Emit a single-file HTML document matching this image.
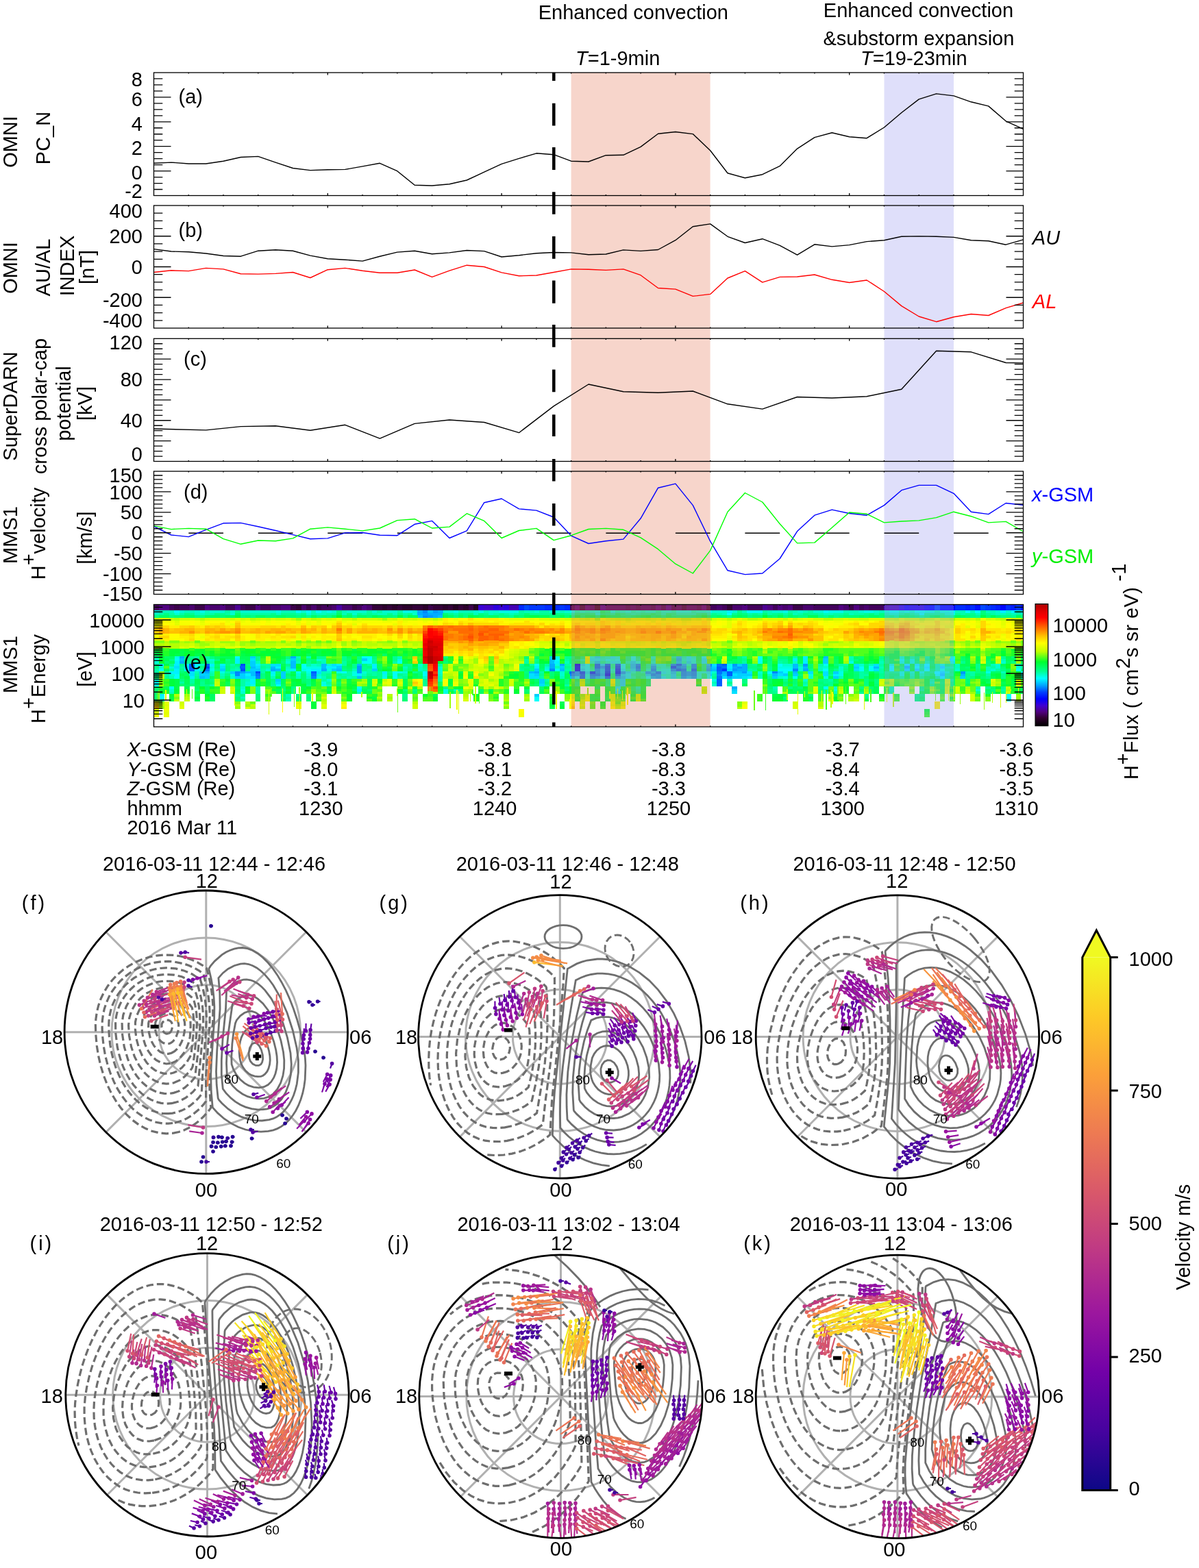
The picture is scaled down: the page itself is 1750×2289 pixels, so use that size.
<!DOCTYPE html><html><head><meta charset="utf-8"><style>html,body{margin:0;padding:0;background:#fff}svg{display:block}text{font-family:"Liberation Sans",Arial,sans-serif}</style></head><body>
<svg width="1750" height="2289" viewBox="0 0 1750 2289" font-family="Liberation Sans, Arial, sans-serif">
<rect width="1750" height="2289" fill="#fff"/>
<rect x="833.6" y="106.0" width="203.0" height="955.0" fill="#f7d5cb"/>
<rect x="1290.5" y="106.0" width="101.5" height="955.0" fill="#dfdffa"/>
<g shape-rendering="crispEdges">
<path stroke="#42005c" stroke-width="8.8" d="M224.5 886.8h7.8M246.7 886.8h7.8M261.5 886.8h15.2M328.1 886.8h15.2M350.3 886.8h7.8M379.9 886.8h15.2M468.7 886.8h15.2M520.5 886.8h7.8M831.3 886.8h2.7M1036.6 886.8h9.7M1053.3 886.8h7.8M1090.3 886.8h22.6M1127.3 886.8h7.8M1186.5 886.8h37.4M1253.1 886.8h7.8M1267.9 886.8h22.6"/>
<path stroke="#500080" stroke-width="8.8" d="M231.9 886.8h15.2M298.5 886.8h7.8M320.7 886.8h7.8M372.5 886.8h7.8M409.5 886.8h15.2M527.9 886.8h7.8M1082.9 886.8h7.8M1119.9 886.8h7.8M1134.7 886.8h7.8M1149.5 886.8h7.8M1223.5 886.8h7.8M1245.7 886.8h7.8"/>
<path stroke="#3b004b" stroke-width="8.8" d="M254.1 886.8h7.8M283.7 886.8h15.2M357.7 886.8h15.2M424.3 886.8h7.8M446.5 886.8h7.8M461.3 886.8h7.8M513.1 886.8h7.8M624.1 886.8h7.8M683.3 886.8h7.8M1156.9 886.8h15.2M1238.3 886.8h7.8"/>
<path stroke="#49006e" stroke-width="8.8" d="M276.3 886.8h7.8M305.9 886.8h15.2M394.7 886.8h15.2M439.1 886.8h7.8M453.9 886.8h7.8M483.5 886.8h7.8M498.3 886.8h15.2M535.3 886.8h7.8M1045.9 886.8h7.8M1068.1 886.8h15.2M1142.1 886.8h7.8M1171.7 886.8h15.2M1230.9 886.8h7.8M1260.5 886.8h7.8"/>
<path stroke="#4c0092" stroke-width="8.8" d="M342.9 886.8h7.8M1112.5 886.8h7.8"/>
<path stroke="#340039" stroke-width="8.8" d="M431.7 886.8h7.8M542.7 886.8h15.2M564.9 886.8h7.8M579.7 886.8h7.8M601.9 886.8h15.2M631.5 886.8h15.2M653.7 886.8h7.8M668.5 886.8h7.8M1060.7 886.8h7.8"/>
<path stroke="#4900a4" stroke-width="8.8" d="M490.9 886.8h7.8"/>
<path stroke="#2c002c" stroke-width="8.8" d="M557.5 886.8h7.8M572.3 886.8h7.8M587.1 886.8h15.2M616.7 886.8h7.8M646.3 886.8h7.8M675.9 886.8h7.8"/>
<path stroke="#250025" stroke-width="8.8" d="M661.1 886.8h7.8M690.7 886.8h7.8"/>
<path stroke="#3a00d5" stroke-width="8.8" d="M698.1 886.8h7.8M727.7 886.8h7.8"/>
<path stroke="#4200c7" stroke-width="8.8" d="M705.5 886.8h15.2"/>
<path stroke="#2d00de" stroke-width="8.8" d="M720.3 886.8h7.8M735.1 886.8h7.8"/>
<path stroke="#4500b5" stroke-width="8.8" d="M742.5 886.8h15.2M1290.1 886.8h.8"/>
<path stroke="#002dff" stroke-width="8.8" d="M757.3 886.8h7.8M794.3 886.8h22.6M823.9 886.8h7.8M1393.7 886.8h15.2M1415.9 886.8h7.8M1445.5 886.8h7.8M1467.7 886.8h7.8"/>
<path stroke="#004aff" stroke-width="8.8" d="M764.7 886.8h7.8M1430.7 886.8h7.8"/>
<path stroke="#004aff" stroke-width="4" d="M350.3 970.5h7.8M350.3 978h7.8M372.5 981.6h7.8"/>
<path stroke="#003aff" stroke-width="8.8" d="M772.1 886.8h22.6M816.5 886.8h7.8M1438.1 886.8h7.8M1482.5 886.8h7.8"/>
<path stroke="#003aff" stroke-width="4" d="M298.5 974.2h7.8M1053.3 978h7.8"/>
<path stroke="#712258" stroke-width="8.8" d="M833.6 886.8h5.5M912.7 886.8h7.8M927.5 886.8h7.8M949.7 886.8h7.8M964.5 886.8h7.8M979.3 886.8h7.8M1016.3 886.8h7.8"/>
<path stroke="#7b2272" stroke-width="8.8" d="M838.7 886.8h7.8M853.5 886.8h7.8M957.1 886.8h7.8M1023.7 886.8h7.8"/>
<path stroke="#6c224c" stroke-width="8.8" d="M846.1 886.8h7.8M994.1 886.8h7.8M1031.1 886.8h5.9"/>
<path stroke="#762265" stroke-width="8.8" d="M860.9 886.8h7.8M883.1 886.8h30M920.1 886.8h7.8M934.9 886.8h15.2M986.7 886.8h7.8M1001.5 886.8h15.2"/>
<path stroke="#682240" stroke-width="8.8" d="M868.3 886.8h7.8"/>
<path stroke="#78227e" stroke-width="8.8" d="M875.7 886.8h7.8M971.9 886.8h7.8"/>
<path stroke="#602eba" stroke-width="8.8" d="M1290.5 886.8h7.4"/>
<path stroke="#5d2ec6" stroke-width="8.8" d="M1297.5 886.8h15.2"/>
<path stroke="#4c2ee3" stroke-width="8.8" d="M1312.3 886.8h7.8M1341.9 886.8h7.8"/>
<path stroke="#3a2ef0" stroke-width="8.8" d="M1319.7 886.8h7.8M1349.3 886.8h7.8"/>
<path stroke="#432ee9" stroke-width="8.8" d="M1327.1 886.8h15.2"/>
<path stroke="#2c32fa" stroke-width="8.8" d="M1356.7 886.8h7.8M1371.5 886.8h15.2"/>
<path stroke="#2c56fa" stroke-width="8.8" d="M1364.1 886.8h7.8"/>
<path stroke="#312ef6" stroke-width="8.8" d="M1386.3 886.8h6.1"/>
<path stroke="#0600fa" stroke-width="8.8" d="M1392 886.8h2.1"/>
<path stroke="#0020ff" stroke-width="8.8" d="M1408.5 886.8h7.8M1452.9 886.8h7.8M1475.1 886.8h7.8"/>
<path stroke="#0013ff" stroke-width="8.8" d="M1423.3 886.8h7.8M1489.9 886.8h4"/>
<path stroke="#0006ff" stroke-width="8.8" d="M1460.3 886.8h7.8"/>
<path stroke="#00ffe5" stroke-width="4" d="M224.5 892.9h7.8M291.1 892.9h7.8M402.1 892.9h7.8M476.1 892.9h7.8M587.1 892.9h15.2M661.1 892.9h7.8M698.1 892.9h7.8M727.7 892.9h30M831.3 892.9h2.7M1036.6 892.9h2.3M1142.1 892.9h7.8M1208.7 892.9h22.6M1260.5 892.9h15.2M1290.1 892.9h.8M1489.9 892.9h4M1392 896.5h2.1M254.1 959.5h7.8M809.1 959.5h7.8M579.7 963.1h7.8M1392 963.1h2.1M1238.3 966.9h7.8M809.1 970.5h7.8M446.5 974.2h22.6M1134.7 974.2h22.6M305.9 978h7.8M439.1 978h7.8M476.1 978h7.8M794.3 978h7.8M320.7 981.6h7.8M446.5 981.6h7.8M490.9 981.6h7.8M513.1 981.6h7.8M579.7 981.6h7.8M1223.5 981.6h7.8M1438.1 981.6h7.8M335.5 985.4h7.8M394.7 985.4h7.8M513.1 985.4h7.8M557.5 985.4h7.8M1179.1 985.4h7.8M1223.5 985.4h7.8M1489.9 985.4h4M461.3 989h7.8M557.5 989h7.8M1142.1 989h7.8M1201.3 989h7.8M224.5 992.8h7.8M1038.5 992.8h7.8M468.7 996.5h7.8M224.5 1000.1h7.8M365.1 1000.1h7.8M468.7 1000.1h7.8M350.3 1007.5h7.8M646.3 1007.5h7.8M1216.1 1007.5h7.8M646.3 1011.2h7.8"/>
<path stroke="#00ffba" stroke-width="4" d="M231.9 892.9h22.6M268.9 892.9h15.2M298.5 892.9h7.8M409.5 892.9h22.6M453.9 892.9h7.8M498.3 892.9h7.8M668.5 892.9h22.6M705.5 892.9h7.8M764.7 892.9h15.2M816.5 892.9h7.8M1082.9 892.9h7.8M1119.9 892.9h7.8M1156.9 892.9h7.8M1171.7 892.9h7.8M1230.9 892.9h22.6M1282.7 892.9h7.8M1393.7 892.9h15.2M1415.9 892.9h7.8M1438.1 892.9h15.2M1482.5 892.9h7.8M224.5 896.5h7.8M283.7 896.5h15.2M402.1 896.5h7.8M461.3 896.5h15.2M498.3 896.5h7.8M550.1 896.5h15.2M572.3 896.5h7.8M690.7 896.5h7.8M712.9 896.5h7.8M742.5 896.5h7.8M1053.3 896.5h7.8M1156.9 896.5h7.8M1201.3 896.5h15.2M1238.3 896.5h7.8M1423.3 896.5h7.8M1452.9 896.5h15.2M1475.1 896.5h7.8M1489.9 896.5h4M431.7 959.5h7.8M446.5 959.5h7.8M579.7 959.5h7.8M1238.3 959.5h7.8M298.5 963.1h7.8M416.9 963.1h7.8M468.7 963.1h7.8M1238.3 963.1h7.8M1460.3 963.1h7.8M283.7 966.9h7.8M305.9 966.9h7.8M372.5 966.9h7.8M431.7 966.9h7.8M468.7 966.9h7.8M823.9 966.9h7.8M1282.7 966.9h7.8M291.1 970.5h7.8M461.3 970.5h7.8M831.3 970.5h2.7M1267.9 970.5h7.8M1393.7 970.5h7.8M1445.5 970.5h7.8M416.9 974.2h7.8M587.1 974.2h7.8M609.3 974.2h7.8M809.1 974.2h7.8M1193.9 974.2h7.8M1282.7 974.2h7.8M1393.7 974.2h7.8M1438.1 974.2h7.8M342.9 978h7.8M513.1 978h7.8M609.3 978h7.8M831.3 978h2.7M1193.9 978h7.8M1438.1 978h7.8M283.7 981.6h7.8M305.9 981.6h7.8M468.7 981.6h15.2M1460.3 981.6h7.8M320.7 985.4h7.8M527.9 985.4h7.8M638.9 985.4h7.8M1105.1 985.4h7.8M1119.9 985.4h7.8M246.7 989h7.8M394.7 989h7.8M431.7 989h7.8M446.5 989h7.8M468.7 989h7.8M505.7 989h7.8M816.5 989h7.8M1105.1 989h7.8M1223.5 989h7.8M357.7 992.8h7.8M1038.5 996.5h7.8M476.1 1000.1h7.8M1060.7 1000.1h7.8M1171.7 1000.1h7.8M1127.3 1003.9h7.8M661.1 1007.5h7.8M246.7 1011.2h7.8M520.5 1011.2h7.8M1201.3 1011.2h7.8M1216.1 1011.2h7.8M416.9 1015h7.8M350.3 1018.6h7.8M416.9 1022.4h7.8"/>
<path stroke="#00fffa" stroke-width="4" d="M254.1 892.9h7.8M431.7 892.9h7.8M446.5 892.9h7.8M461.3 892.9h7.8M1090.3 892.9h22.6M1201.3 892.9h7.8M1408.5 892.9h7.8M1423.3 892.9h7.8M1475.1 892.9h7.8M1060.7 896.5h7.8M342.9 959.5h7.8M527.9 959.5h15.2M1105.1 959.5h7.8M1392 959.5h2.1M254.1 963.1h7.8M535.3 963.1h7.8M809.1 963.1h7.8M1105.1 963.1h7.8M527.9 966.9h15.2M579.7 966.9h7.8M1105.1 966.9h7.8M283.7 970.5h7.8M439.1 970.5h7.8M779.5 970.5h7.8M1134.7 970.5h7.8M1201.3 970.5h7.8M283.7 974.2h7.8M439.1 974.2h7.8M1253.1 974.2h7.8M1267.9 974.2h7.8M231.9 978h7.8M446.5 978h7.8M809.1 978h7.8M1134.7 978h22.6M1201.3 978h7.8M1253.1 978h7.8M1267.9 978h7.8M1482.5 978h7.8M431.7 981.6h7.8M498.3 981.6h7.8M572.3 981.6h7.8M616.7 981.6h7.8M1119.9 981.6h7.8M1142.1 981.6h7.8M1489.9 981.6h4M254.1 985.4h7.8M572.3 985.4h7.8M616.7 985.4h7.8M254.1 989h7.8M572.3 989h7.8M1036.6 989h2.3M1156.9 989h7.8M224.5 996.5h7.8M402.1 1000.1h7.8M246.7 1003.9h7.8M520.5 1003.9h7.8M1201.3 1003.9h7.8M1467.7 1015h7.8M231.9 1018.6h7.8M779.5 1018.6h7.8M1467.7 1018.6h7.8M779.5 1022.4h7.8M1467.7 1022.4h7.8"/>
<path stroke="#00ffcf" stroke-width="4" d="M261.5 892.9h7.8M283.7 892.9h7.8M305.9 892.9h22.6M335.5 892.9h7.8M350.3 892.9h52.2M439.1 892.9h7.8M468.7 892.9h7.8M483.5 892.9h7.8M505.7 892.9h30M542.7 892.9h7.8M557.5 892.9h22.6M601.9 892.9h7.8M646.3 892.9h15.2M690.7 892.9h7.8M712.9 892.9h15.2M779.5 892.9h7.8M801.7 892.9h15.2M823.9 892.9h7.8M1038.5 892.9h22.6M1068.1 892.9h7.8M1127.3 892.9h15.2M1164.3 892.9h7.8M1186.5 892.9h15.2M1253.1 892.9h7.8M1275.3 892.9h7.8M1452.9 892.9h7.8M1467.7 892.9h7.8M254.1 896.5h7.8M335.5 896.5h7.8M446.5 896.5h7.8M513.1 896.5h7.8M601.9 896.5h7.8M224.5 963.1h7.8M305.9 963.1h7.8M461.3 963.1h7.8M224.5 966.9h7.8M416.9 966.9h7.8M1156.9 966.9h7.8M1460.3 966.9h7.8M453.9 970.5h7.8M476.1 970.5h7.8M609.3 970.5h7.8M1142.1 970.5h15.2M1253.1 970.5h7.8M1452.9 970.5h7.8M1482.5 970.5h7.8M231.9 974.2h7.8M246.7 974.2h7.8M305.9 974.2h7.8M638.9 974.2h7.8M794.3 974.2h7.8M1164.3 974.2h7.8M1201.3 974.2h7.8M1223.5 974.2h7.8M1452.9 974.2h7.8M1482.5 974.2h7.8M387.3 978h7.8M416.9 978h7.8M638.9 978h7.8M1164.3 978h7.8M1223.5 978h7.8M1393.7 978h7.8M1445.5 978h7.8M527.9 981.6h7.8M587.1 981.6h7.8M638.9 981.6h7.8M816.5 981.6h7.8M1038.5 981.6h7.8M1105.1 981.6h7.8M246.7 985.4h7.8M431.7 985.4h7.8M446.5 985.4h7.8M461.3 985.4h7.8M816.5 985.4h7.8M335.5 989h7.8M616.7 989h7.8M1134.7 989h7.8M1179.1 989h7.8M476.1 992.8h7.8M1060.7 992.8h7.8M1171.7 992.8h7.8M357.7 996.5h7.8M357.7 1000.1h7.8M1038.5 1000.1h7.8M350.3 1003.9h7.8M1216.1 1003.9h7.8M246.7 1007.5h7.8M1423.3 1007.5h7.8M350.3 1011.2h7.8M231.9 1022.4h7.8"/>
<path stroke="#00ffa5" stroke-width="4" d="M328.1 892.9h7.8M535.3 892.9h7.8M550.1 892.9h7.8M579.7 892.9h7.8M757.3 892.9h7.8M786.9 892.9h15.2M1112.5 892.9h7.8M1149.5 892.9h7.8M1179.1 892.9h7.8M231.9 896.5h7.8M246.7 896.5h7.8M261.5 896.5h7.8M298.5 896.5h15.2M328.1 896.5h7.8M350.3 896.5h44.8M431.7 896.5h7.8M453.9 896.5h7.8M476.1 896.5h15.2M527.9 896.5h7.8M542.7 896.5h7.8M587.1 896.5h7.8M661.1 896.5h7.8M720.3 896.5h7.8M735.1 896.5h7.8M749.9 896.5h7.8M831.3 896.5h2.7M1036.6 896.5h2.3M1045.9 896.5h7.8M1090.3 896.5h7.8M1105.1 896.5h7.8M1119.9 896.5h7.8M1142.1 896.5h7.8M1164.3 896.5h7.8M1193.9 896.5h7.8M1216.1 896.5h15.2M1245.7 896.5h15.2M1275.3 896.5h7.8M1290.1 896.5h.8M1401.1 896.5h7.8M1445.5 896.5h7.8M1467.7 896.5h7.8M1482.5 896.5h7.8M224.5 959.5h7.8M283.7 959.5h7.8M298.5 959.5h7.8M1082.9 959.5h7.8M1156.9 959.5h7.8M431.7 963.1h7.8M764.7 963.1h7.8M823.9 963.1h7.8M1282.7 963.1h7.8M276.3 966.9h7.8M498.3 966.9h7.8M572.3 966.9h7.8M764.7 966.9h7.8M1082.9 966.9h7.8M1134.7 966.9h7.8M224.5 970.5h7.8M335.5 970.5h7.8M379.9 970.5h15.2M446.5 970.5h7.8M498.3 970.5h7.8M535.3 970.5h7.8M638.9 970.5h7.8M772.1 970.5h7.8M794.3 970.5h7.8M823.9 970.5h7.8M1164.3 970.5h7.8M1193.9 970.5h7.8M1223.5 970.5h15.2M1282.7 970.5h7.8M261.5 974.2h7.8M342.9 974.2h7.8M387.3 974.2h7.8M831.3 974.2h2.7M1445.5 974.2h7.8M1489.9 974.2h4M224.5 978h7.8M246.7 978h7.8M291.1 978h7.8M335.5 978h7.8M379.9 978h7.8M535.3 978h7.8M587.1 978h7.8M616.7 978h7.8M823.9 978h7.8M1090.3 978h7.8M1282.7 978h7.8M1452.9 978h7.8M224.5 981.6h7.8M239.3 981.6h7.8M328.1 981.6h7.8M379.9 981.6h7.8M416.9 981.6h7.8M505.7 981.6h7.8M535.3 981.6h15.2M786.9 981.6h7.8M1253.1 981.6h7.8M1282.7 981.6h7.8M1408.5 981.6h15.2M224.5 985.4h7.8M239.3 985.4h7.8M283.7 985.4h7.8M305.9 985.4h7.8M468.7 985.4h7.8M498.3 985.4h15.2M542.7 985.4h7.8M587.1 985.4h7.8M1038.5 985.4h7.8M1253.1 985.4h15.2M1415.9 985.4h7.8M1438.1 985.4h7.8M320.7 989h7.8M490.9 989h7.8M513.1 989h7.8M579.7 989h7.8M638.9 989h7.8M786.9 989h7.8M1253.1 989h7.8M1489.9 989h4M276.3 992.8h7.8M350.3 992.8h7.8M468.7 992.8h7.8M638.9 992.8h7.8M794.3 992.8h7.8M1208.7 992.8h7.8M261.5 996.5h7.8M276.3 996.5h7.8M350.3 996.5h7.8M476.1 996.5h7.8M1171.7 996.5h7.8M305.9 1000.1h7.8M350.3 1000.1h7.8M794.3 1000.1h7.8M823.9 1000.1h7.8M372.5 1003.9h7.8M1423.3 1003.9h7.8M372.5 1007.5h7.8M1127.3 1007.5h7.8M1201.3 1007.5h7.8M1460.3 1007.5h7.8M372.5 1011.2h7.8M416.9 1018.6h7.8"/>
<path stroke="#00ff90" stroke-width="4" d="M342.9 892.9h7.8M1075.5 892.9h7.8M276.3 896.5h7.8M320.7 896.5h7.8M394.7 896.5h7.8M409.5 896.5h22.6M439.1 896.5h7.8M520.5 896.5h7.8M535.3 896.5h7.8M564.9 896.5h7.8M594.5 896.5h7.8M653.7 896.5h7.8M675.9 896.5h7.8M705.5 896.5h7.8M727.7 896.5h7.8M757.3 896.5h7.8M772.1 896.5h37.4M823.9 896.5h7.8M1038.5 896.5h7.8M1068.1 896.5h7.8M1097.7 896.5h7.8M1127.3 896.5h7.8M1179.1 896.5h15.2M1230.9 896.5h7.8M1260.5 896.5h7.8M1393.7 896.5h7.8M1408.5 896.5h15.2M1438.1 896.5h7.8M446.5 900.2h7.8M513.1 900.2h7.8M742.5 900.2h7.8M1060.7 900.2h7.8M1201.3 900.2h7.8M1216.1 900.2h7.8M1423.3 900.2h7.8M1475.1 900.2h7.8M276.3 959.5h7.8M372.5 959.5h7.8M461.3 959.5h15.2M498.3 959.5h7.8M572.3 959.5h7.8M823.9 959.5h10.1M1282.7 959.5h7.8M1460.3 959.5h7.8M283.7 963.1h7.8M372.5 963.1h7.8M498.3 963.1h7.8M520.5 963.1h7.8M542.7 963.1h7.8M572.3 963.1h7.8M779.5 963.1h7.8M1082.9 963.1h7.8M1134.7 963.1h15.2M268.9 966.9h7.8M298.5 966.9h7.8M446.5 966.9h7.8M461.3 966.9h7.8M542.7 966.9h7.8M1142.1 966.9h7.8M1401.1 966.9h7.8M246.7 970.5h7.8M261.5 970.5h7.8M416.9 970.5h7.8M513.1 970.5h7.8M587.1 970.5h15.2M757.3 970.5h7.8M1097.7 970.5h7.8M1423.3 970.5h7.8M335.5 974.2h7.8M379.9 974.2h7.8M513.1 974.2h7.8M527.9 974.2h7.8M616.7 974.2h7.8M823.9 974.2h7.8M1119.9 974.2h7.8M1230.9 974.2h7.8M1392 974.2h2.1M1423.3 974.2h7.8M261.5 978h7.8M527.9 978h7.8M757.3 978h7.8M772.1 978h7.8M1097.7 978h7.8M1119.9 978h7.8M1179.1 978h7.8M1216.1 978h7.8M1392 978h2.1M439.1 981.6h7.8M550.1 981.6h7.8M601.9 981.6h7.8M1260.5 981.6h7.8M476.1 985.4h7.8M490.9 985.4h7.8M535.3 985.4h7.8M550.1 985.4h7.8M579.7 985.4h7.8M786.9 985.4h7.8M1208.7 985.4h7.8M1282.7 985.4h7.8M1408.5 985.4h7.8M1460.3 985.4h7.8M239.3 989h7.8M283.7 989h7.8M498.3 989h7.8M527.9 989h7.8M550.1 989h7.8M587.1 989h7.8M1038.5 989h7.8M1119.9 989h7.8M1282.7 989h7.8M1408.5 989h7.8M1438.1 989h7.8M1460.3 989h7.8M616.7 992.8h7.8M1142.1 992.8h7.8M1201.3 992.8h7.8M291.1 996.5h7.8M394.7 996.5h7.8M616.7 996.5h7.8M1060.7 996.5h7.8M1201.3 996.5h15.2M291.1 1000.1h7.8M394.7 1000.1h7.8M446.5 1000.1h7.8M616.7 1000.1h7.8M1208.7 1000.1h7.8M1438.1 1003.9h7.8M1460.3 1003.9h7.8M1127.3 1011.2h7.8M1253.1 1011.2h7.8M1423.3 1011.2h7.8M1460.3 1011.2h7.8M342.9 1015h7.8M587.1 1015h7.8M1260.5 1015h7.8M350.3 1022.4h7.8"/>
<path stroke="#00ff82" stroke-width="4" d="M490.9 892.9h7.8M1430.7 892.9h7.8M239.3 896.5h7.8M268.9 896.5h7.8M313.3 896.5h7.8M505.7 896.5h7.8M579.7 896.5h7.8M668.5 896.5h7.8M683.3 896.5h7.8M698.1 896.5h7.8M809.1 896.5h15.2M1082.9 896.5h7.8M1134.7 896.5h7.8M1149.5 896.5h7.8M1171.7 896.5h7.8M1267.9 896.5h7.8M1282.7 896.5h7.8M224.5 900.2h7.8M246.7 900.2h7.8M283.7 900.2h15.2M350.3 900.2h7.8M365.1 900.2h7.8M431.7 900.2h7.8M461.3 900.2h7.8M476.1 900.2h7.8M572.3 900.2h7.8M587.1 900.2h7.8M661.1 900.2h7.8M675.9 900.2h7.8M727.7 900.2h15.2M1090.3 900.2h7.8M1142.1 900.2h7.8M1164.3 900.2h15.2M1193.9 900.2h7.8M1223.5 900.2h7.8M1392 900.2h2.1M1415.9 900.2h7.8M1460.3 900.2h15.2M1489.9 900.2h4M268.9 959.5h7.8M305.9 959.5h7.8M416.9 959.5h7.8M520.5 959.5h7.8M542.7 959.5h7.8M646.3 959.5h7.8M246.7 963.1h7.8M268.9 963.1h15.2M313.3 963.1h7.8M328.1 963.1h7.8M446.5 963.1h7.8M831.3 963.1h2.7M1245.7 963.1h7.8M520.5 966.9h7.8M779.5 966.9h7.8M831.3 966.9h2.7M1119.9 966.9h7.8M1475.1 966.9h7.8M328.1 970.5h7.8M342.9 970.5h7.8M357.7 970.5h7.8M527.9 970.5h7.8M616.7 970.5h7.8M1090.3 970.5h7.8M1119.9 970.5h7.8M1216.1 970.5h7.8M1260.5 970.5h7.8M1392 970.5h2.1M1489.9 970.5h4M224.5 974.2h7.8M291.1 974.2h7.8M535.3 974.2h7.8M594.5 974.2h7.8M757.3 974.2h22.6M1090.3 974.2h15.2M313.3 978h7.8M357.7 978h7.8M498.3 978h7.8M1230.9 978h7.8M1260.5 978h7.8M1423.3 978h7.8M1460.3 978h7.8M564.9 981.6h7.8M609.3 981.6h7.8M764.7 981.6h7.8M801.7 981.6h7.8M1245.7 981.6h7.8M1275.3 981.6h7.8M1423.3 981.6h7.8M328.1 985.4h7.8M379.9 985.4h7.8M1164.3 985.4h7.8M1290.1 985.4h.8M224.5 989h7.8M379.9 989h7.8M416.9 989h7.8M476.1 989h7.8M1415.9 989h7.8M261.5 992.8h7.8M291.1 992.8h7.8M305.9 992.8h7.8M394.7 992.8h7.8M446.5 992.8h7.8M823.9 992.8h7.8M1082.9 992.8h7.8M1193.9 992.8h7.8M1260.5 992.8h7.8M1275.3 992.8h7.8M446.5 996.5h7.8M794.3 996.5h7.8M823.9 996.5h7.8M1082.9 996.5h7.8M1260.5 996.5h7.8M1275.3 996.5h7.8M276.3 1000.1h7.8M298.5 1000.1h7.8M1142.1 1000.1h7.8M1156.9 1000.1h7.8M1193.9 1000.1h7.8M1260.5 1000.1h7.8M424.3 1003.9h7.8M646.3 1003.9h7.8M1149.5 1003.9h7.8M1253.1 1003.9h7.8M409.5 1007.5h7.8M424.3 1007.5h7.8M587.1 1007.5h7.8M601.9 1007.5h7.8M1119.9 1007.5h7.8M1445.5 1007.5h7.8M424.3 1011.2h7.8M661.1 1011.2h7.8M1119.9 1011.2h7.8M1267.9 1011.2h7.8M350.3 1015h7.8M431.7 1015h7.8M446.5 1015h7.8M409.5 1018.6h7.8M587.1 1018.6h7.8M1142.1 1018.6h7.8M1260.5 1018.6h7.8M224.5 1022.4h7.8"/>
<path stroke="#00adff" stroke-width="4" d="M609.3 892.9h7.8M638.9 892.9h7.8M609.3 896.5h7.8M624.1 896.5h22.6M631.5 900.2h7.8M261.5 959.5h7.8M424.3 959.5h7.8M261.5 966.9h7.8M801.7 970.5h7.8M816.5 970.5h7.8M1082.9 970.5h7.8M801.7 974.2h7.8M1036.6 974.2h2.3M1068.1 974.2h7.8M1082.9 974.2h7.8M394.7 978h7.8M468.7 978h7.8M1036.6 978h2.3M1075.5 978h15.2M1171.7 978h7.8M298.5 981.6h7.8M779.5 981.6h7.8M1053.3 981.6h7.8M1060.7 989h7.8M1068.1 1003.9h7.8"/>
<path stroke="#0087ff" stroke-width="4" d="M616.7 892.9h7.8M616.7 900.2h7.8M1036.6 970.5h2.3M801.7 978h7.8M1156.9 978h7.8M342.9 981.6h7.8M1127.3 981.6h7.8M342.9 985.4h7.8M831.3 985.4h2.7M1045.9 985.4h7.8M372.5 989h7.8M453.9 989h7.8"/>
<path stroke="#00beff" stroke-width="4" d="M624.1 892.9h7.8M609.3 900.2h7.8M638.9 900.2h7.8M1201.3 959.5h7.8M261.5 963.1h7.8M801.7 963.1h7.8M424.3 966.9h7.8M801.7 966.9h7.8M424.3 970.5h7.8M468.7 970.5h7.8M520.5 970.5h7.8M1156.9 970.5h7.8M365.1 974.2h7.8M394.7 974.2h7.8M424.3 974.2h7.8M468.7 974.2h7.8M1156.9 974.2h7.8M1171.7 974.2h7.8M1275.3 974.2h7.8M402.1 978h7.8M490.9 978h7.8M816.5 978h7.8M1038.5 978h7.8M291.1 981.6h7.8M357.7 981.6h15.2M772.1 981.6h7.8M1068.1 981.6h15.2M1156.9 981.6h7.8M365.1 985.4h7.8M1053.3 985.4h7.8M1127.3 985.4h7.8M1401.1 985.4h7.8M291.1 989h7.8M520.5 989h7.8M831.3 989h2.7"/>
<path stroke="#009bff" stroke-width="4" d="M631.5 892.9h7.8M616.7 896.5h7.8M624.1 900.2h7.8M1068.1 970.5h7.8M1171.7 970.5h7.8M520.5 974.2h7.8M1075.5 974.2h7.8M520.5 978h7.8M1068.1 978h7.8M350.3 981.6h7.8M520.5 981.6h7.8M1082.9 981.6h7.8M1401.1 981.6h7.8"/>
<path stroke="#43d4c7" stroke-width="4" d="M833.6 892.9h5.5M920.1 959.5h7.8M1023.7 959.5h7.8M883.1 963.1h7.8M897.9 963.1h7.8M920.1 963.1h7.8M853.5 970.5h7.8M905.3 970.5h7.8M853.5 974.2h7.8M905.3 974.2h7.8M853.5 978h7.8M1031.1 985.4h5.9M942.3 989h7.8M1031.1 989h5.9"/>
<path stroke="#43d49a" stroke-width="4" d="M838.7 892.9h7.8M853.5 892.9h7.8M897.9 892.9h7.8M920.1 892.9h7.8M934.9 892.9h7.8M979.3 892.9h7.8M1008.9 892.9h7.8M833.6 896.5h5.5M920.1 896.5h7.8M964.5 896.5h7.8M986.7 896.5h30M1031.1 896.5h5.9M875.7 959.5h7.8M994.1 959.5h7.8M846.1 963.1h7.8M949.7 963.1h7.8M912.7 966.9h7.8M994.1 966.9h7.8M957.1 974.2h7.8M971.9 974.2h7.8M1001.5 978h7.8M890.5 981.6h7.8M934.9 981.6h7.8M920.1 989h7.8M986.7 989h7.8M927.5 1003.9h7.8"/>
<path stroke="#43d4a9" stroke-width="4" d="M846.1 892.9h7.8M860.9 892.9h7.8M905.3 892.9h7.8M927.5 892.9h7.8M942.3 892.9h15.2M964.5 892.9h15.2M1016.3 892.9h15.2M883.1 959.5h7.8M949.7 959.5h7.8M1008.9 959.5h7.8M875.7 963.1h7.8M994.1 963.1h7.8M860.9 966.9h7.8M883.1 966.9h7.8M949.7 966.9h7.8M957.1 970.5h15.2M1001.5 970.5h7.8M964.5 974.2h7.8M890.5 978h7.8M942.3 978h7.8M957.1 978h7.8M920.1 981.6h7.8M964.5 985.4h15.2M971.9 989h7.8"/>
<path stroke="#43d4b8" stroke-width="4" d="M868.3 892.9h7.8M890.5 892.9h7.8M912.7 892.9h7.8M986.7 892.9h22.6M1031.1 892.9h5.9M868.3 896.5h7.8M860.9 959.5h7.8M897.9 959.5h7.8M890.5 963.1h7.8M1008.9 963.1h7.8M927.5 966.9h7.8M1008.9 966.9h7.8M964.5 978h15.2M971.9 981.6h7.8M1016.3 981.6h15.2M853.5 985.4h7.8M1016.3 985.4h7.8M853.5 989h7.8M1016.3 989h7.8M897.9 1007.5h7.8"/>
<path stroke="#43d469" stroke-width="4" d="M875.7 892.9h7.8M897.9 896.5h7.8M949.7 896.5h7.8M846.1 900.2h7.8M905.3 900.2h7.8M920.1 900.2h7.8M949.7 900.2h7.8M979.3 900.2h7.8M1008.9 900.2h7.8M1031.1 900.2h5.9M833.6 963.1h5.5M1016.3 966.9h7.8M934.9 978h7.8M942.3 992.8h7.8M942.3 1000.1h7.8M920.1 1003.9h7.8M920.1 1007.5h7.8"/>
<path stroke="#43d47d" stroke-width="4" d="M883.1 892.9h7.8M860.9 896.5h7.8M883.1 896.5h7.8M905.3 896.5h7.8M934.9 896.5h15.2M957.1 896.5h7.8M979.3 896.5h7.8M1016.3 896.5h7.8M833.6 900.2h5.5M912.7 959.5h7.8M927.5 959.5h7.8M912.7 963.1h7.8M846.1 966.9h7.8M912.7 970.5h7.8M971.9 970.5h7.8M1023.7 970.5h7.8M860.9 974.2h7.8M1023.7 974.2h7.8M927.5 981.6h7.8M927.5 985.4h15.2M986.7 985.4h7.8M1023.7 985.4h7.8M1023.7 989h7.8M883.1 1000.1h7.8M927.5 1011.2h7.8"/>
<path stroke="#43d48c" stroke-width="4" d="M957.1 892.9h7.8M890.5 896.5h7.8M912.7 896.5h7.8M927.5 896.5h7.8M979.3 959.5h7.8M927.5 963.1h7.8M875.7 966.9h7.8M890.5 970.5h7.8M942.3 970.5h7.8M833.6 974.2h5.5M890.5 974.2h7.8M942.3 974.2h7.8M1001.5 974.2h7.8M833.6 978h5.5M860.9 978h7.8M912.7 978h7.8M986.7 981.6h7.8M920.1 985.4h7.8M934.9 989h7.8M897.9 992.8h7.8M897.9 996.5h7.8M897.9 1000.1h7.8M927.5 1007.5h7.8"/>
<path stroke="#00f2ff" stroke-width="4" d="M1060.7 892.9h7.8M1392 892.9h2.1M1460.3 892.9h7.8M1171.7 959.5h7.8M342.9 963.1h7.8M1156.9 963.1h7.8M1171.7 963.1h7.8M254.1 966.9h7.8M342.9 966.9h7.8M809.1 966.9h7.8M1171.7 966.9h7.8M231.9 970.5h7.8M254.1 970.5h7.8M268.9 970.5h7.8M305.9 970.5h7.8M320.7 970.5h7.8M372.5 970.5h7.8M490.9 970.5h7.8M542.7 970.5h7.8M1060.7 970.5h7.8M402.1 974.2h7.8M476.1 974.2h15.2M542.7 974.2h7.8M779.5 974.2h7.8M1060.7 974.2h7.8M254.1 978h7.8M268.9 978h7.8M283.7 978h7.8M424.3 978h7.8M453.9 978h15.2M246.7 981.6h15.2M394.7 981.6h7.8M557.5 981.6h7.8M357.7 985.4h7.8M520.5 985.4h7.8M1216.1 985.4h7.8M276.3 989h7.8M1090.3 989h7.8M365.1 992.8h7.8M365.1 996.5h7.8M520.5 1007.5h7.8M231.9 1015h7.8"/>
<path stroke="#2ce0d8" stroke-width="4" d="M1290.5 892.9h7.4M1319.7 892.9h7.8M1349.3 892.9h15.2M1371.5 892.9h15.2M1386.3 896.5h6.1M1386.3 959.5h6.1M1327.1 963.1h7.8M1312.3 966.9h7.8M1327.1 966.9h7.8M1386.3 966.9h6.1M1297.5 970.5h7.8M1371.5 970.5h7.8M1312.3 981.6h7.8M1341.9 981.6h7.8M1312.3 985.4h7.8"/>
<path stroke="#2ce0e8" stroke-width="4" d="M1297.5 892.9h15.2M1334.5 892.9h15.2M1386.3 892.9h6.1M1341.9 896.5h7.8M1312.3 963.1h7.8M1371.5 978h7.8M1364.1 985.4h7.8"/>
<path stroke="#2ce0ca" stroke-width="4" d="M1312.3 892.9h7.8M1327.1 892.9h7.8M1297.5 896.5h15.2M1378.9 896.5h7.8M1312.3 959.5h7.8M1327.1 981.6h7.8M1378.9 981.6h7.8"/>
<path stroke="#2ce0bb" stroke-width="4" d="M1364.1 892.9h7.8M1290.5 896.5h7.4M1334.5 896.5h7.8M1349.3 966.9h7.8M1364.1 970.5h7.8M1364.1 974.2h7.8M1378.9 974.2h13.5M1364.1 978h7.8M1327.1 985.4h7.8M1341.9 985.4h7.8M1356.7 996.5h7.8M1297.5 1003.9h7.8M1297.5 1007.5h7.8"/>
<path stroke="#00ff65" stroke-width="4" d="M342.9 896.5h7.8M490.9 896.5h7.8M231.9 900.2h15.2M268.9 900.2h15.2M298.5 900.2h22.6M328.1 900.2h15.2M372.5 900.2h15.2M402.1 900.2h15.2M453.9 900.2h7.8M483.5 900.2h7.8M505.7 900.2h7.8M520.5 900.2h15.2M550.1 900.2h7.8M601.9 900.2h7.8M653.7 900.2h7.8M668.5 900.2h7.8M698.1 900.2h7.8M712.9 900.2h15.2M749.9 900.2h7.8M809.1 900.2h7.8M1045.9 900.2h7.8M1068.1 900.2h7.8M1082.9 900.2h7.8M1119.9 900.2h7.8M1149.5 900.2h7.8M1253.1 900.2h7.8M1267.9 900.2h15.2M1401.1 900.2h7.8M557.5 955.8h7.8M239.3 959.5h15.2M313.3 959.5h7.8M505.7 959.5h7.8M779.5 959.5h7.8M1245.7 959.5h7.8M1401.1 959.5h7.8M335.5 963.1h7.8M350.3 963.1h7.8M409.5 963.1h7.8M646.3 963.1h7.8M1068.1 963.1h7.8M1216.1 963.1h7.8M1253.1 963.1h7.8M1438.1 963.1h7.8M246.7 966.9h7.8M335.5 966.9h7.8M350.3 966.9h15.2M453.9 966.9h7.8M505.7 966.9h7.8M1068.1 966.9h7.8M1149.5 966.9h7.8M1216.1 966.9h7.8M1245.7 966.9h15.2M1290.1 966.9h.8M1467.7 966.9h7.8M550.1 970.5h7.8M764.7 970.5h7.8M786.9 970.5h7.8M313.3 974.2h7.8M505.7 974.2h7.8M550.1 974.2h7.8M786.9 974.2h7.8M1216.1 974.2h7.8M1401.1 974.2h7.8M1208.7 978h7.8M1401.1 978h15.2M1467.7 978h7.8M268.9 981.6h7.8M1149.5 981.6h7.8M1164.3 981.6h7.8M1230.9 981.6h7.8M1392 981.6h2.1M1445.5 981.6h15.2M268.9 985.4h7.8M402.1 985.4h7.8M1423.3 985.4h15.2M261.5 989h7.8M305.9 989h7.8M328.1 989h7.8M424.3 989h7.8M609.3 989h7.8M801.7 989h7.8M1149.5 989h7.8M1164.3 989h7.8M1290.1 989h.8M1392 989h2.1M298.5 992.8h7.8M1119.9 992.8h7.8M298.5 996.5h7.8M439.1 996.5h7.8M638.9 996.5h7.8M779.5 996.5h7.8M1119.9 996.5h7.8M1216.1 996.5h7.8M1438.1 996.5h7.8M268.9 1000.1h7.8M283.7 1000.1h7.8M409.5 1000.1h7.8M490.9 1000.1h7.8M638.9 1000.1h7.8M772.1 1000.1h7.8M283.7 1003.9h7.8M298.5 1003.9h7.8M342.9 1003.9h7.8M527.9 1003.9h7.8M823.9 1003.9h7.8M1156.9 1003.9h7.8M1445.5 1003.9h7.8M1489.9 1003.9h4M224.5 1007.5h7.8M298.5 1007.5h7.8M513.1 1007.5h7.8M653.7 1007.5h7.8M698.1 1007.5h7.8M786.9 1007.5h7.8M1156.9 1007.5h7.8M1193.9 1007.5h7.8M1253.1 1007.5h7.8M1267.9 1007.5h7.8M1438.1 1007.5h7.8M1489.9 1007.5h4M342.9 1011.2h7.8M409.5 1011.2h7.8M587.1 1011.2h7.8M698.1 1011.2h7.8M764.7 1011.2h7.8M1193.9 1011.2h7.8M1489.9 1011.2h4M305.9 1015h7.8M1216.1 1015h7.8M305.9 1018.6h7.8M431.7 1018.6h7.8M305.9 1022.4h7.8M372.5 1022.4h7.8M409.5 1022.4h7.8M431.7 1022.4h7.8M1142.1 1022.4h7.8"/>
<path stroke="#00ff74" stroke-width="4" d="M646.3 896.5h7.8M764.7 896.5h7.8M1075.5 896.5h7.8M1112.5 896.5h7.8M1430.7 896.5h7.8M254.1 900.2h15.2M320.7 900.2h7.8M357.7 900.2h7.8M387.3 900.2h15.2M416.9 900.2h15.2M439.1 900.2h7.8M468.7 900.2h7.8M498.3 900.2h7.8M535.3 900.2h7.8M557.5 900.2h15.2M705.5 900.2h7.8M757.3 900.2h7.8M801.7 900.2h7.8M823.9 900.2h7.8M1036.6 900.2h9.7M1053.3 900.2h7.8M1097.7 900.2h15.2M1127.3 900.2h7.8M1156.9 900.2h7.8M1208.7 900.2h7.8M1230.9 900.2h22.6M1260.5 900.2h7.8M1282.7 900.2h8.2M1408.5 900.2h7.8M1438.1 900.2h7.8M1452.9 900.2h7.8M764.7 959.5h7.8M1075.5 959.5h7.8M1119.9 959.5h7.8M1134.7 959.5h15.2M1253.1 959.5h7.8M1475.1 959.5h7.8M453.9 963.1h7.8M505.7 963.1h7.8M1075.5 963.1h7.8M1119.9 963.1h7.8M1401.1 963.1h7.8M239.3 966.9h7.8M328.1 966.9h7.8M409.5 966.9h7.8M646.3 966.9h7.8M1060.7 966.9h7.8M1075.5 966.9h7.8M1438.1 966.9h7.8M313.3 970.5h7.8M1179.1 970.5h7.8M1438.1 970.5h7.8M328.1 974.2h7.8M357.7 974.2h7.8M498.3 974.2h7.8M1105.1 974.2h7.8M1179.1 974.2h7.8M1260.5 974.2h7.8M1408.5 974.2h7.8M1460.3 974.2h7.8M328.1 978h7.8M505.7 978h7.8M594.5 978h7.8M764.7 978h7.8M786.9 978h7.8M1489.9 978h4M261.5 981.6h7.8M402.1 981.6h7.8M823.9 981.6h7.8M1208.7 981.6h7.8M1290.1 981.6h.8M1430.7 981.6h7.8M416.9 985.4h7.8M439.1 985.4h7.8M564.9 985.4h7.8M609.3 985.4h7.8M764.7 985.4h7.8M801.7 985.4h7.8M1245.7 985.4h7.8M439.1 989h7.8M535.3 989h15.2M764.7 989h7.8M1245.7 989h7.8M1260.5 989h7.8M1430.7 989h7.8M439.1 992.8h7.8M779.5 992.8h7.8M1156.9 992.8h7.8M1392 992.8h2.1M1408.5 992.8h7.8M305.9 996.5h7.8M490.9 996.5h7.8M1142.1 996.5h7.8M1156.9 996.5h7.8M1193.9 996.5h7.8M1392 996.5h2.1M1408.5 996.5h7.8M261.5 1000.1h7.8M779.5 1000.1h7.8M1201.3 1000.1h7.8M1275.3 1000.1h7.8M1392 1000.1h2.1M224.5 1003.9h7.8M409.5 1003.9h7.8M786.9 1003.9h7.8M1119.9 1003.9h7.8M1164.3 1003.9h7.8M1193.9 1003.9h7.8M1267.9 1003.9h7.8M283.7 1007.5h7.8M535.3 1007.5h7.8M668.5 1007.5h7.8M764.7 1007.5h7.8M823.9 1007.5h7.8M224.5 1011.2h7.8M601.9 1011.2h7.8M668.5 1011.2h7.8M1438.1 1011.2h15.2M224.5 1015h7.8M372.5 1015h7.8M409.5 1015h7.8M1179.1 1015h7.8M224.5 1018.6h7.8M342.9 1018.6h7.8M372.5 1018.6h7.8M446.5 1018.6h7.8M342.9 1022.4h7.8M446.5 1022.4h7.8M587.1 1022.4h7.8"/>
<path stroke="#43d473" stroke-width="4" d="M838.7 896.5h22.6M875.7 896.5h7.8M971.9 896.5h7.8M1023.7 896.5h7.8M868.3 900.2h7.8M912.7 900.2h7.8M964.5 900.2h7.8M986.7 900.2h22.6M833.6 959.5h5.5M846.1 959.5h7.8M838.7 963.1h7.8M979.3 963.1h7.8M833.6 966.9h5.5M979.3 966.9h7.8M833.6 970.5h5.5M912.7 974.2h7.8M1023.7 978h7.8M890.5 985.4h7.8M890.5 989h7.8M927.5 989h7.8M853.5 992.8h7.8M883.1 992.8h7.8M838.7 996.5h7.8M853.5 996.5h7.8M883.1 996.5h7.8M942.3 996.5h7.8M838.7 1000.1h7.8"/>
<path stroke="#2ce0ac" stroke-width="4" d="M1312.3 896.5h7.8M1327.1 896.5h7.8M1349.3 896.5h30M1304.9 900.2h7.8M1341.9 900.2h7.8M1386.3 900.2h6.1M1327.1 959.5h7.8M1349.3 959.5h7.8M1341.9 974.2h7.8M1378.9 978h7.8M1378.9 985.4h7.8M1312.3 989h7.8M1327.1 989h7.8M1364.1 989h7.8M1356.7 992.8h7.8M1386.3 992.8h6.1M1297.5 1011.2h7.8"/>
<path stroke="#2ce099" stroke-width="4" d="M1319.7 896.5h7.8M1297.5 900.2h7.8M1334.5 900.2h7.8M1349.3 900.2h7.8M1371.5 900.2h7.8M1378.9 970.5h7.8M1312.3 974.2h7.8M1349.3 981.6h15.2M1386.3 981.6h6.1M1290.5 985.4h7.4M1349.3 985.4h7.8M1290.5 989h7.4M1304.9 989h7.8M1386.3 996.5h6.1M1386.3 1000.1h6.1M1341.9 1003.9h7.8M1341.9 1015h7.8M1334.5 1018.6h7.8M1334.5 1022.4h7.8"/>
<path stroke="#00ff49" stroke-width="4" d="M342.9 900.2h7.8M579.7 900.2h7.8M683.3 900.2h7.8M772.1 900.2h15.2M1430.7 900.2h7.8M431.7 948.4h7.8M461.3 948.4h7.8M513.1 948.4h7.8M224.5 952h7.8M261.5 952h7.8M431.7 952h7.8M461.3 952h7.8M1036.6 952h2.3M254.1 955.8h15.2M283.7 955.8h15.2M350.3 955.8h7.8M365.1 955.8h7.8M461.3 955.8h7.8M542.7 955.8h7.8M587.1 955.8h7.8M409.5 959.5h7.8M1149.5 959.5h7.8M1164.3 959.5h7.8M1408.5 959.5h7.8M1423.3 959.5h7.8M1467.7 959.5h7.8M587.1 963.1h7.8M1060.7 963.1h7.8M1290.1 963.1h.8M1423.3 963.1h7.8M291.1 966.9h7.8M313.3 966.9h15.2M402.1 966.9h7.8M587.1 966.9h7.8M653.7 966.9h7.8M1112.5 966.9h7.8M1445.5 966.9h7.8M239.3 970.5h7.8M1238.3 970.5h7.8M409.5 974.2h7.8M1127.3 974.2h7.8M1238.3 974.2h7.8M1290.1 974.2h.8M409.5 978h7.8M431.7 978h7.8M1127.3 978h7.8M1238.3 978h7.8M1290.1 978h.8M387.3 981.6h7.8M668.5 981.6h7.8M749.9 981.6h7.8M424.3 985.4h7.8M809.1 985.4h7.8M1230.9 985.4h7.8M1445.5 985.4h7.8M268.9 989h7.8M402.1 989h7.8M564.9 989h7.8M1230.9 989h7.8M1423.3 989h7.8M254.1 992.8h7.8M505.7 992.8h7.8M816.5 992.8h7.8M1230.9 992.8h7.8M1245.7 992.8h7.8M1430.7 992.8h7.8M1475.1 992.8h7.8M254.1 996.5h7.8M342.9 996.5h7.8M372.5 996.5h7.8M387.3 996.5h7.8M424.3 996.5h7.8M453.9 996.5h7.8M505.7 996.5h7.8M772.1 996.5h7.8M816.5 996.5h7.8M1149.5 996.5h7.8M1475.1 996.5h7.8M254.1 1000.1h7.8M342.9 1000.1h7.8M387.3 1000.1h7.8M424.3 1000.1h7.8M453.9 1000.1h7.8M653.7 1000.1h7.8M1430.7 1000.1h7.8M1460.3 1000.1h7.8M1475.1 1000.1h7.8M254.1 1003.9h7.8M268.9 1003.9h7.8M439.1 1003.9h7.8M476.1 1003.9h7.8M513.1 1003.9h7.8M394.7 1007.5h7.8M416.9 1007.5h7.8M712.9 1007.5h7.8M1149.5 1007.5h7.8M1171.7 1007.5h7.8M283.7 1011.2h7.8M402.1 1011.2h7.8M527.9 1011.2h7.8M653.7 1011.2h7.8M823.9 1011.2h7.8M1275.3 1011.2h7.8M1127.3 1015h7.8M246.7 1018.6h7.8M542.7 1018.6h7.8M1179.1 1018.6h7.8M246.7 1022.4h7.8M1260.5 1022.4h7.8M816.5 1029.8h7.8M801.7 1033.4h7.8"/>
<path stroke="#06ff2e" stroke-width="4" d="M490.9 900.2h7.8M268.9 948.4h7.8M291.1 948.4h7.8M328.1 948.4h15.2M357.7 948.4h7.8M387.3 948.4h7.8M402.1 948.4h7.8M453.9 948.4h7.8M476.1 948.4h7.8M535.3 948.4h15.2M557.5 948.4h15.2M601.9 948.4h7.8M794.3 948.4h7.8M823.9 948.4h10.1M1060.7 948.4h7.8M1392 948.4h2.1M1475.1 948.4h7.8M276.3 952h7.8M305.9 952h7.8M328.1 952h7.8M357.7 952h15.2M387.3 952h22.6M424.3 952h7.8M439.1 952h7.8M468.7 952h7.8M483.5 952h7.8M498.3 952h15.2M520.5 952h7.8M535.3 952h15.2M587.1 952h7.8M601.9 952h7.8M801.7 952h22.6M831.3 952h2.7M231.9 955.8h7.8M268.9 955.8h15.2M320.7 955.8h22.6M379.9 955.8h7.8M394.7 955.8h7.8M439.1 955.8h7.8M483.5 955.8h7.8M505.7 955.8h7.8M535.3 955.8h7.8M564.9 955.8h7.8M609.3 955.8h7.8M823.9 955.8h7.8M1036.6 955.8h2.3M1060.7 955.8h7.8M1408.5 955.8h7.8M1445.5 955.8h7.8M1460.3 955.8h7.8M394.7 959.5h15.2M453.9 959.5h7.8M1179.1 959.5h7.8M1193.9 959.5h7.8M1223.5 959.5h7.8M1445.5 959.5h7.8M231.9 963.1h7.8M439.1 963.1h7.8M513.1 963.1h7.8M594.5 963.1h7.8M786.9 963.1h7.8M816.5 963.1h7.8M1090.3 963.1h7.8M1223.5 963.1h7.8M1275.3 963.1h7.8M231.9 966.9h7.8M394.7 966.9h7.8M439.1 966.9h7.8M564.9 966.9h7.8M638.9 966.9h7.8M1090.3 966.9h7.8M1193.9 966.9h7.8M1223.5 966.9h7.8M1467.7 970.5h7.8M431.7 974.2h7.8M1415.9 974.2h7.8M1467.7 974.2h7.8M557.5 978h7.8M579.7 978h7.8M594.5 981.6h7.8M794.3 981.6h7.8M1482.5 981.6h7.8M668.5 985.4h7.8M742.5 985.4h15.2M1112.5 985.4h7.8M1467.7 985.4h7.8M594.5 989h7.8M742.5 989h7.8M809.1 989h7.8M1112.5 989h7.8M1475.1 989h7.8M431.7 992.8h7.8M550.1 992.8h7.8M809.1 992.8h7.8M550.1 996.5h7.8M1134.7 996.5h7.8M1230.9 996.5h7.8M1245.7 996.5h7.8M513.1 1000.1h7.8M690.7 1000.1h7.8M809.1 1000.1h7.8M1127.3 1000.1h15.2M1216.1 1000.1h7.8M1438.1 1000.1h7.8M1467.7 1000.1h7.8M291.1 1003.9h7.8M305.9 1003.9h7.8M357.7 1003.9h7.8M416.9 1003.9h7.8M446.5 1003.9h7.8M490.9 1003.9h7.8M505.7 1003.9h7.8M587.1 1003.9h7.8M638.9 1003.9h7.8M668.5 1003.9h7.8M794.3 1003.9h7.8M831.3 1003.9h2.7M1230.9 1003.9h7.8M1452.9 1003.9h7.8M268.9 1007.5h7.8M579.7 1007.5h7.8M638.9 1007.5h7.8M749.9 1007.5h7.8M1230.9 1007.5h7.8M1392 1007.5h2.1M1475.1 1007.5h7.8M357.7 1011.2h7.8M416.9 1011.2h7.8M439.1 1011.2h7.8M831.3 1011.2h2.7M1392 1011.2h2.1M1452.9 1011.2h7.8M1482.5 1011.2h7.8M298.5 1015h7.8M505.7 1015h7.8M616.7 1015h7.8M1282.7 1015h7.8M535.3 1018.6h7.8M801.7 1018.6h7.8M505.7 1022.4h7.8M542.7 1022.4h7.8M631.5 1022.4h7.8M1127.3 1022.4h15.2M1216.1 1022.4h7.8M801.7 1026.1h7.8"/>
<path stroke="#00ff57" stroke-width="4" d="M542.7 900.2h7.8M594.5 900.2h7.8M646.3 900.2h7.8M690.7 900.2h7.8M764.7 900.2h7.8M786.9 900.2h15.2M816.5 900.2h7.8M831.3 900.2h2.7M1075.5 900.2h7.8M1134.7 900.2h7.8M1179.1 900.2h15.2M1393.7 900.2h7.8M1445.5 900.2h7.8M1482.5 900.2h7.8M224.5 955.8h7.8M446.5 955.8h7.8M513.1 955.8h7.8M320.7 959.5h22.6M350.3 959.5h15.2M1060.7 959.5h7.8M1216.1 959.5h7.8M1438.1 959.5h7.8M1489.9 959.5h4M239.3 963.1h7.8M357.7 963.1h7.8M1112.5 963.1h7.8M1149.5 963.1h7.8M1164.3 963.1h7.8M1408.5 963.1h7.8M1467.7 963.1h15.2M1489.9 963.1h4M1164.3 966.9h7.8M1267.9 966.9h7.8M1408.5 966.9h7.8M1423.3 966.9h7.8M1489.9 966.9h4M409.5 970.5h7.8M505.7 970.5h7.8M1105.1 970.5h7.8M1401.1 970.5h15.2M1460.3 970.5h7.8M564.9 974.2h7.8M601.9 974.2h7.8M1208.7 974.2h7.8M239.3 978h7.8M550.1 978h7.8M1105.1 978h7.8M424.3 981.6h7.8M809.1 981.6h7.8M1112.5 981.6h7.8M1238.3 981.6h7.8M1267.9 981.6h7.8M261.5 985.4h7.8M387.3 985.4h7.8M601.9 985.4h7.8M823.9 985.4h7.8M1149.5 985.4h7.8M1238.3 985.4h7.8M1275.3 985.4h7.8M1392 985.4h2.1M387.3 989h7.8M601.9 989h7.8M823.9 989h7.8M1208.7 989h7.8M1238.3 989h7.8M1275.3 989h7.8M1445.5 989h7.8M268.9 992.8h7.8M283.7 992.8h7.8M387.3 992.8h7.8M409.5 992.8h7.8M490.9 992.8h7.8M535.3 992.8h7.8M587.1 992.8h7.8M772.1 992.8h7.8M1216.1 992.8h7.8M1267.9 992.8h7.8M1438.1 992.8h7.8M268.9 996.5h7.8M283.7 996.5h7.8M328.1 996.5h7.8M409.5 996.5h7.8M535.3 996.5h7.8M587.1 996.5h7.8M1460.3 996.5h7.8M328.1 1000.1h7.8M535.3 1000.1h7.8M587.1 1000.1h7.8M1082.9 1000.1h7.8M1119.9 1000.1h7.8M1408.5 1000.1h7.8M239.3 1003.9h7.8M535.3 1003.9h7.8M1275.3 1003.9h7.8M342.9 1007.5h7.8M402.1 1007.5h7.8M476.1 1007.5h7.8M527.9 1007.5h7.8M1164.3 1007.5h7.8M1275.3 1007.5h7.8M298.5 1011.2h7.8M535.3 1011.2h7.8M786.9 1011.2h7.8M1149.5 1011.2h30M283.7 1015h7.8M631.5 1015h7.8M1142.1 1015h7.8M283.7 1022.4h7.8M1179.1 1022.4h7.8M816.5 1026.1h7.8"/>
<path stroke="#43d44b" stroke-width="4" d="M838.7 900.2h7.8M942.3 900.2h7.8M1023.7 900.2h7.8M994.1 952h7.8M868.3 955.8h7.8M920.1 955.8h7.8M994.1 955.8h7.8M838.7 959.5h7.8M905.3 963.1h7.8M905.3 966.9h7.8M934.9 966.9h7.8M920.1 992.8h7.8M875.7 996.5h7.8M920.1 996.5h7.8M868.3 1000.1h7.8M1016.3 1000.1h7.8M883.1 1003.9h7.8M905.3 1003.9h7.8M934.9 1003.9h7.8M934.9 1007.5h7.8M883.1 1011.2h7.8M860.9 1015h7.8M883.1 1015h7.8M860.9 1018.6h15.2M860.9 1022.4h7.8M883.1 1022.4h7.8"/>
<path stroke="#43d455" stroke-width="4" d="M853.5 900.2h15.2M883.1 900.2h7.8M934.9 900.2h7.8M838.7 966.9h7.8M934.9 970.5h7.8M853.5 1000.1h7.8M868.3 1003.9h7.8M920.1 1011.2h7.8M883.1 1018.6h7.8"/>
<path stroke="#43d441" stroke-width="4" d="M875.7 900.2h7.8M868.3 948.4h7.8M964.5 948.4h7.8M994.1 948.4h15.2M1031.1 948.4h5.9M949.7 952h7.8M833.6 955.8h5.5M912.7 955.8h7.8M949.7 955.8h7.8M964.5 955.8h7.8M979.3 955.8h7.8M1001.5 955.8h7.8M1016.3 955.8h7.8M1016.3 974.2h7.8M1016.3 978h7.8M860.9 992.8h7.8M860.9 996.5h7.8M920.1 1000.1h7.8M934.9 1000.1h7.8M833.6 1003.9h5.5M883.1 1007.5h7.8M905.3 1007.5h7.8M905.3 1011.2h7.8M934.9 1011.2h7.8M838.7 1015h7.8M920.1 1015h7.8M934.9 1018.6h7.8M920.1 1022.4h7.8"/>
<path stroke="#43d45f" stroke-width="4" d="M890.5 900.2h15.2M927.5 900.2h7.8M957.1 900.2h7.8M971.9 900.2h7.8M1016.3 900.2h7.8M1016.3 959.5h7.8M1016.3 963.1h7.8M860.9 970.5h7.8M934.9 974.2h7.8M838.7 992.8h7.8"/>
<path stroke="#00ff3b" stroke-width="4" d="M1112.5 900.2h7.8M224.5 948.4h7.8M246.7 948.4h22.6M283.7 948.4h7.8M365.1 948.4h7.8M446.5 948.4h7.8M468.7 948.4h7.8M1036.6 948.4h2.3M246.7 952h15.2M268.9 952h7.8M283.7 952h15.2M350.3 952h7.8M379.9 952h7.8M446.5 952h7.8M476.1 952h7.8M513.1 952h7.8M550.1 952h15.2M572.3 952h7.8M823.9 952h7.8M1460.3 952h7.8M246.7 955.8h7.8M305.9 955.8h7.8M357.7 955.8h7.8M372.5 955.8h7.8M387.3 955.8h7.8M402.1 955.8h7.8M424.3 955.8h15.2M453.9 955.8h7.8M468.7 955.8h15.2M498.3 955.8h7.8M520.5 955.8h15.2M572.3 955.8h7.8M601.9 955.8h7.8M786.9 955.8h7.8M801.7 955.8h7.8M831.3 955.8h2.7M1489.9 955.8h4M231.9 959.5h7.8M564.9 959.5h7.8M1068.1 959.5h7.8M1112.5 959.5h7.8M1267.9 959.5h7.8M1290.1 959.5h.8M320.7 963.1h7.8M402.1 963.1h7.8M564.9 963.1h7.8M1045.9 963.1h7.8M1267.9 963.1h7.8M513.1 966.9h7.8M609.3 966.9h7.8M786.9 966.9h15.2M1045.9 966.9h7.8M1260.5 966.9h7.8M1275.3 966.9h7.8M431.7 970.5h7.8M601.9 970.5h7.8M1127.3 970.5h7.8M1208.7 970.5h7.8M1290.1 970.5h.8M579.7 974.2h7.8M564.9 978h7.8M1193.9 981.6h7.8M1393.7 981.6h7.8M1467.7 981.6h7.8M1267.9 985.4h7.8M1452.9 985.4h7.8M668.5 989h7.8M749.9 989h7.8M1267.9 989h7.8M1452.9 989h7.8M246.7 992.8h7.8M328.1 992.8h7.8M342.9 992.8h7.8M372.5 992.8h7.8M424.3 992.8h7.8M453.9 992.8h7.8M653.7 992.8h7.8M1127.3 992.8h15.2M1460.3 992.8h7.8M246.7 996.5h7.8M431.7 996.5h7.8M653.7 996.5h7.8M1127.3 996.5h7.8M1267.9 996.5h7.8M1430.7 996.5h7.8M246.7 1000.1h7.8M372.5 1000.1h7.8M431.7 1000.1h15.2M505.7 1000.1h7.8M816.5 1000.1h7.8M1267.9 1000.1h7.8M402.1 1003.9h7.8M601.9 1003.9h7.8M661.1 1003.9h7.8M764.7 1003.9h7.8M816.5 1003.9h7.8M1171.7 1003.9h7.8M1290.1 1003.9h.8M1392 1003.9h2.1M231.9 1007.5h15.2M254.1 1007.5h7.8M357.7 1007.5h7.8M439.1 1007.5h7.8M831.3 1007.5h2.7M1482.5 1007.5h7.8M231.9 1011.2h7.8M254.1 1011.2h7.8M476.1 1011.2h7.8M513.1 1011.2h7.8M579.7 1011.2h7.8M712.9 1011.2h7.8M749.9 1011.2h7.8M246.7 1015h7.8M690.7 1015h7.8M1134.7 1015h7.8M283.7 1018.6h7.8M505.7 1018.6h7.8M631.5 1018.6h7.8M1127.3 1018.6h15.2M1216.1 1018.6h7.8M298.5 1022.4h7.8M453.9 1026.1h7.8M453.9 1029.8h7.8M801.7 1029.8h7.8M453.9 1033.4h7.8M816.5 1033.4h7.8"/>
<path stroke="#2ce0a2" stroke-width="4" d="M1290.5 900.2h7.4M1378.9 900.2h7.8M1349.3 963.1h7.8M1341.9 970.5h7.8M1386.3 970.5h6.1M1341.9 978h7.8M1386.3 978h6.1M1290.5 981.6h22.2M1386.3 985.4h6.1M1341.9 989h7.8M1378.9 989h7.8M1356.7 1000.1h7.8M1341.9 1007.5h7.8M1334.5 1015h7.8"/>
<path stroke="#2ce084" stroke-width="4" d="M1312.3 900.2h15.2M1356.7 900.2h7.8M1290.5 959.5h7.4M1334.5 963.1h7.8M1319.7 966.9h7.8M1356.7 966.9h7.8M1312.3 970.5h7.8M1356.7 970.5h7.8M1319.7 981.6h7.8M1356.7 985.4h7.8M1297.5 989h7.8M1386.3 989h6.1M1371.5 992.8h7.8M1371.5 1000.1h7.8M1371.5 1003.9h7.8M1341.9 1018.6h7.8M1341.9 1022.4h7.8"/>
<path stroke="#2ce08e" stroke-width="4" d="M1327.1 900.2h7.8M1334.5 959.5h7.8M1290.5 963.1h7.4M1319.7 963.1h7.8M1290.5 966.9h7.4M1334.5 966.9h7.8M1312.3 978h7.8M1356.7 978h7.8M1297.5 985.4h15.2M1371.5 996.5h7.8"/>
<path stroke="#2ce07a" stroke-width="4" d="M1364.1 900.2h7.8M1319.7 959.5h7.8M1297.5 963.1h7.8M1356.7 963.1h7.8M1297.5 966.9h7.8M1327.1 974.2h7.8M1356.7 974.2h7.8M1290.5 978h7.4M1349.3 989h7.8M1371.5 1007.5h7.8M1341.9 1011.2h7.8M1371.5 1011.2h7.8"/>
<path stroke="#c5ff00" stroke-width="4" d="M224.5 904h7.8M246.7 904h7.8M372.5 904h7.8M387.3 904h7.8M424.3 904h7.8M461.3 904h7.8M550.1 904h7.8M572.3 904h7.8M601.9 904h7.8M1105.1 904h7.8M1142.1 904h7.8M1156.9 904h7.8M1253.1 904h15.2M1408.5 904h7.8M1452.9 904h7.8M1475.1 904h7.8M416.9 937.2h7.8M505.7 937.2h7.8M527.9 937.2h7.8M542.7 937.2h7.8M823.9 937.2h7.8M1075.5 937.2h15.2M1097.7 937.2h15.2M1438.1 937.2h7.8M239.3 941h7.8M261.5 941h15.2M305.9 941h7.8M328.1 941h7.8M402.1 941h15.2M424.3 941h7.8M468.7 941h7.8M483.5 941h7.8M527.9 941h7.8M550.1 941h7.8M609.3 941h7.8M1038.5 941h15.2M1068.1 941h7.8M1097.7 941h7.8M1193.9 941h7.8M1208.7 941h7.8M1223.5 941h22.6M1445.5 941h7.8M1460.3 941h7.8M1482.5 941h7.8M283.7 944.6h7.8M320.7 944.6h7.8M357.7 944.6h15.2M379.9 944.6h22.6M431.7 944.6h7.8M461.3 944.6h7.8M476.1 944.6h7.8M513.1 944.6h7.8M535.3 944.6h7.8M587.1 944.6h7.8M1423.3 944.6h7.8M1452.9 944.6h15.2M1475.1 944.6h7.8M1489.9 944.6h4M757.3 948.4h15.2M1430.7 948.4h7.8M749.9 955.8h7.8M387.3 959.5h7.8M772.1 959.5h7.8M1482.5 959.5h7.8M683.3 963.1h7.8M749.9 963.1h7.8M1430.7 963.1h7.8M1452.9 963.1h7.8M735.1 966.9h15.2M757.3 966.9h7.8M1053.3 966.9h7.8M1452.9 966.9h7.8M727.7 970.5h7.8M653.7 974.2h7.8M727.7 974.2h7.8M742.5 978h7.8M653.7 981.6h15.2M698.1 981.6h7.8M231.9 985.4h7.8M231.9 989h7.8M661.1 989h7.8M727.7 989h7.8M557.5 992.8h7.8M579.7 992.8h7.8M720.3 992.8h7.8M313.3 996.5h7.8M698.1 996.5h7.8M313.3 1000.1h7.8M557.5 1000.1h7.8M579.7 1000.1h7.8M720.3 1000.1h7.8M1282.7 1000.1h7.8M320.7 1003.9h7.8M483.5 1003.9h7.8M594.5 1003.9h7.8M727.7 1003.9h7.8M1467.7 1003.9h7.8M1223.5 1007.5h7.8M1408.5 1007.5h7.8M335.5 1011.2h7.8M809.1 1011.2h7.8M1393.7 1011.2h7.8M1408.5 1011.2h7.8M675.9 1018.6h7.8M254.1 1022.4h7.8M268.9 1022.4h7.8M1482.5 1022.4h7.8M468.7 1026.1h7.8M365.1 1029.8h7.8"/>
<path stroke="#d9ff00" stroke-width="4" d="M231.9 904h15.2M276.3 904h7.8M305.9 904h30M357.7 904h7.8M394.7 904h7.8M416.9 904h7.8M439.1 904h7.8M468.7 904h7.8M483.5 904h7.8M520.5 904h7.8M609.3 904h7.8M786.9 904h15.2M816.5 904h7.8M1045.9 904h7.8M1119.9 904h22.6M1164.3 904h7.8M1230.9 904h7.8M1267.9 904h22.6M1445.5 904h7.8M254.1 907.6h7.8M1392 907.6h2.1M1392 911.4h2.1M1119.9 937.2h7.8M1179.1 937.2h15.2M1245.7 937.2h22.6M579.7 941h7.8M786.9 941h15.2M1036.6 941h2.3M1105.1 941h7.8M1119.9 941h7.8M1164.3 941h7.8M1186.5 941h7.8M1253.1 941h7.8M1267.9 941h7.8M231.9 944.6h7.8M261.5 944.6h7.8M298.5 944.6h7.8M328.1 944.6h15.2M402.1 944.6h15.2M424.3 944.6h7.8M468.7 944.6h7.8M505.7 944.6h7.8M527.9 944.6h7.8M786.9 944.6h7.8M801.7 944.6h7.8M823.9 944.6h7.8M1045.9 944.6h7.8M1105.1 944.6h7.8M1193.9 944.6h7.8M1216.1 944.6h15.2M1238.3 944.6h7.8M1401.1 944.6h7.8M749.9 948.4h7.8M742.5 952h7.8M742.5 959.5h7.8M1430.7 959.5h7.8M1053.3 963.1h7.8M675.9 966.9h7.8M1430.7 966.9h7.8M690.7 970.5h7.8M653.7 978h7.8M690.7 978h7.8M727.7 978h7.8M646.3 981.6h7.8M720.3 989h7.8M661.1 992.8h7.8M742.5 992.8h7.8M542.7 996.5h7.8M579.7 996.5h7.8M742.5 996.5h7.8M1282.7 996.5h7.8M564.9 1000.1h7.8M698.1 1000.1h15.2M683.3 1003.9h7.8M705.5 1003.9h7.8M1393.7 1003.9h7.8M335.5 1007.5h7.8M1393.7 1007.5h7.8M483.5 1011.2h7.8M1415.9 1015h7.8M468.7 1018.6h7.8M1415.9 1018.6h7.8M675.9 1022.4h7.8M431.7 1026.1h7.8M239.3 1029.8h7.8M261.5 1029.8h7.8M1156.9 1029.8h7.8M357.7 1033.4h7.8M468.7 1033.4h7.8M1156.9 1033.4h7.8M1193.9 1033.4h7.8"/>
<path stroke="#b4ff03" stroke-width="4" d="M254.1 904h7.8M291.1 904h7.8M365.1 904h7.8M453.9 904h7.8M513.1 904h7.8M631.5 904h7.8M1060.7 904h7.8M1090.3 904h15.2M1201.3 904h15.2M1423.3 904h7.8M1460.3 904h7.8M239.3 937.2h7.8M261.5 937.2h7.8M276.3 937.2h7.8M298.5 937.2h15.2M379.9 937.2h7.8M402.1 937.2h7.8M424.3 937.2h7.8M483.5 937.2h7.8M535.3 937.2h7.8M594.5 937.2h22.6M801.7 937.2h15.2M1036.6 937.2h2.3M1045.9 937.2h7.8M1068.1 937.2h7.8M1090.3 937.2h7.8M1201.3 937.2h7.8M1223.5 937.2h7.8M1238.3 937.2h7.8M1393.7 937.2h7.8M1445.5 937.2h7.8M224.5 941h15.2M246.7 941h15.2M283.7 941h7.8M335.5 941h7.8M357.7 941h7.8M372.5 941h30M416.9 941h7.8M446.5 941h15.2M476.1 941h7.8M520.5 941h7.8M535.3 941h15.2M557.5 941h22.6M587.1 941h7.8M601.9 941h7.8M823.9 941h7.8M1090.3 941h7.8M1401.1 941h7.8M1415.9 941h7.8M1452.9 941h7.8M1467.7 941h7.8M224.5 944.6h7.8M246.7 944.6h15.2M291.1 944.6h7.8M572.3 944.6h7.8M1392 944.6h2.1M1408.5 944.6h7.8M757.3 952h15.2M1112.5 952h7.8M757.3 955.8h15.2M749.9 959.5h7.8M1097.7 959.5h7.8M1230.9 959.5h7.8M1415.9 959.5h7.8M727.7 963.1h7.8M742.5 963.1h7.8M1186.5 963.1h7.8M1230.9 963.1h7.8M387.3 966.9h7.8M727.7 966.9h7.8M683.3 970.5h7.8M705.5 970.5h7.8M683.3 974.2h7.8M742.5 974.2h7.8M727.7 981.6h7.8M646.3 985.4h15.2M646.3 989h7.8M698.1 989h7.8M313.3 992.8h7.8M520.5 996.5h15.2M764.7 996.5h7.8M1290.1 996.5h.8M1452.9 996.5h7.8M1290.1 1000.1h.8M609.3 1003.9h7.8M1223.5 1003.9h7.8M1408.5 1003.9h7.8M675.9 1007.5h7.8M1467.7 1007.5h7.8M631.5 1011.2h7.8M720.3 1011.2h7.8M1142.1 1011.2h7.8M1260.5 1011.2h7.8M254.1 1015h7.8M468.7 1015h7.8M564.9 1015h7.8M675.9 1015h7.8M1245.7 1015h7.8M268.9 1018.6h7.8M550.1 1018.6h7.8M764.7 1018.6h7.8M1238.3 1018.6h15.2M468.7 1022.4h7.8M564.9 1022.4h7.8M735.1 1022.4h7.8M1238.3 1022.4h7.8M357.7 1026.1h7.8M601.9 1026.1h7.8M1193.9 1026.1h7.8M231.9 1029.8h7.8M342.9 1029.8h7.8M735.1 1029.8h7.8M1193.9 1029.8h7.8M365.1 1033.4h7.8M1075.5 1033.4h7.8"/>
<path stroke="#cfff00" stroke-width="4" d="M261.5 904h15.2M283.7 904h7.8M298.5 904h7.8M335.5 904h7.8M350.3 904h7.8M379.9 904h7.8M402.1 904h15.2M446.5 904h7.8M476.1 904h7.8M498.3 904h15.2M527.9 904h22.6M564.9 904h7.8M587.1 904h15.2M616.7 904h15.2M638.9 904h7.8M801.7 904h15.2M823.9 904h10.1M1038.5 904h7.8M1053.3 904h7.8M1068.1 904h7.8M1082.9 904h7.8M1186.5 904h15.2M1216.1 904h15.2M1238.3 904h15.2M1290.1 904h.8M1393.7 904h15.2M1415.9 904h7.8M1438.1 904h7.8M1482.5 904h7.8M313.3 937.2h7.8M342.9 937.2h7.8M490.9 937.2h7.8M579.7 937.2h7.8M786.9 937.2h15.2M816.5 937.2h7.8M831.3 937.2h2.7M1164.3 937.2h7.8M1193.9 937.2h7.8M1230.9 937.2h7.8M1430.7 937.2h7.8M276.3 941h7.8M313.3 941h15.2M342.9 941h7.8M439.1 941h7.8M505.7 941h7.8M594.5 941h7.8M801.7 941h15.2M1082.9 941h7.8M1216.1 941h7.8M1260.5 941h7.8M1393.7 941h7.8M1438.1 941h7.8M268.9 944.6h7.8M305.9 944.6h7.8M350.3 944.6h7.8M372.5 944.6h7.8M439.1 944.6h7.8M453.9 944.6h7.8M483.5 944.6h7.8M498.3 944.6h7.8M520.5 944.6h7.8M542.7 944.6h30M594.5 944.6h22.6M1038.5 944.6h7.8M1053.3 944.6h7.8M1090.3 944.6h15.2M1201.3 944.6h15.2M1415.9 944.6h7.8M1445.5 944.6h7.8M1467.7 944.6h7.8M1482.5 944.6h7.8M749.9 952h7.8M742.5 955.8h7.8M690.7 959.5h7.8M387.3 963.1h7.8M735.1 963.1h7.8M683.3 966.9h7.8M749.9 966.9h7.8M653.7 970.5h7.8M690.7 974.2h15.2M720.3 974.2h7.8M683.3 978h7.8M698.1 978h15.2M720.3 978h7.8M720.3 981.6h7.8M661.1 985.4h7.8M720.3 985.4h7.8M712.9 989h7.8M542.7 992.8h7.8M698.1 992.8h7.8M1282.7 992.8h8.2M712.9 996.5h15.2M1445.5 996.5h7.8M542.7 1000.1h7.8M742.5 1000.1h7.8M1445.5 1000.1h7.8M335.5 1003.9h7.8M320.7 1007.5h7.8M483.5 1007.5h7.8M320.7 1011.2h7.8M1186.5 1011.2h7.8M1223.5 1011.2h7.8M1467.7 1011.2h7.8M1208.7 1015h7.8M1245.7 1022.4h7.8M1415.9 1022.4h7.8M261.5 1026.1h7.8M1156.9 1026.1h7.8M601.9 1029.8h7.8M601.9 1033.4h7.8M224.5 1037.2h7.8M224.5 1040.8h7.8"/>
<path stroke="#e3ff00" stroke-width="4" d="M342.9 904h7.8M579.7 904h7.8M742.5 904h22.6M772.1 904h7.8M1075.5 904h7.8M1112.5 904h7.8M1149.5 904h7.8M1171.7 904h15.2M1467.7 904h7.8M291.1 907.6h7.8M365.1 907.6h7.8M431.7 907.6h7.8M461.3 907.6h7.8M1060.7 907.6h7.8M1423.3 907.6h7.8M1460.3 907.6h7.8M1475.1 907.6h7.8M1489.9 907.6h4M254.1 911.4h7.8M513.1 911.4h7.8M1060.7 911.4h7.8M1460.3 911.4h7.8M1489.9 911.4h4M1060.7 915h7.8M1408.5 915h7.8M1423.3 915h7.8M446.5 933.5h7.8M1060.7 933.5h7.8M779.5 937.2h7.8M1112.5 937.2h7.8M1127.3 937.2h7.8M1142.1 937.2h7.8M1267.9 937.2h7.8M1290.1 937.2h.8M490.9 941h7.8M816.5 941h7.8M831.3 941h2.7M1075.5 941h7.8M1127.3 941h7.8M1290.1 941h.8M1430.7 941h7.8M239.3 944.6h7.8M276.3 944.6h7.8M313.3 944.6h7.8M416.9 944.6h7.8M794.3 944.6h7.8M809.1 944.6h7.8M1068.1 944.6h22.6M1164.3 944.6h7.8M1260.5 944.6h7.8M1290.1 944.6h.8M742.5 948.4h7.8M683.3 959.5h7.8M727.7 959.5h7.8M1053.3 959.5h7.8M1452.9 959.5h7.8M661.1 963.1h7.8M675.9 963.1h7.8M698.1 970.5h7.8M720.3 970.5h7.8M749.9 978h7.8M675.9 981.6h7.8M712.9 981.6h7.8M705.5 992.8h7.8M1445.5 992.8h7.8M557.5 996.5h7.8M705.5 996.5h7.8M712.9 1000.1h7.8M720.3 1003.9h7.8M1186.5 1003.9h7.8M1186.5 1007.5h7.8M1208.7 1022.4h7.8M239.3 1026.1h7.8M498.3 1026.1h7.8M1082.9 1026.1h7.8M468.7 1029.8h7.8M239.3 1033.4h7.8M261.5 1033.4h7.8M239.3 1040.8h7.8"/>
<path stroke="#9bff09" stroke-width="4" d="M431.7 904h7.8M557.5 904h7.8M1036.6 904h2.3M1392 904h2.1M268.9 937.2h7.8M291.1 937.2h7.8M320.7 937.2h22.6M350.3 937.2h15.2M372.5 937.2h7.8M387.3 937.2h15.2M439.1 937.2h7.8M453.9 937.2h7.8M468.7 937.2h7.8M498.3 937.2h7.8M520.5 937.2h7.8M550.1 937.2h15.2M572.3 937.2h7.8M1038.5 937.2h7.8M1053.3 937.2h7.8M1208.7 937.2h15.2M1401.1 937.2h7.8M1415.9 937.2h7.8M1460.3 937.2h15.2M1482.5 937.2h7.8M291.1 941h15.2M350.3 941h7.8M365.1 941h7.8M431.7 941h7.8M461.3 941h7.8M498.3 941h7.8M513.1 941h7.8M1053.3 941h15.2M1201.3 941h7.8M1423.3 941h7.8M1475.1 941h7.8M446.5 944.6h7.8M1060.7 944.6h7.8M1075.5 948.4h7.8M1112.5 948.4h7.8M1149.5 948.4h7.8M1393.7 952h7.8M1430.7 955.8h7.8M557.5 959.5h7.8M1186.5 959.5h7.8M557.5 963.1h7.8M690.7 963.1h7.8M757.3 963.1h7.8M772.1 963.1h7.8M1097.7 963.1h7.8M1415.9 963.1h7.8M690.7 966.9h7.8M1230.9 966.9h7.8M1482.5 966.9h7.8M572.3 970.5h7.8M742.5 970.5h7.8M668.5 974.2h7.8M705.5 974.2h7.8M1112.5 974.2h7.8M675.9 978h7.8M735.1 978h7.8M705.5 981.6h7.8M705.5 985.4h7.8M727.7 985.4h7.8M1171.7 985.4h7.8M653.7 989h7.8M705.5 989h7.8M1171.7 989h7.8M483.5 992.8h7.8M527.9 992.8h7.8M675.9 992.8h7.8M712.9 992.8h7.8M1452.9 992.8h7.8M675.9 996.5h7.8M1423.3 996.5h7.8M231.9 1000.1h7.8M520.5 1000.1h7.8M1452.9 1000.1h7.8M550.1 1003.9h7.8M712.9 1003.9h7.8M809.1 1003.9h7.8M387.3 1007.5h7.8M453.9 1007.5h7.8M683.3 1007.5h7.8M809.1 1007.5h7.8M1260.5 1007.5h7.8M453.9 1011.2h7.8M550.1 1011.2h7.8M675.9 1011.2h7.8M705.5 1011.2h7.8M1415.9 1011.2h7.8M268.9 1015h7.8M735.1 1015h7.8M764.7 1015h7.8M1482.5 1015h7.8M564.9 1018.6h7.8M735.1 1018.6h7.8M1208.7 1018.6h7.8M1482.5 1018.6h7.8M764.7 1022.4h7.8M823.9 1022.4h7.8M231.9 1026.1h7.8M357.7 1029.8h7.8M231.9 1033.4h7.8M342.9 1033.4h7.8"/>
<path stroke="#edff00" stroke-width="4" d="M490.9 904h7.8M661.1 904h7.8M735.1 904h7.8M764.7 904h7.8M779.5 904h7.8M1430.7 904h7.8M224.5 907.6h7.8M246.7 907.6h7.8M328.1 907.6h7.8M350.3 907.6h7.8M372.5 907.6h7.8M387.3 907.6h7.8M446.5 907.6h7.8M498.3 907.6h7.8M513.1 907.6h15.2M557.5 907.6h15.2M587.1 907.6h7.8M616.7 907.6h7.8M631.5 907.6h7.8M831.3 907.6h2.7M1036.6 907.6h9.7M1201.3 907.6h7.8M1216.1 907.6h15.2M1408.5 907.6h7.8M1467.7 907.6h7.8M224.5 911.4h7.8M291.1 911.4h7.8M335.5 911.4h7.8M431.7 911.4h7.8M446.5 911.4h7.8M461.3 911.4h7.8M572.3 911.4h7.8M631.5 911.4h7.8M1423.3 911.4h7.8M1475.1 911.4h7.8M1053.3 915h7.8M1392 915h2.1M1460.3 915h7.8M431.7 926.1h7.8M1460.3 926.1h7.8M291.1 929.9h7.8M431.7 929.9h7.8M1060.7 929.9h7.8M1392 933.5h2.1M1423.3 933.5h7.8M1460.3 933.5h7.8M1134.7 937.2h7.8M1171.7 937.2h7.8M1275.3 937.2h7.8M779.5 941h7.8M1112.5 941h7.8M1134.7 941h15.2M1156.9 941h7.8M1245.7 941h7.8M1275.3 941h7.8M342.9 944.6h7.8M579.7 944.6h7.8M772.1 944.6h7.8M816.5 944.6h7.8M831.3 944.6h2.7M1036.6 944.6h2.3M1127.3 944.6h7.8M1171.7 944.6h7.8M1186.5 944.6h7.8M1230.9 944.6h7.8M1245.7 944.6h15.2M1267.9 944.6h22.6M1393.7 944.6h7.8M1430.7 944.6h15.2M735.1 952h7.8M661.1 955.8h7.8M735.1 955.8h7.8M735.1 959.5h7.8M749.9 970.5h7.8M749.9 974.2h7.8M675.9 985.4h7.8M564.9 992.8h7.8M683.3 992.8h7.8M1482.5 992.8h7.8M564.9 996.5h7.8M609.3 996.5h7.8M661.1 996.5h7.8M683.3 996.5h7.8M661.1 1000.1h7.8M683.3 1000.1h7.8M1482.5 1000.1h7.8M831.3 1015h2.7M431.7 1029.8h7.8M831.3 1029.8h2.7M431.7 1033.4h7.8M239.3 1037.2h7.8M224.5 1044.6h7.8M239.3 1044.6h7.8"/>
<path stroke="#fff000" stroke-width="4" d="M646.3 904h7.8M705.5 904h22.6M579.7 907.6h7.8M646.3 907.6h7.8M675.9 907.6h37.4M720.3 907.6h15.2M816.5 907.6h7.8M1082.9 907.6h7.8M1119.9 907.6h15.2M1186.5 907.6h7.8M1245.7 907.6h7.8M1260.5 907.6h7.8M1275.3 907.6h7.8M305.9 911.4h15.2M416.9 911.4h7.8M439.1 911.4h7.8M483.5 911.4h7.8M505.7 911.4h7.8M579.7 911.4h7.8M624.1 911.4h7.8M661.1 911.4h7.8M727.7 911.4h15.2M779.5 911.4h7.8M809.1 911.4h7.8M1068.1 911.4h7.8M1082.9 911.4h7.8M1105.1 911.4h7.8M1230.9 911.4h7.8M1401.1 911.4h7.8M1438.1 911.4h7.8M224.5 915h7.8M246.7 915h15.2M291.1 915h7.8M335.5 915h7.8M431.7 915h7.8M446.5 915h7.8M513.1 915h7.8M823.9 915h10.1M1068.1 915h7.8M1082.9 915h7.8M1097.7 915h7.8M1223.5 915h22.6M1401.1 915h7.8M1060.7 918.8h7.8M1201.3 918.8h7.8M1423.3 918.8h7.8M1460.3 918.8h7.8M1475.1 918.8h7.8M1423.3 922.5h7.8M231.9 926.1h15.2M305.9 926.1h7.8M320.7 926.1h15.2M379.9 926.1h15.2M416.9 926.1h15.2M439.1 926.1h7.8M468.7 926.1h7.8M498.3 926.1h15.2M520.5 926.1h30M557.5 926.1h7.8M794.3 926.1h7.8M1053.3 926.1h7.8M1216.1 926.1h7.8M1401.1 926.1h7.8M1415.9 926.1h7.8M1438.1 926.1h22.6M1467.7 926.1h7.8M1482.5 926.1h7.8M261.5 929.9h15.2M298.5 929.9h7.8M320.7 929.9h7.8M350.3 929.9h7.8M379.9 929.9h15.2M402.1 929.9h7.8M453.9 929.9h7.8M468.7 929.9h22.6M505.7 929.9h7.8M542.7 929.9h7.8M564.9 929.9h7.8M601.9 929.9h7.8M1038.5 929.9h22.6M1201.3 929.9h7.8M1445.5 929.9h7.8M1467.7 929.9h7.8M1482.5 929.9h7.8M224.5 933.5h22.6M268.9 933.5h7.8M305.9 933.5h7.8M350.3 933.5h7.8M372.5 933.5h15.2M394.7 933.5h15.2M416.9 933.5h7.8M439.1 933.5h7.8M468.7 933.5h7.8M483.5 933.5h7.8M498.3 933.5h22.6M527.9 933.5h15.2M550.1 933.5h7.8M564.9 933.5h7.8M579.7 933.5h7.8M601.9 933.5h7.8M1068.1 933.5h7.8M1201.3 933.5h7.8M1415.9 933.5h7.8M1445.5 933.5h7.8M742.5 937.2h22.6M742.5 941h7.8M757.3 941h7.8M742.5 944.6h7.8M764.7 944.6h7.8M1134.7 944.6h7.8M1149.5 944.6h7.8M661.1 952h7.8M720.3 952h7.8M646.3 955.8h15.2M675.9 955.8h7.8M705.5 955.8h7.8M690.7 981.6h7.8M601.9 992.8h7.8M609.3 1000.1h7.8M224.5 1026.1h7.8M831.3 1026.1h2.7M498.3 1033.4h7.8M831.3 1033.4h2.7"/>
<path stroke="#fffc00" stroke-width="4" d="M653.7 904h7.8M668.5 904h15.2M698.1 904h7.8M231.9 907.6h7.8M276.3 907.6h7.8M298.5 907.6h30M335.5 907.6h7.8M379.9 907.6h7.8M394.7 907.6h7.8M409.5 907.6h22.6M439.1 907.6h7.8M468.7 907.6h7.8M609.3 907.6h7.8M624.1 907.6h7.8M638.9 907.6h7.8M653.7 907.6h15.2M712.9 907.6h7.8M735.1 907.6h7.8M749.9 907.6h15.2M772.1 907.6h22.6M1045.9 907.6h7.8M1105.1 907.6h7.8M1142.1 907.6h7.8M1156.9 907.6h22.6M1193.9 907.6h7.8M1230.9 907.6h15.2M1253.1 907.6h7.8M1267.9 907.6h7.8M1290.1 907.6h.8M1393.7 907.6h7.8M1415.9 907.6h7.8M1438.1 907.6h7.8M1482.5 907.6h7.8M231.9 911.4h15.2M276.3 911.4h7.8M379.9 911.4h7.8M394.7 911.4h15.2M424.3 911.4h7.8M468.7 911.4h15.2M498.3 911.4h7.8M520.5 911.4h7.8M535.3 911.4h37.4M594.5 911.4h7.8M609.3 911.4h15.2M638.9 911.4h7.8M794.3 911.4h7.8M823.9 911.4h7.8M1045.9 911.4h7.8M1090.3 911.4h15.2M1142.1 911.4h7.8M1193.9 911.4h7.8M1208.7 911.4h7.8M1253.1 911.4h15.2M1393.7 911.4h7.8M1445.5 911.4h7.8M1467.7 911.4h7.8M1482.5 911.4h7.8M476.1 915h7.8M1038.5 915h7.8M1090.3 915h7.8M1201.3 915h7.8M1216.1 915h7.8M1415.9 915h7.8M1445.5 915h7.8M1467.7 915h7.8M1482.5 915h7.8M1392 918.8h2.1M1489.9 918.8h4M1392 922.5h2.1M1408.5 922.5h7.8M224.5 926.1h7.8M246.7 926.1h15.2M335.5 926.1h7.8M350.3 926.1h15.2M394.7 926.1h7.8M409.5 926.1h7.8M453.9 926.1h7.8M476.1 926.1h15.2M550.1 926.1h7.8M587.1 926.1h7.8M1068.1 926.1h7.8M1423.3 926.1h7.8M246.7 929.9h15.2M283.7 929.9h7.8M357.7 929.9h7.8M461.3 929.9h7.8M498.3 929.9h7.8M513.1 929.9h15.2M550.1 929.9h15.2M572.3 929.9h7.8M587.1 929.9h7.8M1208.7 929.9h7.8M1392 929.9h2.1M1401.1 929.9h7.8M1423.3 929.9h7.8M1475.1 929.9h7.8M246.7 933.5h7.8M261.5 933.5h7.8M291.1 933.5h7.8M335.5 933.5h7.8M357.7 933.5h15.2M409.5 933.5h7.8M453.9 933.5h7.8M476.1 933.5h7.8M520.5 933.5h7.8M542.7 933.5h7.8M572.3 933.5h7.8M587.1 933.5h7.8M1038.5 933.5h22.6M1097.7 933.5h7.8M1223.5 933.5h7.8M1467.7 933.5h15.2M764.7 937.2h7.8M1149.5 937.2h7.8M749.9 941h7.8M772.1 941h7.8M1149.5 941h7.8M757.3 944.6h7.8M1119.9 944.6h7.8M1142.1 944.6h7.8M1179.1 944.6h7.8M735.1 948.4h7.8M727.7 955.8h7.8M661.1 959.5h7.8M698.1 963.1h7.8M698.1 966.9h7.8M690.7 985.4h7.8M609.3 992.8h7.8M646.3 992.8h7.8M646.3 1000.1h7.8M831.3 1018.6h2.7M831.3 1022.4h2.7M498.3 1029.8h7.8M1082.9 1033.4h7.8M757.3 1037.2h7.8"/>
<path stroke="#ffe400" stroke-width="4" d="M683.3 904h7.8M342.9 907.6h7.8M490.9 907.6h7.8M668.5 907.6h7.8M764.7 907.6h7.8M1075.5 907.6h7.8M1112.5 907.6h7.8M1149.5 907.6h7.8M1179.1 907.6h7.8M320.7 911.4h7.8M527.9 911.4h7.8M653.7 911.4h7.8M675.9 911.4h7.8M742.5 911.4h37.4M801.7 911.4h7.8M816.5 911.4h7.8M1119.9 911.4h7.8M1156.9 911.4h7.8M1171.7 911.4h7.8M1186.5 911.4h7.8M1238.3 911.4h7.8M1290.1 911.4h.8M283.7 915h7.8M328.1 915h7.8M350.3 915h30M402.1 915h7.8M416.9 915h15.2M520.5 915h7.8M557.5 915h7.8M572.3 915h7.8M587.1 915h7.8M601.9 915h15.2M786.9 915h7.8M1075.5 915h7.8M1105.1 915h7.8M1119.9 915h7.8M1156.9 915h15.2M1186.5 915h15.2M1245.7 915h7.8M1260.5 915h7.8M1393.7 915h7.8M1038.5 918.8h7.8M1208.7 918.8h7.8M1401.1 918.8h15.2M1438.1 918.8h22.6M1467.7 918.8h7.8M1482.5 918.8h7.8M1053.3 922.5h15.2M1401.1 922.5h7.8M1415.9 922.5h7.8M1452.9 922.5h15.2M1475.1 922.5h7.8M1489.9 922.5h4M261.5 926.1h15.2M298.5 926.1h7.8M313.3 926.1h7.8M372.5 926.1h7.8M402.1 926.1h7.8M809.1 926.1h7.8M823.9 926.1h7.8M1036.6 926.1h17.1M1082.9 926.1h15.2M1201.3 926.1h15.2M1223.5 926.1h7.8M1393.7 926.1h7.8M276.3 929.9h7.8M305.9 929.9h7.8M328.1 929.9h15.2M372.5 929.9h7.8M394.7 929.9h7.8M409.5 929.9h15.2M439.1 929.9h7.8M527.9 929.9h15.2M609.3 929.9h7.8M823.9 929.9h7.8M1036.6 929.9h2.3M1068.1 929.9h7.8M1090.3 929.9h15.2M1216.1 929.9h15.2M1393.7 929.9h7.8M1452.9 929.9h7.8M298.5 933.5h7.8M313.3 933.5h22.6M594.5 933.5h7.8M609.3 933.5h7.8M786.9 933.5h7.8M801.7 933.5h7.8M823.9 933.5h7.8M1036.6 933.5h2.3M1090.3 933.5h7.8M1208.7 933.5h15.2M1393.7 933.5h15.2M1482.5 933.5h7.8M749.9 944.6h7.8M690.7 948.4h7.8M712.9 948.4h7.8M675.9 952h7.8M690.7 952h7.8M705.5 952h7.8M668.5 955.8h7.8M698.1 955.8h7.8M720.3 955.8h7.8M698.1 959.5h7.8M601.9 963.1h7.8M705.5 966.9h7.8M690.7 989h7.8M601.9 1000.1h7.8"/>
<path stroke="#f7ff00" stroke-width="4" d="M690.7 904h7.8M727.7 904h7.8M239.3 907.6h7.8M261.5 907.6h15.2M283.7 907.6h7.8M357.7 907.6h7.8M402.1 907.6h7.8M453.9 907.6h7.8M476.1 907.6h15.2M505.7 907.6h7.8M527.9 907.6h30M572.3 907.6h7.8M594.5 907.6h15.2M742.5 907.6h7.8M794.3 907.6h22.6M823.9 907.6h7.8M1053.3 907.6h7.8M1068.1 907.6h7.8M1090.3 907.6h15.2M1208.7 907.6h7.8M1401.1 907.6h7.8M1445.5 907.6h15.2M246.7 911.4h7.8M261.5 911.4h15.2M283.7 911.4h7.8M298.5 911.4h7.8M328.1 911.4h7.8M350.3 911.4h30M387.3 911.4h7.8M409.5 911.4h7.8M453.9 911.4h7.8M587.1 911.4h7.8M601.9 911.4h7.8M831.3 911.4h2.7M1036.6 911.4h9.7M1053.3 911.4h7.8M1201.3 911.4h7.8M1216.1 911.4h15.2M1408.5 911.4h15.2M1452.9 911.4h7.8M1045.9 915h7.8M1208.7 915h7.8M1438.1 915h7.8M1452.9 915h7.8M1475.1 915h7.8M1489.9 915h4M283.7 926.1h15.2M365.1 926.1h7.8M446.5 926.1h7.8M461.3 926.1h7.8M513.1 926.1h7.8M572.3 926.1h7.8M601.9 926.1h7.8M1060.7 926.1h7.8M1392 926.1h2.1M1408.5 926.1h7.8M1475.1 926.1h7.8M1489.9 926.1h4M224.5 929.9h7.8M365.1 929.9h7.8M446.5 929.9h7.8M1408.5 929.9h7.8M1460.3 929.9h7.8M1489.9 929.9h4M254.1 933.5h7.8M283.7 933.5h7.8M387.3 933.5h7.8M424.3 933.5h15.2M461.3 933.5h7.8M557.5 933.5h7.8M1408.5 933.5h7.8M1438.1 933.5h7.8M1452.9 933.5h7.8M1489.9 933.5h4M772.1 937.2h7.8M1156.9 937.2h7.8M1282.7 937.2h7.8M764.7 941h7.8M1171.7 941h15.2M1282.7 941h7.8M490.9 944.6h7.8M779.5 944.6h7.8M1112.5 944.6h7.8M1156.9 944.6h7.8M690.7 955.8h7.8M712.9 955.8h7.8M675.9 959.5h7.8M661.1 966.9h7.8M712.9 985.4h7.8M675.9 989h7.8M646.3 996.5h7.8M1482.5 996.5h7.8M675.9 1003.9h7.8M1082.9 1029.8h7.8M757.3 1040.8h7.8M757.3 1044.6h7.8"/>
<path stroke="#dbd418" stroke-width="4" d="M833.6 904h5.5M860.9 904h7.8M883.1 904h7.8M957.1 904h7.8M971.9 904h15.2M833.6 937.2h5.5M890.5 937.2h22.6M934.9 937.2h7.8M957.1 937.2h7.8M971.9 937.2h7.8M846.1 941h7.8M868.3 941h7.8M912.7 941h7.8M927.5 941h7.8M964.5 941h7.8M986.7 941h7.8M1001.5 941h7.8M868.3 944.6h7.8M833.6 1015h5.5M905.3 1026.1h7.8M846.1 1029.8h7.8"/>
<path stroke="#e2d418" stroke-width="4" d="M838.7 904h7.8M1023.7 904h7.8M912.7 907.6h7.8M949.7 907.6h7.8M994.1 907.6h7.8M838.7 937.2h30M883.1 937.2h7.8M942.3 937.2h7.8M1023.7 937.2h7.8M833.6 941h5.5M890.5 941h7.8M920.1 941h7.8M934.9 941h7.8M949.7 941h15.2M971.9 941h7.8M1008.9 941h7.8M1023.7 941h7.8M912.7 944.6h7.8M964.5 944.6h7.8M994.1 944.6h15.2M853.5 1015h7.8M853.5 1018.6h7.8M890.5 1029.8h7.8"/>
<path stroke="#d4d418" stroke-width="4" d="M846.1 904h7.8M890.5 904h7.8M920.1 904h22.6M949.7 904h7.8M986.7 904h7.8M1008.9 904h7.8M912.7 937.2h7.8M927.5 937.2h7.8M979.3 937.2h7.8M1008.9 937.2h15.2M1031.1 937.2h5.9M1031.1 941h5.9M853.5 959.5h7.8M890.5 992.8h7.8M890.5 996.5h7.8M890.5 1015h7.8M833.6 1018.6h5.5M890.5 1018.6h7.8M890.5 1022.4h7.8M927.5 1022.4h7.8M905.3 1029.8h7.8"/>
<path stroke="#cdd418" stroke-width="4" d="M853.5 904h7.8M897.9 904h15.2M942.3 904h7.8M1016.3 904h7.8M1031.1 904h5.9M868.3 937.2h7.8M920.1 937.2h7.8M949.7 937.2h7.8M964.5 937.2h7.8M986.7 937.2h15.2M994.1 941h7.8M853.5 963.1h7.8M853.5 966.9h7.8M1023.7 1003.9h7.8M1023.7 1011.2h7.8M927.5 1015h7.8M927.5 1018.6h7.8M846.1 1022.4h7.8M846.1 1026.1h7.8M846.1 1033.4h7.8"/>
<path stroke="#b0d41e" stroke-width="4" d="M868.3 904h7.8M846.1 992.8h7.8M846.1 1018.6h7.8M897.9 1029.8h7.8"/>
<path stroke="#e9d418" stroke-width="4" d="M875.7 904h7.8M868.3 907.6h7.8M920.1 907.6h7.8M979.3 907.6h7.8M1001.5 907.6h7.8M868.3 911.4h7.8M905.3 911.4h7.8M964.5 911.4h7.8M994.1 911.4h7.8M875.7 937.2h7.8M853.5 941h15.2M897.9 941h15.2M942.3 941h7.8M979.3 941h7.8M1016.3 941h7.8M833.6 944.6h5.5M846.1 944.6h7.8M897.9 944.6h7.8M920.1 944.6h7.8M986.7 944.6h7.8M1008.9 944.6h7.8M1031.1 944.6h5.9M833.6 1022.4h5.5M853.5 1022.4h7.8M890.5 1026.1h7.8M905.3 1033.4h7.8"/>
<path stroke="#c1d41a" stroke-width="4" d="M912.7 904h7.8M964.5 904h7.8M994.1 904h15.2M1001.5 937.2h7.8M846.1 996.5h7.8M846.1 1000.1h7.8M890.5 1000.1h7.8M1023.7 1007.5h7.8M897.9 1033.4h7.8"/>
<path stroke="#bde047" stroke-width="4" d="M1290.5 904h14.8M1319.7 904h22.6M1349.3 904h15.2M1304.9 937.2h7.8M1304.9 941h7.8M1327.1 941h7.8M1349.3 941h7.8M1304.9 944.6h7.8M1341.9 944.6h22.6M1371.5 944.6h15.2M1378.9 996.5h7.8M1378.9 1003.9h7.8M1378.9 1007.5h7.8"/>
<path stroke="#b6e047" stroke-width="4" d="M1304.9 904h7.8M1371.5 904h15.2M1327.1 937.2h7.8M1349.3 937.2h22.6M1341.9 941h7.8M1364.1 941h22.6M1386.3 944.6h6.1M1297.5 992.8h7.8M1378.9 992.8h7.8"/>
<path stroke="#cbe047" stroke-width="4" d="M1312.3 904h7.8M1364.1 904h7.8M1341.9 907.6h7.8M1386.3 907.6h6.1M1386.3 915h6.1M1290.5 937.2h7.4M1312.3 937.2h7.8M1290.5 941h14.8M1319.7 941h7.8M1297.5 944.6h7.8M1327.1 944.6h7.8M1364.1 944.6h7.8"/>
<path stroke="#aae049" stroke-width="4" d="M1341.9 904h7.8M1386.3 904h6.1M1334.5 937.2h15.2M1371.5 937.2h7.8M1378.9 959.5h7.8M1297.5 996.5h7.8M1290.5 1000.1h14.8M1378.9 1000.1h7.8M1356.7 1007.5h7.8"/>
<path stroke="#82ff0f" stroke-width="4" d="M1489.9 904h4M224.5 937.2h15.2M246.7 937.2h15.2M409.5 937.2h7.8M446.5 937.2h7.8M513.1 937.2h7.8M564.9 937.2h7.8M587.1 937.2h7.8M1408.5 937.2h7.8M1452.9 937.2h7.8M1392 941h2.1M1408.5 941h7.8M1489.9 941h4M772.1 948.4h7.8M1038.5 948.4h7.8M1068.1 948.4h7.8M1134.7 948.4h7.8M1179.1 948.4h7.8M1393.7 948.4h7.8M1075.5 952h7.8M1149.5 952h7.8M1430.7 952h7.8M772.1 955.8h7.8M1075.5 955.8h7.8M476.1 959.5h7.8M757.3 959.5h7.8M1482.5 963.1h7.8M557.5 966.9h7.8M772.1 966.9h7.8M1097.7 966.9h7.8M1186.5 966.9h7.8M1415.9 966.9h7.8M661.1 970.5h7.8M1112.5 970.5h7.8M1475.1 970.5h7.8M572.3 974.2h7.8M675.9 974.2h7.8M735.1 974.2h7.8M1475.1 974.2h7.8M1112.5 978h7.8M231.9 981.6h7.8M698.1 985.4h7.8M335.5 992.8h7.8M668.5 992.8h7.8M764.7 992.8h7.8M801.7 992.8h7.8M1238.3 992.8h7.8M1401.1 992.8h7.8M1423.3 992.8h7.8M231.9 996.5h7.8M335.5 996.5h7.8M416.9 996.5h7.8M483.5 996.5h7.8M498.3 996.5h7.8M668.5 996.5h7.8M801.7 996.5h7.8M1415.9 996.5h7.8M527.9 1000.1h7.8M675.9 1000.1h7.8M764.7 1000.1h7.8M1112.5 1000.1h7.8M1401.1 1000.1h7.8M1423.3 1000.1h7.8M365.1 1003.9h7.8M735.1 1003.9h7.8M1260.5 1003.9h7.8M365.1 1007.5h7.8M365.1 1011.2h7.8M387.3 1011.2h7.8M683.3 1011.2h7.8M1179.1 1011.2h7.8M550.1 1015h7.8M823.9 1015h7.8M1238.3 1015h7.8M254.1 1018.6h7.8M498.3 1018.6h7.8M823.9 1018.6h7.8M1223.5 1018.6h7.8M1423.3 1018.6h7.8M1438.1 1018.6h7.8M550.1 1022.4h7.8M712.9 1022.4h7.8M1438.1 1022.4h7.8M342.9 1026.1h7.8M1075.5 1026.1h7.8M1075.5 1029.8h7.8M735.1 1033.4h7.8"/>
<path stroke="#f6d218" stroke-width="4" d="M833.6 907.6h27.7M927.5 907.6h15.2M957.1 907.6h7.8M846.1 911.4h7.8M890.5 911.4h7.8M920.1 911.4h7.8M934.9 911.4h7.8M949.7 911.4h7.8M979.3 911.4h7.8M1008.9 911.4h15.2M838.7 941h7.8M875.7 941h7.8M838.7 944.6h7.8M853.5 944.6h15.2M875.7 944.6h15.2M905.3 944.6h7.8M971.9 944.6h15.2M1023.7 944.6h7.8M890.5 1033.4h7.8"/>
<path stroke="#f0d418" stroke-width="4" d="M860.9 907.6h7.8M890.5 907.6h7.8M905.3 907.6h7.8M942.3 907.6h7.8M964.5 907.6h15.2M986.7 907.6h7.8M1008.9 907.6h15.2M1031.1 907.6h5.9M912.7 911.4h7.8M927.5 911.4h7.8M986.7 911.4h7.8M1001.5 911.4h7.8M1031.1 911.4h5.9M883.1 941h7.8M890.5 944.6h7.8M927.5 944.6h30M1016.3 944.6h7.8"/>
<path stroke="#f6c118" stroke-width="4" d="M875.7 907.6h7.8M838.7 911.4h7.8M875.7 911.4h7.8M868.3 915h7.8M890.5 915h7.8M905.3 915h22.6M964.5 915h7.8M986.7 915h22.6M1031.1 915h5.9M994.1 926.1h7.8M912.7 933.5h7.8M986.7 933.5h7.8M833.6 1029.8h5.5"/>
<path stroke="#f6ca18" stroke-width="4" d="M883.1 907.6h7.8M897.9 907.6h7.8M1023.7 907.6h7.8M833.6 911.4h5.5M853.5 911.4h15.2M883.1 911.4h7.8M897.9 911.4h7.8M942.3 911.4h7.8M957.1 911.4h7.8M971.9 911.4h7.8M1023.7 911.4h7.8M912.7 929.9h7.8M994.1 929.9h7.8M957.1 944.6h7.8M833.6 1026.1h5.5"/>
<path stroke="#ffd800" stroke-width="4" d="M1134.7 907.6h7.8M1282.7 907.6h7.8M1430.7 907.6h7.8M646.3 911.4h7.8M690.7 911.4h37.4M786.9 911.4h7.8M1075.5 911.4h7.8M1127.3 911.4h7.8M1164.3 911.4h7.8M1179.1 911.4h7.8M1245.7 911.4h7.8M1267.9 911.4h22.6M1430.7 911.4h7.8M231.9 915h15.2M261.5 915h15.2M305.9 915h7.8M320.7 915h7.8M379.9 915h22.6M461.3 915h7.8M498.3 915h15.2M535.3 915h22.6M594.5 915h7.8M1036.6 915h2.3M1142.1 915h7.8M1253.1 915h7.8M1267.9 915h15.2M1290.1 915h.8M1430.7 915h7.8M461.3 918.8h7.8M1036.6 918.8h2.3M1045.9 918.8h15.2M1068.1 918.8h7.8M1090.3 918.8h7.8M1223.5 918.8h15.2M1415.9 918.8h7.8M1038.5 922.5h15.2M1090.3 922.5h7.8M1208.7 922.5h22.6M1467.7 922.5h7.8M1482.5 922.5h7.8M276.3 926.1h7.8M342.9 926.1h7.8M564.9 926.1h7.8M594.5 926.1h7.8M609.3 926.1h7.8M801.7 926.1h7.8M1105.1 926.1h7.8M1186.5 926.1h7.8M1238.3 926.1h7.8M231.9 929.9h15.2M313.3 929.9h7.8M424.3 929.9h7.8M579.7 929.9h7.8M594.5 929.9h7.8M786.9 929.9h15.2M816.5 929.9h7.8M1238.3 929.9h7.8M1415.9 929.9h7.8M1438.1 929.9h7.8M276.3 933.5h7.8M342.9 933.5h7.8M794.3 933.5h7.8M1082.9 933.5h7.8M1105.1 933.5h7.8M1230.9 933.5h7.8M735.1 944.6h7.8M653.7 948.4h15.2M705.5 948.4h7.8M727.7 948.4h7.8M646.3 952h15.2M668.5 952h7.8M683.3 952h7.8M698.1 952h7.8M712.9 952h7.8M727.7 952h7.8M683.3 955.8h7.8M705.5 963.1h7.8M720.3 963.1h7.8M720.3 966.9h7.8M224.5 1029.8h7.8"/>
<path stroke="#dfd647" stroke-width="4" d="M1290.5 907.6h7.4M1312.3 907.6h7.8M1327.1 907.6h7.8M1304.9 911.4h7.8M1327.1 911.4h15.2M1304.9 915h7.8M1349.3 915h15.2M1378.9 922.5h7.8M1371.5 926.1h7.8M1341.9 929.9h7.8M1371.5 929.9h15.2M1334.5 933.5h15.2M1356.7 933.5h7.8M1378.9 933.5h7.8M1364.1 1026.1h7.8M1364.1 1029.8h7.8M1364.1 1033.4h7.8"/>
<path stroke="#d9e047" stroke-width="4" d="M1297.5 907.6h7.8M1334.5 907.6h7.8M1349.3 907.6h15.2M1371.5 907.6h7.8M1371.5 911.4h15.2M1341.9 915h7.8M1386.3 926.1h6.1M1386.3 929.9h6.1M1386.3 933.5h6.1M1312.3 944.6h15.2"/>
<path stroke="#d2e047" stroke-width="4" d="M1304.9 907.6h7.8M1386.3 911.4h6.1M1378.9 915h7.8M1319.7 937.2h7.8M1312.3 941h7.8M1290.5 944.6h7.4"/>
<path stroke="#dfcd47" stroke-width="4" d="M1319.7 907.6h7.8M1364.1 907.6h7.8M1290.5 911.4h14.8M1364.1 911.4h7.8M1327.1 915h7.8M1364.1 915h7.8M1341.9 918.8h7.8M1378.9 918.8h7.8M1334.5 926.1h30M1378.9 926.1h7.8M1349.3 929.9h15.2M1371.5 933.5h7.8"/>
<path stroke="#dfde47" stroke-width="4" d="M1378.9 907.6h7.8M1341.9 911.4h22.6M1334.5 915h7.8M1371.5 915h7.8M1386.3 918.8h6.1M1386.3 922.5h6.1"/>
<path stroke="#ffcc00" stroke-width="4" d="M342.9 911.4h7.8M490.9 911.4h7.8M668.5 911.4h7.8M1112.5 911.4h7.8M1134.7 911.4h7.8M276.3 915h7.8M298.5 915h7.8M313.3 915h7.8M409.5 915h7.8M453.9 915h7.8M468.7 915h7.8M483.5 915h7.8M527.9 915h7.8M564.9 915h7.8M579.7 915h7.8M801.7 915h15.2M1127.3 915h7.8M1179.1 915h7.8M1282.7 915h7.8M224.5 918.8h7.8M246.7 918.8h7.8M283.7 918.8h15.2M357.7 918.8h7.8M476.1 918.8h7.8M498.3 918.8h7.8M513.1 918.8h7.8M557.5 918.8h7.8M572.3 918.8h7.8M1075.5 918.8h7.8M1097.7 918.8h7.8M1216.1 918.8h7.8M1238.3 918.8h7.8M1393.7 918.8h7.8M224.5 922.5h7.8M291.1 922.5h7.8M431.7 922.5h7.8M461.3 922.5h7.8M498.3 922.5h7.8M513.1 922.5h7.8M1082.9 922.5h7.8M1097.7 922.5h7.8M1201.3 922.5h7.8M1393.7 922.5h7.8M1445.5 922.5h7.8M490.9 926.1h7.8M579.7 926.1h7.8M786.9 926.1h7.8M816.5 926.1h7.8M1097.7 926.1h7.8M1193.9 926.1h7.8M1230.9 926.1h7.8M342.9 929.9h7.8M490.9 929.9h7.8M801.7 929.9h15.2M1082.9 929.9h7.8M1230.9 929.9h7.8M1430.7 929.9h7.8M779.5 933.5h7.8M816.5 933.5h7.8M831.3 933.5h2.7M1075.5 933.5h7.8M1238.3 933.5h7.8M1253.1 933.5h7.8M1430.7 933.5h7.8M653.7 941h15.2M727.7 941h15.2M646.3 944.6h7.8M661.1 944.6h7.8M690.7 944.6h7.8M712.9 944.6h15.2M646.3 948.4h7.8M675.9 948.4h7.8M698.1 948.4h7.8M720.3 948.4h7.8M601.9 959.5h7.8M705.5 959.5h7.8M601.9 966.9h7.8M601.9 996.5h7.8"/>
<path stroke="#ffc000" stroke-width="4" d="M683.3 911.4h7.8M1149.5 911.4h7.8M342.9 915h7.8M439.1 915h7.8M779.5 915h7.8M794.3 915h7.8M816.5 915h7.8M1112.5 915h7.8M1171.7 915h7.8M254.1 918.8h15.2M313.3 918.8h7.8M328.1 918.8h7.8M350.3 918.8h7.8M365.1 918.8h7.8M379.9 918.8h15.2M409.5 918.8h7.8M424.3 918.8h15.2M446.5 918.8h7.8M483.5 918.8h7.8M520.5 918.8h7.8M535.3 918.8h7.8M550.1 918.8h7.8M587.1 918.8h7.8M601.9 918.8h7.8M831.3 918.8h2.7M1082.9 918.8h7.8M1105.1 918.8h7.8M1186.5 918.8h7.8M246.7 922.5h15.2M283.7 922.5h7.8M350.3 922.5h15.2M379.9 922.5h7.8M416.9 922.5h7.8M453.9 922.5h7.8M476.1 922.5h15.2M550.1 922.5h15.2M587.1 922.5h7.8M1036.6 922.5h2.3M1068.1 922.5h7.8M1193.9 922.5h7.8M1238.3 922.5h7.8M779.5 926.1h7.8M831.3 926.1h2.7M1075.5 926.1h7.8M1430.7 926.1h7.8M831.3 929.9h2.7M1075.5 929.9h7.8M1105.1 929.9h7.8M1186.5 929.9h15.2M1253.1 929.9h7.8M490.9 933.5h7.8M809.1 933.5h7.8M1171.7 933.5h7.8M1186.5 933.5h15.2M1245.7 933.5h7.8M1260.5 933.5h7.8M668.5 941h15.2M653.7 944.6h7.8M668.5 944.6h7.8M683.3 944.6h7.8M698.1 944.6h15.2M668.5 948.4h7.8M720.3 959.5h7.8M224.5 1033.4h7.8"/>
<path stroke="#dfc547" stroke-width="4" d="M1312.3 911.4h7.8M1297.5 915h7.8M1371.5 918.8h7.8M1341.9 922.5h7.8M1334.5 929.9h7.8M1364.1 929.9h7.8M1349.3 933.5h7.8M1364.1 933.5h7.8"/>
<path stroke="#dfbc47" stroke-width="4" d="M1319.7 911.4h7.8M1290.5 915h7.4M1319.7 915h7.8M1349.3 918.8h15.2M1356.7 922.5h7.8M1371.5 922.5h7.8M1364.1 926.1h7.8M1327.1 933.5h7.8"/>
<path stroke="#ffb200" stroke-width="4" d="M490.9 915h7.8M1134.7 915h7.8M239.3 918.8h7.8M268.9 918.8h15.2M298.5 918.8h15.2M335.5 918.8h7.8M372.5 918.8h7.8M394.7 918.8h15.2M416.9 918.8h7.8M453.9 918.8h7.8M468.7 918.8h7.8M527.9 918.8h7.8M542.7 918.8h7.8M609.3 918.8h7.8M823.9 918.8h7.8M1193.9 918.8h7.8M1245.7 918.8h7.8M1260.5 918.8h7.8M1430.7 918.8h7.8M239.3 922.5h7.8M261.5 922.5h15.2M305.9 922.5h7.8M365.1 922.5h15.2M394.7 922.5h7.8M424.3 922.5h7.8M446.5 922.5h7.8M468.7 922.5h7.8M520.5 922.5h30M572.3 922.5h7.8M1075.5 922.5h7.8M1105.1 922.5h7.8M1430.7 922.5h15.2M764.7 926.1h15.2M1171.7 926.1h15.2M1245.7 926.1h7.8M772.1 929.9h15.2M1112.5 929.9h15.2M1179.1 929.9h7.8M1245.7 929.9h7.8M1267.9 929.9h7.8M1112.5 933.5h7.8M1156.9 933.5h15.2M1267.9 933.5h7.8M1290.1 933.5h.8M653.7 937.2h15.2M690.7 937.2h15.2M727.7 937.2h15.2M646.3 941h7.8M690.7 941h7.8M712.9 941h15.2M675.9 944.6h7.8M727.7 944.6h7.8M683.3 948.4h7.8"/>
<path stroke="#ff8700" stroke-width="4" d="M616.7 915h7.8M690.7 915h7.8M735.1 915h7.8M735.1 918.8h15.2M764.7 918.8h7.8M779.5 918.8h15.2M801.7 918.8h7.8M816.5 918.8h7.8M1119.9 918.8h7.8M1134.7 918.8h15.2M1171.7 918.8h7.8M342.9 922.5h7.8M742.5 922.5h7.8M757.3 922.5h7.8M772.1 922.5h7.8M794.3 922.5h7.8M809.1 922.5h15.2M1127.3 922.5h7.8M1156.9 922.5h15.2M1253.1 922.5h7.8M1290.1 922.5h.8M661.1 926.1h15.2M735.1 926.1h7.8M661.1 929.9h7.8M757.3 929.9h7.8M1127.3 929.9h15.2M1156.9 929.9h7.8M653.7 933.5h15.2M690.7 933.5h7.8M742.5 933.5h7.8M1134.7 933.5h7.8M1149.5 933.5h7.8M1282.7 933.5h7.8M683.3 937.2h7.8"/>
<path stroke="#ff5e00" stroke-width="4" d="M624.1 915h7.8M683.3 918.8h7.8M712.9 918.8h15.2M646.3 922.5h7.8M698.1 922.5h15.2M683.3 926.1h7.8M712.9 926.1h22.6M1149.5 926.1h7.8M698.1 929.9h15.2M720.3 929.9h7.8M683.3 933.5h7.8M698.1 933.5h15.2M720.3 933.5h7.8M624.1 978h7.8"/>
<path stroke="#ff7900" stroke-width="4" d="M631.5 915h7.8M646.3 915h7.8M661.1 915h22.6M698.1 915h7.8M712.9 915h22.6M490.9 918.8h7.8M653.7 918.8h7.8M690.7 918.8h7.8M727.7 918.8h7.8M757.3 918.8h7.8M772.1 918.8h7.8M1282.7 918.8h7.8M690.7 922.5h7.8M779.5 922.5h15.2M1112.5 922.5h7.8M1142.1 922.5h7.8M1275.3 922.5h7.8M646.3 926.1h15.2M675.9 926.1h7.8M690.7 926.1h7.8M705.5 926.1h7.8M1282.7 926.1h7.8M653.7 929.9h7.8M668.5 929.9h7.8M690.7 929.9h7.8M727.7 929.9h15.2M1142.1 929.9h7.8M668.5 933.5h7.8M735.1 933.5h7.8M631.5 996.5h7.8M624.1 1003.9h7.8M624.1 1007.5h7.8"/>
<path stroke="#ff6b00" stroke-width="4" d="M638.9 915h7.8M653.7 915h7.8M683.3 915h7.8M705.5 915h7.8M616.7 918.8h7.8M646.3 918.8h7.8M661.1 918.8h22.6M698.1 918.8h15.2M749.9 918.8h7.8M1149.5 918.8h7.8M668.5 922.5h22.6M712.9 922.5h30M764.7 922.5h7.8M1134.7 922.5h7.8M1149.5 922.5h7.8M1282.7 922.5h7.8M646.3 929.9h7.8M675.9 929.9h7.8M712.9 929.9h7.8M1149.5 929.9h7.8M646.3 933.5h7.8M675.9 933.5h7.8M712.9 933.5h7.8M727.7 933.5h7.8M631.5 992.8h7.8M631.5 1007.5h7.8"/>
<path stroke="#ffa400" stroke-width="4" d="M742.5 915h37.4M1149.5 915h7.8M231.9 918.8h7.8M320.7 918.8h7.8M439.1 918.8h7.8M505.7 918.8h7.8M594.5 918.8h7.8M809.1 918.8h7.8M1127.3 918.8h7.8M1164.3 918.8h7.8M1253.1 918.8h7.8M1267.9 918.8h7.8M1290.1 918.8h.8M231.9 922.5h7.8M298.5 922.5h7.8M313.3 922.5h7.8M335.5 922.5h7.8M387.3 922.5h7.8M402.1 922.5h15.2M439.1 922.5h7.8M505.7 922.5h7.8M564.9 922.5h7.8M601.9 922.5h15.2M823.9 922.5h10.1M1186.5 922.5h7.8M1230.9 922.5h7.8M1245.7 922.5h7.8M742.5 926.1h7.8M1112.5 926.1h15.2M1156.9 926.1h15.2M1253.1 926.1h7.8M1267.9 926.1h15.2M1260.5 929.9h7.8M1275.3 929.9h7.8M1290.1 929.9h.8M757.3 933.5h7.8M772.1 933.5h7.8M1119.9 933.5h15.2M1275.3 933.5h7.8M646.3 937.2h7.8M675.9 937.2h7.8M705.5 937.2h22.6M683.3 941h7.8M698.1 941h15.2"/>
<path stroke="#f6b918" stroke-width="4" d="M833.6 915h5.5M853.5 915h7.8M934.9 915h15.2M957.1 915h7.8M979.3 915h7.8M1008.9 915h22.6M994.1 918.8h7.8M1001.5 922.5h7.8M868.3 926.1h7.8M912.7 926.1h7.8M1001.5 926.1h7.8M1031.1 926.1h5.9M920.1 929.9h7.8M964.5 929.9h7.8M1031.1 929.9h5.9M868.3 933.5h7.8M890.5 933.5h7.8M964.5 933.5h7.8M994.1 933.5h7.8M1016.3 933.5h7.8M1031.1 933.5h5.9"/>
<path stroke="#f69418" stroke-width="4" d="M838.7 915h7.8M846.1 918.8h15.2M934.9 918.8h7.8M971.9 918.8h7.8M833.6 922.5h5.5M853.5 922.5h7.8M883.1 922.5h7.8M897.9 922.5h7.8M1016.3 922.5h15.2M838.7 929.9h7.8"/>
<path stroke="#f6a818" stroke-width="4" d="M846.1 915h7.8M868.3 918.8h7.8M912.7 918.8h15.2M964.5 918.8h7.8M1016.3 918.8h7.8M912.7 922.5h15.2M986.7 922.5h15.2M1008.9 922.5h7.8M853.5 926.1h15.2M897.9 926.1h7.8M949.7 926.1h15.2M1008.9 926.1h7.8M846.1 929.9h7.8M860.9 929.9h7.8M934.9 929.9h7.8M949.7 929.9h15.2M971.9 929.9h7.8M1001.5 929.9h7.8M833.6 933.5h5.5M846.1 933.5h7.8M883.1 933.5h7.8M949.7 933.5h7.8M971.9 933.5h7.8"/>
<path stroke="#f6b018" stroke-width="4" d="M860.9 915h7.8M875.7 915h7.8M897.9 915h7.8M927.5 915h7.8M949.7 915h7.8M971.9 915h7.8M1031.1 922.5h5.9M833.6 926.1h5.5M905.3 926.1h7.8M920.1 926.1h30M964.5 926.1h15.2M986.7 926.1h7.8M1016.3 926.1h15.2M833.6 929.9h5.5M868.3 929.9h7.8M897.9 929.9h15.2M927.5 929.9h7.8M942.3 929.9h7.8M986.7 929.9h7.8M1008.9 929.9h22.6M853.5 933.5h7.8M897.9 933.5h15.2M920.1 933.5h30M957.1 933.5h7.8M979.3 933.5h7.8M1001.5 933.5h15.2M833.6 1033.4h5.5"/>
<path stroke="#f69e18" stroke-width="4" d="M883.1 915h7.8M833.6 918.8h5.5M890.5 918.8h22.6M927.5 918.8h7.8M942.3 918.8h22.6M979.3 918.8h15.2M1001.5 918.8h15.2M1031.1 918.8h5.9M846.1 922.5h7.8M868.3 922.5h7.8M890.5 922.5h7.8M905.3 922.5h7.8M927.5 922.5h7.8M942.3 922.5h15.2M964.5 922.5h15.2M838.7 926.1h15.2M875.7 926.1h22.6M979.3 926.1h7.8M853.5 929.9h7.8M875.7 929.9h22.6M979.3 929.9h7.8M838.7 933.5h7.8M860.9 933.5h7.8M1023.7 933.5h7.8"/>
<path stroke="#dfb447" stroke-width="4" d="M1312.3 915h7.8M1334.5 918.8h7.8M1349.3 922.5h7.8M1364.1 922.5h7.8M1327.1 926.1h7.8M1327.1 929.9h7.8M1304.9 933.5h7.8"/>
<path stroke="#ff9500" stroke-width="4" d="M342.9 918.8h7.8M564.9 918.8h7.8M579.7 918.8h7.8M794.3 918.8h7.8M1112.5 918.8h7.8M1156.9 918.8h7.8M1179.1 918.8h7.8M1275.3 918.8h7.8M276.3 922.5h7.8M320.7 922.5h15.2M490.9 922.5h7.8M579.7 922.5h7.8M594.5 922.5h7.8M653.7 922.5h15.2M749.9 922.5h7.8M801.7 922.5h7.8M1119.9 922.5h7.8M1171.7 922.5h15.2M1260.5 922.5h15.2M749.9 926.1h15.2M1127.3 926.1h22.6M1260.5 926.1h7.8M1290.1 926.1h.8M742.5 929.9h15.2M764.7 929.9h7.8M1164.3 929.9h15.2M1282.7 929.9h7.8M749.9 933.5h7.8M764.7 933.5h7.8M1142.1 933.5h7.8M1179.1 933.5h7.8M668.5 937.2h7.8M631.5 1000.1h7.8"/>
<path stroke="#ff0700" stroke-width="4" d="M624.1 918.8h7.8M631.5 922.5h7.8M631.5 926.1h7.8M631.5 978h7.8M631.5 985.4h7.8"/>
<path stroke="#ff2400" stroke-width="4" d="M631.5 918.8h7.8M638.9 922.5h7.8M616.7 926.1h7.8"/>
<path stroke="#ff4100" stroke-width="4" d="M638.9 918.8h7.8M616.7 922.5h7.8M624.1 970.5h7.8M631.5 989h7.8M624.1 1000.1h7.8M631.5 1003.9h7.8"/>
<path stroke="#f68018" stroke-width="4" d="M838.7 918.8h7.8M875.7 918.8h7.8M957.1 922.5h7.8"/>
<path stroke="#f68a18" stroke-width="4" d="M860.9 918.8h7.8M883.1 918.8h7.8M1023.7 918.8h7.8M838.7 922.5h7.8M860.9 922.5h7.8M875.7 922.5h7.8M934.9 922.5h7.8M979.3 922.5h7.8M875.7 933.5h7.8"/>
<path stroke="#df9647" stroke-width="4" d="M1290.5 918.8h7.4M1319.7 918.8h7.8M1304.9 922.5h7.8M1290.5 926.1h14.8M1319.7 926.1h7.8"/>
<path stroke="#dfa047" stroke-width="4" d="M1297.5 918.8h7.8M1290.5 929.9h22.2M1319.7 929.9h7.8M1290.5 933.5h14.8M1312.3 933.5h7.8"/>
<path stroke="#dfaa47" stroke-width="4" d="M1304.9 918.8h7.8M1327.1 918.8h7.8M1364.1 918.8h7.8M1327.1 922.5h15.2M1304.9 926.1h7.8M1319.7 933.5h7.8"/>
<path stroke="#df8247" stroke-width="4" d="M1312.3 918.8h7.8M1312.3 922.5h7.8"/>
<path stroke="#fc0000" stroke-width="4" d="M624.1 922.5h7.8M624.1 926.1h7.8M624.1 929.9h7.8M638.9 929.9h7.8M616.7 933.5h7.8M616.7 937.2h7.8M631.5 974.2h7.8"/>
<path stroke="#df8c47" stroke-width="4" d="M1290.5 922.5h14.8M1319.7 922.5h7.8M1312.3 926.1h7.8M1312.3 929.9h7.8"/>
<path stroke="#ff1600" stroke-width="4" d="M638.9 926.1h7.8M616.7 929.9h7.8M624.1 992.8h7.8"/>
<path stroke="#ff5000" stroke-width="4" d="M698.1 926.1h7.8M683.3 929.9h7.8M624.1 974.2h7.8"/>
<path stroke="#f50000" stroke-width="4" d="M631.5 929.9h7.8M616.7 944.6h7.8M631.5 970.5h7.8"/>
<path stroke="#e70000" stroke-width="4" d="M624.1 933.5h7.8M631.5 937.2h15.2M616.7 941h7.8M638.9 944.6h7.8M616.7 948.4h7.8M638.9 952h7.8M616.7 966.9h7.8"/>
<path stroke="#ee0000" stroke-width="4" d="M631.5 933.5h15.2M616.7 952h7.8M616.7 955.8h7.8"/>
<path stroke="#69ff16" stroke-width="4" d="M283.7 937.2h7.8M365.1 937.2h7.8M431.7 937.2h7.8M461.3 937.2h7.8M476.1 937.2h7.8M1060.7 937.2h7.8M1392 937.2h2.1M1423.3 937.2h7.8M1475.1 937.2h7.8M1489.9 937.2h4M342.9 948.4h7.8M490.9 948.4h7.8M1045.9 948.4h7.8M1082.9 948.4h7.8M1171.7 948.4h7.8M1186.5 948.4h15.2M1282.7 948.4h7.8M1401.1 948.4h7.8M1438.1 948.4h7.8M1045.9 952h7.8M1068.1 952h7.8M1127.3 952h7.8M1179.1 952h15.2M1282.7 952h8.2M1482.5 952h7.8M1068.1 955.8h7.8M1112.5 955.8h22.6M1171.7 955.8h15.2M1230.9 955.8h7.8M1245.7 955.8h7.8M490.9 959.5h7.8M712.9 959.5h7.8M1036.6 959.5h2.3M1208.7 959.5h7.8M712.9 963.1h7.8M1038.5 963.1h7.8M1036.6 966.9h2.3M646.3 970.5h7.8M668.5 970.5h15.2M712.9 970.5h7.8M735.1 970.5h7.8M1186.5 970.5h7.8M646.3 974.2h7.8M1186.5 974.2h7.8M572.3 978h7.8M668.5 978h7.8M1475.1 978h7.8M483.5 985.4h7.8M735.1 985.4h7.8M483.5 989h7.8M231.9 992.8h7.8M498.3 992.8h7.8M594.5 992.8h7.8M749.9 992.8h7.8M1393.7 992.8h7.8M1393.7 996.5h15.2M335.5 1000.1h7.8M483.5 1000.1h7.8M668.5 1000.1h7.8M831.3 1000.1h2.7M1238.3 1000.1h7.8M1393.7 1000.1h7.8M1489.9 1000.1h4M468.7 1003.9h7.8M579.7 1003.9h7.8M1208.7 1003.9h7.8M1415.9 1003.9h7.8M542.7 1007.5h7.8M594.5 1007.5h7.8M705.5 1007.5h7.8M720.3 1007.5h7.8M1112.5 1007.5h7.8M1245.7 1007.5h7.8M1415.9 1007.5h7.8M461.3 1011.2h15.2M542.7 1011.2h7.8M624.1 1011.2h7.8M727.7 1011.2h7.8M1112.5 1011.2h7.8M601.9 1015h7.8M712.9 1015h7.8M387.3 1018.6h7.8M712.9 1018.6h7.8M387.3 1022.4h7.8M601.9 1022.4h7.8M1223.5 1022.4h7.8M1423.3 1022.4h7.8M365.1 1026.1h7.8M735.1 1026.1h7.8"/>
<path stroke="#cd0000" stroke-width="4" d="M624.1 937.2h7.8M624.1 944.6h15.2M616.7 959.5h7.8M631.5 959.5h7.8M631.5 963.1h15.2M624.1 989h7.8"/>
<path stroke="#c4e047" stroke-width="4" d="M1297.5 937.2h7.8M1334.5 941h7.8M1356.7 941h7.8M1334.5 944.6h7.8M1378.9 1011.2h7.8"/>
<path stroke="#99e04e" stroke-width="4" d="M1378.9 937.2h7.8M1364.1 948.4h7.8M1364.1 952h7.8M1364.1 959.5h7.8M1378.9 963.1h7.8M1290.5 992.8h7.4M1334.5 996.5h7.8M1334.5 1000.1h7.8M1327.1 1003.9h7.8M1356.7 1003.9h7.8M1327.1 1011.2h7.8"/>
<path stroke="#65e05b" stroke-width="4" d="M1386.3 937.2h6.1M1290.5 948.4h14.8M1349.3 948.4h15.2M1378.9 948.4h7.8M1319.7 952h7.8M1349.3 952h7.8M1378.9 952h7.8M1312.3 955.8h15.2M1349.3 955.8h7.8M1341.9 959.5h7.8M1371.5 959.5h7.8M1304.9 963.1h7.8M1304.9 970.5h7.8M1312.3 992.8h7.8M1312.3 996.5h15.2M1341.9 996.5h7.8M1327.1 1000.1h7.8M1364.1 1007.5h7.8M1371.5 1015h7.8M1386.3 1022.4h6.1"/>
<path stroke="#d60000" stroke-width="4" d="M624.1 941h7.8M631.5 948.4h7.8M638.9 959.5h7.8M631.5 966.9h7.8"/>
<path stroke="#e00000" stroke-width="4" d="M631.5 941h15.2M638.9 948.4h7.8M631.5 952h7.8M631.5 955.8h15.2M616.7 963.1h7.8"/>
<path stroke="#87e052" stroke-width="4" d="M1386.3 941h6.1M1312.3 948.4h15.2M1341.9 963.1h7.8M1364.1 963.1h15.2M1371.5 966.9h7.8M1334.5 992.8h7.8M1356.7 1011.2h7.8M1386.3 1015h6.1"/>
<path stroke="#1fff28" stroke-width="4" d="M231.9 948.4h7.8M320.7 948.4h7.8M350.3 948.4h7.8M372.5 948.4h7.8M424.3 948.4h7.8M439.1 948.4h7.8M483.5 948.4h7.8M498.3 948.4h7.8M520.5 948.4h15.2M550.1 948.4h7.8M572.3 948.4h22.6M801.7 948.4h7.8M1201.3 948.4h15.2M1460.3 948.4h7.8M231.9 952h15.2M298.5 952h7.8M320.7 952h7.8M335.5 952h7.8M372.5 952h7.8M409.5 952h7.8M453.9 952h7.8M527.9 952h7.8M564.9 952h7.8M594.5 952h7.8M609.3 952h7.8M786.9 952h15.2M1060.7 952h7.8M1097.7 952h7.8M1156.9 952h7.8M1201.3 952h7.8M1267.9 952h7.8M1392 952h2.1M1475.1 952h7.8M1489.9 952h4M239.3 955.8h7.8M298.5 955.8h7.8M313.3 955.8h7.8M409.5 955.8h7.8M550.1 955.8h7.8M579.7 955.8h7.8M594.5 955.8h7.8M794.3 955.8h7.8M1038.5 955.8h7.8M1097.7 955.8h7.8M1156.9 955.8h7.8M1201.3 955.8h30M1267.9 955.8h7.8M1290.1 955.8h.8M1392 955.8h2.1M1475.1 955.8h7.8M291.1 959.5h7.8M379.9 959.5h7.8M439.1 959.5h7.8M513.1 959.5h7.8M587.1 959.5h7.8M653.7 959.5h7.8M1045.9 959.5h7.8M1260.5 959.5h7.8M1275.3 959.5h7.8M291.1 963.1h7.8M394.7 963.1h7.8M483.5 963.1h7.8M609.3 963.1h7.8M653.7 963.1h7.8M668.5 963.1h7.8M794.3 963.1h7.8M1193.9 963.1h7.8M1260.5 963.1h7.8M550.1 966.9h7.8M594.5 966.9h7.8M816.5 966.9h7.8M1127.3 966.9h7.8M1179.1 966.9h7.8M564.9 970.5h7.8M1415.9 970.5h7.8M1430.7 970.5h7.8M557.5 974.2h7.8M601.9 978h7.8M1415.9 978h7.8M1430.7 978h7.8M742.5 981.6h7.8M757.3 981.6h7.8M1097.7 981.6h7.8M594.5 985.4h7.8M683.3 985.4h7.8M757.3 985.4h7.8M1097.7 985.4h7.8M1393.7 985.4h7.8M1475.1 985.4h15.2M683.3 989h7.8M735.1 989h7.8M757.3 989h7.8M1193.9 989h7.8M1467.7 989h7.8M1482.5 989h7.8M727.7 992.8h7.8M757.3 992.8h7.8M831.3 992.8h2.7M1149.5 992.8h7.8M1253.1 992.8h7.8M1467.7 992.8h7.8M239.3 996.5h7.8M320.7 996.5h7.8M379.9 996.5h7.8M513.1 996.5h7.8M727.7 996.5h7.8M1164.3 996.5h7.8M1186.5 996.5h7.8M1223.5 996.5h7.8M1467.7 996.5h7.8M320.7 1000.1h7.8M379.9 1000.1h7.8M572.3 1000.1h7.8M727.7 1000.1h7.8M757.3 1000.1h7.8M1149.5 1000.1h7.8M1164.3 1000.1h7.8M1230.9 1000.1h7.8M231.9 1003.9h7.8M313.3 1003.9h7.8M394.7 1003.9h7.8M542.7 1003.9h7.8M1475.1 1003.9h15.2M291.1 1007.5h7.8M446.5 1007.5h7.8M490.9 1007.5h7.8M505.7 1007.5h7.8M735.1 1007.5h7.8M1290.1 1007.5h.8M239.3 1011.2h7.8M268.9 1011.2h7.8M291.1 1011.2h7.8M305.9 1011.2h7.8M498.3 1011.2h15.2M638.9 1011.2h7.8M735.1 1011.2h7.8M1230.9 1011.2h7.8M1475.1 1011.2h7.8M542.7 1015h7.8M1171.7 1015h7.8M1438.1 1015h7.8M298.5 1018.6h7.8M690.7 1018.6h7.8M720.3 1018.6h7.8M1171.7 1018.6h7.8M1282.7 1018.6h7.8M1392 1018.6h2.1M690.7 1022.4h7.8M801.7 1022.4h7.8M1171.7 1022.4h7.8"/>
<path stroke="#38ff22" stroke-width="4" d="M239.3 948.4h7.8M276.3 948.4h7.8M298.5 948.4h15.2M379.9 948.4h7.8M394.7 948.4h7.8M409.5 948.4h15.2M505.7 948.4h7.8M594.5 948.4h7.8M609.3 948.4h7.8M786.9 948.4h7.8M809.1 948.4h7.8M1090.3 948.4h7.8M1105.1 948.4h7.8M1164.3 948.4h7.8M1216.1 948.4h7.8M1267.9 948.4h7.8M1423.3 948.4h7.8M1489.9 948.4h4M313.3 952h7.8M416.9 952h7.8M579.7 952h7.8M1053.3 952h7.8M1090.3 952h7.8M1119.9 952h7.8M1164.3 952h7.8M1208.7 952h15.2M1238.3 952h7.8M1401.1 952h30M1452.9 952h7.8M342.9 955.8h7.8M416.9 955.8h7.8M809.1 955.8h15.2M1090.3 955.8h7.8M1134.7 955.8h7.8M1193.9 955.8h7.8M1238.3 955.8h7.8M1260.5 955.8h7.8M1275.3 955.8h7.8M1423.3 955.8h7.8M1452.9 955.8h7.8M1467.7 955.8h7.8M1482.5 955.8h7.8M550.1 959.5h7.8M594.5 959.5h7.8M609.3 959.5h7.8M786.9 959.5h15.2M1090.3 959.5h7.8M379.9 963.1h7.8M476.1 963.1h7.8M1127.3 963.1h7.8M1179.1 963.1h7.8M1393.7 963.1h7.8M1445.5 963.1h7.8M379.9 966.9h7.8M476.1 966.9h15.2M668.5 966.9h7.8M579.7 970.5h7.8M712.9 974.2h7.8M1430.7 974.2h7.8M1186.5 978h7.8M313.3 981.6h7.8M483.5 981.6h7.8M683.3 981.6h7.8M1475.1 981.6h7.8M313.3 985.4h7.8M794.3 985.4h7.8M1186.5 985.4h15.2M313.3 989h7.8M239.3 992.8h7.8M320.7 992.8h7.8M513.1 992.8h7.8M572.3 992.8h7.8M690.7 992.8h7.8M1112.5 992.8h7.8M1164.3 992.8h7.8M1223.5 992.8h7.8M461.3 996.5h7.8M572.3 996.5h7.8M690.7 996.5h7.8M749.9 996.5h15.2M809.1 996.5h7.8M831.3 996.5h2.7M1112.5 996.5h7.8M239.3 1000.1h7.8M461.3 1000.1h7.8M550.1 1000.1h7.8M749.9 1000.1h7.8M1186.5 1000.1h7.8M1223.5 1000.1h7.8M1253.1 1000.1h7.8M461.3 1003.9h7.8M498.3 1003.9h7.8M749.9 1003.9h7.8M1401.1 1003.9h7.8M305.9 1007.5h15.2M468.7 1007.5h7.8M609.3 1007.5h7.8M816.5 1007.5h7.8M1401.1 1007.5h7.8M313.3 1011.2h7.8M446.5 1011.2h7.8M794.3 1011.2h7.8M816.5 1011.2h7.8M1208.7 1011.2h7.8M1290.1 1011.2h.8M387.3 1015h7.8M461.3 1015h7.8M535.3 1015h7.8M624.1 1015h7.8M720.3 1015h7.8M801.7 1015h7.8M1105.1 1015h7.8M1392 1015h2.1M1423.3 1015h7.8M616.7 1018.6h7.8M1105.1 1018.6h7.8M461.3 1022.4h7.8M1105.1 1022.4h7.8M1282.7 1022.4h7.8"/>
<path stroke="#51ff1c" stroke-width="4" d="M313.3 948.4h7.8M779.5 948.4h7.8M816.5 948.4h7.8M1053.3 948.4h7.8M1097.7 948.4h7.8M1119.9 948.4h15.2M1142.1 948.4h7.8M1156.9 948.4h7.8M1223.5 948.4h44.8M1275.3 948.4h7.8M1290.1 948.4h.8M1408.5 948.4h15.2M1445.5 948.4h15.2M1467.7 948.4h7.8M1482.5 948.4h7.8M342.9 952h7.8M490.9 952h7.8M772.1 952h15.2M1038.5 952h7.8M1082.9 952h7.8M1105.1 952h7.8M1134.7 952h15.2M1171.7 952h7.8M1193.9 952h7.8M1223.5 952h15.2M1245.7 952h22.6M1275.3 952h7.8M1438.1 952h15.2M1467.7 952h7.8M490.9 955.8h7.8M779.5 955.8h7.8M1045.9 955.8h15.2M1082.9 955.8h7.8M1105.1 955.8h7.8M1142.1 955.8h15.2M1164.3 955.8h7.8M1186.5 955.8h7.8M1253.1 955.8h7.8M1282.7 955.8h7.8M1393.7 955.8h15.2M1415.9 955.8h7.8M1438.1 955.8h7.8M483.5 959.5h7.8M668.5 959.5h7.8M816.5 959.5h7.8M1038.5 959.5h7.8M1127.3 959.5h7.8M1393.7 959.5h7.8M490.9 963.1h7.8M550.1 963.1h7.8M1036.6 963.1h2.3M1208.7 963.1h7.8M490.9 966.9h7.8M712.9 966.9h7.8M1038.5 966.9h7.8M1208.7 966.9h7.8M1393.7 966.9h7.8M557.5 970.5h7.8M239.3 974.2h7.8M661.1 974.2h7.8M646.3 978h7.8M661.1 978h7.8M712.9 978h7.8M735.1 981.6h7.8M1171.7 981.6h7.8M1186.5 981.6h7.8M794.3 989h7.8M1097.7 989h7.8M1186.5 989h7.8M1393.7 989h7.8M379.9 992.8h7.8M416.9 992.8h7.8M461.3 992.8h7.8M520.5 992.8h7.8M735.1 992.8h7.8M1179.1 992.8h15.2M1415.9 992.8h7.8M1489.9 992.8h4M594.5 996.5h7.8M735.1 996.5h7.8M1179.1 996.5h7.8M1238.3 996.5h7.8M1253.1 996.5h7.8M1489.9 996.5h4M416.9 1000.1h7.8M498.3 1000.1h7.8M594.5 1000.1h7.8M735.1 1000.1h7.8M801.7 1000.1h7.8M1179.1 1000.1h7.8M1245.7 1000.1h7.8M1415.9 1000.1h7.8M387.3 1003.9h7.8M453.9 1003.9h7.8M653.7 1003.9h7.8M698.1 1003.9h7.8M1112.5 1003.9h7.8M1142.1 1003.9h7.8M1179.1 1003.9h7.8M1245.7 1003.9h7.8M461.3 1007.5h7.8M498.3 1007.5h7.8M550.1 1007.5h7.8M727.7 1007.5h7.8M794.3 1007.5h7.8M1142.1 1007.5h7.8M1179.1 1007.5h7.8M1208.7 1007.5h7.8M1452.9 1007.5h7.8M394.7 1011.2h7.8M490.9 1011.2h7.8M594.5 1011.2h7.8M609.3 1011.2h7.8M1245.7 1011.2h7.8M1401.1 1011.2h7.8M498.3 1015h7.8M1193.9 1015h7.8M1223.5 1015h7.8M461.3 1018.6h7.8M601.9 1018.6h7.8M624.1 1018.6h7.8M1193.9 1018.6h7.8M498.3 1022.4h7.8M535.3 1022.4h7.8M616.7 1022.4h15.2M720.3 1022.4h7.8M1193.9 1022.4h7.8M1392 1022.4h2.1"/>
<path stroke="#c30000" stroke-width="4" d="M624.1 948.4h7.8M624.1 952h7.8M624.1 955.8h7.8M624.1 985.4h7.8"/>
<path stroke="#47d438" stroke-width="4" d="M833.6 948.4h5.5M890.5 948.4h7.8M949.7 948.4h7.8M986.7 948.4h7.8M1008.9 948.4h7.8M833.6 952h5.5M868.3 952h7.8M890.5 952h15.2M912.7 952h30M964.5 952h7.8M1001.5 952h22.6M1031.1 952h5.9M853.5 955.8h7.8M890.5 955.8h22.6M927.5 955.8h15.2M971.9 955.8h7.8M1023.7 955.8h13.3M934.9 992.8h7.8M934.9 996.5h7.8M860.9 1000.1h7.8M875.7 1000.1h7.8M912.7 1000.1h7.8M838.7 1003.9h7.8M833.6 1007.5h5.5M833.6 1011.2h5.5M868.3 1015h7.8M934.9 1015h7.8M838.7 1022.4h7.8M868.3 1022.4h7.8M875.7 1026.1h7.8M875.7 1029.8h7.8"/>
<path stroke="#6ad430" stroke-width="4" d="M838.7 948.4h7.8M875.7 948.4h7.8M897.9 948.4h7.8M934.9 948.4h7.8M979.3 948.4h7.8M1023.7 948.4h7.8M846.1 952h7.8M860.9 952h7.8M905.3 952h7.8M957.1 952h7.8M1023.7 952h7.8M875.7 955.8h7.8M934.9 959.5h7.8M964.5 966.9h7.8M833.6 996.5h5.5M912.7 996.5h7.8M1016.3 996.5h7.8M920.1 1018.6h7.8M934.9 1022.4h7.8"/>
<path stroke="#59d434" stroke-width="4" d="M846.1 948.4h22.6M905.3 948.4h30M942.3 948.4h7.8M957.1 948.4h7.8M971.9 948.4h7.8M1016.3 948.4h7.8M838.7 952h7.8M853.5 952h7.8M883.1 952h7.8M942.3 952h7.8M971.9 952h22.6M838.7 955.8h15.2M860.9 955.8h7.8M883.1 955.8h7.8M942.3 955.8h7.8M957.1 955.8h7.8M986.7 955.8h7.8M1008.9 955.8h7.8M905.3 959.5h7.8M942.3 959.5h7.8M934.9 963.1h7.8M942.3 966.9h7.8M971.9 966.9h7.8M1016.3 970.5h7.8M868.3 992.8h15.2M912.7 992.8h7.8M927.5 992.8h7.8M1016.3 992.8h7.8M868.3 996.5h7.8M927.5 996.5h7.8M833.6 1000.1h5.5M927.5 1000.1h7.8M890.5 1003.9h7.8M838.7 1007.5h7.8M868.3 1007.5h7.8M890.5 1007.5h7.8M838.7 1011.2h7.8M868.3 1011.2h7.8M890.5 1011.2h7.8M897.9 1015h15.2M838.7 1018.6h7.8M905.3 1018.6h7.8M875.7 1033.4h7.8"/>
<path stroke="#7cd42c" stroke-width="4" d="M883.1 948.4h7.8M875.7 952h7.8M957.1 959.5h15.2M942.3 963.1h7.8M964.5 963.1h7.8M1031.1 963.1h5.9M957.1 966.9h7.8M1031.1 966.9h5.9M833.6 992.8h5.5M912.7 1003.9h7.8M897.9 1018.6h7.8M905.3 1022.4h7.8M897.9 1026.1h7.8M860.9 1029.8h7.8M860.9 1033.4h7.8"/>
<path stroke="#54e05f" stroke-width="4" d="M1304.9 948.4h7.8M1334.5 948.4h15.2M1290.5 952h14.8M1327.1 952h15.2M1356.7 952h7.8M1327.1 955.8h7.8M1356.7 955.8h7.8M1371.5 955.8h7.8M1341.9 966.9h7.8M1304.9 978h7.8M1304.9 992.8h7.8M1319.7 992.8h7.8M1312.3 1000.1h7.8M1290.5 1003.9h7.4M1386.3 1003.9h6.1M1290.5 1011.2h7.4M1386.3 1011.2h6.1M1304.9 1018.6h7.8M1304.9 1022.4h7.8M1371.5 1022.4h7.8M1349.3 1044.6h7.8"/>
<path stroke="#76e057" stroke-width="4" d="M1327.1 948.4h7.8M1371.5 948.4h7.8M1312.3 952h7.8M1371.5 952h7.8M1364.1 955.8h7.8M1364.1 966.9h7.8M1378.9 966.9h7.8M1327.1 992.8h7.8M1341.9 992.8h7.8M1290.5 996.5h7.4M1327.1 996.5h7.8M1364.1 996.5h7.8M1319.7 1000.1h7.8M1341.9 1000.1h7.8M1327.1 1007.5h7.8M1371.5 1018.6h7.8"/>
<path stroke="#42e063" stroke-width="4" d="M1386.3 948.4h6.1M1290.5 955.8h7.4M1378.9 955.8h7.8M1304.9 974.2h7.8M1304.9 996.5h7.8M1364.1 1000.1h7.8M1349.3 1003.9h7.8M1364.1 1003.9h7.8M1290.5 1007.5h7.4M1364.1 1011.2h7.8M1304.9 1015h7.8M1386.3 1018.6h6.1M1349.3 1040.8h7.8"/>
<path stroke="#31e068" stroke-width="4" d="M1304.9 952h7.8M1341.9 952h7.8M1386.3 952h6.1M1297.5 955.8h15.2M1334.5 955.8h15.2M1297.5 959.5h15.2M1356.7 959.5h7.8M1304.9 966.9h7.8M1319.7 985.4h7.8M1319.7 989h7.8M1334.5 989h7.8M1349.3 992.8h7.8M1364.1 992.8h7.8M1349.3 996.5h7.8M1304.9 1000.1h7.8M1349.3 1000.1h7.8M1349.3 1007.5h7.8M1386.3 1007.5h6.1M1349.3 1011.2h7.8M1349.3 1037.2h7.8"/>
<path stroke="#2ce071" stroke-width="4" d="M1386.3 955.8h6.1M1290.5 970.5h7.4M1327.1 970.5h7.8M1290.5 974.2h7.4M1327.1 978h7.8M1334.5 981.6h7.8M1334.5 985.4h7.8M1356.7 989h7.8"/>
<path stroke="#00cfff" stroke-width="4" d="M365.1 959.5h7.8M801.7 959.5h7.8M424.3 963.1h7.8M527.9 963.1h7.8M1201.3 963.1h7.8M365.1 966.9h7.8M1201.3 966.9h7.8M365.1 970.5h7.8M1075.5 970.5h7.8M490.9 974.2h7.8M816.5 974.2h7.8M1038.5 974.2h7.8M1245.7 974.2h7.8M320.7 978h7.8M365.1 978h15.2M483.5 978h7.8M542.7 978h7.8M779.5 978h7.8M335.5 981.6h7.8M409.5 981.6h7.8M1134.7 981.6h7.8M1216.1 981.6h7.8M291.1 985.4h15.2M350.3 985.4h7.8M409.5 985.4h7.8M779.5 985.4h7.8M1036.6 985.4h2.3M1075.5 985.4h22.6M1142.1 985.4h7.8M1156.9 985.4h7.8M298.5 989h7.8M342.9 989h15.2M409.5 989h7.8M1068.1 989h15.2M1127.3 989h7.8M1216.1 989h7.8M1401.1 989h7.8M402.1 992.8h7.8M786.9 992.8h7.8M786.9 996.5h7.8M1068.1 1007.5h7.8M779.5 1015h7.8"/>
<path stroke="#b00000" stroke-width="4" d="M624.1 959.5h7.8M624.1 963.1h7.8M624.1 966.9h7.8"/>
<path stroke="#43bfca" stroke-width="4" d="M868.3 959.5h7.8M920.1 966.9h7.8M1001.5 966.9h7.8M846.1 970.5h7.8M875.7 970.5h7.8M846.1 978h7.8M920.1 978h7.8M853.5 981.6h7.8M912.7 981.6h7.8M905.3 985.4h7.8M942.3 985.4h7.8M979.3 985.4h7.8M875.7 989h7.8M979.3 989h7.8M905.3 992.8h7.8M905.3 996.5h7.8M905.3 1000.1h7.8M897.9 1011.2h7.8"/>
<path stroke="#43cbca" stroke-width="4" d="M890.5 959.5h7.8M1001.5 959.5h7.8M860.9 963.1h15.2M1001.5 963.1h7.8M1023.7 963.1h7.8M890.5 966.9h15.2M1023.7 966.9h7.8M846.1 974.2h7.8M905.3 978h7.8M964.5 981.6h7.8M1031.1 981.6h5.9M912.7 985.4h7.8M838.7 989h7.8M912.7 989h7.8M964.5 989h7.8M897.9 1003.9h7.8"/>
<path stroke="#8dd427" stroke-width="4" d="M971.9 959.5h7.8M957.1 963.1h7.8M971.9 963.1h7.8M912.7 1007.5h7.8M897.9 1022.4h7.8M860.9 1026.1h7.8"/>
<path stroke="#43b2ca" stroke-width="4" d="M986.7 959.5h7.8M868.3 966.9h7.8M986.7 966.9h7.8M920.1 970.5h7.8M949.7 970.5h7.8M1031.1 970.5h5.9M920.1 974.2h7.8M875.7 978h7.8M875.7 981.6h7.8M979.3 981.6h7.8M905.3 989h7.8M1001.5 989h7.8"/>
<path stroke="#9ed422" stroke-width="4" d="M1031.1 959.5h5.9M912.7 1011.2h7.8M846.1 1015h7.8"/>
<path stroke="#00e1ff" stroke-width="4" d="M365.1 963.1h7.8M1392 966.9h2.1M394.7 970.5h15.2M483.5 970.5h7.8M1038.5 970.5h7.8M1245.7 970.5h7.8M1275.3 970.5h7.8M254.1 974.2h7.8M268.9 974.2h7.8M320.7 974.2h7.8M372.5 974.2h7.8M1060.7 978h7.8M1245.7 978h7.8M1275.3 978h7.8M276.3 981.6h7.8M461.3 981.6h7.8M1036.6 981.6h2.3M1090.3 981.6h7.8M1179.1 981.6h7.8M1201.3 981.6h7.8M276.3 985.4h7.8M772.1 985.4h7.8M1068.1 985.4h7.8M1134.7 985.4h7.8M1201.3 985.4h7.8M357.7 989h15.2M772.1 989h15.2M1053.3 989h7.8M1082.9 989h7.8M402.1 996.5h7.8M786.9 1000.1h7.8M1068.1 1011.2h7.8"/>
<path stroke="#43a7ca" stroke-width="4" d="M986.7 963.1h7.8M994.1 970.5h7.8M1031.1 974.2h5.9M949.7 981.6h7.8M875.7 985.4h7.8M833.6 989h5.5M868.3 989h7.8M949.7 989h7.8"/>
<path stroke="#2cd7fa" stroke-width="4" d="M1386.3 963.1h6.1M1319.7 970.5h7.8M1334.5 970.5h7.8M1349.3 974.2h7.8M1371.5 989h7.8"/>
<path stroke="#005eff" stroke-width="4" d="M276.3 970.5h7.8M298.5 970.5h7.8M1053.3 970.5h7.8M276.3 974.2h7.8M350.3 974.2h7.8M1045.9 974.2h7.8M276.3 978h7.8M1045.9 978h7.8M453.9 981.6h7.8M1060.7 981.6h7.8M1060.7 985.4h7.8M1045.9 992.8h7.8M1045.9 996.5h7.8M1045.9 1000.1h7.8"/>
<path stroke="#432fca" stroke-width="4" d="M838.7 970.5h7.8"/>
<path stroke="#4372ca" stroke-width="4" d="M868.3 970.5h7.8M883.1 970.5h7.8M897.9 970.5h7.8M986.7 970.5h7.8M868.3 974.2h7.8M986.7 978h7.8M1008.9 978h7.8M833.6 981.6h5.5M846.1 985.4h7.8M897.9 985.4h7.8M846.1 989h7.8M883.1 989h7.8"/>
<path stroke="#438eca" stroke-width="4" d="M927.5 970.5h7.8M979.3 970.5h7.8M1008.9 970.5h7.8M986.7 974.2h7.8M1008.9 974.2h7.8M868.3 978h7.8M927.5 978h7.8M949.7 978h7.8M979.3 978h7.8M868.3 981.6h7.8M994.1 981.6h7.8M1008.9 981.6h7.8M833.6 985.4h5.5M949.7 985.4h7.8M994.1 985.4h7.8M1008.9 985.4h7.8M860.9 989h7.8"/>
<path stroke="#0073ff" stroke-width="4" d="M1045.9 970.5h7.8M1053.3 974.2h7.8M298.5 978h7.8M831.3 981.6h2.7M1045.9 981.6h7.8M372.5 985.4h7.8M453.9 985.4h7.8M1045.9 989h7.8"/>
<path stroke="#2ce0f6" stroke-width="4" d="M1349.3 970.5h7.8M1297.5 974.2h7.8M1334.5 974.2h7.8M1297.5 978h7.8M1349.3 978h7.8M1364.1 981.6h7.8"/>
<path stroke="#4338ca" stroke-width="4" d="M838.7 974.2h7.8M838.7 978h7.8"/>
<path stroke="#439bca" stroke-width="4" d="M875.7 974.2h7.8M949.7 974.2h7.8M994.1 974.2h7.8M1031.1 978h5.9M838.7 981.6h7.8M905.3 981.6h7.8M942.3 981.6h7.8M1001.5 981.6h7.8M838.7 985.4h7.8M957.1 985.4h7.8M1001.5 985.4h7.8M897.9 989h7.8M957.1 989h7.8M994.1 989h7.8M1008.9 989h7.8"/>
<path stroke="#4363ca" stroke-width="4" d="M883.1 974.2h7.8M897.9 974.2h7.8M979.3 974.2h7.8M883.1 978h7.8M846.1 981.6h7.8"/>
<path stroke="#4380ca" stroke-width="4" d="M927.5 974.2h7.8M994.1 978h7.8M957.1 981.6h7.8M860.9 985.4h15.2"/>
<path stroke="#2cb3fa" stroke-width="4" d="M1319.7 974.2h7.8"/>
<path stroke="#2ccbfa" stroke-width="4" d="M1371.5 974.2h7.8M1319.7 978h7.8M1334.5 978h7.8M1371.5 981.6h7.8"/>
<path stroke="#4355ca" stroke-width="4" d="M897.9 978h7.8M860.9 981.6h7.8M883.1 981.6h7.8"/>
<path stroke="#ba0000" stroke-width="4" d="M624.1 981.6h7.8"/>
<path stroke="#ff3300" stroke-width="4" d="M631.5 981.6h7.8M624.1 996.5h7.8"/>
<path stroke="#434aca" stroke-width="4" d="M897.9 981.6h7.8"/>
<path stroke="#4341ca" stroke-width="4" d="M883.1 985.4h7.8"/>
<path stroke="#2cbefa" stroke-width="4" d="M1371.5 985.4h7.8"/>
<path stroke="#e3ff00" stroke-width="1.5" d="M1164.4 1009V1043.3M456 1010.6V1024.1M1206.2 1007.9V1034.5M669.6 1009.4V1041.8"/>
<path stroke="#fffc00" stroke-width="1.5" d="M1392.4 1001.3V1022.3M1468.3 1009.7V1025.8M1234.4 1009.6V1018.6M1486.4 1002.6V1012M412.5 1004.8V1040.4M1199.7 1007.9V1024.1"/>
<path stroke="#87e052" stroke-width="1.5" d="M1365.3 1002.1V1023.3"/>
<path stroke="#9ed422" stroke-width="1.5" d="M914.3 1006.7V1015.1M858.1 1004.4V1014.9"/>
<path stroke="#69ff16" stroke-width="1.5" d="M580.5 1010.2V1039.6M1234.3 1002.4V1027.7M627.6 1002.8V1013M1222.8 1002.1V1022.2M1100.8 1008.2V1036.6M396.1 1004.2V1017.3"/>
<path stroke="#82ff0f" stroke-width="1.5" d="M229.7 1009.7V1023.6M429.6 1005.4V1031.6"/>
<path stroke="#f6d218" stroke-width="1.5" d="M908.5 1007.8V1021.5M916.1 1004.4V1028.7"/>
<path stroke="#b4ff03" stroke-width="1.5" d="M1448.3 1009.9V1026.3M1148.9 1005.8V1021.9M1213.1 1006.8V1033.4M527.9 1010V1018.1"/>
<path stroke="#9bff09" stroke-width="1.5" d="M437.1 1002.5V1012.3M231.8 1007.8V1025.2M1401.7 1010.4V1028.1M656.9 1010.2V1033.5M1436.5 1010.7V1035.7"/>
<path stroke="#c5ff00" stroke-width="1.5" d="M1261.3 1005.8V1022.6M686.5 1008V1023.9M437.4 1009.4V1043.6"/>
<path stroke="#38ff22" stroke-width="1.5" d="M1117.5 1001.6V1036.9M1206 1007.4V1035.5"/>
<path stroke="#edff00" stroke-width="1.5" d="M1174.5 1009.4V1018M1215.2 1009.7V1027.8M812.2 1009.2V1035.3M666.9 1007.4V1036.1M579.3 1005.1V1016.3"/>
<path stroke="#51ff1c" stroke-width="1.5" d="M690 1006.8V1015M1271.1 1005.6V1025.4M280.4 1005.7V1020.1M699.7 1001.4V1026.5"/>
<path stroke="#e2d418" stroke-width="1.5" d="M890.2 1008.8V1019.8"/>
<path stroke="#f7ff00" stroke-width="1.5" d="M342.7 1004.4V1029.5"/>
<path stroke="#d4d418" stroke-width="1.5" d="M901.3 1005.1V1019.7"/>
<path stroke="#d2e047" stroke-width="1.5" d="M1384.5 1001.3V1023.1"/>
<path stroke="#d9ff00" stroke-width="1.5" d="M392.4 1008.3V1042.9M242.1 1006.5V1021.5M272.5 1005.7V1024.3M1261.3 1005.2V1036"/>
<path stroke="#dfde47" stroke-width="1.5" d="M1294.4 1003.9V1024.6"/>
<path stroke="#b6e047" stroke-width="1.5" d="M1303.9 1010.8V1031.5"/>
<path stroke="#cfff00" stroke-width="1.5" d="M1460.3 1010.6V1033.1M694.1 1002.4V1027.1"/>
</g>
<polyline points="224.5,238.3 249.9,237.1 275.3,239.0 300.6,239.0 326.0,235.2 351.4,229.5 376.8,228.4 402.2,237.1 427.5,245.5 452.9,248.6 478.3,247.8 503.7,247.4 529.1,242.9 554.4,238.3 579.8,249.7 605.2,270.3 630.6,271.0 656.0,268.8 681.3,263.0 706.7,251.2 732.1,239.4 757.5,231.4 782.9,223.8 808.2,225.7 833.6,235.2 859.0,236.0 884.4,226.7 909.8,226.3 935.1,214.4 960.5,195.2 985.9,192.5 1011.3,195.6 1036.7,219.8 1062.0,252.8 1087.4,259.7 1112.8,254.7 1138.2,242.4 1163.6,217.1 1188.9,200.6 1214.3,193.7 1239.7,199.8 1265.1,201.7 1290.5,186.0 1315.8,164.5 1341.2,144.9 1366.6,136.9 1392.0,139.9 1417.4,148.8 1442.7,154.9 1468.1,176.8 1493.5,188.3" fill="none" stroke="#000" stroke-width="1.4" stroke-linejoin="round"/>
<polyline points="224.5,363.6 249.9,367.0 275.3,367.8 300.6,370.0 326.0,373.5 351.4,374.2 376.8,366.2 402.2,364.7 427.5,366.2 452.9,373.1 478.3,377.7 503.7,379.2 529.1,381.1 554.4,374.2 579.8,368.1 605.2,366.2 630.6,370.8 656.0,368.9 681.3,365.5 706.7,366.6 732.1,375.0 757.5,372.7 782.9,369.7 808.2,368.5 833.6,368.9 859.0,371.8 884.4,371.0 909.8,364.9 935.1,366.4 960.5,364.5 985.9,350.7 1011.3,330.7 1036.7,326.9 1062.0,345.3 1087.4,354.5 1112.8,348.7 1138.2,358.3 1163.6,372.2 1188.9,356.8 1214.3,359.9 1239.7,357.6 1265.1,352.6 1290.5,350.7 1315.8,345.3 1341.2,344.9 1366.6,345.3 1392.0,346.4 1417.4,350.7 1442.7,351.8 1468.1,357.2 1493.5,349.9" fill="none" stroke="#000" stroke-width="1.4" stroke-linejoin="round"/>
<polyline points="224.5,397.5 249.9,394.8 275.3,395.6 300.6,391.4 326.0,392.9 351.4,399.8 376.8,400.1 402.2,399.4 427.5,397.5 452.9,405.5 478.3,393.7 503.7,391.4 529.1,395.2 554.4,398.2 579.8,398.2 605.2,394.0 630.6,404.3 656.0,395.2 681.3,387.2 706.7,389.5 732.1,397.9 757.5,402.8 782.9,402.0 808.2,397.5 833.6,392.9 859.0,393.3 884.4,394.4 909.8,392.9 935.1,401.7 960.5,420.5 985.9,422.1 1011.3,432.4 1036.7,429.4 1062.0,406.0 1087.4,395.6 1112.8,412.1 1138.2,404.4 1163.6,404.0 1188.9,401.0 1214.3,408.3 1239.7,412.5 1265.1,409.0 1290.5,425.5 1315.8,446.6 1341.2,462.0 1366.6,469.7 1392.0,462.8 1417.4,458.5 1442.7,460.5 1468.1,449.7 1493.5,442.0" fill="none" stroke="#f00" stroke-width="1.4" stroke-linejoin="round"/>
<polyline points="224.5,626.0 300.6,627.9 351.4,622.6 402.2,621.8 452.9,628.3 503.7,620.3 554.4,640.1 605.2,618.4 656.0,613.0 706.7,616.5 757.5,631.7 808.2,592.9 859.0,561.0 909.8,571.8 960.5,573.3 1011.3,571.0 1062.0,589.8 1112.8,597.1 1163.6,579.5 1214.3,581.0 1265.1,578.7 1315.8,568.3 1366.6,512.3 1417.4,513.8 1468.1,529.5 1493.5,529.9" fill="none" stroke="#000" stroke-width="1.4" stroke-linejoin="round"/>
<path d="M275.3 778.3H326.0M376.8 778.3H427.5M478.3 778.3H529.1M579.8 778.3H630.6M681.3 778.3H732.1M782.9 778.3H833.6M884.4 778.3H935.1M985.9 778.3H1036.7M1087.4 778.3H1138.2M1188.9 778.3H1239.7M1290.5 778.3H1341.2M1392.0 778.3H1442.7" stroke="#000" stroke-width="1.4"/>
<polyline points="224.5,768.4 249.9,781.0 275.3,783.6 300.6,773.3 326.0,763.8 351.4,763.4 376.8,768.8 402.2,774.5 427.5,780.6 452.9,786.7 478.3,785.9 503.7,777.9 529.1,777.5 554.4,781.3 579.8,781.7 605.2,765.3 630.6,760.4 656.0,785.5 681.3,774.9 706.7,733.7 732.1,728.0 757.5,742.9 782.9,745.1 808.2,755.0 833.6,782.1 859.0,793.5 884.4,789.8 909.8,787.1 935.1,756.8 960.5,712.2 985.9,706.1 1011.3,737.6 1036.7,790.2 1062.0,832.8 1087.4,838.6 1112.8,837.0 1138.2,815.5 1163.6,775.6 1188.9,752.2 1214.3,744.1 1239.7,749.5 1265.1,752.2 1290.5,737.6 1315.8,715.7 1341.2,708.4 1366.6,708.4 1392.0,720.3 1417.4,747.2 1442.7,750.6 1468.1,734.5 1493.5,737.2" fill="none" stroke="#0000ff" stroke-width="1.4" stroke-linejoin="round"/>
<polyline points="224.5,767.6 249.9,772.6 275.3,771.4 300.6,772.2 326.0,786.7 351.4,794.3 376.8,789.0 402.2,789.7 427.5,785.9 452.9,772.2 478.3,769.9 503.7,772.2 529.1,774.9 554.4,771.0 579.8,759.6 605.2,757.7 630.6,771.0 656.0,769.1 681.3,749.7 706.7,760.4 732.1,785.5 757.5,774.5 782.9,771.4 808.2,788.6 833.6,781.7 859.0,772.5 884.4,771.4 909.8,773.3 935.1,784.8 960.5,801.7 985.9,823.2 1011.3,837.0 1036.7,803.6 1062.0,747.2 1087.4,719.5 1112.8,733.0 1138.2,764.8 1163.6,792.9 1188.9,792.1 1214.3,770.2 1239.7,748.0 1265.1,750.3 1290.5,762.9 1315.8,761.0 1341.2,759.9 1366.6,755.6 1392.0,747.2 1417.4,753.7 1442.7,762.9 1468.1,761.4 1493.5,776.0" fill="none" stroke="#00ff00" stroke-width="1.4" stroke-linejoin="round"/>
<rect x="224.5" y="106.0" width="1269.0" height="179.5" fill="none" stroke="#000" stroke-width="1.3"/>
<rect x="224.5" y="300.0" width="1269.0" height="179.0" fill="none" stroke="#000" stroke-width="1.3"/>
<rect x="224.5" y="494.3" width="1269.0" height="179.2" fill="none" stroke="#000" stroke-width="1.3"/>
<rect x="224.5" y="688.0" width="1269.0" height="179.5" fill="none" stroke="#000" stroke-width="1.3"/>
<rect x="224.5" y="882.5" width="1269.0" height="178.5" fill="none" stroke="#000" stroke-width="1.3"/>
<path d="M275.26 106.0v1.6M275.26 285.5v-1.6M326.02 106.0v1.6M326.02 285.5v-1.6M376.78 106.0v1.6M376.78 285.5v-1.6M427.54 106.0v1.6M427.54 285.5v-1.6M478.30 106.0v3.4M478.30 285.5v-3.4M529.06 106.0v1.6M529.06 285.5v-1.6M579.82 106.0v1.6M579.82 285.5v-1.6M630.58 106.0v1.6M630.58 285.5v-1.6M681.34 106.0v1.6M681.34 285.5v-1.6M732.10 106.0v3.4M732.10 285.5v-3.4M782.86 106.0v1.6M782.86 285.5v-1.6M833.62 106.0v1.6M833.62 285.5v-1.6M884.38 106.0v1.6M884.38 285.5v-1.6M935.14 106.0v1.6M935.14 285.5v-1.6M985.90 106.0v3.4M985.90 285.5v-3.4M1036.66 106.0v1.6M1036.66 285.5v-1.6M1087.42 106.0v1.6M1087.42 285.5v-1.6M1138.18 106.0v1.6M1138.18 285.5v-1.6M1188.94 106.0v1.6M1188.94 285.5v-1.6M1239.70 106.0v3.4M1239.70 285.5v-3.4M1290.46 106.0v1.6M1290.46 285.5v-1.6M1341.22 106.0v1.6M1341.22 285.5v-1.6M1391.98 106.0v1.6M1391.98 285.5v-1.6M1442.74 106.0v1.6M1442.74 285.5v-1.6M275.26 300.0v1.6M275.26 479.0v-1.6M326.02 300.0v1.6M326.02 479.0v-1.6M376.78 300.0v1.6M376.78 479.0v-1.6M427.54 300.0v1.6M427.54 479.0v-1.6M478.30 300.0v3.4M478.30 479.0v-3.4M529.06 300.0v1.6M529.06 479.0v-1.6M579.82 300.0v1.6M579.82 479.0v-1.6M630.58 300.0v1.6M630.58 479.0v-1.6M681.34 300.0v1.6M681.34 479.0v-1.6M732.10 300.0v3.4M732.10 479.0v-3.4M782.86 300.0v1.6M782.86 479.0v-1.6M833.62 300.0v1.6M833.62 479.0v-1.6M884.38 300.0v1.6M884.38 479.0v-1.6M935.14 300.0v1.6M935.14 479.0v-1.6M985.90 300.0v3.4M985.90 479.0v-3.4M1036.66 300.0v1.6M1036.66 479.0v-1.6M1087.42 300.0v1.6M1087.42 479.0v-1.6M1138.18 300.0v1.6M1138.18 479.0v-1.6M1188.94 300.0v1.6M1188.94 479.0v-1.6M1239.70 300.0v3.4M1239.70 479.0v-3.4M1290.46 300.0v1.6M1290.46 479.0v-1.6M1341.22 300.0v1.6M1341.22 479.0v-1.6M1391.98 300.0v1.6M1391.98 479.0v-1.6M1442.74 300.0v1.6M1442.74 479.0v-1.6M275.26 494.3v1.6M275.26 673.5v-1.6M326.02 494.3v1.6M326.02 673.5v-1.6M376.78 494.3v1.6M376.78 673.5v-1.6M427.54 494.3v1.6M427.54 673.5v-1.6M478.30 494.3v3.4M478.30 673.5v-3.4M529.06 494.3v1.6M529.06 673.5v-1.6M579.82 494.3v1.6M579.82 673.5v-1.6M630.58 494.3v1.6M630.58 673.5v-1.6M681.34 494.3v1.6M681.34 673.5v-1.6M732.10 494.3v3.4M732.10 673.5v-3.4M782.86 494.3v1.6M782.86 673.5v-1.6M833.62 494.3v1.6M833.62 673.5v-1.6M884.38 494.3v1.6M884.38 673.5v-1.6M935.14 494.3v1.6M935.14 673.5v-1.6M985.90 494.3v3.4M985.90 673.5v-3.4M1036.66 494.3v1.6M1036.66 673.5v-1.6M1087.42 494.3v1.6M1087.42 673.5v-1.6M1138.18 494.3v1.6M1138.18 673.5v-1.6M1188.94 494.3v1.6M1188.94 673.5v-1.6M1239.70 494.3v3.4M1239.70 673.5v-3.4M1290.46 494.3v1.6M1290.46 673.5v-1.6M1341.22 494.3v1.6M1341.22 673.5v-1.6M1391.98 494.3v1.6M1391.98 673.5v-1.6M1442.74 494.3v1.6M1442.74 673.5v-1.6M275.26 688.0v1.6M275.26 867.5v-1.6M326.02 688.0v1.6M326.02 867.5v-1.6M376.78 688.0v1.6M376.78 867.5v-1.6M427.54 688.0v1.6M427.54 867.5v-1.6M478.30 688.0v3.4M478.30 867.5v-3.4M529.06 688.0v1.6M529.06 867.5v-1.6M579.82 688.0v1.6M579.82 867.5v-1.6M630.58 688.0v1.6M630.58 867.5v-1.6M681.34 688.0v1.6M681.34 867.5v-1.6M732.10 688.0v3.4M732.10 867.5v-3.4M782.86 688.0v1.6M782.86 867.5v-1.6M833.62 688.0v1.6M833.62 867.5v-1.6M884.38 688.0v1.6M884.38 867.5v-1.6M935.14 688.0v1.6M935.14 867.5v-1.6M985.90 688.0v3.4M985.90 867.5v-3.4M1036.66 688.0v1.6M1036.66 867.5v-1.6M1087.42 688.0v1.6M1087.42 867.5v-1.6M1138.18 688.0v1.6M1138.18 867.5v-1.6M1188.94 688.0v1.6M1188.94 867.5v-1.6M1239.70 688.0v3.4M1239.70 867.5v-3.4M1290.46 688.0v1.6M1290.46 867.5v-1.6M1341.22 688.0v1.6M1341.22 867.5v-1.6M1391.98 688.0v1.6M1391.98 867.5v-1.6M1442.74 688.0v1.6M1442.74 867.5v-1.6M275.26 882.5v1.6M275.26 1061.0v-1.6M326.02 882.5v1.6M326.02 1061.0v-1.6M376.78 882.5v1.6M376.78 1061.0v-1.6M427.54 882.5v1.6M427.54 1061.0v-1.6M478.30 882.5v3.4M478.30 1061.0v-3.4M529.06 882.5v1.6M529.06 1061.0v-1.6M579.82 882.5v1.6M579.82 1061.0v-1.6M630.58 882.5v1.6M630.58 1061.0v-1.6M681.34 882.5v1.6M681.34 1061.0v-1.6M732.10 882.5v3.4M732.10 1061.0v-3.4M782.86 882.5v1.6M782.86 1061.0v-1.6M833.62 882.5v1.6M833.62 1061.0v-1.6M884.38 882.5v1.6M884.38 1061.0v-1.6M935.14 882.5v1.6M935.14 1061.0v-1.6M985.90 882.5v3.4M985.90 1061.0v-3.4M1036.66 882.5v1.6M1036.66 1061.0v-1.6M1087.42 882.5v1.6M1087.42 1061.0v-1.6M1138.18 882.5v1.6M1138.18 1061.0v-1.6M1188.94 882.5v1.6M1188.94 1061.0v-1.6M1239.70 882.5v3.4M1239.70 1061.0v-3.4M1290.46 882.5v1.6M1290.46 1061.0v-1.6M1341.22 882.5v1.6M1341.22 1061.0v-1.6M1391.98 882.5v1.6M1391.98 1061.0v-1.6M1442.74 882.5v1.6M1442.74 1061.0v-1.6M224.5 276.52h12.8M1493.5 276.52h-12.8M224.5 267.55h12.8M1493.5 267.55h-12.8M224.5 258.57h12.8M1493.5 258.57h-12.8M224.5 249.60h25.0M1493.5 249.60h-25.0M224.5 240.62h12.8M1493.5 240.62h-12.8M224.5 231.65h12.8M1493.5 231.65h-12.8M224.5 222.68h12.8M1493.5 222.68h-12.8M224.5 213.70h25.0M1493.5 213.70h-25.0M224.5 204.72h12.8M1493.5 204.72h-12.8M224.5 195.75h12.8M1493.5 195.75h-12.8M224.5 186.77h12.8M1493.5 186.77h-12.8M224.5 177.80h25.0M1493.5 177.80h-25.0M224.5 168.82h12.8M1493.5 168.82h-12.8M224.5 159.85h12.8M1493.5 159.85h-12.8M224.5 150.88h12.8M1493.5 150.88h-12.8M224.5 141.90h25.0M1493.5 141.90h-25.0M224.5 132.93h12.8M1493.5 132.93h-12.8M224.5 123.95h12.8M1493.5 123.95h-12.8M224.5 114.97h12.8M1493.5 114.97h-12.8M224.5 467.81h12.8M1493.5 467.81h-12.8M224.5 456.62h12.8M1493.5 456.62h-12.8M224.5 445.44h12.8M1493.5 445.44h-12.8M224.5 434.25h25.0M1493.5 434.25h-25.0M224.5 423.06h12.8M1493.5 423.06h-12.8M224.5 411.88h12.8M1493.5 411.88h-12.8M224.5 400.69h12.8M1493.5 400.69h-12.8M224.5 389.50h25.0M1493.5 389.50h-25.0M224.5 378.31h12.8M1493.5 378.31h-12.8M224.5 367.12h12.8M1493.5 367.12h-12.8M224.5 355.94h12.8M1493.5 355.94h-12.8M224.5 344.75h25.0M1493.5 344.75h-25.0M224.5 333.56h12.8M1493.5 333.56h-12.8M224.5 322.38h12.8M1493.5 322.38h-12.8M224.5 311.19h12.8M1493.5 311.19h-12.8M224.5 666.03h12.8M1493.5 666.03h-12.8M224.5 658.57h12.8M1493.5 658.57h-12.8M224.5 651.10h12.8M1493.5 651.10h-12.8M224.5 643.63h25.0M1493.5 643.63h-25.0M224.5 636.17h12.8M1493.5 636.17h-12.8M224.5 628.70h12.8M1493.5 628.70h-12.8M224.5 621.23h12.8M1493.5 621.23h-12.8M224.5 613.77h25.0M1493.5 613.77h-25.0M224.5 606.30h12.8M1493.5 606.30h-12.8M224.5 598.83h12.8M1493.5 598.83h-12.8M224.5 591.37h12.8M1493.5 591.37h-12.8M224.5 583.90h25.0M1493.5 583.90h-25.0M224.5 576.43h12.8M1493.5 576.43h-12.8M224.5 568.97h12.8M1493.5 568.97h-12.8M224.5 561.50h12.8M1493.5 561.50h-12.8M224.5 554.03h25.0M1493.5 554.03h-25.0M224.5 546.57h12.8M1493.5 546.57h-12.8M224.5 539.10h12.8M1493.5 539.10h-12.8M224.5 531.63h12.8M1493.5 531.63h-12.8M224.5 524.17h25.0M1493.5 524.17h-25.0M224.5 516.70h12.8M1493.5 516.70h-12.8M224.5 509.23h12.8M1493.5 509.23h-12.8M224.5 501.77h12.8M1493.5 501.77h-12.8M224.5 861.52h12.8M1493.5 861.52h-12.8M224.5 855.53h12.8M1493.5 855.53h-12.8M224.5 849.55h12.8M1493.5 849.55h-12.8M224.5 843.57h12.8M1493.5 843.57h-12.8M224.5 837.58h25.0M1493.5 837.58h-25.0M224.5 831.60h12.8M1493.5 831.60h-12.8M224.5 825.62h12.8M1493.5 825.62h-12.8M224.5 819.63h12.8M1493.5 819.63h-12.8M224.5 813.65h12.8M1493.5 813.65h-12.8M224.5 807.67h25.0M1493.5 807.67h-25.0M224.5 801.68h12.8M1493.5 801.68h-12.8M224.5 795.70h12.8M1493.5 795.70h-12.8M224.5 789.72h12.8M1493.5 789.72h-12.8M224.5 783.73h12.8M1493.5 783.73h-12.8M224.5 777.75h25.0M1493.5 777.75h-25.0M224.5 771.77h12.8M1493.5 771.77h-12.8M224.5 765.78h12.8M1493.5 765.78h-12.8M224.5 759.80h12.8M1493.5 759.80h-12.8M224.5 753.82h12.8M1493.5 753.82h-12.8M224.5 747.83h25.0M1493.5 747.83h-25.0M224.5 741.85h12.8M1493.5 741.85h-12.8M224.5 735.87h12.8M1493.5 735.87h-12.8M224.5 729.88h12.8M1493.5 729.88h-12.8M224.5 723.90h12.8M1493.5 723.90h-12.8M224.5 717.92h25.0M1493.5 717.92h-25.0M224.5 711.93h12.8M1493.5 711.93h-12.8M224.5 705.95h12.8M1493.5 705.95h-12.8M224.5 699.97h12.8M1493.5 699.97h-12.8M224.5 693.98h12.8M1493.5 693.98h-12.8M224.5 1049.26h12.8M1493.5 1049.26h-12.8M224.5 1042.39h12.8M1493.5 1042.39h-12.8M224.5 1037.52h12.8M1493.5 1037.52h-12.8M224.5 1033.74h12.8M1493.5 1033.74h-12.8M224.5 1030.65h12.8M1493.5 1030.65h-12.8M224.5 1028.04h12.8M1493.5 1028.04h-12.8M224.5 1025.78h12.8M1493.5 1025.78h-12.8M224.5 1023.78h12.8M1493.5 1023.78h-12.8M224.5 1022.00h25.0M1493.5 1022.00h-25.0M224.5 1010.26h12.8M1493.5 1010.26h-12.8M224.5 1003.39h12.8M1493.5 1003.39h-12.8M224.5 998.52h12.8M1493.5 998.52h-12.8M224.5 994.74h12.8M1493.5 994.74h-12.8M224.5 991.65h12.8M1493.5 991.65h-12.8M224.5 989.04h12.8M1493.5 989.04h-12.8M224.5 986.78h12.8M1493.5 986.78h-12.8M224.5 984.78h12.8M1493.5 984.78h-12.8M224.5 983.00h25.0M1493.5 983.00h-25.0M224.5 971.26h12.8M1493.5 971.26h-12.8M224.5 964.39h12.8M1493.5 964.39h-12.8M224.5 959.52h12.8M1493.5 959.52h-12.8M224.5 955.74h12.8M1493.5 955.74h-12.8M224.5 952.65h12.8M1493.5 952.65h-12.8M224.5 950.04h12.8M1493.5 950.04h-12.8M224.5 947.78h12.8M1493.5 947.78h-12.8M224.5 945.78h12.8M1493.5 945.78h-12.8M224.5 944.00h25.0M1493.5 944.00h-25.0M224.5 932.26h12.8M1493.5 932.26h-12.8M224.5 925.39h12.8M1493.5 925.39h-12.8M224.5 920.52h12.8M1493.5 920.52h-12.8M224.5 916.74h12.8M1493.5 916.74h-12.8M224.5 913.65h12.8M1493.5 913.65h-12.8M224.5 911.04h12.8M1493.5 911.04h-12.8M224.5 908.78h12.8M1493.5 908.78h-12.8M224.5 906.78h12.8M1493.5 906.78h-12.8M224.5 905.00h25.0M1493.5 905.00h-25.0M224.5 893.26h12.8M1493.5 893.26h-12.8M224.5 886.39h12.8M1493.5 886.39h-12.8" stroke="#000" stroke-width="1.3" fill="none"/>
<path d="M808.3 106.0V117.9M808.3 150.7V183.4M808.3 215.1V247.9M808.3 280.2V312.7M808.3 345.0V377.8M808.3 409.5V442.7M808.3 473.9V506.7M808.3 539.4V572.2M808.3 605.3V637.1M808.3 670.1V702.4M808.3 734.9V767.5M808.3 800.2V832.7M808.3 865.3V897.6M808.3 930.6V962.9M808.3 995.4V1028.4M808.3 1054.5V1061.0" stroke="#000" stroke-width="4.5"/>
<text x="785.7" y="27.7" font-size="29">Enhanced convection</text>
<text x="1201.8" y="24.5" font-size="29">Enhanced convection</text>
<text x="1201.5" y="65.6" font-size="29">&amp;substorm expansion</text>
<text x="840.0" y="95.0" font-size="29"><tspan font-style="italic">T</tspan>=1-9min</text>
<text x="1256.0" y="95.0" font-size="29"><tspan font-style="italic">T</tspan>=19-23min</text>
<text x="260.5" y="151.0" font-size="29">(a)</text>
<text x="260.5" y="345.5" font-size="29">(b)</text>
<text x="268.0" y="534.0" font-size="29">(c)</text>
<text x="268.0" y="728.0" font-size="29">(d)</text>
<text x="268.0" y="977.0" font-size="29">(e)</text>
<text x="208.0" y="126.0" text-anchor="end" font-size="29">8</text>
<text x="208.0" y="155.0" text-anchor="end" font-size="29">6</text>
<text x="208.0" y="190.5" text-anchor="end" font-size="29">4</text>
<text x="208.0" y="226.0" text-anchor="end" font-size="29">2</text>
<text x="208.0" y="261.5" text-anchor="end" font-size="29">0</text>
<text x="208.0" y="288.5" text-anchor="end" font-size="29">-2</text>
<text x="208.0" y="317.5" text-anchor="end" font-size="29">400</text>
<text x="208.0" y="355.0" text-anchor="end" font-size="29">200</text>
<text x="208.0" y="400.0" text-anchor="end" font-size="29">0</text>
<text x="208.0" y="447.5" text-anchor="end" font-size="29">-200</text>
<text x="208.0" y="477.5" text-anchor="end" font-size="29">-400</text>
<text x="208.0" y="510.0" text-anchor="end" font-size="29">120</text>
<text x="208.0" y="564.0" text-anchor="end" font-size="29">80</text>
<text x="208.0" y="624.0" text-anchor="end" font-size="29">40</text>
<text x="208.0" y="672.5" text-anchor="end" font-size="29">0</text>
<text x="208.0" y="704.0" text-anchor="end" font-size="29">150</text>
<text x="208.0" y="728.5" text-anchor="end" font-size="29">100</text>
<text x="208.0" y="758.0" text-anchor="end" font-size="29">50</text>
<text x="208.0" y="788.0" text-anchor="end" font-size="29">0</text>
<text x="208.0" y="818.0" text-anchor="end" font-size="29">-50</text>
<text x="208.0" y="848.0" text-anchor="end" font-size="29">-100</text>
<text x="208.0" y="877.0" text-anchor="end" font-size="29">-150</text>
<text x="211.0" y="916.0" text-anchor="end" font-size="29">10000</text>
<text x="211.0" y="955.0" text-anchor="end" font-size="29">1000</text>
<text x="211.0" y="994.0" text-anchor="end" font-size="29">100</text>
<text x="211.0" y="1033.0" text-anchor="end" font-size="29">10</text>
<text x="1506.8" y="357.0" font-size="29"><tspan font-style="italic">AU</tspan></text>
<text x="1506.8" y="450.0" font-size="29" fill="#f00"><tspan font-style="italic">AL</tspan></text>
<text x="1506.0" y="732.3" font-size="29" fill="#00f"><tspan font-style="italic">x</tspan>-GSM</text>
<text x="1506.0" y="822.0" font-size="29" fill="#00ee00"><tspan font-style="italic">y</tspan>-GSM</text>
<text transform="translate(25.0 207.0) rotate(-90)" text-anchor="middle" font-size="29">OMNI</text>
<text transform="translate(72.5 201.5) rotate(-90)" text-anchor="middle" font-size="29">PC_N</text>
<text transform="translate(25.0 391.0) rotate(-90)" text-anchor="middle" font-size="29">OMNI</text>
<text transform="translate(72.5 390.5) rotate(-90)" text-anchor="middle" font-size="29">AU/AL</text>
<text transform="translate(107.5 388.0) rotate(-90)" text-anchor="middle" font-size="29">INDEX</text>
<text transform="translate(137.0 390.0) rotate(-90)" text-anchor="middle" font-size="29">[nT]</text>
<text transform="translate(25.0 593.0) rotate(-90)" text-anchor="middle" font-size="29">SuperDARN</text>
<text transform="translate(68.0 593.0) rotate(-90)" text-anchor="middle" font-size="29">cross polar-cap</text>
<text transform="translate(103.0 589.0) rotate(-90)" text-anchor="middle" font-size="29">potential</text>
<text transform="translate(134.0 589.0) rotate(-90)" text-anchor="middle" font-size="29">[kV]</text>
<text transform="translate(25.0 781.0) rotate(-90)" text-anchor="middle" font-size="29">MMS1</text>
<text transform="translate(134.0 785.0) rotate(-90)" text-anchor="middle" font-size="29">[km/s]</text>
<text transform="translate(25.0 970.0) rotate(-90)" text-anchor="middle" font-size="29">MMS1</text>
<text transform="translate(134.0 977.0) rotate(-90)" text-anchor="middle" font-size="29">[eV]</text>
<text transform="translate(66 779) rotate(-90)" text-anchor="middle" font-size="29">H<tspan dy="-14" font-size="29">+</tspan><tspan dy="14">velocity</tspan></text>
<text transform="translate(66 991) rotate(-90)" text-anchor="middle" font-size="29">H<tspan dy="-14" font-size="29">+</tspan><tspan dy="14">Energy</tspan></text>
<text transform="translate(1661 980) rotate(-90)" text-anchor="middle" font-size="29" letter-spacing="0.4">H<tspan dy="-12">+</tspan><tspan dy="12">Flux ( cm</tspan><tspan dy="-12">2</tspan><tspan dy="12">s sr eV)</tspan><tspan dy="-18" dx="8">-1</tspan></text>
<text x="185.4" y="1104.0" font-size="29"><tspan font-style="italic">X</tspan>-GSM (Re)</text>
<text x="468.3" y="1104.0" text-anchor="middle" font-size="29">-3.9</text>
<text x="722.1" y="1104.0" text-anchor="middle" font-size="29">-3.8</text>
<text x="975.9" y="1104.0" text-anchor="middle" font-size="29">-3.8</text>
<text x="1229.7" y="1104.0" text-anchor="middle" font-size="29">-3.7</text>
<text x="1483.5" y="1104.0" text-anchor="middle" font-size="29">-3.6</text>
<text x="185.4" y="1132.6" font-size="29"><tspan font-style="italic">Y</tspan>-GSM (Re)</text>
<text x="468.3" y="1132.6" text-anchor="middle" font-size="29">-8.0</text>
<text x="722.1" y="1132.6" text-anchor="middle" font-size="29">-8.1</text>
<text x="975.9" y="1132.6" text-anchor="middle" font-size="29">-8.3</text>
<text x="1229.7" y="1132.6" text-anchor="middle" font-size="29">-8.4</text>
<text x="1483.5" y="1132.6" text-anchor="middle" font-size="29">-8.5</text>
<text x="185.4" y="1161.2" font-size="29"><tspan font-style="italic">Z</tspan>-GSM (Re)</text>
<text x="468.3" y="1161.2" text-anchor="middle" font-size="29">-3.1</text>
<text x="722.1" y="1161.2" text-anchor="middle" font-size="29">-3.2</text>
<text x="975.9" y="1161.2" text-anchor="middle" font-size="29">-3.3</text>
<text x="1229.7" y="1161.2" text-anchor="middle" font-size="29">-3.4</text>
<text x="1483.5" y="1161.2" text-anchor="middle" font-size="29">-3.5</text>
<text x="185.4" y="1189.8" font-size="29">hhmm</text>
<text x="468.3" y="1189.8" text-anchor="middle" font-size="29">1230</text>
<text x="722.1" y="1189.8" text-anchor="middle" font-size="29">1240</text>
<text x="975.9" y="1189.8" text-anchor="middle" font-size="29">1250</text>
<text x="1229.7" y="1189.8" text-anchor="middle" font-size="29">1300</text>
<text x="1483.5" y="1189.8" text-anchor="middle" font-size="29">1310</text>
<text x="185.4" y="1218.4" font-size="29">2016 Mar 11</text>
<defs><linearGradient id="rainbow" x1="0" y1="0" x2="0" y2="1"><stop offset="0.006" stop-color="#b00000"/><stop offset="0.062" stop-color="#e00000"/><stop offset="0.112" stop-color="#ff0000"/><stop offset="0.173" stop-color="#ff5000"/><stop offset="0.212" stop-color="#ff8000"/><stop offset="0.262" stop-color="#ffc000"/><stop offset="0.321" stop-color="#ffff00"/><stop offset="0.390" stop-color="#c0ff00"/><stop offset="0.476" stop-color="#00ff30"/><stop offset="0.552" stop-color="#00ff90"/><stop offset="0.610" stop-color="#00ffff"/><stop offset="0.671" stop-color="#00a0ff"/><stop offset="0.724" stop-color="#0040ff"/><stop offset="0.780" stop-color="#0000ff"/><stop offset="0.835" stop-color="#4000d0"/><stop offset="0.885" stop-color="#500080"/><stop offset="0.936" stop-color="#300030"/><stop offset="1.000" stop-color="#000000"/></linearGradient></defs>
<rect x="1511.1" y="881.7" width="18.6" height="177.9" fill="url(#rainbow)" stroke="#000" stroke-width="1.3"/>
<text x="1536.6" y="922.5" font-size="29">10000</text>
<text x="1536.6" y="972.5" font-size="29">1000</text>
<text x="1536.6" y="1021.5" font-size="29">100</text>
<text x="1536.6" y="1061.0" font-size="29">10</text>
<circle cx="300.8" cy="1506.7" r="68.9" fill="none" stroke="#b0b0b0" stroke-width="3"/>
<circle cx="300.8" cy="1506.7" r="137.8" fill="none" stroke="#b0b0b0" stroke-width="3"/>
<path d="M94.1 1506.7L507.5 1506.7M154.6 1360.5L447.0 1652.9M300.8 1300.0L300.8 1713.4M447.0 1360.5L154.6 1652.9" stroke="#b0b0b0" stroke-width="3"/>
<clipPath id="cpf"><circle cx="300.8" cy="1506.7" r="205.7"/></clipPath><g clip-path="url(#cpf)">
<path d="M246.4 1508.7 248.8 1506.7 250.3 1504.2 251.5 1499.7 251.5 1495.2 250.3 1492.3 248.8 1490.7 245.8 1489.1 242.8 1489.0 239.8 1490.1 237.4 1492.2 236.0 1495.2 236.0 1499.7 237.4 1504.2 239.8 1507.6 242.8 1509.2 246.4 1508.7ZM246.0 1523.7 248.8 1522.8 251.8 1520.8 254.7 1517.7 256.7 1514.7 259.9 1505.7 260.7 1499.7 260.7 1495.2 259.1 1489.2 257.3 1486.2 254.8 1483.5 251.8 1481.4 248.8 1480.2 242.8 1479.5 238.3 1480.3 235.3 1481.7 229.9 1486.2 226.9 1492.2 226.3 1499.7 227.1 1505.7 228.5 1510.2 232.6 1517.7 235.3 1520.5 238.3 1522.5 242.8 1523.8 246.0 1523.7ZM250.3 1537.2 254.8 1534.7 258.6 1531.2 262.3 1526.3 265.3 1520.6 267.4 1514.7 269.1 1507.2 269.9 1498.2 269.5 1492.2 268.3 1487.7 266.3 1483.2 263.1 1478.7 259.3 1475.2 254.8 1472.4 250.3 1470.7 245.8 1470.0 239.8 1470.2 233.8 1471.9 229.2 1474.2 223.8 1478.7 220.4 1483.2 218.2 1487.7 216.7 1493.7 216.6 1499.7 217.4 1507.2 219.2 1514.7 221.8 1521.4 224.8 1526.7 229.3 1532.0 233.8 1535.5 239.8 1538.0 245.8 1538.4 250.3 1537.2ZM249.9 1552.2 256.3 1549.4 262.3 1544.7 268.3 1537.3 272.4 1529.7 275.3 1522.2 277.3 1513.8 278.2 1498.2 277.9 1489.2 276.4 1483.2 273.4 1477.2 268.8 1471.2 263.8 1466.8 257.8 1463.4 251.8 1461.3 245.8 1460.5 239.8 1460.7 232.3 1462.3 224.8 1465.7 218.8 1470.2 213.8 1475.7 210.3 1481.7 207.8 1489.2 206.9 1496.7 207.4 1505.7 209.1 1516.2 211.9 1525.2 216.3 1534.2 221.8 1541.9 227.8 1547.4 235.3 1551.4 242.8 1553.0 249.9 1552.2ZM248.3 1567.2 253.3 1566.0 257.4 1564.2 265.3 1558.8 272.8 1550.4 278.8 1540.3 282.0 1511.7 282.8 1496.7 282.7 1487.7 281.8 1478.7 280.3 1470.9 277.2 1466.7 272.8 1462.1 265.3 1456.7 257.8 1453.2 250.3 1451.4 241.3 1451.0 232.3 1452.4 223.3 1455.7 215.2 1460.7 208.3 1467.3 203.4 1474.2 199.4 1483.2 197.5 1492.2 197.4 1502.7 199.0 1516.2 202.6 1529.7 207.8 1541.7 214.3 1551.5 221.8 1559.1 226.3 1562.3 230.8 1564.7 239.8 1567.3 248.3 1567.2ZM253.6 1580.7 262.3 1576.9 269.8 1571.4 277.3 1563.3 280.3 1559.2 281.3 1556.7 284.3 1535.7 286.6 1511.7 287.5 1492.2 286.7 1478.7 284.8 1467.1 282.7 1459.2 280.1 1456.2 274.3 1451.3 265.3 1446.1 256.3 1442.9 247.3 1441.5 236.8 1441.9 224.8 1444.7 214.3 1449.8 205.3 1456.6 197.8 1465.2 191.9 1475.7 188.7 1486.2 187.6 1496.7 188.5 1511.7 191.6 1528.2 196.3 1542.3 202.9 1555.2 211.3 1566.3 215.8 1570.7 221.8 1575.2 226.3 1577.8 232.3 1580.2 236.8 1581.4 242.8 1582.1 248.8 1581.7 253.6 1580.7ZM252.5 1595.7 260.8 1592.9 269.8 1587.7 278.8 1579.6 284.1 1573.2 284.7 1571.7 288.7 1538.7 290.9 1514.7 292.1 1493.7 291.5 1478.7 290.2 1468.2 288.1 1457.7 286.1 1450.2 284.1 1447.2 274.3 1440.1 268.3 1437.1 262.3 1434.8 250.3 1432.3 238.3 1432.2 230.8 1433.2 224.8 1434.7 212.7 1439.7 206.8 1443.2 200.8 1447.8 196.3 1452.0 191.4 1457.7 187.3 1463.7 184.3 1469.2 179.8 1481.7 178.1 1493.7 178.6 1510.2 181.3 1528.2 186.6 1546.2 190.3 1554.9 194.4 1562.7 199.2 1570.2 203.8 1576.0 208.3 1580.8 214.3 1586.0 220.3 1590.0 226.3 1593.0 232.3 1595.1 239.8 1596.4 245.8 1596.6 252.5 1595.7ZM250.5 1610.7 260.8 1608.0 271.3 1602.5 281.4 1594.2 289.0 1585.2 295.5 1514.7 296.7 1493.7 296.5 1480.2 295.4 1468.2 293.3 1456.2 289.3 1440.4 287.9 1438.2 277.3 1431.0 265.3 1425.8 253.3 1423.1 239.8 1422.5 232.3 1423.3 224.8 1424.9 217.3 1427.2 209.8 1430.5 202.3 1434.8 196.3 1439.1 190.6 1444.2 185.8 1449.4 181.3 1455.3 177.1 1462.2 174.2 1468.2 171.5 1475.7 169.7 1483.2 168.6 1490.7 168.7 1507.2 171.2 1528.2 173.6 1538.7 176.7 1549.2 180.1 1558.2 184.3 1567.2 189.5 1576.2 194.8 1583.7 200.8 1590.7 206.8 1596.4 212.8 1601.0 220.3 1605.4 227.8 1608.5 235.3 1610.4 242.8 1611.2 250.5 1610.7ZM245.6 1625.7 251.8 1625.1 259.3 1623.4 265.3 1621.1 271.3 1618.1 277.3 1614.2 283.4 1609.2 289.5 1603.2 294.2 1597.2 295.7 1567.2 300.5 1507.2 301.4 1484.7 300.6 1469.7 298.9 1456.2 295.7 1441.2 292.3 1429.8 280.3 1422.0 268.3 1416.9 256.3 1413.9 242.8 1412.9 233.8 1413.5 226.3 1414.8 217.3 1417.2 209.8 1420.0 202.3 1423.7 195.7 1427.7 188.8 1432.9 182.8 1438.4 176.8 1445.2 172.2 1451.7 167.8 1459.2 164.4 1466.7 161.9 1474.2 159.9 1483.2 159.0 1490.7 158.7 1499.7 159.4 1513.2 160.8 1525.2 163.0 1537.2 166.0 1549.2 169.5 1559.7 173.8 1570.2 179.2 1580.7 184.8 1589.7 190.5 1597.2 197.8 1605.2 205.3 1611.7 212.8 1616.8 220.3 1620.7 229.3 1623.8 236.8 1625.3 245.6 1625.7ZM254.9 1639.2 266.8 1635.6 272.8 1632.7 279.3 1628.7 290.8 1619.1 296.8 1612.7 300.6 1607.7 300.6 1571.7 306.0 1493.7 306.2 1480.2 305.6 1468.2 304.4 1456.2 302.5 1444.2 296.8 1421.6 290.8 1417.2 283.3 1412.9 275.8 1409.5 268.3 1406.9 253.3 1403.9 245.8 1403.4 236.8 1403.7 226.3 1405.1 217.3 1407.2 208.3 1410.3 199.3 1414.5 190.3 1419.8 182.8 1425.5 175.5 1432.2 169.3 1439.3 163.6 1447.2 159.3 1454.7 155.3 1463.7 152.3 1472.7 150.4 1481.7 149.3 1490.7 149.1 1501.2 149.7 1513.2 151.4 1528.2 153.8 1541.7 157.3 1555.2 161.3 1567.2 166.3 1579.2 171.6 1589.7 178.2 1600.2 185.0 1609.2 193.3 1618.1 200.8 1624.6 209.0 1630.2 217.8 1634.7 227.8 1638.2 236.8 1639.9 245.8 1640.2 254.9 1639.2ZM252.7 1654.2 260.8 1652.5 268.3 1650.0 275.8 1646.4 282.6 1642.2 289.3 1637.2 296.8 1630.3 304.3 1621.9 307.3 1618.0 307.8 1616.7 306.0 1592.7 305.7 1570.2 310.8 1490.7 310.8 1466.7 309.5 1451.7 307.5 1438.2 304.3 1423.3 301.3 1413.2 295.3 1409.0 287.8 1404.6 280.3 1401.2 271.3 1398.0 263.8 1396.0 254.8 1394.5 238.3 1394.1 227.8 1395.2 217.3 1397.3 206.8 1400.7 197.8 1404.5 188.8 1409.5 179.7 1415.7 171.0 1423.2 163.9 1430.7 157.1 1439.7 151.6 1448.7 147.3 1457.7 143.8 1467.6 141.4 1477.2 139.9 1487.7 139.4 1496.7 139.8 1510.2 141.3 1526.7 143.7 1541.7 147.2 1556.7 151.3 1570.0 156.6 1583.7 162.4 1595.7 169.3 1607.4 176.8 1617.9 184.9 1627.2 193.3 1635.0 202.3 1641.7 212.8 1647.6 221.8 1651.2 232.3 1653.8 242.8 1654.8 252.7 1654.2Z" fill="none" stroke="#6e6e6e" stroke-width="3.2" stroke-dasharray="10.5 5"/>
<path d="M377.8 1555.4 373.3 1555.4 368.8 1553.1 365.5 1549.2 363.8 1544.7 363.1 1537.2 364.5 1529.7 367.3 1524.8 368.8 1523.5 371.8 1522.4 374.8 1523.1 378.3 1526.7 381.4 1532.7 383.4 1540.2 383.7 1546.2 382.6 1550.7 380.8 1553.6 377.8 1555.4ZM376.3 1571.7 371.8 1571.2 367.3 1569.7 362.8 1567.1 358.3 1563.1 354.7 1558.2 352.4 1553.7 350.9 1549.2 349.8 1543.2 349.2 1535.7 349.4 1528.2 350.5 1520.7 352.3 1514.6 355.1 1508.7 358.3 1504.5 362.8 1501.0 367.3 1499.3 371.8 1499.7 376.3 1502.2 380.8 1506.8 383.8 1511.2 387.2 1517.7 390.1 1525.2 392.6 1534.2 393.9 1541.7 394.2 1547.7 393.6 1553.7 392.0 1559.7 389.9 1564.2 386.8 1568.0 383.8 1570.2 380.8 1571.3 376.3 1571.7ZM385.3 1586.7 377.8 1587.8 370.3 1587.1 362.8 1584.6 356.8 1581.1 350.8 1576.1 344.8 1568.7 340.7 1561.2 338.1 1553.7 337.8 1543.2 338.9 1523.7 340.7 1508.7 343.5 1493.7 345.4 1489.2 350.8 1482.8 356.8 1478.5 362.8 1476.4 367.3 1476.2 373.3 1478.2 379.3 1482.6 385.3 1489.6 390.6 1498.2 395.5 1508.7 399.7 1520.7 402.7 1532.7 404.1 1541.7 404.6 1550.7 403.8 1559.7 402.0 1567.2 399.6 1573.2 395.8 1579.2 391.3 1583.6 385.3 1586.7ZM385.3 1603.3 377.8 1603.9 368.8 1602.9 361.3 1600.7 353.8 1597.0 346.3 1591.7 339.6 1585.2 332.8 1575.9 331.4 1571.7 330.5 1552.2 331.6 1525.2 333.6 1505.7 339.1 1466.7 340.3 1464.0 347.8 1457.7 353.8 1454.7 359.8 1453.1 362.8 1452.9 367.3 1453.6 371.8 1455.3 376.3 1458.1 383.8 1464.9 391.3 1474.7 398.6 1487.7 404.8 1502.5 410.0 1519.2 413.5 1535.7 414.8 1547.7 414.6 1559.7 413.0 1570.2 409.7 1580.7 404.8 1589.9 398.8 1596.8 392.8 1600.9 385.3 1603.3ZM383.8 1619.7 376.3 1619.9 367.3 1618.7 358.3 1616.1 350.8 1612.7 343.3 1608.1 337.2 1603.2 329.8 1595.7 325.3 1589.6 323.3 1568.7 323.3 1547.7 325.0 1517.7 329.5 1472.7 330.6 1445.7 331.3 1443.7 332.8 1442.2 340.3 1436.1 347.8 1432.2 355.3 1430.1 359.8 1429.8 365.8 1430.8 370.3 1432.5 376.3 1436.0 382.3 1441.0 386.8 1445.6 395.8 1457.6 405.0 1474.2 413.1 1493.7 419.4 1514.7 424.0 1537.2 425.3 1553.7 424.4 1568.7 421.7 1582.2 416.8 1595.1 410.8 1604.8 403.3 1612.4 398.8 1615.4 394.3 1617.5 389.8 1618.9 383.8 1619.7ZM392.8 1634.7 382.3 1636.0 371.8 1635.6 361.3 1633.5 352.3 1630.4 341.8 1625.0 332.8 1618.7 323.8 1610.5 319.3 1605.4 318.2 1603.2 316.2 1583.7 315.5 1564.2 316.8 1532.7 321.1 1472.7 320.8 1450.2 318.9 1427.7 325.3 1420.4 332.8 1414.5 341.8 1409.7 350.8 1407.1 356.8 1406.7 362.8 1407.5 368.8 1409.7 374.8 1413.0 380.8 1417.5 386.8 1423.1 392.8 1430.0 398.8 1438.2 409.3 1456.3 419.1 1478.7 427.3 1504.2 433.1 1529.7 435.4 1547.7 435.4 1565.7 433.3 1582.3 431.1 1591.2 428.6 1598.7 425.8 1605.2 422.0 1612.2 418.3 1617.5 413.8 1622.7 408.7 1627.2 403.3 1630.8 398.8 1632.9 392.8 1634.7ZM391.3 1651.4 380.8 1652.1 368.8 1651.2 358.3 1649.0 347.8 1645.2 337.3 1639.9 327.3 1633.2 317.8 1624.9 310.3 1616.7 308.2 1592.7 307.7 1568.7 308.5 1550.7 312.6 1490.7 312.9 1469.7 312.1 1456.2 310.6 1442.7 308.3 1429.2 304.8 1414.2 307.3 1410.2 313.3 1403.1 323.8 1393.9 329.8 1390.1 335.8 1387.3 341.8 1385.2 347.8 1383.8 353.8 1383.5 361.3 1384.7 368.8 1387.5 376.3 1392.0 383.8 1397.9 391.3 1405.5 398.4 1414.2 404.8 1423.4 410.9 1433.7 417.2 1445.7 422.8 1458.3 428.4 1472.7 433.4 1487.7 437.6 1502.7 443.9 1532.7 445.4 1544.7 446.0 1555.2 445.2 1576.2 443.7 1586.7 441.8 1595.7 439.1 1604.7 435.6 1613.7 431.8 1621.2 427.3 1628.3 422.1 1634.7 416.8 1639.9 410.8 1644.4 404.8 1647.6 398.8 1649.8 391.3 1651.4Z" fill="none" stroke="#6e6e6e" stroke-width="2.8"/>
<path d="M307.9 1351.7l3 0M460 1535l3 0M472 1544l3 0M412 1628l3 0M418 1633l3 0M416 1640l3 0M367.5 1662l3 0M318.9 1659.6l3 .2M323.9 1660.2l2.8 -.2M339.5 1659.6l3 .3M311 1667.5l2.9 .2M317.7 1668l3 .3M324.6 1667l2.8 -.3M330 1666.3l3 -.3M338.5 1667.1l3.1 -.1M308.5 1673.4l2.9 .2M315.2 1674.5l2.9 .2M322.7 1673.6l2.9 .1M328.8 1672.8l2.8 .2M336.9 1672.8l2.8 -.2M311 1681l2.5 0M296.5 1689l2.5 0M294 1696l3 0" stroke="#270692" stroke-width="2.2" fill="none"/>
<path d="M264 1391l7.5 0M231.5 1456l7.2 -1.9M368.6 1515.2l6.9 -.6M375.1 1513l7 -.8M382.1 1512l7 -2.1M388.7 1509.8l6.9 -1.7M394.9 1507.3l7.3 -.8M402.2 1504.8l7.2 -1.6M484.6 1552.6l-2.6 7M370 1597.5l7.2 -1.9M369 1653l7.4 -1.3" stroke="#5602a2" stroke-width="2.2" fill="none"/>
<path d="M270.2 1390l5.9 1M275 1431l5.2 3M275 1439l5.6 2.1" stroke="#4b03a0" stroke-width="2.2" fill="none"/>
<path d="M270.2 1397.3l23.8 3.3M220.5 1463.4l22.3 -6.6M225.7 1458.2l21.7 -8.3M224.2 1469l23 -7.1M216.5 1482.8l22.8 -6M245 1468.7l22.5 -8.5M335.1 1432.8l-19.4 13.6M349.8 1433.6l-20.1 13.5M370.6 1453.8l-22.9 -7.3M355.2 1468.5l-23 -7.3M363.8 1472.1l-22.4 -6.8M404.1 1504.4l-1.7 -24.1M411 1505.5l-3.5 -23.5" stroke="#c5407e" stroke-width="2.2" fill="none"/>
<path d="M203.4 1467.1l19.8 -8M215.4 1456.4l20.4 -4.4M228.3 1447.9l20.5 -7.3M213.5 1466.4l21 -5.3M232.9 1451.5l18.7 -9M213.1 1477.8l20.7 -6.7M230.9 1464.2l20.3 -6.3M233.5 1469.1l20.9 -5.2M347.7 1427.1l-15.1 15.6M344.8 1435.3l-17.8 11.7M394.8 1601.3l16.4 -13.5M324 1513l-19 8.9" stroke="#b8318a" stroke-width="2.2" fill="none"/>
<path d="M210.3 1461l19.6 -10.3M208.4 1471.5l21.2 -6M218 1472.7l21.1 -8.7M236.9 1459.1l22.1 -5.3M227 1474.2l20.4 -8M240.3 1462.4l21.7 -6.4M225.5 1483l21.1 -7M231.3 1478.8l21.5 -7.1M269 1434l-2 22.4M340.2 1430l-18.8 13.2M339.7 1438l-16.4 15M361.8 1452.1l-21.3 -8.5M359.5 1456.6l-22 -4.1M368.2 1458.5l-20.9 -7.6M296.5 1646l-22.2 -3.9M332.5 1508.5l-19.5 11.2" stroke="#be3884" stroke-width="2.2" fill="none"/>
<path d="M222.8 1451.9l18.9 -6.1M388.8 1607.6l15.5 -12.3M401.3 1596.4l15.8 -11.3" stroke="#b12a90" stroke-width="2.2" fill="none"/>
<path d="M221.5 1477.5l24.3 -6.2M269 1441l-2.2 24.9M359 1463.5l-23.7 -9.5M367 1465.2l-24.7 -3.1M410.7 1496.4l-5.2 -24.8" stroke="#cc4778" stroke-width="2.2" fill="none"/>
<path d="M220.9 1490.2l24.4 -8.8M236.9 1474.9l23.7 -10.1M405.5 1497l-3.6 -25.6M375.2 1521.4l-21.8 -15.5" stroke="#d14e72" stroke-width="2.2" fill="none"/>
<path d="M206.5 1472.5l16.3 -28.1M248.8 1437.2l8 32.1M257.9 1434.5l4.2 32.3M263.6 1432.8l9.3 31.6" stroke="#ea7456" stroke-width="2.2" fill="none"/>
<path d="M210 1478l27.2 -12.7M403.5 1481l.3 -29.6M378 1517.2l-23.6 -19.4M385.8 1519.1l-23.1 -19.2M380.9 1511.4l-24.4 -17.5M394.3 1515.4l-24.5 -17.2" stroke="#e16462" stroke-width="2.2" fill="none"/>
<path d="M211.5 1484.5l29.1 -10.6M412.1 1480.2l-2.1 -31.2M388.6 1526.7l-25.8 -17.6M392.9 1520.8l-22.5 -21.5" stroke="#e56c5c" stroke-width="2.2" fill="none"/>
<path d="M236.5 1459l4.9 -.9M366 1649l5 0M301 1696l5 0" stroke="#41049d" stroke-width="2.2" fill="none"/>
<path d="M254.6 1436l9.3 32.3M247.3 1442.3l7.4 32.5M259 1440.6l12.8 30.7" stroke="#ee7c51" stroke-width="2.2" fill="none"/>
<path d="M253.8 1440.9l7.4 34.2M263.9 1440.1l11.6 33.6M306 1544l-3.1 34.9M306 1551l-3.1 34.9M344 1515.5l10.8 33.3" stroke="#f2844b" stroke-width="2.2" fill="none"/>
<path d="M248.7 1446.6l11.2 36.3M263 1443.3l6.6 36.9M345.5 1509.5l9.7 36.2" stroke="#f79540" stroke-width="2.2" fill="none"/>
<path d="M253.2 1446.2l12 36.5" stroke="#fa9e3b" stroke-width="2.2" fill="none"/>
<path d="M259.2 1443.9l9.8 39.5" stroke="#fcb032" stroke-width="2.2" fill="none"/>
<path d="M247.7 1451.8l8.2 38.9M264.4 1448.9l13.3 37.7" stroke="#fca636" stroke-width="2.2" fill="none"/>
<path d="M253.1 1450.6l7.1 41.5" stroke="#fcba2e" stroke-width="2.2" fill="none"/>
<path d="M259.4 1449.2l13.2 41.5" stroke="#fcc429" stroke-width="2.2" fill="none"/>
<path d="M281.5 1430l12.3 -2.2M362.9 1487.9l12.9 -2.4M376.7 1483.7l13.1 -.7M390.4 1478.5l12.2 -3M477.7 1568.2l-5.9 11.3M477 1575.1l-4.9 12M482.2 1576.1l-5.7 11M474 1582.2l-4 12.3M481.1 1583.1l-5.9 10.7M375 1602l11.7 -4.3M324 1531l10.8 -6.2" stroke="#7c06a6" stroke-width="2.2" fill="none"/>
<path d="M288 1428l14.5 -3.9M455 1625.9l-10.2 10.5M452.6 1634.3l-8 12M444 1636.6l-10.9 11.1M450.2 1639.8l-9.7 12.2M405.4 1618l11.5 -9.5M411.3 1613.1l10.2 -11" stroke="#8f0da4" stroke-width="2.2" fill="none"/>
<path d="M370.1 1484.3l13 -2.2M385.3 1479.8l13.1 -1.8M448.4 1623.2l-10 9.7" stroke="#860aa5" stroke-width="2.2" fill="none"/>
<path d="M398.3 1476.9l11.4 -1.1M372.6 1492.9l10.8 -3.2M378.1 1489.6l11.2 -2.5M385.7 1487.7l10.6 -2.8M391.6 1486.1l11 -1.3M398.5 1483.2l11.2 -2.4M482.7 1569.9l-5.4 10.4" stroke="#7303a7" stroke-width="2.2" fill="none"/>
<path d="M363.4 1493.1l10.1 -2.9M366.2 1500.7l10.2 -.9M372.3 1498.7l10.2 -1.8M379.3 1497.5l9.4 -1.8M386.6 1495.5l9.5 -2.9M393.3 1493.9l9.8 -.5M401.5 1491.7l9.7 -2.4M446.4 1504.7l.2 -10.6M443.5 1511.1l.3 -9.8M452.7 1510.7l-.5 -9.7M443.3 1516.7l.1 -10.1M452.6 1516.5l.9 -9.3M442 1523.6l-.2 -10.6M451.5 1522.3l2 -9.6M442.2 1530.4l.3 -10.3M449.9 1530.5l.2 -10.4M441.6 1536.7l.9 -9.3M448.5 1535.9l1.5 -10.2M331 1537l9.4 -3.4" stroke="#6a00a8" stroke-width="2.2" fill="none"/>
<path d="M365.6 1508.8l9.2 -1.2M374.2 1506.4l8.8 -1M379.5 1504.2l7.9 -2.5M388.2 1500.9l7.9 -2.3M395.4 1499.2l8.8 -2.8M400.6 1498.8l9.1 -1.2M453.1 1503.6l1.4 -9.2" stroke="#6001a5" stroke-width="2.2" fill="none"/>
<path d="M404.9 1489l-3.6 -27.9M412.5 1488.2l-6.7 -27.8M382 1523.7l-23.3 -16.2" stroke="#dc5d68" stroke-width="2.2" fill="none"/>
<path d="M388.4 1515.1l-19.4 -19.9" stroke="#d6566d" stroke-width="2.2" fill="none"/>
<path d="M451 1462.6l4 0M456 1467l4 0M463.6 1462l4 0M311.4 1660.4l3.2 .1M332.1 1661.5l3.2 -.2" stroke="#340598" stroke-width="2.2" fill="none"/>
<path d="M446.6 1630.3l-10.2 11.9M398.2 1623.5l10.5 -11.6" stroke="#98149f" stroke-width="2.2" fill="none"/>
<path d="M393.7 1615.9l14.8 -9.6M407.4 1604.5l14.8 -10.1" stroke="#a01b9a" stroke-width="2.2" fill="none"/>
<path d="M400.1 1610.2l15.3 -11.9M295 1654l-18.8 -2.6" stroke="#a82395" stroke-width="2.2" fill="none"/>
<path d="M307.9 1351.7h0M460 1535h0M472 1544h0M412 1628h0M418 1633h0M416 1640h0M367.5 1662h0M318.9 1659.6h0M323.9 1660.2h0M339.5 1659.6h0M311 1667.5h0M317.7 1668h0M324.6 1667h0M330 1666.3h0M338.5 1667.1h0M308.5 1673.4h0M315.2 1674.5h0M322.7 1673.6h0M328.8 1672.8h0M336.9 1672.8h0M311 1681h0M296.5 1689h0M294 1696h0" stroke="#270692" stroke-width="5.6" stroke-linecap="round" fill="none"/>
<path d="M264 1391h0M231.5 1456h0M368.6 1515.2h0M375.1 1513h0M382.1 1512h0M388.7 1509.8h0M394.9 1507.3h0M402.2 1504.8h0M484.6 1552.6h0M370 1597.5h0M369 1653h0" stroke="#5602a2" stroke-width="5.6" stroke-linecap="round" fill="none"/>
<path d="M270.2 1390h0M275 1431h0M275 1439h0" stroke="#4b03a0" stroke-width="5.6" stroke-linecap="round" fill="none"/>
<path d="M270.2 1397.3h0M220.5 1463.4h0M225.7 1458.2h0M224.2 1469h0M216.5 1482.8h0M245 1468.7h0M335.1 1432.8h0M349.8 1433.6h0M370.6 1453.8h0M355.2 1468.5h0M363.8 1472.1h0M404.1 1504.4h0M411 1505.5h0" stroke="#c5407e" stroke-width="5.6" stroke-linecap="round" fill="none"/>
<path d="M203.4 1467.1h0M215.4 1456.4h0M228.3 1447.9h0M213.5 1466.4h0M232.9 1451.5h0M213.1 1477.8h0M230.9 1464.2h0M233.5 1469.1h0M347.7 1427.1h0M344.8 1435.3h0M394.8 1601.3h0M324 1513h0" stroke="#b8318a" stroke-width="5.6" stroke-linecap="round" fill="none"/>
<path d="M210.3 1461h0M208.4 1471.5h0M218 1472.7h0M236.9 1459.1h0M227 1474.2h0M240.3 1462.4h0M225.5 1483h0M231.3 1478.8h0M269 1434h0M340.2 1430h0M339.7 1438h0M361.8 1452.1h0M359.5 1456.6h0M368.2 1458.5h0M296.5 1646h0M332.5 1508.5h0" stroke="#be3884" stroke-width="5.6" stroke-linecap="round" fill="none"/>
<path d="M222.8 1451.9h0M388.8 1607.6h0M401.3 1596.4h0" stroke="#b12a90" stroke-width="5.6" stroke-linecap="round" fill="none"/>
<path d="M221.5 1477.5h0M269 1441h0M359 1463.5h0M367 1465.2h0M410.7 1496.4h0" stroke="#cc4778" stroke-width="5.6" stroke-linecap="round" fill="none"/>
<path d="M220.9 1490.2h0M236.9 1474.9h0M405.5 1497h0M375.2 1521.4h0" stroke="#d14e72" stroke-width="5.6" stroke-linecap="round" fill="none"/>
<path d="M206.5 1472.5h0M248.8 1437.2h0M257.9 1434.5h0M263.6 1432.8h0" stroke="#ea7456" stroke-width="5.6" stroke-linecap="round" fill="none"/>
<path d="M210 1478h0M403.5 1481h0M378 1517.2h0M385.8 1519.1h0M380.9 1511.4h0M394.3 1515.4h0" stroke="#e16462" stroke-width="5.6" stroke-linecap="round" fill="none"/>
<path d="M211.5 1484.5h0M412.1 1480.2h0M388.6 1526.7h0M392.9 1520.8h0" stroke="#e56c5c" stroke-width="5.6" stroke-linecap="round" fill="none"/>
<path d="M236.5 1459h0M366 1649h0M301 1696h0" stroke="#41049d" stroke-width="5.6" stroke-linecap="round" fill="none"/>
<path d="M254.6 1436h0M247.3 1442.3h0M259 1440.6h0" stroke="#ee7c51" stroke-width="5.6" stroke-linecap="round" fill="none"/>
<path d="M253.8 1440.9h0M263.9 1440.1h0M306 1544h0M306 1551h0M344 1515.5h0" stroke="#f2844b" stroke-width="5.6" stroke-linecap="round" fill="none"/>
<path d="M248.7 1446.6h0M263 1443.3h0M345.5 1509.5h0" stroke="#f79540" stroke-width="5.6" stroke-linecap="round" fill="none"/>
<path d="M253.2 1446.2h0" stroke="#fa9e3b" stroke-width="5.6" stroke-linecap="round" fill="none"/>
<path d="M259.2 1443.9h0" stroke="#fcb032" stroke-width="5.6" stroke-linecap="round" fill="none"/>
<path d="M247.7 1451.8h0M264.4 1448.9h0" stroke="#fca636" stroke-width="5.6" stroke-linecap="round" fill="none"/>
<path d="M253.1 1450.6h0" stroke="#fcba2e" stroke-width="5.6" stroke-linecap="round" fill="none"/>
<path d="M259.4 1449.2h0" stroke="#fcc429" stroke-width="5.6" stroke-linecap="round" fill="none"/>
<path d="M281.5 1430h0M362.9 1487.9h0M376.7 1483.7h0M390.4 1478.5h0M477.7 1568.2h0M477 1575.1h0M482.2 1576.1h0M474 1582.2h0M481.1 1583.1h0M375 1602h0M324 1531h0" stroke="#7c06a6" stroke-width="5.6" stroke-linecap="round" fill="none"/>
<path d="M288 1428h0M455 1625.9h0M452.6 1634.3h0M444 1636.6h0M450.2 1639.8h0M405.4 1618h0M411.3 1613.1h0" stroke="#8f0da4" stroke-width="5.6" stroke-linecap="round" fill="none"/>
<path d="M370.1 1484.3h0M385.3 1479.8h0M448.4 1623.2h0" stroke="#860aa5" stroke-width="5.6" stroke-linecap="round" fill="none"/>
<path d="M398.3 1476.9h0M372.6 1492.9h0M378.1 1489.6h0M385.7 1487.7h0M391.6 1486.1h0M398.5 1483.2h0M482.7 1569.9h0" stroke="#7303a7" stroke-width="5.6" stroke-linecap="round" fill="none"/>
<path d="M363.4 1493.1h0M366.2 1500.7h0M372.3 1498.7h0M379.3 1497.5h0M386.6 1495.5h0M393.3 1493.9h0M401.5 1491.7h0M446.4 1504.7h0M443.5 1511.1h0M452.7 1510.7h0M443.3 1516.7h0M452.6 1516.5h0M442 1523.6h0M451.5 1522.3h0M442.2 1530.4h0M449.9 1530.5h0M441.6 1536.7h0M448.5 1535.9h0M331 1537h0" stroke="#6a00a8" stroke-width="5.6" stroke-linecap="round" fill="none"/>
<path d="M365.6 1508.8h0M374.2 1506.4h0M379.5 1504.2h0M388.2 1500.9h0M395.4 1499.2h0M400.6 1498.8h0M453.1 1503.6h0" stroke="#6001a5" stroke-width="5.6" stroke-linecap="round" fill="none"/>
<path d="M404.9 1489h0M412.5 1488.2h0M382 1523.7h0" stroke="#dc5d68" stroke-width="5.6" stroke-linecap="round" fill="none"/>
<path d="M388.4 1515.1h0" stroke="#d6566d" stroke-width="5.6" stroke-linecap="round" fill="none"/>
<path d="M451 1462.6h0M456 1467h0M463.6 1462h0M311.4 1660.4h0M332.1 1661.5h0" stroke="#340598" stroke-width="5.6" stroke-linecap="round" fill="none"/>
<path d="M446.6 1630.3h0M398.2 1623.5h0" stroke="#98149f" stroke-width="5.6" stroke-linecap="round" fill="none"/>
<path d="M393.7 1615.9h0M407.4 1604.5h0" stroke="#a01b9a" stroke-width="5.6" stroke-linecap="round" fill="none"/>
<path d="M400.1 1610.2h0M295 1654h0" stroke="#a82395" stroke-width="5.6" stroke-linecap="round" fill="none"/>
</g>
<circle cx="300.8" cy="1506.7" r="206.7" fill="none" stroke="#000" stroke-width="2.8"/>
<text x="312.5" y="1271.3" text-anchor="middle" font-size="29">2016-03-11 12:44 - 12:46</text>
<text x="301.8" y="1296.3" text-anchor="middle" font-size="29">12</text>
<text x="300.9" y="1746.5" text-anchor="middle" font-size="29">00</text>
<text x="92.2" y="1523.6" text-anchor="end" font-size="29">18</text>
<text x="510.0" y="1523.6" font-size="29">06</text>
<text x="31.8" y="1328.0" font-size="29" letter-spacing="3">(f)</text>
<text x="326.9" y="1582.1" font-size="19">80</text>
<text x="356.7" y="1640.3" font-size="19">70</text>
<text x="403.3" y="1705.3" font-size="19">60</text>
<rect x="219.7" y="1495.9" width="12" height="5.6" fill="#000"/>
<path d="M369.3 1542.1h12M375.3 1536.1v12" stroke="#000" stroke-width="5"/>
<circle cx="817.3" cy="1513.4" r="68.9" fill="none" stroke="#b0b0b0" stroke-width="3"/>
<circle cx="817.3" cy="1513.4" r="137.8" fill="none" stroke="#b0b0b0" stroke-width="3"/>
<path d="M610.6 1513.4L1024.0 1513.4M671.1 1367.2L963.5 1659.6M817.3 1306.7L817.3 1720.1M963.5 1367.2L671.1 1659.6" stroke="#b0b0b0" stroke-width="3"/>
<clipPath id="cpg"><circle cx="817.3" cy="1513.4" r="205.7"/></clipPath><g clip-path="url(#cpg)">
<path d="M730.2 1546.9 735.3 1545.5 739.8 1541.9 743.1 1536.4 744.4 1530.4 743.8 1524.4 741.3 1518.9 736.8 1514.7 732.3 1513.2 727.8 1513.9 723.3 1517.7 720.3 1523.1 718.8 1530.4 719.5 1537.9 721.8 1543.0 724.8 1545.8 727.8 1546.9 730.2 1546.9ZM733.6 1566.4 739.8 1564.5 744.3 1562.0 748.8 1558.4 753.6 1552.9 757.2 1546.9 759.5 1540.9 760.8 1534.9 761.3 1527.4 760.5 1519.9 758.8 1513.9 756.3 1508.5 752.8 1503.4 748.1 1498.9 742.8 1495.7 736.8 1493.6 732.3 1493.2 726.3 1494.5 721.8 1497.0 717.3 1501.0 713.1 1506.4 709.8 1512.8 707.3 1519.9 705.9 1527.4 705.4 1534.9 706.0 1542.4 707.9 1549.9 710.6 1555.9 713.8 1560.4 717.3 1563.5 721.8 1565.9 727.8 1566.9 733.6 1566.4ZM736.5 1585.9 745.8 1582.8 754.8 1577.3 762.3 1570.4 768.3 1562.4 770.6 1551.4 772.3 1539.4 773.2 1527.4 773.3 1515.4 772.7 1503.4 771.6 1498.9 768.0 1492.9 763.2 1486.9 756.3 1480.9 748.8 1476.7 741.3 1474.2 733.8 1473.3 729.3 1473.9 724.8 1475.2 717.3 1479.2 709.8 1486.0 703.8 1494.0 698.9 1503.4 694.8 1515.4 692.6 1527.4 692.2 1539.4 693.2 1549.9 695.8 1560.4 699.8 1569.4 705.3 1577.1 711.3 1582.3 718.8 1585.8 727.8 1586.8 736.5 1585.9ZM739.3 1605.4 747.3 1603.0 756.3 1598.7 763.8 1593.7 771.3 1587.1 776.0 1567.9 779.5 1546.9 781.3 1527.4 781.6 1507.9 780.8 1492.9 779.3 1477.9 778.8 1476.4 777.3 1474.6 768.3 1465.8 757.8 1459.1 751.8 1456.5 745.8 1454.7 735.3 1453.4 730.8 1453.8 724.8 1455.3 718.8 1457.8 714.3 1460.4 709.0 1464.4 703.8 1469.3 694.9 1480.9 687.8 1494.4 682.7 1509.4 679.6 1525.9 678.9 1542.4 680.4 1557.4 684.3 1572.4 690.3 1585.0 697.8 1594.8 702.3 1598.9 706.8 1601.9 715.8 1605.6 721.8 1606.5 727.8 1606.8 739.3 1605.4ZM732.9 1626.4 744.3 1624.4 756.3 1620.1 766.8 1614.4 773.1 1609.9 776.3 1606.9 782.0 1581.4 786.3 1557.4 788.8 1536.4 790.0 1515.4 790.1 1498.9 789.5 1482.4 787.6 1459.9 786.6 1456.9 775.8 1447.2 763.8 1440.1 757.4 1437.4 750.3 1435.3 738.3 1433.5 732.3 1433.9 724.8 1435.5 717.3 1438.4 711.3 1441.7 705.3 1445.9 699.3 1451.2 693.3 1457.8 688.3 1464.4 683.5 1471.9 678.8 1480.9 671.9 1498.9 667.4 1518.4 665.6 1537.9 666.5 1557.4 669.9 1575.4 672.8 1584.4 676.0 1591.9 679.8 1599.0 684.3 1605.7 688.8 1611.0 694.1 1615.9 699.3 1619.7 705.3 1622.9 711.3 1625.0 717.3 1626.2 724.8 1626.7 732.9 1626.4ZM736.7 1645.9 748.8 1643.4 760.8 1639.1 772.8 1632.7 783.5 1624.9 792.1 1573.9 795.3 1551.2 798.0 1522.9 799.0 1495.9 798.6 1462.9 797.5 1441.9 796.8 1440.2 790.6 1434.4 783.3 1428.8 769.8 1421.1 762.3 1418.0 754.8 1415.8 745.8 1414.1 739.8 1413.7 732.3 1414.1 723.3 1416.1 715.8 1418.9 708.3 1422.9 700.8 1428.1 693.3 1434.7 685.8 1442.8 679.7 1450.9 673.8 1460.1 668.4 1470.4 663.9 1480.9 659.8 1492.9 656.6 1504.9 654.3 1516.9 652.9 1528.9 652.3 1540.9 652.5 1552.9 653.6 1564.9 655.6 1576.9 658.3 1587.4 661.8 1597.6 666.0 1606.9 670.8 1615.4 676.5 1623.4 682.8 1630.2 688.8 1635.3 694.8 1639.3 702.4 1642.9 709.8 1645.2 718.8 1646.4 727.8 1646.6 736.7 1645.9ZM740.0 1665.4 754.8 1661.9 768.3 1656.7 781.8 1649.2 792.3 1641.4 795.9 1608.4 803.1 1554.4 806.0 1525.9 808.5 1485.4 809.5 1443.4 809.4 1426.9 808.8 1425.5 801.3 1418.4 793.8 1412.5 781.8 1405.0 768.3 1399.1 754.8 1395.3 741.3 1393.8 732.3 1394.4 721.8 1396.7 712.8 1400.2 703.8 1405.1 694.8 1411.5 685.8 1419.6 677.8 1428.4 670.0 1438.9 663.3 1449.8 657.3 1461.5 651.7 1474.9 647.2 1488.4 643.8 1501.9 641.1 1516.9 639.5 1531.9 639.0 1545.4 639.4 1558.9 640.7 1572.4 643.1 1585.9 646.2 1597.9 650.4 1609.9 655.2 1620.4 661.2 1630.9 667.8 1639.9 675.3 1647.9 682.8 1654.1 690.3 1658.8 699.3 1662.8 708.3 1665.2 718.8 1666.4 729.3 1666.5 740.0 1665.4ZM711.3 1685.9 723.3 1686.6 735.3 1686.0 747.3 1684.1 759.3 1680.9 771.3 1676.4 783.3 1670.3 795.3 1662.6 802.8 1656.5 805.5 1606.9 817.3 1494.4 821.8 1440.4 823.3 1413.4 815.9 1405.9 807.3 1398.5 798.3 1392.0 789.3 1386.7 780.3 1382.4 769.8 1378.6 760.8 1376.2 750.3 1374.3 742.8 1373.9 733.8 1374.4 724.8 1376.1 717.3 1378.4 708.3 1382.2 700.8 1386.4 693.3 1391.4 685.8 1397.4 678.3 1404.5 670.4 1413.4 663.3 1422.6 656.6 1432.9 650.7 1443.4 644.9 1455.4 640.1 1467.4 636.0 1479.4 632.7 1491.4 629.7 1504.9 627.6 1518.4 626.3 1531.9 625.7 1545.4 625.9 1558.9 626.9 1572.4 628.6 1584.4" fill="none" stroke="#6e6e6e" stroke-width="3.2" stroke-dasharray="10.5 5"/>
<path d="M892.8 1580.0 889.8 1580.3 886.8 1579.7 882.3 1577.1 879.3 1573.5 877.2 1567.9 876.9 1560.4 878.7 1554.4 882.3 1549.7 886.8 1547.7 891.3 1548.1 896.4 1551.4 900.3 1557.1 902.3 1563.4 902.2 1569.4 900.6 1573.9 897.3 1577.9 892.8 1580.0ZM898.8 1596.5 894.3 1597.5 888.3 1597.6 882.3 1596.1 877.8 1593.9 873.1 1590.4 868.8 1585.5 865.4 1579.9 863.2 1573.9 862.0 1567.9 861.6 1561.9 862.4 1554.4 864.3 1544.5 867.3 1538.3 871.0 1533.4 876.3 1529.2 880.8 1527.3 885.3 1526.5 891.3 1527.1 897.3 1529.5 901.8 1532.6 906.3 1537.0 910.2 1542.4 913.3 1548.4 916.0 1555.9 917.4 1563.4 917.5 1569.4 916.7 1575.4 914.7 1581.4 912.2 1585.9 907.8 1591.1 903.3 1594.4 898.8 1596.5ZM898.8 1614.5 892.8 1615.2 885.3 1614.6 879.3 1613.0 872.5 1609.9 866.0 1605.4 861.2 1600.9 856.4 1594.9 853.3 1588.9 852.7 1573.9 853.8 1557.4 856.4 1540.9 860.3 1525.9 864.3 1514.5 865.8 1511.7 871.8 1508.2 879.3 1505.8 886.8 1505.5 895.8 1507.4 904.8 1512.1 912.3 1518.3 918.7 1525.9 924.3 1535.3 928.5 1545.4 931.7 1557.4 932.7 1567.9 932.0 1576.9 929.8 1585.9 925.8 1594.6 920.1 1602.4 913.8 1608.0 906.3 1612.3 898.8 1614.5ZM895.8 1632.5 888.3 1632.4 880.8 1631.2 873.3 1628.8 867.3 1626.0 859.8 1621.1 853.8 1616.0 847.1 1608.4 845.6 1605.4 844.3 1584.4 845.2 1563.4 848.0 1540.9 852.5 1519.9 857.5 1503.4 862.8 1489.4 870.3 1486.2 877.8 1484.6 888.3 1484.7 894.3 1485.9 900.3 1488.0 906.3 1491.0 911.6 1494.4 921.8 1503.4 931.1 1515.4 938.5 1528.9 943.9 1543.9 947.1 1558.9 947.7 1572.4 945.9 1585.9 942.0 1597.9 939.0 1603.9 935.2 1609.9 927.3 1618.9 918.3 1625.6 907.8 1630.3 901.8 1631.8 895.8 1632.5ZM904.8 1649.0 895.8 1650.0 885.3 1649.5 876.3 1647.7 867.3 1644.5 858.3 1639.8 849.9 1633.9 841.8 1626.4 837.9 1621.9 837.3 1620.4 835.8 1594.9 836.4 1572.4 839.2 1543.9 844.3 1515.4 849.9 1492.9 856.9 1470.4 858.3 1468.4 859.8 1467.7 865.8 1465.4 871.8 1464.0 877.8 1463.3 885.3 1463.4 892.8 1464.6 900.3 1466.8 907.8 1470.1 913.8 1473.6 921.3 1479.0 927.3 1484.4 933.3 1490.8 939.3 1498.6 944.4 1506.4 949.2 1515.4 956.5 1533.4 961.4 1552.9 962.8 1569.4 962.5 1578.4 961.5 1585.9 959.9 1593.4 957.3 1601.9 954.3 1609.0 950.6 1615.9 946.7 1621.9 941.8 1627.9 936.3 1633.4 930.3 1638.2 924.3 1642.0 918.3 1644.9 912.3 1647.2 904.8 1649.0ZM903.3 1666.9 892.8 1667.4 882.3 1666.5 871.8 1664.1 862.8 1660.8 852.3 1655.4 843.3 1649.3 834.3 1641.4 828.8 1635.4 828.0 1633.9 827.1 1615.9 826.9 1597.9 828.8 1564.9 833.8 1524.4 841.5 1483.9 847.8 1457.6 850.3 1449.4 853.8 1447.4 859.8 1445.1 870.3 1442.7 877.8 1442.1 886.8 1442.6 895.8 1444.3 904.8 1447.3 913.8 1451.6 921.3 1456.3 929.9 1462.9 937.7 1470.4 945.3 1479.1 951.3 1487.3 957.5 1497.4 962.9 1507.9 967.3 1518.4 971.4 1530.4 974.2 1540.9 976.6 1552.9 977.7 1563.4 977.9 1573.9 977.1 1584.4 975.7 1593.4 973.1 1603.9 969.9 1612.9 965.7 1621.9 961.3 1629.4 955.9 1636.9 949.8 1643.7 943.8 1649.2 936.2 1654.9 928.3 1659.4 919.8 1663.1 912.3 1665.3 903.3 1666.9ZM943.8 1670.4 936.3 1674.8 928.8 1678.2 921.3 1680.9 912.3 1683.2 904.8 1684.4 895.8 1684.9 886.8 1684.5 877.8 1683.2 868.8 1681.0 861.3 1678.4 852.4 1674.4 844.8 1670.1 837.3 1665.1 829.8 1659.0 822.3 1651.7 817.8 1646.3 817.4 1624.9 817.8 1602.4 819.0 1582.9 821.4 1557.4 829.0 1497.4 840.3 1431.0 847.8 1427.2 855.3 1424.4 862.8 1422.5 871.8 1421.2 879.3 1421.1 888.3 1421.9 897.3 1423.7 906.3 1426.7 915.3 1430.8 922.8 1435.0 930.3 1440.2 937.8 1446.3 945.3 1453.5 952.4 1461.4 958.8 1469.6 964.8 1478.5 975.3 1497.9 979.8 1508.3 984.0 1519.9 987.5 1531.9 990.2 1543.9 991.9 1554.4 992.8 1564.9 993.0 1575.4 992.3 1585.9 990.8 1596.4 988.8 1605.4 985.5 1615.9 981.9 1624.9 977.4 1633.9 972.8 1641.4M889.8 1702.1 877.8 1700.7 865.8 1697.9 853.8 1693.5 843.3 1688.4 832.8 1681.8 822.3 1673.7 810.7 1662.4 806.7 1657.9 806.4 1656.4 807.3 1624.9 809.5 1593.4 828.3 1414.3 841.8 1406.9 849.3 1404.1 856.8 1402.0 871.8 1400.0 879.3 1400.0 888.3 1400.9 903.3 1404.5 918.3 1410.7 933.3 1419.8 947.6 1431.4 960.5 1444.9 972.9 1461.4 983.5 1479.4 992.5 1498.9 999.8 1519.9 1005.2 1542.4 1007.7 1561.9 1007.9 1581.4" fill="none" stroke="#6e6e6e" stroke-width="2.8"/>
<ellipse cx="904.0" cy="1388.0" rx="20.0" ry="24.0" transform="rotate(-30.0 904.0 1388.0)" fill="none" stroke="#6e6e6e" stroke-width="2.9" stroke-dasharray="10.5 5"/>
<ellipse cx="822.0" cy="1367.6" rx="27.0" ry="17.0" transform="rotate(0.0 822.0 1367.6)" fill="none" stroke="#6e6e6e" stroke-width="2.9"/>
<path d="M777.8 1398.2l36.3 4.7M783.2 1397l35.7 5M789.9 1394.8l34.4 11.3M792.3 1400.6l35.8 5.7" stroke="#f48c46" stroke-width="2.2" fill="none"/>
<path d="M779.8 1404.8l41.6 5.4" stroke="#fcba2e" stroke-width="2.2" fill="none"/>
<path d="M785.3 1402l35.7 9.3" stroke="#f79540" stroke-width="2.2" fill="none"/>
<path d="M743 1435.4l22.5 -15.8M796.5 1454l-9.8 25.5M774.8 1473.5l-7.3 26.1M783.6 1469.5l-10.4 25.4M896.7 1599.7l19.2 -19.1M905.7 1594.1l18.7 -20.1M921.6 1586l22.8 -15.5M878.6 1582l19.4 19.4" stroke="#d6566d" stroke-width="2.2" fill="none"/>
<path d="M749.2 1440.3l18.1 -8.5M764.7 1450.5l-6.8 18.5M879.6 1460.1l-19.2 -6.6" stroke="#b12a90" stroke-width="2.2" fill="none"/>
<path d="M722.5 1471.5l-.1 -9.9M730 1465.5l-1.5 -9.5M864.7 1479.3l-9.9 -1.6M872.1 1479.7l-9.4 -1.3M880.6 1480.4l-9.6 -4M910.7 1507.9l-3.9 -9.4M926.8 1505l-4.7 -8.8M893.2 1519.1l-4.8 -8.2M901.5 1518l-6 -8.2M908.7 1515l-4.3 -9.7M924.7 1511.8l-5.2 -8M899.5 1523.1l-5.4 -8M924.8 1516.8l-5.3 -8.1M955.4 1477.7l-10 -3.6M961 1473.3l-9.2 -4.3M976.3 1465.2l-9.4 -2.8M975.6 1636.2l4 -8.6M980.5 1626.6l4.9 -8.9M983.1 1619.1l5.1 -8.6M988.1 1611.9l4.1 -9.1M1000.9 1587.1l5.7 -8.9M1004.6 1578.5l3 -9.8M1008.6 1570.6l4.2 -9.2M1011.4 1563.5l4.3 -8.8M884.6 1654l9.4 .6M886.1 1660.4l9.5 .3M887.1 1666.3l9.4 1M888.8 1671l9.8 .8" stroke="#6a00a8" stroke-width="2.2" fill="none"/>
<path d="M736.8 1460.3l-1.2 -9.3M743.4 1455.1l-.6 -9.2M748.9 1447l-1.7 -9.1M917.3 1512.3l-3.7 -8.6M893.1 1527.1l-4.8 -7.4M907 1521.4l-4.8 -6.9M916.1 1520.6l-3.8 -8.4M967.5 1468.9l-8.8 -2.8M992.2 1603.8l3.2 -8.8" stroke="#6001a5" stroke-width="2.2" fill="none"/>
<path d="M723.9 1480.4l.3 -10.9M740.1 1466.9l-1.7 -11.6M752.1 1455.7l-1.6 -11.7M897.2 1496.9l-6.6 -9.4M903 1503.8l-5.5 -9.8M927.8 1497.2l-6.1 -10M893.2 1511.2l-5.3 -10.3M902.1 1509.8l-5.7 -9M917.6 1506.1l-5.9 -9.7M961.9 1649.6l3.9 -10.5M968.3 1633.8l6 -9.6M974 1624.8l4 -10.7M981.8 1607.9l4.7 -10.8M993.2 1584.4l5.4 -10.1M968 1651.2l3.9 -9.9M972.4 1642.3l5.4 -9.3M996.6 1595.1l4 -9.9" stroke="#7303a7" stroke-width="2.2" fill="none"/>
<path d="M733.1 1473.9l-0 -12.3M747.1 1461l-1.8 -12M735.8 1482.1l.4 -12.7M741.8 1475.4l-.1 -13M756.5 1463.7l-1.1 -12.2M880.9 1474.2l-12.8 -2.7M903.8 1495.6l-7.6 -10M911 1493.5l-7.3 -10.9M919.8 1491.4l-7.5 -9.8M928.3 1490.4l-5.2 -12M894.4 1504.1l-5.3 -10.9M910.2 1499.8l-5.7 -10.9M920 1498.9l-5.7 -11M964.8 1640.5l4.4 -11.9M975.9 1617l5 -11.7M984.2 1600.4l4.5 -11.5M988.6 1592.1l4.2 -11.1M997.4 1577.3l4.2 -11.7M1000.7 1569.1l5.5 -11M1004.9 1559.9l6.3 -11M932.8 1646l10.8 -6.2M938 1641l10.8 -6.2" stroke="#7c06a6" stroke-width="2.2" fill="none"/>
<path d="M729 1487.2l-.3 -13.5M748.4 1469.2l-.3 -13.2M753 1478.6l-1.9 -14.1M758 1471.8l.5 -13.6M863.5 1473.4l-13.3 -3.7M871.7 1474.3l-13.3 -2.7M954 1646.8l6.5 -12.8M965 1621.8l5.8 -12.6M970.9 1615.8l5.2 -12.8M974.2 1607.9l4.8 -12.9M982.1 1591.2l4.2 -12.7M985.9 1583.9l5.8 -12.2M991.2 1575.4l5.7 -12M993.5 1568l4.6 -13.3" stroke="#860aa5" stroke-width="2.2" fill="none"/>
<path d="M731.5 1494.9l-1.5 -15M738.4 1489l-2.4 -15.1M745.3 1484.9l.2 -14.4M762.3 1480.7l-1.2 -15.2M988 1557.6l-.6 -15.5M957.8 1638l7.8 -12.1M961 1630.9l7.3 -13.2M977 1599.3l4.5 -14.3M998.3 1558.7l7.3 -13M893 1574l13 7.5" stroke="#8f0da4" stroke-width="2.2" fill="none"/>
<path d="M734.2 1503.1l-3.3 -16M740.4 1496.9l-3 -16.1M754.3 1486.1l-1.8 -16.6M863 1466l-15.7 -3.8M881.2 1467.4l-16 -3.7M966.5 1498.4l-3 -16.2M976.6 1503.2l-3.4 -16.3M988.1 1506.4l.8 -16.8M986.9 1512.8l.1 -16.5M957.2 1512.3l.2 -16.3M968.1 1515.1l-3 -16.3M966.5 1530.4l-2.4 -15.7M986.5 1536.4l-1.7 -16.8M957.1 1534.6l.8 -16.8M966.9 1537l-3.4 -16.2M986.7 1543.9l-2 -15.9M967.5 1543.9l-2.4 -16.5M987.2 1549.4l-2.7 -16.1M957.3 1547.9l-3.2 -15.7" stroke="#98149f" stroke-width="2.2" fill="none"/>
<path d="M748.2 1490.8l-2.8 -17M866 1443l-16.4 6M956.7 1504.8l-1.6 -17.8M966.6 1505.6l-2.3 -17.9M977.7 1509.9l-1.7 -17.4M976.3 1516.2l.8 -16.9M957.7 1519.9l-.6 -17.1M967.6 1520.8l-1.3 -16.9M976.2 1525l-2.3 -16.9M986.7 1527.3l-2.2 -17.2M958.2 1527.3l.2 -17.8M977 1532.8l-2.3 -17.2M977.8 1540.4l-3.7 -17.3M957.1 1542.2l-1.9 -17.5M976.8 1546.9l-.8 -17.6M966.5 1550.6l-1.3 -17.6M977.1 1555.3l.1 -17.4" stroke="#a01b9a" stroke-width="2.2" fill="none"/>
<path d="M772.4 1448.6l-3.9 22M780.5 1443.4l-4.1 21.7M789.8 1439.8l-7.3 21M777.3 1454.7l-7.6 20.7M859 1440l-19.5 11.2M906 1483.9l-13.3 -18.9M907.4 1491.9l-14.5 -16.9M910.7 1607.4l16.3 -15.6M919.2 1602.9l18.2 -13.3" stroke="#be3884" stroke-width="2.2" fill="none"/>
<path d="M768.1 1458.7l-5.3 21.1M784.6 1450.4l-6.9 20.5M864.5 1459l-20.7 -5.7M870.9 1460.1l-20.4 -4.1M894.5 1617.5l17.4 -12.6M927.9 1596.8l17.7 -12.4M905.7 1618.3l14.8 -14.6M914.5 1614.1l17.1 -11.7M922.2 1606.9l16.1 -13.1M931.5 1602.3l15.1 -15.4" stroke="#b8318a" stroke-width="2.2" fill="none"/>
<path d="M792.1 1446.5l-3.3 23.1M787.3 1456.5l-4.4 23.6M923.9 1490.4l-11.2 -21.4M892.3 1610l17.6 -16.7M908.3 1600.4l20 -12.8M916.7 1596l17 -16.8M903.4 1613.1l17.2 -15.9" stroke="#c5407e" stroke-width="2.2" fill="none"/>
<path d="M772.1 1465.3l-7.7 24.6M798 1461.5l-4.4 25.3M915.1 1483.4l-16.3 -20M922.1 1485.5l-16.7 -19.8M912.8 1590l18.1 -18.3M925.7 1591.7l21.5 -15.7" stroke="#d14e72" stroke-width="2.2" fill="none"/>
<path d="M778.8 1461.1l-9.6 22.7M915.6 1490.7l-16.2 -19.3M901.6 1605.1l20.9 -13.5M886 1577l16.1 19.2" stroke="#cc4778" stroke-width="2.2" fill="none"/>
<path d="M791.2 1464.3l-11.4 27M888.6 1605.1l20.9 -19.4" stroke="#dc5d68" stroke-width="2.2" fill="none"/>
<path d="M846.6 1446.5l-28.1 16.2" stroke="#ea7456" stroke-width="2.2" fill="none"/>
<path d="M852.7 1444l-26 15M838 1452l-26 15" stroke="#e16462" stroke-width="2.2" fill="none"/>
<path d="M871.2 1467.1l-17.7 -5.8M956.7 1495.3l-2.2 -18.7M987.9 1519.3l-4 -17.8M898.6 1623.2l13.8 -12.4M841 1519l-14.6 12.2M861 1510l0 19" stroke="#a82395" stroke-width="2.2" fill="none"/>
<path d="M826.9 1675.2l4.5 -3.6M835.5 1668.8l4.5 -4.3M842.2 1664.9l4.5 -3.7M852.1 1661l4.8 -3.4M859.7 1657.9l4.6 -3.5" stroke="#4b03a0" stroke-width="2.2" fill="none"/>
<path d="M822.3 1681.9l4.4 -3.1M830.4 1677.8l3.7 -3.9M839.2 1674.1l4.2 -3.3M845.9 1668.9l3.9 -3.5M855.2 1665.4l4.5 -3.3M819.4 1690.6l3.8 -3.2M826.5 1685l4.1 -2.9M834 1683l4 -3.2M842.9 1677.1l4 -2.5M850.7 1675.2l3.5 -3.6M815 1697.4l3.7 -2.4M821.8 1693.9l3.1 -3.5M831.9 1691l3.1 -3.4M846.1 1682.3l3.3 -3.5" stroke="#41049d" stroke-width="2.2" fill="none"/>
<path d="M838.5 1685.9l3.2 -3M809.9 1707.1l2.6 -2.6M819.6 1702.1l3.3 -2.3M827.3 1697l3.2 -2.4M836.1 1692.8l2.8 -3M844 1689.8l3.2 -2.4" stroke="#340598" stroke-width="2.2" fill="none"/>
<path d="M841 1543l7.5 0" stroke="#5602a2" stroke-width="2.2" fill="none"/>
<path d="M777.8 1398.2h0M783.2 1397h0M789.9 1394.8h0M792.3 1400.6h0" stroke="#f48c46" stroke-width="5.6" stroke-linecap="round" fill="none"/>
<path d="M779.8 1404.8h0" stroke="#fcba2e" stroke-width="5.6" stroke-linecap="round" fill="none"/>
<path d="M785.3 1402h0" stroke="#f79540" stroke-width="5.6" stroke-linecap="round" fill="none"/>
<path d="M743 1435.4h0M796.5 1454h0M774.8 1473.5h0M783.6 1469.5h0M896.7 1599.7h0M905.7 1594.1h0M921.6 1586h0M878.6 1582h0" stroke="#d6566d" stroke-width="5.6" stroke-linecap="round" fill="none"/>
<path d="M749.2 1440.3h0M764.7 1450.5h0M879.6 1460.1h0" stroke="#b12a90" stroke-width="5.6" stroke-linecap="round" fill="none"/>
<path d="M722.5 1471.5h0M730 1465.5h0M864.7 1479.3h0M872.1 1479.7h0M880.6 1480.4h0M910.7 1507.9h0M926.8 1505h0M893.2 1519.1h0M901.5 1518h0M908.7 1515h0M924.7 1511.8h0M899.5 1523.1h0M924.8 1516.8h0M955.4 1477.7h0M961 1473.3h0M976.3 1465.2h0M975.6 1636.2h0M980.5 1626.6h0M983.1 1619.1h0M988.1 1611.9h0M1000.9 1587.1h0M1004.6 1578.5h0M1008.6 1570.6h0M1011.4 1563.5h0M884.6 1654h0M886.1 1660.4h0M887.1 1666.3h0M888.8 1671h0" stroke="#6a00a8" stroke-width="5.6" stroke-linecap="round" fill="none"/>
<path d="M736.8 1460.3h0M743.4 1455.1h0M748.9 1447h0M917.3 1512.3h0M893.1 1527.1h0M907 1521.4h0M916.1 1520.6h0M967.5 1468.9h0M992.2 1603.8h0" stroke="#6001a5" stroke-width="5.6" stroke-linecap="round" fill="none"/>
<path d="M723.9 1480.4h0M740.1 1466.9h0M752.1 1455.7h0M897.2 1496.9h0M903 1503.8h0M927.8 1497.2h0M893.2 1511.2h0M902.1 1509.8h0M917.6 1506.1h0M961.9 1649.6h0M968.3 1633.8h0M974 1624.8h0M981.8 1607.9h0M993.2 1584.4h0M968 1651.2h0M972.4 1642.3h0M996.6 1595.1h0" stroke="#7303a7" stroke-width="5.6" stroke-linecap="round" fill="none"/>
<path d="M733.1 1473.9h0M747.1 1461h0M735.8 1482.1h0M741.8 1475.4h0M756.5 1463.7h0M880.9 1474.2h0M903.8 1495.6h0M911 1493.5h0M919.8 1491.4h0M928.3 1490.4h0M894.4 1504.1h0M910.2 1499.8h0M920 1498.9h0M964.8 1640.5h0M975.9 1617h0M984.2 1600.4h0M988.6 1592.1h0M997.4 1577.3h0M1000.7 1569.1h0M1004.9 1559.9h0M932.8 1646h0M938 1641h0" stroke="#7c06a6" stroke-width="5.6" stroke-linecap="round" fill="none"/>
<path d="M729 1487.2h0M748.4 1469.2h0M753 1478.6h0M758 1471.8h0M863.5 1473.4h0M871.7 1474.3h0M954 1646.8h0M965 1621.8h0M970.9 1615.8h0M974.2 1607.9h0M982.1 1591.2h0M985.9 1583.9h0M991.2 1575.4h0M993.5 1568h0" stroke="#860aa5" stroke-width="5.6" stroke-linecap="round" fill="none"/>
<path d="M731.5 1494.9h0M738.4 1489h0M745.3 1484.9h0M762.3 1480.7h0M988 1557.6h0M957.8 1638h0M961 1630.9h0M977 1599.3h0M998.3 1558.7h0M893 1574h0" stroke="#8f0da4" stroke-width="5.6" stroke-linecap="round" fill="none"/>
<path d="M734.2 1503.1h0M740.4 1496.9h0M754.3 1486.1h0M863 1466h0M881.2 1467.4h0M966.5 1498.4h0M976.6 1503.2h0M988.1 1506.4h0M986.9 1512.8h0M957.2 1512.3h0M968.1 1515.1h0M966.5 1530.4h0M986.5 1536.4h0M957.1 1534.6h0M966.9 1537h0M986.7 1543.9h0M967.5 1543.9h0M987.2 1549.4h0M957.3 1547.9h0" stroke="#98149f" stroke-width="5.6" stroke-linecap="round" fill="none"/>
<path d="M748.2 1490.8h0M866 1443h0M956.7 1504.8h0M966.6 1505.6h0M977.7 1509.9h0M976.3 1516.2h0M957.7 1519.9h0M967.6 1520.8h0M976.2 1525h0M986.7 1527.3h0M958.2 1527.3h0M977 1532.8h0M977.8 1540.4h0M957.1 1542.2h0M976.8 1546.9h0M966.5 1550.6h0M977.1 1555.3h0" stroke="#a01b9a" stroke-width="5.6" stroke-linecap="round" fill="none"/>
<path d="M772.4 1448.6h0M780.5 1443.4h0M789.8 1439.8h0M777.3 1454.7h0M859 1440h0M906 1483.9h0M907.4 1491.9h0M910.7 1607.4h0M919.2 1602.9h0" stroke="#be3884" stroke-width="5.6" stroke-linecap="round" fill="none"/>
<path d="M768.1 1458.7h0M784.6 1450.4h0M864.5 1459h0M870.9 1460.1h0M894.5 1617.5h0M927.9 1596.8h0M905.7 1618.3h0M914.5 1614.1h0M922.2 1606.9h0M931.5 1602.3h0" stroke="#b8318a" stroke-width="5.6" stroke-linecap="round" fill="none"/>
<path d="M792.1 1446.5h0M787.3 1456.5h0M923.9 1490.4h0M892.3 1610h0M908.3 1600.4h0M916.7 1596h0M903.4 1613.1h0" stroke="#c5407e" stroke-width="5.6" stroke-linecap="round" fill="none"/>
<path d="M772.1 1465.3h0M798 1461.5h0M915.1 1483.4h0M922.1 1485.5h0M912.8 1590h0M925.7 1591.7h0" stroke="#d14e72" stroke-width="5.6" stroke-linecap="round" fill="none"/>
<path d="M778.8 1461.1h0M915.6 1490.7h0M901.6 1605.1h0M886 1577h0" stroke="#cc4778" stroke-width="5.6" stroke-linecap="round" fill="none"/>
<path d="M791.2 1464.3h0M888.6 1605.1h0" stroke="#dc5d68" stroke-width="5.6" stroke-linecap="round" fill="none"/>
<path d="M846.6 1446.5h0" stroke="#ea7456" stroke-width="5.6" stroke-linecap="round" fill="none"/>
<path d="M852.7 1444h0M838 1452h0" stroke="#e16462" stroke-width="5.6" stroke-linecap="round" fill="none"/>
<path d="M871.2 1467.1h0M956.7 1495.3h0M987.9 1519.3h0M898.6 1623.2h0M841 1519h0M861 1510h0" stroke="#a82395" stroke-width="5.6" stroke-linecap="round" fill="none"/>
<path d="M826.9 1675.2h0M835.5 1668.8h0M842.2 1664.9h0M852.1 1661h0M859.7 1657.9h0" stroke="#4b03a0" stroke-width="5.6" stroke-linecap="round" fill="none"/>
<path d="M822.3 1681.9h0M830.4 1677.8h0M839.2 1674.1h0M845.9 1668.9h0M855.2 1665.4h0M819.4 1690.6h0M826.5 1685h0M834 1683h0M842.9 1677.1h0M850.7 1675.2h0M815 1697.4h0M821.8 1693.9h0M831.9 1691h0M846.1 1682.3h0" stroke="#41049d" stroke-width="5.6" stroke-linecap="round" fill="none"/>
<path d="M838.5 1685.9h0M809.9 1707.1h0M819.6 1702.1h0M827.3 1697h0M836.1 1692.8h0M844 1689.8h0" stroke="#340598" stroke-width="5.6" stroke-linecap="round" fill="none"/>
<path d="M841 1543h0" stroke="#5602a2" stroke-width="5.6" stroke-linecap="round" fill="none"/>
</g>
<circle cx="817.3" cy="1513.4" r="206.7" fill="none" stroke="#000" stroke-width="2.8"/>
<text x="828.3" y="1271.3" text-anchor="middle" font-size="29">2016-03-11 12:46 - 12:48</text>
<text x="818.5" y="1296.5" text-anchor="middle" font-size="29">12</text>
<text x="818.5" y="1746.5" text-anchor="middle" font-size="29">00</text>
<text x="609.2" y="1523.6" text-anchor="end" font-size="29">18</text>
<text x="1027.3" y="1523.6" font-size="29">06</text>
<text x="553.5" y="1328.0" font-size="29" letter-spacing="3">(g)</text>
<text x="840.0" y="1583.0" font-size="19">80</text>
<text x="870.0" y="1640.3" font-size="19">70</text>
<text x="916.7" y="1706.0" font-size="19">60</text>
<rect x="736.0" y="1501.0" width="12" height="5.6" fill="#000"/>
<path d="M883.7 1565.5h12M889.7 1559.5v12" stroke="#000" stroke-width="5"/>
<circle cx="1309.9" cy="1513.6" r="68.9" fill="none" stroke="#b0b0b0" stroke-width="3"/>
<circle cx="1309.9" cy="1513.6" r="137.8" fill="none" stroke="#b0b0b0" stroke-width="3"/>
<path d="M1103.2 1513.6L1516.6 1513.6M1163.7 1367.4L1456.1 1659.8M1309.9 1306.9L1309.9 1720.3M1456.1 1367.4L1163.7 1659.8" stroke="#b0b0b0" stroke-width="3"/>
<clipPath id="cph"><circle cx="1309.9" cy="1513.6" r="205.7"/></clipPath><g clip-path="url(#cph)">
<path d="M1223.2 1553.1 1227.9 1550.5 1232.0 1545.6 1234.1 1539.6 1234.5 1533.6 1233.6 1527.6 1230.9 1521.5 1226.4 1517.2 1221.9 1516.0 1218.9 1516.6 1215.9 1518.4 1211.9 1523.1 1208.7 1530.6 1207.8 1535.1 1207.5 1539.6 1208.3 1544.1 1209.5 1547.1 1212.9 1551.5 1217.4 1553.6 1220.4 1553.7 1223.2 1553.1ZM1225.1 1572.6 1230.9 1570.5 1236.9 1566.7 1241.4 1562.4 1245.0 1557.6 1248.1 1551.6 1250.1 1545.6 1251.3 1538.1 1251.5 1530.6 1250.7 1521.6 1248.9 1514.2 1246.5 1508.1 1242.9 1502.1 1238.4 1497.2 1233.9 1494.0 1227.9 1491.7 1223.4 1491.3 1217.4 1492.7 1212.9 1495.2 1206.9 1500.6 1202.4 1506.8 1198.6 1514.1 1195.4 1523.1 1193.3 1533.6 1192.8 1541.1 1193.6 1548.6 1195.8 1556.1 1198.9 1562.1 1202.5 1566.6 1206.9 1570.2 1212.9 1572.7 1218.9 1573.4 1225.1 1572.6ZM1226.7 1592.1 1235.4 1589.3 1244.4 1584.1 1251.9 1577.4 1257.9 1569.7 1260.5 1553.1 1261.2 1536.6 1260.6 1521.6 1259.2 1508.1 1256.8 1494.6 1253.4 1480.8 1247.4 1474.8 1241.4 1470.7 1233.9 1467.7 1226.4 1466.6 1221.9 1467.0 1217.4 1468.2 1212.9 1470.2 1208.4 1473.0 1200.9 1479.8 1193.4 1489.7 1186.9 1502.1 1182.1 1515.6 1179.0 1530.6 1178.1 1542.6 1179.3 1554.6 1182.2 1565.1 1187.4 1575.6 1193.4 1583.0 1200.9 1588.7 1208.4 1591.9 1217.4 1593.0 1226.7 1592.1ZM1228.3 1611.6 1236.9 1609.2 1245.9 1605.1 1254.9 1599.1 1262.4 1592.3 1265.0 1583.1 1268.0 1566.6 1269.5 1553.1 1270.0 1538.1 1269.3 1515.6 1267.0 1494.6 1263.1 1473.6 1257.9 1454.1 1251.9 1449.3 1244.4 1445.3 1236.9 1442.9 1229.4 1441.9 1223.4 1442.3 1217.4 1443.8 1211.4 1446.3 1205.4 1449.8 1199.9 1454.1 1194.9 1459.0 1190.0 1464.6 1184.7 1472.1 1176.5 1487.1 1169.7 1505.1 1165.2 1524.6 1163.9 1533.6 1163.5 1542.6 1163.8 1551.6 1164.7 1559.1 1168.6 1574.1 1171.7 1581.6 1175.0 1587.6 1178.4 1592.7 1182.9 1598.0 1187.9 1602.6 1193.4 1606.4 1197.9 1608.8 1203.9 1611.0 1209.9 1612.2 1215.9 1612.7 1228.3 1611.6ZM1229.8 1631.1 1239.9 1628.4 1250.4 1624.0 1259.4 1618.6 1268.4 1611.5 1269.6 1608.6 1272.5 1595.1 1276.3 1574.1 1278.2 1556.1 1278.8 1536.6 1278.0 1508.1 1275.3 1481.1 1270.7 1454.1 1264.6 1430.1 1263.9 1429.0 1257.9 1425.1 1248.9 1420.7 1239.9 1418.1 1230.9 1417.2 1223.4 1417.9 1215.9 1419.8 1208.4 1423.1 1201.8 1427.1 1194.9 1432.4 1188.0 1439.1 1181.4 1446.9 1175.4 1455.4 1170.0 1464.6 1164.8 1475.1 1160.4 1485.8 1156.4 1497.6 1153.3 1509.6 1150.9 1521.6 1149.3 1533.6 1148.8 1544.1 1149.1 1554.6 1150.2 1563.6 1152.3 1574.1 1155.0 1583.1 1158.6 1592.1 1162.6 1599.6 1167.6 1607.1 1172.4 1612.9 1178.4 1618.7 1184.4 1623.2 1190.4 1626.6 1197.9 1629.7 1205.4 1631.5 1212.9 1632.3 1221.9 1632.2 1229.8 1631.1ZM1231.3 1650.6 1242.9 1647.6 1254.9 1642.8 1266.9 1635.8 1276.6 1628.1 1280.9 1605.6 1285.2 1577.1 1287.0 1557.6 1287.7 1536.6 1287.1 1503.6 1284.7 1470.6 1280.4 1438.5 1274.4 1408.2 1265.4 1401.8 1254.9 1396.8 1244.4 1393.7 1233.9 1392.5 1224.9 1393.2 1215.9 1395.4 1206.9 1399.2 1197.9 1404.5 1188.9 1411.6 1181.4 1418.9 1173.9 1427.7 1166.4 1438.3 1159.7 1449.6 1153.7 1461.6 1148.2 1475.1 1143.6 1488.6 1139.6 1503.6 1136.6 1518.6 1134.8 1532.1 1134.1 1545.6 1134.5 1557.6 1135.8 1569.6 1138.3 1581.6 1141.4 1592.1 1145.4 1602.2 1150.2 1611.6 1155.9 1620.4 1162.1 1628.1 1169.4 1635.2 1176.9 1640.8 1184.4 1645.1 1193.4 1648.8 1202.4 1651.0 1211.4 1651.9 1221.9 1651.8 1231.3 1650.6ZM1169.4 1658.5 1175.4 1662.1 1182.9 1665.7 1196.4 1669.9 1211.4 1671.6 1227.9 1670.9 1244.4 1667.3 1259.4 1661.6 1274.4 1653.1 1286.4 1643.7 1295.1 1571.1 1296.2 1550.1 1296.6 1520.1 1296.0 1482.6 1294.0 1446.6 1290.3 1410.6 1287.3 1389.6 1286.5 1388.1 1278.9 1382.3 1271.4 1377.7 1263.9 1374.0 1256.4 1371.3 1247.4 1369.0 1239.9 1368.0 1232.4 1367.9 1224.9 1368.7 1215.9 1371.0 1208.4 1373.8 1200.9 1377.6 1193.4 1382.4 1185.9 1388.1 1178.4 1395.0 1170.9 1403.1 1164.9 1410.5 1158.4 1419.6 1151.9 1430.1 1146.3 1440.6 1140.7 1452.6 1135.8 1464.6 1131.2 1478.1 1124.3 1505.1 1120.3 1530.6 1119.5 1542.6 1119.5 1553.1 1120.2 1565.1 1121.5 1575.6 1123.9 1587.6 1126.8 1598.1" fill="none" stroke="#6e6e6e" stroke-width="3.2" stroke-dasharray="10.5 5"/>
<path d="M1386.9 1577.2 1383.9 1577.2 1380.9 1576.5 1376.4 1573.7 1373.1 1569.6 1371.1 1563.6 1370.4 1556.1 1371.7 1548.6 1373.1 1545.6 1374.9 1543.2 1376.4 1542.0 1379.4 1540.8 1382.4 1540.8 1385.4 1541.8 1389.9 1545.2 1394.4 1551.6 1397.7 1560.6 1397.6 1566.6 1395.8 1571.1 1393.4 1574.1 1391.4 1575.6 1386.9 1577.2ZM1392.9 1593.8 1386.9 1594.6 1380.9 1594.1 1374.9 1592.2 1370.4 1589.7 1365.9 1586.1 1361.4 1580.6 1358.6 1575.6 1356.5 1569.6 1354.7 1560.6 1353.9 1551.6 1354.3 1542.6 1355.7 1535.1 1358.6 1527.6 1362.6 1521.6 1367.4 1517.5 1371.9 1515.6 1377.9 1515.1 1383.9 1516.4 1389.9 1519.6 1395.9 1524.6 1401.0 1530.6 1405.7 1538.1 1409.4 1545.9 1412.3 1554.6 1413.5 1560.6 1413.6 1566.6 1412.7 1572.6 1410.5 1578.6 1407.9 1583.1 1403.4 1588.1 1398.9 1591.3 1392.9 1593.8ZM1392.9 1611.6 1383.9 1611.9 1374.9 1610.2 1365.9 1606.4 1358.4 1601.1 1351.2 1593.6 1346.4 1586.3 1342.9 1578.6 1340.1 1568.1 1338.2 1557.6 1337.5 1548.6 1338.9 1527.6 1341.1 1517.1 1344.9 1508.0 1350.9 1499.3 1354.2 1496.1 1358.4 1493.1 1365.9 1490.0 1370.4 1489.4 1374.9 1489.5 1383.9 1491.6 1392.9 1496.4 1401.9 1503.9 1410.5 1514.1 1417.9 1526.1 1423.9 1539.6 1428.0 1553.1 1429.4 1563.6 1428.7 1574.1 1426.3 1583.1 1422.0 1592.1 1416.1 1599.6 1409.4 1605.2 1401.9 1609.2 1392.9 1611.6ZM1398.9 1628.3 1388.4 1629.4 1377.9 1628.5 1367.4 1625.5 1357.4 1620.6 1347.9 1613.5 1340.4 1605.6 1334.1 1596.6 1329.2 1586.1 1329.4 1560.6 1330.6 1530.6 1332.7 1506.6 1336.1 1482.6 1337.4 1479.1 1344.9 1471.7 1352.4 1467.1 1359.9 1464.5 1365.9 1463.7 1371.9 1463.9 1377.9 1464.9 1383.9 1466.9 1389.9 1469.6 1395.9 1473.3 1401.9 1477.8 1407.9 1483.3 1418.9 1496.1 1428.9 1512.1 1436.7 1529.1 1443.0 1548.6 1445.0 1562.1 1444.6 1575.6 1441.9 1587.6 1436.8 1599.6 1430.4 1609.1 1421.4 1617.8 1410.9 1624.3 1404.9 1626.7 1398.9 1628.3ZM1397.4 1646.3 1386.9 1646.8 1374.9 1645.4 1364.4 1642.4 1353.9 1637.7 1343.4 1630.9 1334.4 1622.9 1326.1 1613.1 1320.6 1604.1 1320.8 1584.6 1323.2 1520.1 1325.7 1488.6 1329.8 1452.6 1334.4 1448.3 1340.4 1444.2 1346.4 1441.2 1353.9 1439.0 1361.4 1438.0 1368.9 1438.3 1376.4 1439.6 1385.4 1442.7 1392.9 1446.4 1400.4 1451.1 1407.9 1457.0 1415.9 1464.6 1422.9 1472.5 1430.4 1482.5 1436.4 1491.9 1442.1 1502.1 1447.1 1512.6 1451.9 1524.6 1455.9 1536.6 1459.0 1548.6 1460.4 1557.6 1460.9 1566.6 1460.5 1575.6 1459.5 1583.1 1455.5 1598.1 1452.3 1605.6 1448.1 1613.1 1443.9 1619.2 1437.9 1626.0 1431.9 1631.5 1425.9 1635.8 1419.9 1639.3 1412.4 1642.6 1404.9 1644.9 1397.4 1646.3ZM1392.9 1664.1 1380.9 1663.7 1368.9 1661.6 1356.9 1657.6 1346.4 1652.6 1335.9 1645.7 1326.9 1638.2 1317.6 1628.1 1312.0 1620.6 1311.4 1619.1 1315.9 1503.6 1320.4 1428.6 1320.9 1427.4 1324.8 1424.1 1332.9 1418.9 1340.4 1415.5 1349.4 1413.1 1358.4 1412.3 1367.4 1412.9 1376.4 1414.8 1386.9 1418.6 1397.4 1424.1 1406.4 1430.2 1415.4 1437.7 1424.4 1446.6 1433.3 1457.1 1440.9 1467.6 1448.4 1479.6 1455.7 1493.1 1461.9 1506.8 1467.5 1521.6 1472.2 1536.6 1475.0 1548.6 1476.3 1559.1 1476.7 1569.6 1476.0 1580.1 1474.4 1590.6 1471.6 1601.1 1468.3 1610.1 1463.9 1619.1 1458.2 1628.1 1452.2 1635.6 1444.7 1643.1 1437.2 1649.1 1428.9 1654.2 1419.9 1658.4 1410.9 1661.4 1401.9 1663.3 1392.9 1664.1ZM1437.9 1669.1 1428.9 1673.6 1419.9 1677.0 1410.9 1679.4 1401.9 1680.9 1392.9 1681.5 1382.4 1681.2 1373.4 1680.0 1364.4 1678.0 1355.4 1675.1 1346.4 1671.3 1337.4 1666.5 1329.9 1661.6 1322.4 1655.8 1314.9 1649.0 1307.4 1640.9 1301.4 1633.0 1306.4 1551.6 1308.0 1472.1 1308.1 1406.1 1314.9 1400.2 1322.4 1395.3 1329.9 1391.6 1337.4 1389.0 1344.9 1387.4 1353.9 1386.6 1361.4 1386.9 1370.4 1388.3 1379.4 1390.9 1388.4 1394.4 1397.4 1399.1 1404.9 1403.8 1413.9 1410.5 1421.4 1417.0 1430.1 1425.6 1437.9 1434.4 1446.2 1445.1 1454.3 1457.1 1461.5 1469.1 1467.8 1481.1 1474.0 1494.6 1479.4 1508.1 1484.0 1521.6 1488.4 1536.6 1490.3 1545.6 1491.8 1556.1 1492.4 1566.6 1492.2 1577.1 1491.1 1587.6 1489.5 1596.6 1486.7 1607.1 1483.5 1616.1M1389.9 1698.9 1374.9 1697.7 1361.4 1694.9 1347.9 1690.3 1334.4 1683.9 1322.4 1676.4 1310.4 1666.9 1299.9 1656.6 1290.2 1644.6 1297.7 1569.6 1298.7 1551.6 1299.2 1524.6 1299.0 1488.6 1297.9 1455.6 1296.1 1427.1 1292.1 1389.6 1292.4 1387.9 1298.4 1381.9 1305.3 1376.1 1311.9 1371.7 1319.4 1367.7 1326.9 1364.7 1334.4 1362.7 1341.9 1361.4 1349.4 1361.0 1356.9 1361.2 1365.9 1362.4 1373.4 1364.2 1382.4 1367.1 1391.4 1371.0 1398.9 1375.0 1407.9 1380.7 1416.0 1386.6 1431.9 1400.6 1446.9 1417.2 1461.8 1437.6 1474.4 1458.6 1486.1 1482.6 1496.6 1509.6 1504.1 1535.1 1506.2 1545.6 1507.5 1556.1" fill="none" stroke="#6e6e6e" stroke-width="2.8"/>
<ellipse cx="1402.0" cy="1386.0" rx="26.0" ry="58.0" transform="rotate(-40.0 1402.0 1386.0)" fill="none" stroke="#6e6e6e" stroke-width="2.9" stroke-dasharray="10.5 5"/>
<path d="M1266.2 1401.9l20.6 8.2M1266.4 1407.4l20.9 8.2M1281.5 1403.4l20 9.8M1288.1 1401.8l22.3 5M1345.8 1450.2l-19.2 10.7M1355.8 1473.8l-21.5 -8.3M1454.7 1489.4l-6.1 -21.8M1463.3 1490.6l-5.1 -22.2M1464 1498.7l-4.2 -22.4M1445.2 1508.1l-4.7 -22.1M1455.2 1506.8l-4.2 -21.7M1445.9 1514.5l-5.6 -22M1473.6 1515.7l-5.2 -21.9M1481.6 1524.4l-1.1 -22.2M1472.4 1533.7l-6.3 -21.1M1446.8 1540.5l-1.2 -21.9M1375.4 1606l14.9 -16.8M1377.2 1612l14.3 -16.5M1410 1596.1l16.9 -15.7M1417.6 1592l14.9 -16.8M1379.5 1619.4l14 -17M1411.6 1604.4l17 -15M1380.3 1626.8l17.3 -14.2M1397.9 1618.3l17.3 -15M1419.9 1606.1l14.6 -17.2M1424.2 1613.2l17.5 -13.2M1378 1587l20.4 9.5M1421 1560l5.8 -21.7" stroke="#be3884" stroke-width="2.2" fill="none"/>
<path d="M1273 1400.6l23 6.6M1288.6 1395.9l22.6 6.1M1216.8 1466.4l8.9 -21.4M1345 1441.9l-22.8 8.4M1361.9 1437l-20.6 10.7M1446.3 1490.8l-2 -23.2M1482.5 1489.3l-3.1 -24M1445.7 1499.6l-3.4 -23.5M1473.5 1507.3l-2.5 -23.1M1380.6 1595.3l18.1 -15.5M1389.6 1591.6l15.5 -18M1406 1581.9l18.4 -15.7M1413.7 1578.5l16.5 -16.7M1392 1598.1l15 -18.4M1407.5 1590.1l18.8 -14.8M1413.9 1585l14.1 -18.6M1387.2 1615.2l17.3 -16.4M1395.3 1612.2l16 -17.8M1388.6 1621.9l17.5 -15.4" stroke="#c5407e" stroke-width="2.2" fill="none"/>
<path d="M1279.9 1397.7l23.1 9.5M1217.7 1473.6l8.1 -23.4M1337.8 1446.4l-20.8 13.5M1352.5 1440.3l-22.9 10M1356.3 1465.4l-24 -4.8M1374.5 1465l-24.4 -5.5M1347.1 1476.3l-23.8 -5.5M1364.9 1473.5l-24.9 -4.4M1373.4 1473.6l-23.6 -9.1M1372.5 1599.1l17.3 -18.6M1382 1600.9l20.1 -15.2M1400.1 1594.3l20.3 -15.4M1384.7 1608.5l18.2 -17.3M1392 1603.9l15.5 -19.6M1419.1 1598.6l17.7 -16.8M1370 1580l21.7 12.5M1416 1572l6.5 -24.1" stroke="#cc4778" stroke-width="2.2" fill="none"/>
<path d="M1273.9 1405.2l20.3 4.9M1282.8 1410.5l20.3 4.9M1292.8 1446.7l15.1 15.2M1329.1 1455.7l-18.9 8.6M1473.1 1490.3l-5.8 -20.8M1455.1 1499.1l-2.6 -20.9M1474 1499.2l-1.8 -20.8M1465.2 1507.1l-2 -21.1M1481 1508.1l-3 -20.8M1463.7 1515.5l-2.4 -20.7M1445.9 1524l-3 -20.6M1473.5 1523.2l-4.6 -21.4M1446.3 1532.8l-4.8 -20.9M1455.4 1532.7l-3.8 -21.4M1454.1 1540.8l-5.8 -20.7M1463 1540l-6.1 -20.9M1472.4 1540.6l-3.9 -20.4M1446.9 1548.9l-5.6 -20.7M1472.6 1548.7l-5.3 -20.9M1446 1557.8l-5.4 -20.3M1456 1558.2l-5.1 -20.7M1463.3 1557.2l-2.9 -20.9M1481.6 1559.2l-1.9 -20.7M1401.3 1600.9l16.5 -13.8M1404.1 1607.6l12.8 -16.8M1404.7 1615.1l14.2 -15.1M1391.9 1629.3l15.3 -15.2M1398.8 1624.7l17.3 -13.4" stroke="#b8318a" stroke-width="2.2" fill="none"/>
<path d="M1269.1 1413.7l17.7 7.7M1287.1 1442.5l10.8 15.6M1294.7 1440l10.5 15.4M1280 1451.4l11.4 15.3M1336.8 1460.5l-15.8 9.9M1360.2 1451.7l-15.5 9.5M1482.2 1531.5l-2.7 -19.1M1473.2 1557.1l-.8 -18.9" stroke="#a82395" stroke-width="2.2" fill="none"/>
<path d="M1274.8 1411.3l19.6 5.3M1289.4 1407.7l18.6 6.8M1280.4 1444.7l12.3 15.7M1286.4 1448.6l12.7 15.7M1335.8 1451.9l-17.1 10.1M1353.3 1445.9l-19 7.3M1362.2 1443.1l-17.9 9.7M1482.5 1498.8l-1.1 -20.4M1455.5 1516.4l-5.4 -19.5M1481 1515.7l-5.2 -19.3M1456 1524.7l-5.2 -18.9M1465.1 1523.8l-5.7 -19.3M1463.3 1533l-.8 -19.4M1481.8 1542.1l-4.5 -20.1M1454.6 1550.4l-1.7 -19.8M1463.6 1548.5l-1.4 -20.1M1481.1 1549.6l-2.8 -20.2M1411.8 1611l15.3 -13.2M1382.3 1633.7l14.7 -14.3M1407.1 1621.5l14.8 -13.9M1414 1617.6l15.4 -12.3M1385 1595l18.8 6.8" stroke="#b12a90" stroke-width="2.2" fill="none"/>
<path d="M1237.8 1420.7l11.5 10.5M1266 1437.9l10.2 10.8M1272.6 1440.3l10.4 10.5M1235.1 1426.9l10.1 10.8M1241.3 1432.1l12 9.1M1255.9 1438.3l10 10.8M1264.5 1442.6l11.7 8.8M1270.6 1447.1l12.1 9.6M1240.3 1436l12.1 8.8M1253.6 1444.1l11.4 9.2M1236.9 1443.2l12.3 8.9M1257.6 1454.8l12.4 9.5M1240.2 1452.7l12 9.3M1233.5 1497l-4.5 14.9M1242.2 1494.8l-4.4 14.2M1249.3 1491l-2 15.1M1257.7 1490.1l-3.2 14.6M1457.3 1621.9l4.8 -14.3M1461.1 1613.7l7.6 -12.8M1468.4 1597.2l6.1 -13.1M1472.9 1588.9l7.6 -12.5M1484.1 1566.1l5.2 -13.6M1489.4 1550.1l6.7 -13.3M1425 1645l13 -7.5M1432 1640l13 -7.5" stroke="#8f0da4" stroke-width="2.2" fill="none"/>
<path d="M1246.5 1424.3l10.9 11.4M1253 1430.2l13 8.8M1260.5 1432.1l12 10.7M1250.6 1434.5l13.6 9M1232 1433.8l11.2 12M1245.7 1442.1l11.6 12.2M1261.5 1448.4l13.5 10.1M1266.8 1454l12.9 9.7M1228.6 1440l12.3 9.8M1243.7 1445.9l10.9 11.3M1249.7 1450.6l13 8.7M1264.5 1459.7l13.1 10.6M1247.6 1456.9l12.6 10.5M1329.9 1463.8l-15.1 6.6M1354.1 1453.4l-14.5 7.7M1445.5 1652.5l6.4 -14.5M1450.6 1636.3l6.5 -14.5M1480.4 1573.3l6.6 -14.7M1380.5 1651.8l16.1 -1.1M1383.7 1659.7l15.5 -2.5M1385.8 1667.3l15.4 -3.7" stroke="#98149f" stroke-width="2.2" fill="none"/>
<path d="M1226.5 1444.1l14.3 9.9M1233.5 1448.7l13.3 11.3M1254.4 1461.5l14.6 10.2M1260.6 1465.9l14.2 9.9M1345.8 1458l-16.6 6.6" stroke="#a01b9a" stroke-width="2.2" fill="none"/>
<path d="M1213.4 1455.5l7.1 -25.4M1220.6 1484.2l10 -23.7M1328.9 1449.2l-22.6 12.2M1346.3 1468.4l-24.3 -8.4M1364.3 1465.9l-24.2 -9.3M1398 1587.6l16.5 -20.3" stroke="#d14e72" stroke-width="2.2" fill="none"/>
<path d="M1228.9 1471.1l-.5 9.5M1247.1 1473.3l-2 10.1M1373.2 1498.3l-7.4 -6.8M1394.8 1508.9l-7.5 -7.1M1371.6 1504.9l-7.3 -7.5M1379.1 1507.4l-7.4 -7.2M1385.9 1512.7l-6.6 -7.5M1391.1 1515.4l-6.8 -7.7M1398 1521l-7.8 -7.2M1367.4 1510.8l-5.5 -7.9M1374.9 1514.5l-6.5 -6.9M1394.9 1525.5l-5.8 -7.8M1459.6 1657.6l4.6 -8.6M1461.1 1651.4l5.5 -8.9M1465.8 1643.6l4.5 -9.2M1469.4 1635.4l4.9 -8.3M1471.8 1626.6l4.3 -8.7M1476.9 1619.3l4.7 -8.9M1480 1609.8l4.7 -8.2M1484 1602.8l3.5 -8.8M1490.9 1586.3l4.2 -9.5M1493.8 1578.4l3.7 -9.2M1495.9 1569.9l4.7 -8.1M1499.5 1563.3l3.9 -9.3M1504.2 1555l3.9 -9.7M1506.3 1547.3l3.8 -9.5" stroke="#6a00a8" stroke-width="2.2" fill="none"/>
<path d="M1235 1467l-2.3 8.4M1244.4 1463.9l-.9 9.3M1250.9 1462l-2.5 8.2M1381.1 1518.9l-5.2 -6.5M1390.1 1521.6l-6.3 -5.9M1486.7 1594.4l4.4 -8.3" stroke="#6001a5" stroke-width="2.2" fill="none"/>
<path d="M1230.5 1480.6l-2.4 11.2M1238.5 1475.8l-1 11M1254.8 1470.9l-2 11.1M1386.3 1490.7l-8.3 -8.4M1377.1 1491.5l-6.3 -9.1M1405.3 1508.8l-7.3 -8M1381.7 1502.9l-6.4 -9.4M1388.1 1506.9l-6.5 -8.7M1401.9 1513.1l-5.8 -9.2M1450.5 1453.8l-10.9 -3.6M1470.5 1466.4l-11.3 -3.5M1485.4 1576l5 -10.8" stroke="#7303a7" stroke-width="2.2" fill="none"/>
<path d="M1231.1 1489.5l-3.5 13.3M1239.5 1485.4l-1.1 13.8M1247.9 1482.7l-2.4 13.2M1255.6 1479.6l-3.3 13.2M1472.4 1460.2l-11.9 -5.7M1464.5 1463.7l-13.1 -3.2M1447.1 1467.8l-12.8 -3.8M1448.2 1644.9l7.6 -11.8M1454.5 1629l6.9 -12.1M1465 1605.8l6.6 -12.3M1475.3 1580.5l4.7 -13.5M1486.5 1556.9l5.5 -13.2M1493.4 1541.8l6.5 -12.2M1452.3 1655.9l5.1 -12.4M1467.9 1615.8l7 -11.4M1499.5 1544.2l5 -12.5M1388.1 1673.7l13.6 -4.4" stroke="#860aa5" stroke-width="2.2" fill="none"/>
<path d="M1335 1445l-31.7 14.8M1381.3 1451.7l-19.7 -29.4M1394.7 1469.3l-22.5 -26.6M1408.3 1486.8l-21.3 -27.5M1416.7 1496.4l-19.3 -28.8M1387.7 1447.4l-20.3 -28.3M1423.5 1493.2l-21.7 -27.3M1429.2 1501.6l-24.3 -25.7" stroke="#f2844b" stroke-width="2.2" fill="none"/>
<path d="M1330 1452l-29.5 13.7M1379.8 1439l-20 -26M1409.2 1474.8l-19.4 -26.1M1415.8 1482.6l-19.6 -25.5M1388.1 1436.1l-22.9 -23.2M1423.2 1479.6l-19.9 -26.1M1429.7 1489.1l-18.2 -27.1" stroke="#ea7456" stroke-width="2.2" fill="none"/>
<path d="M1374.4 1442.4l-26 -27.5M1386.8 1459.9l-25.4 -27.6M1421.8 1505.1l-20 -31" stroke="#f79540" stroke-width="2.2" fill="none"/>
<path d="M1402.5 1477.9l-23.3 -27.9M1395.7 1455.6l-21.5 -28.7" stroke="#f48c46" stroke-width="2.2" fill="none"/>
<path d="M1401.9 1465.7l-16.6 -26.2" stroke="#e56c5c" stroke-width="2.2" fill="none"/>
<path d="M1393.3 1444.7l-17.8 -22.6" stroke="#dc5d68" stroke-width="2.2" fill="none"/>
<path d="M1401.3 1454.4l-17.7 -24.3M1409.3 1462.2l-16 -26M1414.5 1472.6l-21 -21.1M1436.7 1498.8l-20 -23.1" stroke="#e16462" stroke-width="2.2" fill="none"/>
<path d="M1381.2 1487.1l-8.8 -8M1394.6 1493.2l-6.6 -10.5M1402 1498.8l-9.2 -9.3M1407.8 1501.3l-9.5 -8.8M1383.9 1495l-8.3 -9.1M1391 1499.2l-8.3 -8.5M1397.5 1504.9l-9 -8.4M1459.2 1456l-12.1 -2.7M1466.5 1456.6l-12.5 -3.8M1450 1459.3l-11.7 -4.9M1456.5 1462.2l-11.4 -3.5M1454 1470l-12 -3.2M1460.6 1470.2l-11.5 -4.3M1468.6 1472.3l-11.6 -3.5M1455.6 1647.6l3.7 -11.8M1458.4 1639.7l4 -12M1461.4 1632.6l5.2 -10.9M1466.3 1623.9l3.8 -11.4M1472.9 1607.2l4.2 -11.1M1475.7 1600.3l3.7 -11.9M1479.3 1592.4l6.2 -10.6M1483.2 1583.5l5.2 -11.6M1489.4 1568.8l4.6 -11M1493 1560.1l4.8 -11.2M1496.6 1551.3l5.4 -11.5" stroke="#7c06a6" stroke-width="2.2" fill="none"/>
<path d="M1322.4 1674.8l6.5 -1.5M1330.5 1670.2l6.3 -2.3M1339 1668l5.9 -2.6M1347.1 1662l5.5 -2.8M1354.6 1658.6l6.6 -2M1318.7 1681.9l6.1 -1.9M1326.5 1679.9l6 -1.6M1334.9 1675.1l5.3 -2.6M1343 1670.6l6.1 -2.3M1350.4 1667.7l5.7 -2.1M1313 1690.3l5.2 -2.5M1339.1 1678.7l5.5 -1.4M1345.6 1675.8l5.3 -2.3" stroke="#4b03a0" stroke-width="2.2" fill="none"/>
<path d="M1322.1 1686l5.1 -1.6M1329.7 1681.9l5.1 -1.9M1310.3 1700.2l4.8 -1.4M1317.9 1696.1l5.1 -1.3M1325.1 1690.4l4.9 -1.4M1334.9 1686.4l5.3 -1.6M1341.4 1683l4.9 -1.6M1306.1 1707.3l4.7 -1.1M1313.2 1703l4.7 -1.6M1323 1698.3l4.7 -1.7M1329.3 1694.9l4.6 -1.7M1338.7 1692.2l4.7 -1" stroke="#41049d" stroke-width="2.2" fill="none"/>
<path d="M1266.2 1401.9h0M1266.4 1407.4h0M1281.5 1403.4h0M1288.1 1401.8h0M1345.8 1450.2h0M1355.8 1473.8h0M1454.7 1489.4h0M1463.3 1490.6h0M1464 1498.7h0M1445.2 1508.1h0M1455.2 1506.8h0M1445.9 1514.5h0M1473.6 1515.7h0M1481.6 1524.4h0M1472.4 1533.7h0M1446.8 1540.5h0M1375.4 1606h0M1377.2 1612h0M1410 1596.1h0M1417.6 1592h0M1379.5 1619.4h0M1411.6 1604.4h0M1380.3 1626.8h0M1397.9 1618.3h0M1419.9 1606.1h0M1424.2 1613.2h0M1378 1587h0M1421 1560h0" stroke="#be3884" stroke-width="5.6" stroke-linecap="round" fill="none"/>
<path d="M1273 1400.6h0M1288.6 1395.9h0M1216.8 1466.4h0M1345 1441.9h0M1361.9 1437h0M1446.3 1490.8h0M1482.5 1489.3h0M1445.7 1499.6h0M1473.5 1507.3h0M1380.6 1595.3h0M1389.6 1591.6h0M1406 1581.9h0M1413.7 1578.5h0M1392 1598.1h0M1407.5 1590.1h0M1413.9 1585h0M1387.2 1615.2h0M1395.3 1612.2h0M1388.6 1621.9h0" stroke="#c5407e" stroke-width="5.6" stroke-linecap="round" fill="none"/>
<path d="M1279.9 1397.7h0M1217.7 1473.6h0M1337.8 1446.4h0M1352.5 1440.3h0M1356.3 1465.4h0M1374.5 1465h0M1347.1 1476.3h0M1364.9 1473.5h0M1373.4 1473.6h0M1372.5 1599.1h0M1382 1600.9h0M1400.1 1594.3h0M1384.7 1608.5h0M1392 1603.9h0M1419.1 1598.6h0M1370 1580h0M1416 1572h0" stroke="#cc4778" stroke-width="5.6" stroke-linecap="round" fill="none"/>
<path d="M1273.9 1405.2h0M1282.8 1410.5h0M1292.8 1446.7h0M1329.1 1455.7h0M1473.1 1490.3h0M1455.1 1499.1h0M1474 1499.2h0M1465.2 1507.1h0M1481 1508.1h0M1463.7 1515.5h0M1445.9 1524h0M1473.5 1523.2h0M1446.3 1532.8h0M1455.4 1532.7h0M1454.1 1540.8h0M1463 1540h0M1472.4 1540.6h0M1446.9 1548.9h0M1472.6 1548.7h0M1446 1557.8h0M1456 1558.2h0M1463.3 1557.2h0M1481.6 1559.2h0M1401.3 1600.9h0M1404.1 1607.6h0M1404.7 1615.1h0M1391.9 1629.3h0M1398.8 1624.7h0" stroke="#b8318a" stroke-width="5.6" stroke-linecap="round" fill="none"/>
<path d="M1269.1 1413.7h0M1287.1 1442.5h0M1294.7 1440h0M1280 1451.4h0M1336.8 1460.5h0M1360.2 1451.7h0M1482.2 1531.5h0M1473.2 1557.1h0" stroke="#a82395" stroke-width="5.6" stroke-linecap="round" fill="none"/>
<path d="M1274.8 1411.3h0M1289.4 1407.7h0M1280.4 1444.7h0M1286.4 1448.6h0M1335.8 1451.9h0M1353.3 1445.9h0M1362.2 1443.1h0M1482.5 1498.8h0M1455.5 1516.4h0M1481 1515.7h0M1456 1524.7h0M1465.1 1523.8h0M1463.3 1533h0M1481.8 1542.1h0M1454.6 1550.4h0M1463.6 1548.5h0M1481.1 1549.6h0M1411.8 1611h0M1382.3 1633.7h0M1407.1 1621.5h0M1414 1617.6h0M1385 1595h0" stroke="#b12a90" stroke-width="5.6" stroke-linecap="round" fill="none"/>
<path d="M1237.8 1420.7h0M1266 1437.9h0M1272.6 1440.3h0M1235.1 1426.9h0M1241.3 1432.1h0M1255.9 1438.3h0M1264.5 1442.6h0M1270.6 1447.1h0M1240.3 1436h0M1253.6 1444.1h0M1236.9 1443.2h0M1257.6 1454.8h0M1240.2 1452.7h0M1233.5 1497h0M1242.2 1494.8h0M1249.3 1491h0M1257.7 1490.1h0M1457.3 1621.9h0M1461.1 1613.7h0M1468.4 1597.2h0M1472.9 1588.9h0M1484.1 1566.1h0M1489.4 1550.1h0M1425 1645h0M1432 1640h0" stroke="#8f0da4" stroke-width="5.6" stroke-linecap="round" fill="none"/>
<path d="M1246.5 1424.3h0M1253 1430.2h0M1260.5 1432.1h0M1250.6 1434.5h0M1232 1433.8h0M1245.7 1442.1h0M1261.5 1448.4h0M1266.8 1454h0M1228.6 1440h0M1243.7 1445.9h0M1249.7 1450.6h0M1264.5 1459.7h0M1247.6 1456.9h0M1329.9 1463.8h0M1354.1 1453.4h0M1445.5 1652.5h0M1450.6 1636.3h0M1480.4 1573.3h0M1380.5 1651.8h0M1383.7 1659.7h0M1385.8 1667.3h0" stroke="#98149f" stroke-width="5.6" stroke-linecap="round" fill="none"/>
<path d="M1226.5 1444.1h0M1233.5 1448.7h0M1254.4 1461.5h0M1260.6 1465.9h0M1345.8 1458h0" stroke="#a01b9a" stroke-width="5.6" stroke-linecap="round" fill="none"/>
<path d="M1213.4 1455.5h0M1220.6 1484.2h0M1328.9 1449.2h0M1346.3 1468.4h0M1364.3 1465.9h0M1398 1587.6h0" stroke="#d14e72" stroke-width="5.6" stroke-linecap="round" fill="none"/>
<path d="M1228.9 1471.1h0M1247.1 1473.3h0M1373.2 1498.3h0M1394.8 1508.9h0M1371.6 1504.9h0M1379.1 1507.4h0M1385.9 1512.7h0M1391.1 1515.4h0M1398 1521h0M1367.4 1510.8h0M1374.9 1514.5h0M1394.9 1525.5h0M1459.6 1657.6h0M1461.1 1651.4h0M1465.8 1643.6h0M1469.4 1635.4h0M1471.8 1626.6h0M1476.9 1619.3h0M1480 1609.8h0M1484 1602.8h0M1490.9 1586.3h0M1493.8 1578.4h0M1495.9 1569.9h0M1499.5 1563.3h0M1504.2 1555h0M1506.3 1547.3h0" stroke="#6a00a8" stroke-width="5.6" stroke-linecap="round" fill="none"/>
<path d="M1235 1467h0M1244.4 1463.9h0M1250.9 1462h0M1381.1 1518.9h0M1390.1 1521.6h0M1486.7 1594.4h0" stroke="#6001a5" stroke-width="5.6" stroke-linecap="round" fill="none"/>
<path d="M1230.5 1480.6h0M1238.5 1475.8h0M1254.8 1470.9h0M1386.3 1490.7h0M1377.1 1491.5h0M1405.3 1508.8h0M1381.7 1502.9h0M1388.1 1506.9h0M1401.9 1513.1h0M1450.5 1453.8h0M1470.5 1466.4h0M1485.4 1576h0" stroke="#7303a7" stroke-width="5.6" stroke-linecap="round" fill="none"/>
<path d="M1231.1 1489.5h0M1239.5 1485.4h0M1247.9 1482.7h0M1255.6 1479.6h0M1472.4 1460.2h0M1464.5 1463.7h0M1447.1 1467.8h0M1448.2 1644.9h0M1454.5 1629h0M1465 1605.8h0M1475.3 1580.5h0M1486.5 1556.9h0M1493.4 1541.8h0M1452.3 1655.9h0M1467.9 1615.8h0M1499.5 1544.2h0M1388.1 1673.7h0" stroke="#860aa5" stroke-width="5.6" stroke-linecap="round" fill="none"/>
<path d="M1335 1445h0M1381.3 1451.7h0M1394.7 1469.3h0M1408.3 1486.8h0M1416.7 1496.4h0M1387.7 1447.4h0M1423.5 1493.2h0M1429.2 1501.6h0" stroke="#f2844b" stroke-width="5.6" stroke-linecap="round" fill="none"/>
<path d="M1330 1452h0M1379.8 1439h0M1409.2 1474.8h0M1415.8 1482.6h0M1388.1 1436.1h0M1423.2 1479.6h0M1429.7 1489.1h0" stroke="#ea7456" stroke-width="5.6" stroke-linecap="round" fill="none"/>
<path d="M1374.4 1442.4h0M1386.8 1459.9h0M1421.8 1505.1h0" stroke="#f79540" stroke-width="5.6" stroke-linecap="round" fill="none"/>
<path d="M1402.5 1477.9h0M1395.7 1455.6h0" stroke="#f48c46" stroke-width="5.6" stroke-linecap="round" fill="none"/>
<path d="M1401.9 1465.7h0" stroke="#e56c5c" stroke-width="5.6" stroke-linecap="round" fill="none"/>
<path d="M1393.3 1444.7h0" stroke="#dc5d68" stroke-width="5.6" stroke-linecap="round" fill="none"/>
<path d="M1401.3 1454.4h0M1409.3 1462.2h0M1414.5 1472.6h0M1436.7 1498.8h0" stroke="#e16462" stroke-width="5.6" stroke-linecap="round" fill="none"/>
<path d="M1381.2 1487.1h0M1394.6 1493.2h0M1402 1498.8h0M1407.8 1501.3h0M1383.9 1495h0M1391 1499.2h0M1397.5 1504.9h0M1459.2 1456h0M1466.5 1456.6h0M1450 1459.3h0M1456.5 1462.2h0M1454 1470h0M1460.6 1470.2h0M1468.6 1472.3h0M1455.6 1647.6h0M1458.4 1639.7h0M1461.4 1632.6h0M1466.3 1623.9h0M1472.9 1607.2h0M1475.7 1600.3h0M1479.3 1592.4h0M1483.2 1583.5h0M1489.4 1568.8h0M1493 1560.1h0M1496.6 1551.3h0" stroke="#7c06a6" stroke-width="5.6" stroke-linecap="round" fill="none"/>
<path d="M1322.4 1674.8h0M1330.5 1670.2h0M1339 1668h0M1347.1 1662h0M1354.6 1658.6h0M1318.7 1681.9h0M1326.5 1679.9h0M1334.9 1675.1h0M1343 1670.6h0M1350.4 1667.7h0M1313 1690.3h0M1339.1 1678.7h0M1345.6 1675.8h0" stroke="#4b03a0" stroke-width="5.6" stroke-linecap="round" fill="none"/>
<path d="M1322.1 1686h0M1329.7 1681.9h0M1310.3 1700.2h0M1317.9 1696.1h0M1325.1 1690.4h0M1334.9 1686.4h0M1341.4 1683h0M1306.1 1707.3h0M1313.2 1703h0M1323 1698.3h0M1329.3 1694.9h0M1338.7 1692.2h0" stroke="#41049d" stroke-width="5.6" stroke-linecap="round" fill="none"/>
</g>
<circle cx="1309.9" cy="1513.6" r="206.7" fill="none" stroke="#000" stroke-width="2.8"/>
<text x="1320.0" y="1271.3" text-anchor="middle" font-size="29">2016-03-11 12:48 - 12:50</text>
<text x="1309.2" y="1296.3" text-anchor="middle" font-size="29">12</text>
<text x="1308.2" y="1746.2" text-anchor="middle" font-size="29">00</text>
<text x="1099.2" y="1523.6" text-anchor="end" font-size="29">18</text>
<text x="1518.3" y="1523.6" font-size="29">06</text>
<text x="1080.2" y="1328.0" font-size="29" letter-spacing="3">(h)</text>
<text x="1332.7" y="1583.0" font-size="19">80</text>
<text x="1361.7" y="1640.3" font-size="19">70</text>
<text x="1409.3" y="1706.0" font-size="19">60</text>
<rect x="1228.3" y="1498.3" width="12" height="5.6" fill="#000"/>
<path d="M1378.5 1562.5h12M1384.5 1556.5v12" stroke="#000" stroke-width="5"/>
<circle cx="302.5" cy="2036.3" r="68.9" fill="none" stroke="#b0b0b0" stroke-width="3"/>
<circle cx="302.5" cy="2036.3" r="137.8" fill="none" stroke="#b0b0b0" stroke-width="3"/>
<path d="M95.8 2036.3L509.2 2036.3M156.3 1890.1L448.7 2182.5M302.5 1829.6L302.5 2243.0M448.7 1890.1L156.3 2182.5" stroke="#b0b0b0" stroke-width="3"/>
<clipPath id="cpi"><circle cx="302.5" cy="2036.3" r="205.7"/></clipPath><g clip-path="url(#cpi)">
<path d="M221.6 2065.3 226.3 2062.3 229.6 2057.8 231.5 2051.8 231.6 2045.8 230.2 2039.8 227.7 2035.3 223.5 2031.9 219.0 2031.0 214.5 2032.8 211.8 2035.3 209.8 2038.3 206.9 2045.8 206.3 2053.3 207.8 2059.3 209.6 2062.3 211.5 2064.2 216.0 2066.0 221.6 2065.3ZM220.1 2084.8 225.0 2083.6 231.0 2080.8 235.5 2077.3 240.0 2072.3 243.4 2066.8 245.8 2060.8 247.2 2054.8 247.9 2047.3 247.5 2039.8 246.1 2032.3 244.0 2026.3 240.8 2020.3 237.0 2015.7 232.5 2012.0 228.0 2009.8 222.0 2008.6 216.0 2009.6 211.5 2011.8 207.0 2015.4 202.5 2020.7 198.3 2027.8 195.4 2035.3 193.1 2044.3 192.4 2051.8 192.7 2059.3 194.0 2065.3 196.5 2071.7 200.2 2077.3 204.0 2080.9 208.5 2083.5 214.5 2085.0 220.1 2084.8ZM225.4 2102.8 234.0 2099.6 241.5 2095.0 247.8 2089.3 253.7 2081.8 258.5 2072.8 261.7 2063.8 263.5 2053.3 264.0 2042.8 263.0 2030.8 260.6 2020.3 257.1 2011.3 252.0 2002.7 246.0 1995.9 238.5 1990.4 231.0 1987.3 223.5 1986.3 219.0 1986.7 214.5 1987.9 207.0 1991.8 199.5 1998.3 192.0 2008.0 186.3 2018.8 182.1 2030.8 179.2 2044.3 178.5 2056.3 179.8 2068.3 182.8 2078.8 187.4 2087.8 193.5 2095.1 201.0 2100.6 208.5 2103.3 217.5 2104.0 225.4 2102.8ZM223.3 2122.3 234.0 2119.5 243.0 2115.2 252.0 2109.0 259.5 2101.7 266.6 2092.3 272.3 2081.8 276.7 2069.8 277.7 2065.3 278.1 2060.8 276.9 2042.8 274.7 2023.3 271.5 2002.9 269.3 1994.8 265.5 1988.3 261.0 1982.3 255.7 1976.8 250.5 1972.5 244.5 1968.9 238.5 1966.3 232.5 1964.6 226.5 1963.9 220.5 1964.3 214.5 1965.7 208.5 1968.2 204.0 1970.8 198.0 1975.3 193.5 1979.6 184.5 1990.8 177.0 2004.0 170.6 2020.3 166.3 2038.3 164.6 2054.8 165.5 2069.8 169.0 2084.8 174.2 2096.8 181.5 2107.4 186.0 2112.0 190.5 2115.5 199.5 2120.3 204.0 2121.7 210.0 2122.7 216.0 2122.9 223.3 2122.3ZM217.7 2141.8 229.5 2140.1 240.0 2136.8 250.5 2131.6 259.5 2125.4 268.5 2117.1 276.5 2107.3 284.6 2093.8 285.8 2090.8 286.1 2087.8 285.8 2062.3 283.2 2030.8 279.0 1998.8 273.0 1966.1 270.0 1962.3 264.0 1956.4 253.5 1948.9 247.5 1946.0 241.5 1943.8 235.5 1942.3 229.5 1941.6 223.5 1941.7 216.0 1943.1 208.5 1945.8 202.5 1948.9 196.5 1953.0 189.7 1958.8 183.9 1964.8 178.0 1972.3 172.5 1980.6 168.0 1988.8 163.5 1998.4 159.7 2008.3 153.9 2029.3 151.9 2041.3 151.0 2050.3 151.1 2068.3 152.2 2077.3 154.1 2086.3 156.7 2095.3 159.7 2102.8 163.5 2110.3 168.0 2117.3 173.3 2123.8 178.5 2128.8 184.5 2133.3 190.5 2136.8 196.5 2139.2 202.5 2140.8 210.0 2141.7 217.7 2141.8ZM226.4 2159.8 240.0 2156.4 252.0 2151.3 264.0 2144.0 274.0 2135.8 285.0 2123.9 293.4 2111.8 294.2 2096.8 293.6 2065.3 290.4 2026.3 285.0 1983.6 278.1 1942.3 277.5 1940.8 270.0 1934.3 264.0 1930.0 256.5 1925.8 250.5 1923.3 243.0 1920.9 235.5 1919.5 229.5 1919.2 222.0 1919.7 213.0 1921.8 204.0 1925.5 196.5 1929.8 189.0 1935.4 181.5 1942.3 174.0 1950.7 166.9 1960.3 160.5 1970.8 155.1 1981.3 150.0 1993.3 145.5 2006.4 141.8 2020.3 139.1 2033.8 137.5 2045.8 136.9 2057.8 137.2 2069.8 138.3 2080.3 140.5 2092.3 143.5 2102.8 147.0 2112.1 151.5 2121.3 156.7 2129.8 162.6 2137.3 168.4 2143.3 175.5 2149.1 183.0 2153.7 190.5 2157.0 198.0 2159.2 207.0 2160.6 216.0 2160.8 226.4 2159.8ZM222.2 2179.3 234.0 2177.4 246.0 2173.8 258.0 2168.5 268.5 2162.3 279.0 2154.5 289.2 2144.8 300.4 2131.3 301.5 2129.7 302.2 2126.8 302.4 2089.3 300.4 2053.3 294.4 1991.8 285.7 1921.3 285.0 1919.6 276.0 1912.3 262.5 1904.3 249.0 1899.3 241.5 1897.7 234.0 1896.9 225.0 1897.2 214.5 1899.2 204.0 1903.1 195.0 1907.9 186.0 1914.2 177.0 1922.1 168.1 1931.8 160.5 1941.6 153.0 1953.2 145.9 1966.3 139.9 1979.8 134.9 1993.3 130.5 2008.3 126.7 2024.8 124.3 2039.8 123.1 2054.8 123.1 2068.3 124.2 2081.8 126.0 2093.8 129.0 2106.1 132.9 2117.8 138.0 2129.5 144.0 2140.0 150.0 2148.5 157.4 2156.8 165.0 2163.6 174.0 2169.8 183.0 2174.3 192.0 2177.3 201.0 2179.0 211.5 2179.8 222.2 2179.3ZM172.5 2189.9 180.0 2193.2 189.0 2196.1 198.0 2197.8 207.0 2198.6 216.0 2198.7 226.5 2197.7 237.0 2195.8 246.0 2193.3 255.0 2189.9 264.0 2185.7 273.0 2180.6 282.0 2174.4 290.7 2167.3 298.5 2159.8 306.0 2151.5 310.9 2144.8 311.2 2111.8 309.8 2075.8 300.5 1967.8 295.5 1901.7 289.5 1896.1 281.0 1889.8 273.0 1885.1 264.0 1880.9 255.0 1877.7 246.0 1875.6 237.0 1874.5 228.0 1874.7 219.0 1876.0 210.0 1878.4 201.0 1882.1 193.5 1886.1 184.5 1892.0 177.0 1898.0 169.5 1905.0 162.0 1913.1 154.5 1922.5 147.1 1933.3 140.8 1943.8 134.6 1955.8 129.0 1968.4 124.1 1981.3 119.7 1994.8 116.2 2008.3 113.3 2021.8 110.9 2036.8 109.6 2048.8 109.1 2060.8 109.4 2074.3 110.4 2086.3 112.3 2098.3 114.9 2110.3" fill="none" stroke="#6e6e6e" stroke-width="3.2" stroke-dasharray="10.5 5"/>
<path d="M388.5 2042.2 387.0 2042.5 384.0 2042.1 379.5 2038.8 376.3 2033.8 374.3 2027.8 373.7 2021.8 374.8 2015.8 377.5 2011.3 381.0 2009.2 384.0 2009.4 387.0 2012.1 389.1 2015.8 391.1 2021.8 392.1 2029.3 391.8 2035.3 390.5 2039.8 388.5 2042.2ZM393.0 2062.7 388.5 2063.5 384.0 2062.6 379.5 2060.4 375.0 2056.7 370.9 2051.8 367.4 2045.8 364.2 2038.3 362.2 2030.8 361.2 2023.3 361.1 2017.3 362.1 2009.8 364.0 2003.8 366.3 1999.3 369.9 1994.8 373.5 1992.2 378.0 1990.5 381.0 1990.4 384.0 1991.6 387.0 1993.8 390.0 1997.2 393.0 2002.0 395.9 2008.3 399.3 2020.3 401.0 2033.8 400.5 2047.3 399.2 2053.3 397.5 2057.7 395.4 2060.8 393.0 2062.7ZM396.0 2083.8 388.5 2084.2 381.0 2082.0 373.5 2077.3 367.5 2071.4 361.9 2063.8 357.0 2054.8 352.9 2044.3 349.8 2032.3 348.5 2021.8 348.6 2011.3 350.2 2000.8 353.1 1991.8 357.2 1984.3 362.4 1978.3 368.9 1973.8 375.0 1971.8 379.5 1971.9 384.0 1973.7 389.6 1978.3 394.4 1984.3 398.7 1991.8 402.0 1999.3 405.0 2008.3 407.5 2018.8 409.3 2030.8 410.1 2041.3 409.9 2051.8 408.7 2062.3 406.5 2070.9 403.5 2077.3 400.5 2081.1 396.0 2083.8ZM400.5 2104.4 393.0 2105.3 385.5 2104.2 376.5 2100.4 369.0 2095.1 361.5 2087.7 354.0 2077.6 346.6 2063.8 345.0 2057.8 342.2 2035.3 340.8 2015.8 340.7 1996.3 342.0 1980.5 348.0 1969.6 354.8 1961.8 363.0 1956.1 367.5 1954.3 372.0 1953.2 378.0 1953.4 381.0 1954.4 385.5 1956.9 391.5 1962.1 397.5 1969.6 403.5 1979.8 408.1 1990.3 412.6 2003.8 415.7 2017.3 418.0 2032.3 419.0 2047.3 418.9 2060.8 417.4 2074.3 415.0 2084.8 411.0 2094.4 406.5 2100.5 403.5 2102.9 400.5 2104.4ZM403.5 2125.4 396.0 2126.2 387.0 2125.1 378.0 2121.9 370.5 2117.6 361.5 2110.3 354.4 2102.8 346.7 2092.3 341.7 2083.3 336.6 2045.8 334.0 2017.3 333.6 1990.3 335.3 1961.8 336.0 1959.1 339.2 1954.3 343.5 1949.0 348.0 1944.6 357.0 1938.5 361.5 1936.5 367.5 1934.8 370.5 1934.3 375.0 1934.6 379.5 1935.9 384.0 1938.1 388.5 1941.3 393.0 1945.5 400.5 1954.7 408.0 1967.3 414.2 1981.3 419.7 1997.8 423.9 2015.8 426.8 2035.3 428.0 2054.8 427.6 2072.8 425.6 2089.3 422.1 2102.8 417.0 2113.9 414.0 2118.2 411.0 2121.3 408.0 2123.5 403.5 2125.4ZM406.5 2146.3 397.5 2147.1 388.5 2146.0 378.0 2142.5 369.0 2137.6 360.0 2130.9 351.0 2122.1 342.0 2110.8 337.5 2104.0 336.4 2101.3 329.8 2045.8 327.0 2012.8 326.4 1978.3 328.0 1943.8 328.5 1941.7 333.0 1935.7 338.1 1930.3 343.5 1925.7 354.0 1919.4 364.5 1916.1 369.0 1915.7 373.5 1916.1 378.0 1917.3 384.0 1920.3 389.6 1924.3 394.5 1928.9 403.5 1939.9 412.5 1954.8 420.4 1972.3 427.3 1993.3 432.1 2014.3 435.6 2038.3 437.0 2062.3 436.4 2084.8 433.7 2104.3 429.2 2120.8 426.0 2128.2 423.0 2133.4 420.0 2137.5 415.5 2142.0 411.0 2144.8 406.5 2146.3ZM408.0 2167.5 399.0 2168.0 388.5 2166.6 378.0 2163.1 367.5 2157.6 357.0 2150.0 346.8 2140.3 337.5 2129.2 329.9 2117.8 321.7 2032.3 319.8 2005.3 318.7 1966.3 319.6 1927.3 321.0 1924.5 327.0 1917.3 337.5 1908.0 343.5 1904.1 349.5 1901.1 361.5 1897.5 367.5 1897.0 373.5 1897.9 379.5 1900.1 385.5 1903.4 391.5 1908.0 397.5 1913.8 408.0 1927.1 418.5 1945.2 427.6 1966.3 435.3 1990.3 440.9 2015.8 444.7 2044.3 446.1 2071.3 445.1 2096.8 443.7 2108.8 441.5 2120.8 439.2 2129.8 436.2 2138.8 432.1 2147.8 428.4 2153.8 423.3 2159.8 418.5 2163.7 414.0 2166.0 408.0 2167.5ZM411.0 2188.4 400.5 2188.8 388.5 2187.1 376.5 2183.1 364.5 2176.7 352.5 2167.9 342.0 2158.0 331.5 2145.6 322.5 2132.7 319.9 2086.3 314.2 2023.3 312.0 1991.8 310.4 1952.8 309.9 1913.8 310.5 1911.6 318.0 1902.3 324.5 1895.8 331.5 1890.3 337.5 1886.5 345.0 1882.8 351.0 1880.6 358.5 1878.8 364.5 1878.3 372.0 1879.4 378.0 1881.5 385.5 1885.6 392.9 1891.3 399.0 1897.2 406.5 1906.0 412.5 1914.5 418.5 1924.3 424.5 1935.7 434.9 1960.3 443.2 1987.3 449.3 2015.8 453.5 2047.3 455.1 2078.8 454.8 2093.8 453.8 2108.8 452.2 2122.3 450.0 2134.3 446.9 2146.3 443.2 2156.8 439.0 2165.8 434.3 2173.3 429.0 2179.5 423.0 2184.2 417.0 2187.1 411.0 2188.4ZM405.0 2209.8 393.0 2208.6 381.0 2205.4 369.0 2200.1 357.0 2192.8 345.0 2183.1 333.0 2171.0 321.6 2156.8 314.5 2146.3 314.0 2144.8 313.7 2111.8 312.4 2081.8 303.7 1976.8 299.0 1901.8 299.9 1898.8 307.5 1888.9 313.7 1882.3 321.0 1875.9 328.5 1870.7 337.5 1865.8 345.0 1862.8 354.0 1860.4 360.0 1859.7 366.0 1860.0 372.0 1861.3 379.5 1864.4 387.0 1868.8 394.5 1874.8 402.0 1882.2 408.4 1889.8 415.5 1899.6 421.6 1909.3 428.1 1921.3 434.4 1934.8 439.9 1948.3 445.1 1963.3 453.3 1993.3 459.2 2024.8 461.5 2042.8 463.1 2060.8 464.0 2093.8 463.5 2108.8 462.2 2123.8 460.4 2137.3 457.7 2150.8 454.5 2162.8 450.8 2173.3" fill="none" stroke="#6e6e6e" stroke-width="2.8"/>
<ellipse cx="437.0" cy="1972.0" rx="46.0" ry="62.0" transform="rotate(-15.0 437.0 1972.0)" fill="none" stroke="#6e6e6e" stroke-width="2.9" stroke-dasharray="10.5 5"/>
<ellipse cx="440.0" cy="1982.0" rx="28.0" ry="44.0" transform="rotate(-15.0 440.0 1982.0)" fill="none" stroke="#6e6e6e" stroke-width="2.9" stroke-dasharray="10.5 5"/>
<path d="M259.2 1929.6l19.5 4.6M281.5 1919.7l19.5 6M261 1933.7l19 6.1M193 1989.8l2.3 -19.9M199.1 1990.4l3.9 -19.2M205.7 1993.5l2.1 -19.7M220.9 1997.1l3.4 -19.9M368.9 1957.9l-19.9 -3.5M376.4 1956.5l-19.4 -6.9M334.6 1965.4l-19.8 -5M350.9 1966.2l-18 -7.3M359 1964l-18.3 -6.9M366.8 1964.2l-19.3 -5" stroke="#b12a90" stroke-width="2.2" fill="none"/>
<path d="M265.5 1926.6l20 7.3M269.7 1937.8l20.1 5.1M277.8 1933.5l20.6 7.2M284.2 1932.1l18.7 8.9M210.6 1986.1l1.8 -21.7M213.6 1994.3l6 -20.5M345.9 1957.9l-20.7 -5.2M352.1 1957.7l-19.7 -6.2M348.4 2014.1l-20.2 -5.9M366.4 2011.5l-20.3 -6.4M372.4 2011.4l-19.4 -9" stroke="#b8318a" stroke-width="2.2" fill="none"/>
<path d="M272.5 1923.4l19.6 10.4M267.4 1932.5l20.4 9.7M275.1 1928.4l21 7.9M282 1925.5l21.2 8M263.1 1939.3l21.6 7.2M232.4 1974.4l21.1 9.4M257.6 1983.4l21.4 7.6M337.7 1955.8l-21.4 -7.3M359.9 1956.2l-21.8 -5.2M339.3 2006.3l-21.4 -7.4M379.8 2000.3l-21.9 -7.4M340.9 2015.2l-20.3 -9M358.1 2013.5l-21.8 -6.3M381.8 2008.8l-20.2 -9" stroke="#be3884" stroke-width="2.2" fill="none"/>
<path d="M225 1918l16.4 6M331.8 1972l-17.6 -4.1M349.6 1972.3l-15.6 -6.5M356.2 1971.8l-17 -4.5M461.7 1981.9l3.6 16.9M460.4 1990.2l4 16.7M299 2198l-16.1 -7.7M326.5 2188.2l-15.7 -7.3M333.9 2186.9l-16.6 -4.6M354.1 2180.9l-15.9 -6.6M367.5 2161.3l-17.6 -4.2" stroke="#a01b9a" stroke-width="2.2" fill="none"/>
<path d="M231.6 1950.6l27 11.7M254.6 1959.1l27.1 11.6M335 1975l-26 15M371.6 1986.4l-27.4 -11.2M419.8 2089.5l12.5 -27.2M392.3 2105l14 -26.7M401.5 2104l14.3 -25.9M423.7 2096.6l11.3 -27.8M421.9 2107.5l16.1 -25.2M384.2 2133.9l13.6 -26.4M391.9 2133.9l11.4 -27.5M407.6 2127.9l18 -23.9M422.9 2125.4l18.3 -23.6" stroke="#e16462" stroke-width="2.2" fill="none"/>
<path d="M239.2 1953.6l25.3 11.8M228.4 1958l25.4 10M259.8 1976.2l24.6 12.4M193.6 1975.9l1.4 -27.9M206.5 1978.1l7.7 -25.9M215.1 1981.7l3.7 -26.9M355.3 1997.4l-24.7 -11.8M364.1 1994.7l-25.8 -8.8M371.2 1994.7l-26.2 -7.2M395.5 2121.8l14 -23.5M401.5 2120.9l15.2 -23.2M410.1 2119l14.1 -23.7M399.3 2131.7l14.3 -23.5M415.9 2127.4l15.5 -23.2M388.7 2144l14.5 -23.3" stroke="#d6566d" stroke-width="2.2" fill="none"/>
<path d="M247.4 1956.5l28.7 11.3M270.9 1965.5l27.7 14.5M330 1970l-25.4 17.8M403.2 2092.9l12.7 -28.3M409.4 2100.9l17.3 -25.7M388.3 2115l13.7 -28.5M428.6 2104.7l14.5 -28.4M387.4 2126.1l14.3 -27.7M417.7 2115.8l14.4 -28.1M425.7 2115.6l16.6 -26.2" stroke="#e56c5c" stroke-width="2.2" fill="none"/>
<path d="M262.2 1962.4l28 8M253.1 1965.7l26.2 12.9M262 1968.7l25.7 11.9M269.5 1971.8l27.2 8.4M432.9 2094l11.8 -26.7M405 2111.7l15.7 -24.2M396.3 2140.2l12.9 -26.2" stroke="#dc5d68" stroke-width="2.2" fill="none"/>
<path d="M235.9 1960.9l25.1 8M244.5 1962.4l25 8.4M243.5 1970.7l25.1 7.3M266.2 1979.8l23.1 12.5M186.1 1972l5.2 -25.3M338.7 1990.9l-25.3 -7.8M345.3 1989.7l-23.7 -10.3M353.9 1989.1l-23.8 -10.3M363.7 1988l-24.5 -10.6M379.3 1984.7l-25.4 -6.4M338.6 1999.4l-24.1 -9.1M347.2 1997.5l-25.3 -8.7M348.2 2006.1l-23.2 -11.4M381.2 2144.2l11.9 -23.3M405.5 2139.4l14.1 -21.8M411.4 2135.9l9.8 -23.9M392.6 2151.7l11.9 -23.8M374.6 2164.8l12.1 -23M383.4 2162.8l11.8 -23.3M405.5 2157.9l13.6 -22.4M415.1 2155.7l12.3 -23.4" stroke="#d14e72" stroke-width="2.2" fill="none"/>
<path d="M227.4 1963.6l21.7 10M235.7 1968l21 11.9M224.6 1970.2l21.9 8.4M249.3 1981l21.3 10.5M264.7 1986.5l20.9 10.2M188.7 1980.6l3.7 -24M202.9 1984.8l4.4 -22.9M216.8 1989.8l4.8 -23.5M379.1 1993.2l-21.9 -10.2M357.2 2003.5l-22.8 -7.3M372.9 2001.9l-22.9 -7.2M416.6 2144.8l11.8 -21M391.1 2161l12.8 -20.7M399 2159.2l14.1 -19.6M319 2054l-8.2 22.6" stroke="#c5407e" stroke-width="2.2" fill="none"/>
<path d="M250.3 1972.3l24 6.2M240.2 1977l22.3 10.6M199.2 1978.1l7.6 -23.7M195.6 1983.1l4.7 -24.1M363.4 2004.2l-24.2 -7.2M421.7 2135.2l10.9 -22.9M376.3 2153.8l10.4 -23.2M384.7 2152.3l13 -20.8M401 2149.5l9.5 -23.3M410.4 2146.5l13.2 -21M311 2043l-6.5 24.1" stroke="#cc4778" stroke-width="2.2" fill="none"/>
<path d="M225.9 1998.6l-.1 11.7M345.5 2196l-11.5 -2.4M340.6 2202.9l-10 -3.6" stroke="#7303a7" stroke-width="2.2" fill="none"/>
<path d="M235 1994.6l-1.5 13.3M235.2 2002.7l.4 13.2M228.7 2012.3l-.9 13.4M235.4 2010l.2 13.7M244.8 2015.3l.6 13.8M366.3 2095.8l8.1 11.4M381.1 2092.2l6.4 12.3M376 2122l6.5 12.3M371 2131.8l7.6 11.7M321.4 2196.3l-13.1 -5.7M308.9 2208.1l-12.1 -5.4M327.8 2201.9l-12.6 -4.1" stroke="#860aa5" stroke-width="2.2" fill="none"/>
<path d="M241.6 1990.9l-.3 12.8M248.4 1987.8l-.2 12.5M226.9 2006.2l-1.6 12.5M242.7 1999.4l-1.9 12.6M250.2 1996.9l-1.3 12.2M291.7 2213.8l-11.9 -4.4M298.8 2209.9l-11 -5.5M317 2205.3l-12.3 -2.6M336.5 2200l-11.3 -4.3M370.3 2179.6l-12.4 -2.6" stroke="#7c06a6" stroke-width="2.2" fill="none"/>
<path d="M243 2006.6l-1.6 15.1M250.5 2005.6l.3 14.5M229.4 2022.5l-1.3 15.5M251.7 2013l-.8 15.4M372.4 2093.6l8.3 12.9M367.5 2105.1l6.3 13.2M374.3 2103l6.4 13.4M381.8 2101.9l7.4 13.1M369.7 2123.3l7.5 12.3M376.4 2129.6l7.7 12.4M446.5 1974.4l1.4 15.4M451.8 1985l3.2 15.2M296.1 2205.3l-14.5 -4.4M303.7 2203.2l-14 -3.4M331.8 2194.1l-15 -3.8M341.2 2190.5l-14.1 -5.4M350.1 2189.2l-14.3 -3.3M368.6 2170l-14.8 -1.5" stroke="#8f0da4" stroke-width="2.2" fill="none"/>
<path d="M237.7 2017.6l.4 15.7M340.7 1971.8l-16.3 -3.1M365.7 1973.4l-15.6 -4.4M374 1972.4l-16.3 -3.1M368.5 2114l6.1 14.8M375 2112.5l9.5 12.9M382.3 2108.9l9.7 12.5M382.3 2118l6.5 14.4M384.5 2128.9l8.3 13.4M453 1979.2l3 16M445.1 1983.9l3.2 15.9M445.2 1991.3l1.6 16.4M452.8 1993.2l2 16.4M458.3 1996.3l.8 16.8M311.8 2199.8l-15.2 -4.3" stroke="#98149f" stroke-width="2.2" fill="none"/>
<path d="M343.5 1965.8l-18.4 -4.5M374.4 1964.4l-18.6 -5M307.3 2196.1l-16.5 -7.9M317.5 2192.4l-18 -5.6M343 2183.1l-17.2 -6.5" stroke="#a82395" stroke-width="2.2" fill="none"/>
<path d="M374.5 1966.6l-31.9 -35.9M377.9 1977.5l-26.7 -39.7M415.1 1965.2l-30.3 -36.7M380.8 1988.1l-26.6 -39.4M386.4 2000.5l-30 -36.7M405 1993.2l-27.7 -38.2" stroke="#f6e323" stroke-width="2.2" fill="none"/>
<path d="M383.4 1962.4l-30.9 -33.8M396.7 1972.6l-25.6 -37.9" stroke="#f9d924" stroke-width="2.2" fill="none"/>
<path d="M392.5 1961.6l-29.4 -40.7M401.5 1957l-29.4 -40.6" stroke="#f0f921" stroke-width="2.2" fill="none"/>
<path d="M410 1954.5l-23.4 -38.2M404.7 1968.4l-26.9 -35.7M413.2 1989.4l-28.9 -33.7M402.6 2017.5l-29.4 -33.7" stroke="#fcce25" stroke-width="2.2" fill="none"/>
<path d="M386.5 1974.4l-25.3 -35.3M399.8 1982.5l-20.2 -39.3M419 1976.5l-22.7 -37.3M394.5 1997l-20.6 -38.8M426.3 1997.4l-21.7 -38.1M394.5 2021.3l-25.9 -35.6M399.1 2032.6l-28.6 -33.4M424.1 2024l-26.9 -34.6M434.3 2021l-28.5 -32.9" stroke="#fcc429" stroke-width="2.2" fill="none"/>
<path d="M390.5 1984.4l-19.3 -37M399.8 2008.5l-23.1 -34.3M415.8 2002.5l-21.1 -35.5M420.8 2013.2l-26.2 -32.1M401.5 2042.8l-24.6 -33.5M419.1 2037.3l-21.4 -34.8M428.3 2034.9l-20.3 -35.7M437.2 2030.4l-18.8 -36.5" stroke="#fcb032" stroke-width="2.2" fill="none"/>
<path d="M408.4 1979l-25.7 -34.1M421.6 1986.4l-21.4 -37.2M391 2010.2l-27.4 -32.5M415.9 2026.8l-23.8 -35.7" stroke="#fcba2e" stroke-width="2.2" fill="none"/>
<path d="M408.1 2003.9l-24 -31.6M411.5 2014.5l-22 -32.7M405.5 2055.1l-21.9 -32.8M410.6 2065.5l-19.4 -34.4" stroke="#fca636" stroke-width="2.2" fill="none"/>
<path d="M431 2010.4l-18.9 -33.9M419.8 2063.4l-23.6 -31.5M428 2059.9l-24.3 -29.5" stroke="#fa9e3b" stroke-width="2.2" fill="none"/>
<path d="M406.1 2030.7l-25.7 -28.1M410.6 2040.4l-20.9 -31.8M414.7 2051.9l-22.7 -30.3M423.6 2049.1l-18.2 -32.6M432 2044.9l-19.4 -32.4M436 2057.4l-24.4 -29M446.8 2054.3l-18.1 -32.3" stroke="#f79540" stroke-width="2.2" fill="none"/>
<path d="M440.8 2043.3l-21.2 -29.1" stroke="#f48c46" stroke-width="2.2" fill="none"/>
<path d="M465.5 2031.7l-2.4 -10.3M474.3 2031.4l-1.6 -9.9M483.2 2032.7l-2.7 -9.7M489.5 2034.3l-2.6 -9.4M465.2 2039.1l-.7 -10.1M472.6 2040.3l-1 -9.7M481.3 2041.1l-1.5 -9.7M471 2049.4l-1.1 -9.6M467.9 2067.7l-2.1 -9.3M288.1 2222.3l-10.2 -2.3M296.6 2217.9l-8.4 -4.4M305 2216.5l-9.2 -3.3M313.9 2213.3l-9.4 -4.9M324.2 2210.7l-9.2 -3.3M333 2208l-10 -3" stroke="#6a00a8" stroke-width="2.2" fill="none"/>
<path d="M490 2042.1l-.8 -9.2M463 2047.9l-.5 -8.8M478.6 2050.2l-1 -8.8M486.6 2052.3l-2.7 -8.4M461.3 2058.3l-1.9 -8.8M470.1 2059.4l-2.6 -8.3M477.8 2059.8l-2.5 -8.7M486.2 2059.5l-1.9 -8.3M461.5 2065.3l-2.4 -8.7M476.7 2068.1l-2.3 -8.5M485.2 2070l-1 -8.8M460 2075.3l-1.5 -9.1M467.7 2076.4l-.8 -8.9M474.5 2077.3l-.9 -8.4M482.6 2078.6l-2.4 -7.9M465 2085.5l-2 -8.6M474.6 2086l-2.4 -8.5M463.5 2094.2l-1.6 -8M471.8 2095.1l-2 -7.9M481 2095.7l-.8 -8.1M373.3 2188.1l-8.9 -2.4" stroke="#6001a5" stroke-width="2.2" fill="none"/>
<path d="M458.7 2083.9l-.7 -7.6M482.2 2087.5l-2.2 -7.3M456.5 2093.9l-1.4 -7.7M453.9 2101.6l-.6 -7.3M461.6 2102.5l-.7 -7.5M469.3 2104l-1.3 -7.6M477.7 2106.3l-.9 -7.4M452.6 2110.9l-2.3 -7.2M460.5 2112.9l-.6 -7.2M468.5 2113.2l-1.2 -6.8M476.7 2114.1l-2.2 -7.5M452 2120.5l-2.1 -7.1M468.1 2122.7l-1.6 -7.3M475.1 2122.6l-2.2 -6.9M449.5 2128.7l-2.1 -6.8M457.5 2131.4l-.5 -7.2M465.3 2132.6l-1 -7.2M475 2132.1l-1.5 -7.1M390.7 2031.5l-5.9 4M399.5 2032.4l-6.4 4M388.5 2037.3l-7 4M395.5 2038.4l-6.2 3M387.7 2044.9l-7.1 3.4M395.4 2046.2l-6.2 4.6M385.6 2052l-6.1 4.3M392.3 2052.3l-6.6 2.8M283.1 2230.8l-7.1 -3.4M291.5 2228l-7.3 -1.7M300 2223.7l-7.1 -3.5M311.2 2221.1l-6.7 -2.5M319 2219l-7.6 -2.4M327.5 2215.7l-7.8 -2.1M336.1 2211l-7.3 -2.8" stroke="#5602a2" stroke-width="2.2" fill="none"/>
<path d="M459.2 2122.4l-.9 -6.8M448 2137.5l-2 -6.3M456 2140.6l-2 -6.2M465 2140.8l-.5 -6.7M473.4 2142.6l-.5 -6.7M446.8 2147.6l-1.5 -5.8M455 2148.4l-1.2 -5.7M464.2 2149.1l-1.1 -6M471.1 2151.2l-.3 -6.4M446.6 2156.2l-1.1 -5.7M454.6 2156.6l-1.6 -6.1M460.9 2157.5l-1.3 -5.8M469.4 2158.9l-1.2 -5.7" stroke="#4b03a0" stroke-width="2.2" fill="none"/>
<path d="M396.4 2094.1l17.6 -27M397.9 2113l19.6 -26.1M414.2 2107.9l17.5 -27.2" stroke="#ea7456" stroke-width="2.2" fill="none"/>
<path d="M411.3 2090.3l19.5 -27.3M435.1 2084.7l18.4 -29M415.5 2099.6l13.5 -30.8" stroke="#ee7c51" stroke-width="2.2" fill="none"/>
<path d="M426.5 2087.9l17.4 -30.3" stroke="#f2844b" stroke-width="2.2" fill="none"/>
<path d="M375 2190l5 0M378 2195l5 0" stroke="#41049d" stroke-width="2.2" fill="none"/>
<path d="M259.2 1929.6h0M281.5 1919.7h0M261 1933.7h0M193 1989.8h0M199.1 1990.4h0M205.7 1993.5h0M220.9 1997.1h0M368.9 1957.9h0M376.4 1956.5h0M334.6 1965.4h0M350.9 1966.2h0M359 1964h0M366.8 1964.2h0" stroke="#b12a90" stroke-width="5.6" stroke-linecap="round" fill="none"/>
<path d="M265.5 1926.6h0M269.7 1937.8h0M277.8 1933.5h0M284.2 1932.1h0M210.6 1986.1h0M213.6 1994.3h0M345.9 1957.9h0M352.1 1957.7h0M348.4 2014.1h0M366.4 2011.5h0M372.4 2011.4h0" stroke="#b8318a" stroke-width="5.6" stroke-linecap="round" fill="none"/>
<path d="M272.5 1923.4h0M267.4 1932.5h0M275.1 1928.4h0M282 1925.5h0M263.1 1939.3h0M232.4 1974.4h0M257.6 1983.4h0M337.7 1955.8h0M359.9 1956.2h0M339.3 2006.3h0M379.8 2000.3h0M340.9 2015.2h0M358.1 2013.5h0M381.8 2008.8h0" stroke="#be3884" stroke-width="5.6" stroke-linecap="round" fill="none"/>
<path d="M225 1918h0M331.8 1972h0M349.6 1972.3h0M356.2 1971.8h0M461.7 1981.9h0M460.4 1990.2h0M299 2198h0M326.5 2188.2h0M333.9 2186.9h0M354.1 2180.9h0M367.5 2161.3h0" stroke="#a01b9a" stroke-width="5.6" stroke-linecap="round" fill="none"/>
<path d="M231.6 1950.6h0M254.6 1959.1h0M335 1975h0M371.6 1986.4h0M419.8 2089.5h0M392.3 2105h0M401.5 2104h0M423.7 2096.6h0M421.9 2107.5h0M384.2 2133.9h0M391.9 2133.9h0M407.6 2127.9h0M422.9 2125.4h0" stroke="#e16462" stroke-width="5.6" stroke-linecap="round" fill="none"/>
<path d="M239.2 1953.6h0M228.4 1958h0M259.8 1976.2h0M193.6 1975.9h0M206.5 1978.1h0M215.1 1981.7h0M355.3 1997.4h0M364.1 1994.7h0M371.2 1994.7h0M395.5 2121.8h0M401.5 2120.9h0M410.1 2119h0M399.3 2131.7h0M415.9 2127.4h0M388.7 2144h0" stroke="#d6566d" stroke-width="5.6" stroke-linecap="round" fill="none"/>
<path d="M247.4 1956.5h0M270.9 1965.5h0M330 1970h0M403.2 2092.9h0M409.4 2100.9h0M388.3 2115h0M428.6 2104.7h0M387.4 2126.1h0M417.7 2115.8h0M425.7 2115.6h0" stroke="#e56c5c" stroke-width="5.6" stroke-linecap="round" fill="none"/>
<path d="M262.2 1962.4h0M253.1 1965.7h0M262 1968.7h0M269.5 1971.8h0M432.9 2094h0M405 2111.7h0M396.3 2140.2h0" stroke="#dc5d68" stroke-width="5.6" stroke-linecap="round" fill="none"/>
<path d="M235.9 1960.9h0M244.5 1962.4h0M243.5 1970.7h0M266.2 1979.8h0M186.1 1972h0M338.7 1990.9h0M345.3 1989.7h0M353.9 1989.1h0M363.7 1988h0M379.3 1984.7h0M338.6 1999.4h0M347.2 1997.5h0M348.2 2006.1h0M381.2 2144.2h0M405.5 2139.4h0M411.4 2135.9h0M392.6 2151.7h0M374.6 2164.8h0M383.4 2162.8h0M405.5 2157.9h0M415.1 2155.7h0" stroke="#d14e72" stroke-width="5.6" stroke-linecap="round" fill="none"/>
<path d="M227.4 1963.6h0M235.7 1968h0M224.6 1970.2h0M249.3 1981h0M264.7 1986.5h0M188.7 1980.6h0M202.9 1984.8h0M216.8 1989.8h0M379.1 1993.2h0M357.2 2003.5h0M372.9 2001.9h0M416.6 2144.8h0M391.1 2161h0M399 2159.2h0M319 2054h0" stroke="#c5407e" stroke-width="5.6" stroke-linecap="round" fill="none"/>
<path d="M250.3 1972.3h0M240.2 1977h0M199.2 1978.1h0M195.6 1983.1h0M363.4 2004.2h0M421.7 2135.2h0M376.3 2153.8h0M384.7 2152.3h0M401 2149.5h0M410.4 2146.5h0M311 2043h0" stroke="#cc4778" stroke-width="5.6" stroke-linecap="round" fill="none"/>
<path d="M225.9 1998.6h0M345.5 2196h0M340.6 2202.9h0" stroke="#7303a7" stroke-width="5.6" stroke-linecap="round" fill="none"/>
<path d="M235 1994.6h0M235.2 2002.7h0M228.7 2012.3h0M235.4 2010h0M244.8 2015.3h0M366.3 2095.8h0M381.1 2092.2h0M376 2122h0M371 2131.8h0M321.4 2196.3h0M308.9 2208.1h0M327.8 2201.9h0" stroke="#860aa5" stroke-width="5.6" stroke-linecap="round" fill="none"/>
<path d="M241.6 1990.9h0M248.4 1987.8h0M226.9 2006.2h0M242.7 1999.4h0M250.2 1996.9h0M291.7 2213.8h0M298.8 2209.9h0M317 2205.3h0M336.5 2200h0M370.3 2179.6h0" stroke="#7c06a6" stroke-width="5.6" stroke-linecap="round" fill="none"/>
<path d="M243 2006.6h0M250.5 2005.6h0M229.4 2022.5h0M251.7 2013h0M372.4 2093.6h0M367.5 2105.1h0M374.3 2103h0M381.8 2101.9h0M369.7 2123.3h0M376.4 2129.6h0M446.5 1974.4h0M451.8 1985h0M296.1 2205.3h0M303.7 2203.2h0M331.8 2194.1h0M341.2 2190.5h0M350.1 2189.2h0M368.6 2170h0" stroke="#8f0da4" stroke-width="5.6" stroke-linecap="round" fill="none"/>
<path d="M237.7 2017.6h0M340.7 1971.8h0M365.7 1973.4h0M374 1972.4h0M368.5 2114h0M375 2112.5h0M382.3 2108.9h0M382.3 2118h0M384.5 2128.9h0M453 1979.2h0M445.1 1983.9h0M445.2 1991.3h0M452.8 1993.2h0M458.3 1996.3h0M311.8 2199.8h0" stroke="#98149f" stroke-width="5.6" stroke-linecap="round" fill="none"/>
<path d="M343.5 1965.8h0M374.4 1964.4h0M307.3 2196.1h0M317.5 2192.4h0M343 2183.1h0" stroke="#a82395" stroke-width="5.6" stroke-linecap="round" fill="none"/>
<path d="M374.5 1966.6h0M377.9 1977.5h0M415.1 1965.2h0M380.8 1988.1h0M386.4 2000.5h0M405 1993.2h0" stroke="#f6e323" stroke-width="5.6" stroke-linecap="round" fill="none"/>
<path d="M383.4 1962.4h0M396.7 1972.6h0" stroke="#f9d924" stroke-width="5.6" stroke-linecap="round" fill="none"/>
<path d="M392.5 1961.6h0M401.5 1957h0" stroke="#f0f921" stroke-width="5.6" stroke-linecap="round" fill="none"/>
<path d="M410 1954.5h0M404.7 1968.4h0M413.2 1989.4h0M402.6 2017.5h0" stroke="#fcce25" stroke-width="5.6" stroke-linecap="round" fill="none"/>
<path d="M386.5 1974.4h0M399.8 1982.5h0M419 1976.5h0M394.5 1997h0M426.3 1997.4h0M394.5 2021.3h0M399.1 2032.6h0M424.1 2024h0M434.3 2021h0" stroke="#fcc429" stroke-width="5.6" stroke-linecap="round" fill="none"/>
<path d="M390.5 1984.4h0M399.8 2008.5h0M415.8 2002.5h0M420.8 2013.2h0M401.5 2042.8h0M419.1 2037.3h0M428.3 2034.9h0M437.2 2030.4h0" stroke="#fcb032" stroke-width="5.6" stroke-linecap="round" fill="none"/>
<path d="M408.4 1979h0M421.6 1986.4h0M391 2010.2h0M415.9 2026.8h0" stroke="#fcba2e" stroke-width="5.6" stroke-linecap="round" fill="none"/>
<path d="M408.1 2003.9h0M411.5 2014.5h0M405.5 2055.1h0M410.6 2065.5h0" stroke="#fca636" stroke-width="5.6" stroke-linecap="round" fill="none"/>
<path d="M431 2010.4h0M419.8 2063.4h0M428 2059.9h0" stroke="#fa9e3b" stroke-width="5.6" stroke-linecap="round" fill="none"/>
<path d="M406.1 2030.7h0M410.6 2040.4h0M414.7 2051.9h0M423.6 2049.1h0M432 2044.9h0M436 2057.4h0M446.8 2054.3h0" stroke="#f79540" stroke-width="5.6" stroke-linecap="round" fill="none"/>
<path d="M440.8 2043.3h0" stroke="#f48c46" stroke-width="5.6" stroke-linecap="round" fill="none"/>
<path d="M465.5 2031.7h0M474.3 2031.4h0M483.2 2032.7h0M489.5 2034.3h0M465.2 2039.1h0M472.6 2040.3h0M481.3 2041.1h0M471 2049.4h0M467.9 2067.7h0M288.1 2222.3h0M296.6 2217.9h0M305 2216.5h0M313.9 2213.3h0M324.2 2210.7h0M333 2208h0" stroke="#6a00a8" stroke-width="5.6" stroke-linecap="round" fill="none"/>
<path d="M490 2042.1h0M463 2047.9h0M478.6 2050.2h0M486.6 2052.3h0M461.3 2058.3h0M470.1 2059.4h0M477.8 2059.8h0M486.2 2059.5h0M461.5 2065.3h0M476.7 2068.1h0M485.2 2070h0M460 2075.3h0M467.7 2076.4h0M474.5 2077.3h0M482.6 2078.6h0M465 2085.5h0M474.6 2086h0M463.5 2094.2h0M471.8 2095.1h0M481 2095.7h0M373.3 2188.1h0" stroke="#6001a5" stroke-width="5.6" stroke-linecap="round" fill="none"/>
<path d="M458.7 2083.9h0M482.2 2087.5h0M456.5 2093.9h0M453.9 2101.6h0M461.6 2102.5h0M469.3 2104h0M477.7 2106.3h0M452.6 2110.9h0M460.5 2112.9h0M468.5 2113.2h0M476.7 2114.1h0M452 2120.5h0M468.1 2122.7h0M475.1 2122.6h0M449.5 2128.7h0M457.5 2131.4h0M465.3 2132.6h0M475 2132.1h0M390.7 2031.5h0M399.5 2032.4h0M388.5 2037.3h0M395.5 2038.4h0M387.7 2044.9h0M395.4 2046.2h0M385.6 2052h0M392.3 2052.3h0M283.1 2230.8h0M291.5 2228h0M300 2223.7h0M311.2 2221.1h0M319 2219h0M327.5 2215.7h0M336.1 2211h0" stroke="#5602a2" stroke-width="5.6" stroke-linecap="round" fill="none"/>
<path d="M459.2 2122.4h0M448 2137.5h0M456 2140.6h0M465 2140.8h0M473.4 2142.6h0M446.8 2147.6h0M455 2148.4h0M464.2 2149.1h0M471.1 2151.2h0M446.6 2156.2h0M454.6 2156.6h0M460.9 2157.5h0M469.4 2158.9h0" stroke="#4b03a0" stroke-width="5.6" stroke-linecap="round" fill="none"/>
<path d="M396.4 2094.1h0M397.9 2113h0M414.2 2107.9h0" stroke="#ea7456" stroke-width="5.6" stroke-linecap="round" fill="none"/>
<path d="M411.3 2090.3h0M435.1 2084.7h0M415.5 2099.6h0" stroke="#ee7c51" stroke-width="5.6" stroke-linecap="round" fill="none"/>
<path d="M426.5 2087.9h0" stroke="#f2844b" stroke-width="5.6" stroke-linecap="round" fill="none"/>
<path d="M375 2190h0M378 2195h0" stroke="#41049d" stroke-width="5.6" stroke-linecap="round" fill="none"/>
</g>
<circle cx="302.5" cy="2036.3" r="206.7" fill="none" stroke="#000" stroke-width="2.8"/>
<text x="308.3" y="1796.8" text-anchor="middle" font-size="29">2016-03-11 12:50 - 12:52</text>
<text x="302.1" y="1824.8" text-anchor="middle" font-size="29">12</text>
<text x="300.9" y="2275.5" text-anchor="middle" font-size="29">00</text>
<text x="91.8" y="2048.0" text-anchor="end" font-size="29">18</text>
<text x="510.0" y="2048.0" font-size="29">06</text>
<text x="43.5" y="1825.0" font-size="29" letter-spacing="3">(i)</text>
<text x="309.3" y="2117.7" font-size="19">80</text>
<text x="338.3" y="2175.3" font-size="19">70</text>
<text x="386.7" y="2240.0" font-size="19">60</text>
<rect x="220.7" y="2033.0" width="12" height="5.6" fill="#000"/>
<path d="M378.5 2024.8h12M384.5 2018.8v12" stroke="#000" stroke-width="5"/>
<circle cx="818.5" cy="2038.6" r="68.9" fill="none" stroke="#b0b0b0" stroke-width="3"/>
<circle cx="818.5" cy="2038.6" r="137.8" fill="none" stroke="#b0b0b0" stroke-width="3"/>
<path d="M611.8 2038.6L1025.2 2038.6M672.3 1892.4L964.7 2184.8M818.5 1831.9L818.5 2245.3M964.7 1892.4L672.3 2184.8" stroke="#b0b0b0" stroke-width="3"/>
<clipPath id="cpj"><circle cx="818.5" cy="2038.6" r="205.7"/></clipPath><g clip-path="url(#cpj)">
<path d="M733.1 2040.6 738.0 2037.1 741.7 2031.6 744.0 2024.1 743.9 2016.6 742.1 2012.1 738.0 2007.4 732.0 2004.4 726.0 2004.1 723.0 2005.0 720.0 2006.8 717.6 2009.1 715.7 2012.1 713.9 2018.1 714.3 2025.6 717.0 2033.7 718.5 2036.1 721.5 2039.3 724.5 2041.0 727.5 2041.7 733.1 2040.6ZM735.8 2066.1 741.0 2064.0 747.0 2059.9 752.5 2054.1 756.4 2048.1 759.8 2040.6 762.3 2031.6 763.3 2022.6 763.0 2015.1 761.6 2009.1 758.9 2003.1 754.7 1997.1 749.9 1992.6 744.0 1988.8 738.0 1986.5 730.5 1985.1 724.5 1985.3 718.5 1986.8 712.5 1989.8 707.3 1994.1 702.7 2000.1 699.7 2006.1 697.7 2013.6 697.2 2021.1 697.9 2030.1 699.8 2039.1 702.5 2046.6 706.5 2053.9 711.7 2060.1 717.0 2064.2 723.0 2066.7 729.0 2067.3 735.8 2066.1ZM738.0 2091.6 747.0 2088.3 756.0 2082.5 763.6 2075.1 771.1 2064.6 776.7 2052.6 780.2 2040.6 782.2 2027.1 782.1 2013.6 779.7 2003.1 775.7 1994.1 769.5 1985.1 762.0 1977.9 753.0 1972.2 744.0 1968.5 733.5 1966.4 723.0 1966.5 714.0 1968.6 704.7 1973.1 696.0 1980.2 689.7 1988.1 684.4 1998.6 681.5 2009.1 680.5 2019.6 681.3 2033.1 683.8 2046.6 688.3 2060.1 694.5 2071.6 702.0 2081.0 709.5 2087.1 718.5 2091.4 727.5 2092.8 738.0 2091.6ZM739.9 2117.1 747.0 2115.1 753.0 2112.5 759.0 2109.2 765.0 2105.0 771.0 2099.8 776.0 2094.6 781.5 2087.5 786.0 2080.5 789.7 2073.6 793.5 2064.8 798.5 2048.1 801.2 2030.1 801.6 2019.6 801.1 2012.1 798.3 1998.6 795.5 1991.1 792.6 1985.1 784.5 1973.4 775.1 1964.1 763.5 1956.3 757.5 1953.4 750.0 1950.6 742.5 1948.7 735.0 1947.6 727.5 1947.3 721.5 1947.7 714.0 1949.0 708.0 1950.9 702.0 1953.5 696.0 1957.0 690.4 1961.1 685.4 1965.6 680.1 1971.6 675.9 1977.6 672.5 1983.6 669.1 1991.1 665.3 2004.6 663.9 2018.1 664.7 2036.1 667.8 2054.1 670.3 2063.1 673.6 2072.1 681.1 2087.1 685.5 2093.7 691.2 2100.6 696.0 2105.3 702.0 2109.9 708.0 2113.5 714.0 2116.0 720.0 2117.6 726.0 2118.3 733.5 2118.1 739.9 2117.1ZM741.6 2142.6 750.0 2140.4 759.0 2136.8 766.5 2132.7 774.0 2127.6 781.5 2121.2 788.3 2114.1 794.3 2106.6 800.3 2097.6 805.5 2088.0 809.9 2078.1 813.6 2067.6 816.4 2057.1 818.5 2046.6 820.0 2034.6 820.7 2022.6 820.3 2012.1 819.1 2003.1 816.9 1994.1 813.7 1985.1 810.2 1977.6 805.7 1970.1 800.2 1962.6 794.9 1956.6 788.5 1950.6 781.5 1945.2 774.0 1940.5 766.5 1936.7 757.5 1933.2 748.5 1930.7 739.5 1929.1 730.5 1928.4 721.5 1928.7 712.5 1930.1 705.0 1932.2 697.5 1935.2 690.0 1939.1 682.5 1944.3 675.2 1950.6 669.0 1957.4 664.0 1964.1 659.4 1971.6 655.0 1980.6 651.7 1989.6 649.4 1998.6 647.9 2007.6 647.2 2016.6 648.0 2037.6 649.5 2049.6 651.9 2061.6 655.1 2073.6 658.8 2084.1 663.4 2094.6 668.3 2103.6 674.3 2112.6 680.3 2120.1 687.0 2126.8 694.5 2132.8 702.0 2137.4 709.5 2140.7 717.0 2142.8 724.5 2143.8 733.5 2143.7 741.6 2142.6ZM743.2 2168.1 756.0 2164.7 768.0 2159.6 780.0 2152.3 790.5 2144.0 800.7 2133.6 810.0 2121.6 818.3 2108.1 824.9 2094.6 831.5 2076.6 832.2 2069.1 831.5 2016.6 828.4 1973.1 828.0 1970.6 822.6 1961.1 817.4 1953.6 811.1 1946.1 798.3 1934.1 784.5 1924.6 769.5 1917.4 753.0 1912.3 736.5 1909.8 720.0 1909.9 709.5 1911.5 700.5 1914.0 690.0 1918.2 681.0 1923.2 672.0 1929.5 664.5 1936.1 657.0 1944.3 651.0 1952.2 645.5 1961.1 640.4 1971.6 636.4 1982.1 633.5 1992.6 631.6 2003.1 630.6 2015.1 630.6 2027.1 631.4 2040.6 633.3 2055.6 635.9 2069.1 639.5 2082.6 644.1 2096.1 649.5 2108.7 655.5 2120.0 662.4 2130.6 669.5 2139.6 676.7 2147.1 685.5 2154.5 694.5 2160.4 703.5 2164.7 712.5 2167.6 723.0 2169.3 733.5 2169.3 743.2 2168.1ZM642.0 2135.1 651.6 2150.1 662.7 2163.6 675.0 2175.0 687.0 2183.4 699.0 2189.3 712.5 2193.4 726.0 2195.0 741.0 2194.2 756.0 2191.0 771.0 2185.3 784.5 2177.9 798.0 2167.9 810.3 2156.1 822.0 2141.8 832.5 2125.4 837.7 2115.6 840.2 2109.6 839.5 2036.1 838.6 2010.6 836.2 1974.6 835.9 1947.6 835.5 1946.2 832.1 1941.6 823.1 1931.1 814.5 1922.9 805.5 1915.7 795.0 1908.8 784.5 1903.3 774.0 1898.9 762.0 1895.1 750.0 1892.5 738.0 1891.0 726.0 1890.6 715.5 1891.4 705.0 1893.3 694.5 1896.3 684.0 1900.6 675.0 1905.4 666.0 1911.4 657.0 1918.7M729.4 2220.6 747.0 2219.0 763.5 2214.9 780.0 2208.2 796.5 2198.5 811.5 2186.7 825.4 2172.6 838.2 2156.1 849.0 2138.6 847.2 2043.6 843.8 1971.6 844.1 1950.6 845.7 1928.1 832.0 1913.1 823.5 1905.6 816.0 1899.9 807.0 1893.9 798.5 1889.1 780.0 1880.9 760.5 1875.2 750.0 1873.3 739.5 1872.2 720.0 1872.0 709.5 1873.2 700.5 1875.0M777.0 2236.5 789.0 2230.9 801.0 2224.0 812.3 2216.1 823.0 2207.1 833.7 2196.6 843.0 2185.8 852.8 2172.6 859.3 2162.1 853.8 2019.6 851.5 1974.6 852.0 1958.1 853.2 1943.1 855.2 1928.1 858.0 1913.1 846.0 1900.2 833.2 1889.1 819.0 1879.1 804.0 1870.7 787.5 1863.5 771.0 1858.3 754.5 1854.9 737.5 1853.1" fill="none" stroke="#6e6e6e" stroke-width="3.2" stroke-dasharray="10.5 5"/>
<path d="M936.0 2019.6 934.5 2020.1 931.5 2019.6 929.3 2018.1 927.0 2015.4 924.0 2008.4 922.5 2000.1 922.4 1994.1 924.0 1989.3 925.5 1987.2 928.0 1985.1 933.0 1983.4 937.5 1984.1 940.5 1986.1 943.0 1989.6 944.3 1994.1 943.9 2003.1 942.2 2010.6 939.3 2016.6 936.0 2019.6ZM937.5 2048.2 933.0 2048.9 930.0 2048.3 927.0 2046.9 922.5 2043.1 918.4 2037.6 915.0 2030.7 912.0 2021.6 910.0 2012.1 909.0 2001.6 908.9 1994.1 909.5 1989.6 911.5 1983.6 914.2 1979.1 918.0 1974.9 922.5 1971.8 927.0 1969.9 933.0 1968.9 937.5 1969.2 942.0 1970.6 946.2 1973.1 949.5 1976.0 952.5 1979.9 954.4 1983.6 956.0 1988.1 956.9 1994.1 956.7 2003.1 955.6 2013.6 953.7 2022.6 951.4 2030.1 948.0 2037.6 945.0 2042.2 942.0 2045.4 937.5 2048.2ZM939.0 2076.8 936.0 2077.5 931.5 2077.5 927.0 2076.3 922.5 2074.0 918.2 2070.6 915.0 2067.2 909.0 2058.3 904.2 2048.1 900.0 2034.8 898.3 2021.1 896.6 1998.6 896.3 1989.6 897.0 1983.6 899.9 1976.1 904.5 1968.9 910.5 1962.8 916.5 1958.8 924.0 1955.7 931.5 1954.4 939.0 1954.8 945.0 1956.5 951.0 1959.5 957.0 1964.3 961.8 1970.1 965.8 1977.6 968.2 1985.1 969.3 1992.6 969.0 2007.6 967.5 2022.3 964.8 2036.1 961.2 2048.1 956.6 2058.6 951.0 2067.5 945.0 2073.5 939.0 2076.8ZM940.5 2105.3 934.5 2106.4 928.5 2105.8 922.5 2103.7 916.5 2100.1 910.5 2094.6 906.0 2089.2 901.5 2082.4 897.0 2073.9 895.5 2069.7 891.9 2043.6 888.1 1995.6 888.1 1983.6 889.5 1970.4 891.0 1964.1 894.0 1959.8 901.5 1952.0 910.5 1945.8 921.0 1941.6 931.5 1939.9 940.5 1940.4 949.5 1942.9 958.5 1947.8 966.0 1954.2 972.6 1962.6 977.2 1971.6 980.5 1982.1 981.9 1992.6 981.4 2012.1 979.3 2031.6 975.5 2051.1 970.5 2067.3 964.4 2081.1 957.0 2092.7 949.5 2100.3 945.0 2103.3 940.5 2105.3ZM934.5 2135.1 928.5 2134.7 922.5 2133.0 916.5 2130.2 910.5 2126.0 904.5 2120.4 900.0 2115.1 895.1 2108.1 889.9 2099.1 886.6 2076.6 883.5 2048.1 879.5 1988.1 879.8 1977.6 880.9 1967.1 883.1 1955.1 885.0 1948.8 894.0 1939.9 900.0 1935.5 906.0 1932.0 912.0 1929.4 919.5 1927.1 925.5 1925.9 933.0 1925.4 945.0 1926.6 951.0 1928.3 957.0 1930.7 967.5 1937.2 976.5 1945.8 984.2 1956.6 989.7 1968.6 993.3 1982.1 994.4 1995.6 993.3 2022.6 989.7 2049.6 984.1 2073.6 980.7 2084.1 976.5 2094.6 972.0 2104.0 967.5 2111.6 962.4 2118.6 957.0 2124.5 952.5 2128.3 946.5 2132.0 940.5 2134.3 934.5 2135.1ZM937.5 2163.7 930.0 2163.7 922.5 2162.2 915.0 2159.1 907.5 2154.3 900.0 2147.7 894.0 2141.0 888.0 2132.7 882.2 2123.1 879.1 2097.6 875.8 2061.6 871.1 1988.1 871.3 1974.6 872.6 1961.1 875.2 1946.1 878.1 1935.6 883.5 1930.3 889.5 1925.5 895.5 1921.5 903.0 1917.6 910.5 1914.7 918.0 1912.6 925.5 1911.3 933.0 1910.9 940.5 1911.2 946.5 1912.2 954.0 1914.2 960.0 1916.5 966.0 1919.5 972.3 1923.6 978.0 1928.1 984.1 1934.1 993.1 1946.1 997.3 1953.6 1000.6 1961.1 1003.1 1968.6 1005.2 1977.6 1006.9 1994.1 1005.8 2025.6 1004.1 2042.1 1001.9 2057.1 999.0 2071.8 995.6 2085.6 991.5 2099.0 987.0 2111.1 982.3 2121.6 976.5 2132.2 970.5 2141.2 964.5 2148.3 958.5 2154.0 951.0 2159.2 945.0 2161.9 937.5 2163.7ZM955.5 2186.2 951.0 2188.6 945.0 2190.9 940.5 2192.0 934.5 2192.6 928.5 2192.3 922.5 2191.2 912.0 2187.1 901.5 2180.2 891.0 2170.3 882.0 2158.8 873.0 2144.1 869.2 2097.6 866.0 2048.1 862.8 1989.6 862.9 1968.6 865.3 1946.1 870.0 1923.9 879.0 1915.7 889.5 1908.5 900.0 1903.2 910.4 1899.6 921.0 1897.3 931.5 1896.4 942.0 1896.8 951.0 1898.4 961.5 1901.7 970.5 1906.0M1019.0 2015.1 1017.9 2033.1 1016.0 2051.1 1013.5 2067.6 1010.3 2084.1 1006.5 2099.7 1002.0 2114.8 997.4 2127.6 991.6 2141.1M913.5 2217.2 906.0 2213.5 900.0 2209.6 893.1 2204.1 886.5 2197.7 880.5 2190.8 874.5 2182.7 868.5 2173.5 863.0 2163.6 854.2 1985.1 854.1 1967.1 855.3 1949.1 857.6 1931.1 861.3 1913.1 865.6 1908.6 874.5 1901.4 882.0 1896.4 891.0 1891.6 900.0 1887.8 909.0 1885.0 918.0 1883.1 928.5 1882.0 937.5 1882.0 946.5 1882.8" fill="none" stroke="#6e6e6e" stroke-width="2.8"/>
<path d="M809 1832C830 1850 860 1880 876 1908" fill="none" stroke="#6e6e6e" stroke-width="2.8"/>
<path d="M903 1849C930 1880 950 1910 984 1918" fill="none" stroke="#6e6e6e" stroke-width="2.8"/>
<path d="M680.7 1905.5l18.4 -6.2M703.9 1896.4l17.4 -8.8M992 1974l-18.9 -8.2M999.6 1973.5l-19.3 -4.8M989.2 2083.3l13.3 -15.1M1006.7 2066.7l10.7 -16.3M957.5 2115.7l11.4 -16.3M1012.9 2068l14.1 -13.5M955.5 2124.5l14.2 -14.2M971.9 2107.6l14.1 -14.4M1017.1 2068.6l13.3 -15.5M950.8 2132.7l14.4 -13.9M959.5 2124.6l12.8 -15.6M968 2117.1l13.5 -14.5M985.4 2102l11.8 -16.4M981.9 2110.1l12.8 -15.3M999.9 2095.3l14.2 -13.3M808.2 2193.7l2.4 19.8M824.6 2201.6l.4 19.6M832.6 2203.1l-2.1 19.9M800 2217l1.1 20.2M807.8 2217.6l.1 20.5M831.7 2217.9l-1.6 20.2M840 2219l2.4 20.2M823.9 2225.6l-1 20.5M839.1 2225.1l-1 20.2" stroke="#b12a90" stroke-width="2.2" fill="none"/>
<path d="M689.2 1900.6l17 -8.5M696.5 1898.6l17.6 -6.5M690.6 1908.8l17.2 -6.2M998 1961.4l-18.1 -5M991.1 1967.1l-18.2 -6M999.6 1967.5l-17.9 -5.3M966.4 2106.6l12.5 -14M976.3 2099.8l12.5 -14.4M990.8 2091.3l13.5 -13.8M998.6 2084.1l14 -13M1008.4 2077.5l13.3 -14M978.3 2109.2l12.6 -13.2M1005.6 2085.1l10 -15.6M1012.6 2076.9l12.4 -14.7M973.4 2117.7l10.1 -15.4M991.8 2102.7l11 -14.7M1009.3 2087l11.5 -15.5M943.6 2150.7l10.6 -16M951.7 2144.2l13.3 -13.1M959.5 2134.9l11.6 -14.9M970.1 2126.8l10.5 -15.4M995.4 2104.6l10.7 -15.7M993.3 2112.8l10.7 -15.1M816.5 2195l1.9 18.5M824.2 2193.6l1.9 18.5M831.8 2194l.3 18.8M840 2194.4l1.3 18.9M808 2202.8l-1.5 19M816.6 2202l-.3 18.4M839.5 2202.1l-.7 19M815.9 2210.5l-.4 18.7M825 2210.9l-2.2 19M838.9 2210.4l.8 18.8M815.2 2217.4l.9 18.9" stroke="#a82395" stroke-width="2.2" fill="none"/>
<path d="M682 1912.3l16.3 -7.2M770.6 1877.6l17.4 -.5M778.8 1876.3l17.4 -.9M784.4 1877.6l16.9 1.6M995.1 2093.1l12.6 -12.4M945.8 2143.7l9.7 -14.3M954.9 2133.3l12.5 -12.1M963.3 2126.8l10.5 -13.7M1006 2095.1l10.7 -13.7M938 2160.7l9.8 -14.4M956.8 2145l12 -12.5M974.7 2129.3l10.8 -13.2M984 2121.2l10.5 -13.9M1001.1 2104.9l9.6 -14.8M953.1 2154.3l9.6 -15M960.5 2144.9l9.5 -14.5M971.6 2136.9l11.7 -13.4M980.1 2128.9l11.2 -13.6M799.5 2194.7l-.2 17.5" stroke="#a01b9a" stroke-width="2.2" fill="none"/>
<path d="M698.9 1905.5l15.3 -5.6M708.1 1902.1l14.6 -7M686.5 1919.5l15.3 -5.1M763.7 1876.9l15.8 1.8M763.8 1883.6l16.7 .3M772.6 1883.2l15.8 -.1M778.3 1883.8l16 2.7M785.7 1882.7l16 1.4M755.6 1969.6l14.2 6.5M756.5 1976.8l13.6 7.9M881 1916l-1.1 15.9M889.7 1916.4l-.9 15.8M882 1926.2l-1.2 15.8M895.6 1926.3l-2.3 15.8M896.9 1933.7l-3.3 15.4M979.4 2118.4l10.1 -13.3M987.3 2110.3l10.4 -13.2M947.5 2151.8l12.2 -11.2M965.4 2136.3l11 -11.5M943.1 2161.3l10.9 -11.7M997.2 2114.2l8.5 -13.2M933.9 2144.9l2.1 16" stroke="#98149f" stroke-width="2.2" fill="none"/>
<path d="M693.3 1916.4l13.8 -3.9M864.9 2033.4l-2 13.1M888.5 1925.4l-3.8 13.3M889.4 1935l-2.4 13.8M881.9 1942.4l-2.6 13.8M896.6 1943.4l-4.1 13.3M918.9 2145.6l2.7 13.9" stroke="#860aa5" stroke-width="2.2" fill="none"/>
<path d="M701 1912.3l14 -5.4M710.5 1908.8l13.3 -5.9M746 1966.9l13.5 5.1M754 1962.2l12.3 7.8M759.3 1960.5l12.8 7.7M747.4 1972.1l14.8 4.6M762.5 1967.4l12.2 7.6M751.1 1980.3l14.3 5.8M764.2 1974.7l12.6 7.6M757 2012l-13 7.5M750 2020l-14.1 5.1M896.7 1917.4l-4.5 14.7M882.5 1933.8l-2.5 14.4M888.2 1942.8l-1.3 15.1M934.6 2170.5l8.9 -12.4M989.4 2121.5l10.1 -11.5M918.4 2139l3.4 14.2M925.3 2139.6l4.3 13.9M933.3 2138.5l3.7 14.5M926.5 2145.1l1.3 14.5" stroke="#8f0da4" stroke-width="2.2" fill="none"/>
<path d="M749.1 1895.7l35.3 -4.9M756.3 1894.1l36.6 -3.8M783.6 1892.8l35.9 -6.1M757.8 1902.1l35.8 -4.1M768 1902.9l36.3 -2.9M786.1 1899.8l36.1 1.8M912.8 2010.1l21 28.9M940.7 2001.5l19.3 30.2M905 2022.9l17 31.5M951.4 2006.5l20.9 29.1M908.5 2032.1l19.2 30.6" stroke="#f48c46" stroke-width="2.2" fill="none"/>
<path d="M765.7 1893.5l35.2 -5.2M749 1904l34.4 -3.8M769.5 1909.1l34.5 -4.9M779.8 1909.3l34.8 1.4M943 1968.6l19.5 28.5M917.2 1987.1l21.9 27.1M932.5 2014.5l21.8 27.3M909.1 2104l34 6.7" stroke="#f2844b" stroke-width="2.2" fill="none"/>
<path d="M774.4 1893.1l32.3 -2.7M776 1901.9l31.8 -5M752.5 1911.4l31.8 -5.2M787 1906.9l32.4 -4.4M755.2 1918.9l32.7 -1M782.3 1925.7l31.9 -1.4M703 1952.1l9.9 -30.6M726.3 1975.3l17.4 -26.9M725 1979.5l15.2 -28.7M896.4 1982.6l18.3 27.5M907.5 1988.3l16.5 27.6M925.7 1984.6l16 28.8M936.5 1981.3l14.9 28.2M902.4 2002.1l18.1 26.7M919.7 1997.4l18.4 26.6M903.8 2011.7l20.4 24.5M930.3 2004.2l20.2 25.6M947.4 1998.2l18.2 27.4M913.4 2019.7l20.1 26.1M941.9 2011.1l16.2 28.7M915.4 2030.1l16.3 28.7M933.7 2023.2l21.3 24.5M881.7 2097.5l30.3 12.2M892 2098.5l31.5 8.7M900.5 2101.5l32.8 4.6M838 2070l-26.6 18.6M845 2075l-26.6 18.6" stroke="#ea7456" stroke-width="2.2" fill="none"/>
<path d="M760.6 1910.3l30.8 -5.3M781.4 1915.8l30.2 -6.7M755.8 1928l31.6 -4M764.2 1928l31.3 -5.5M773.8 1926.2l31.1 -5.1M793.2 1924.7l31 -5.6M716.4 1959.9l12.3 -29.4M713.2 1965.9l11.9 -28.4M729.9 1984.9l12.5 -29.1M735.5 1989l11.8 -28.3M906.4 1979l16.3 26.6M914.9 1975.7l20.8 23M924.9 1973.3l18.1 25.3M932.9 1970.9l14.4 27M898.7 1993.2l20.8 23.7M938 1989.9l19.8 24.2M946.6 1987.2l16 27.4M918.4 2106.3l30.3 8.3M879.9 2107.7l28.5 11.8M914.8 2123.8l30.2 7" stroke="#e56c5c" stroke-width="2.2" fill="none"/>
<path d="M762.4 1919.6l29.2 .5M863.6 1895.4l8.7 27.7M847.5 1899.2l9.1 27.8M855.7 1901.5l11.7 25.9M861.8 1901.9l12.1 25.9M896 2119.6l26.5 9.4M877.5 2124.8l28.9 3.7M895.2 2128.9l26 10.7M913.3 2131.7l27.1 7.5M841.6 2231.2l23 17.5M869.9 2226.9l25.5 14.2" stroke="#dc5d68" stroke-width="2.2" fill="none"/>
<path d="M772.4 1917.9l29.5 -.3M846.9 1891l12.6 26.6M710 1954.1l14.8 -26.2M720.3 1968.1l14.7 -25.6M719 1971.5l9.4 -29M731.9 1982.6l11.1 -27.2M871.3 2104l29.1 8.1M889.7 2109.3l29.1 9M898.5 2111.2l30.1 4.2M906.5 2112.7l30.3 3.9M915.6 2114.1l27.3 11.3M886.4 2116.9l28.8 6.8M906 2122.1l28.1 11.2M846 2082l-24.6 17.2" stroke="#e16462" stroke-width="2.2" fill="none"/>
<path d="M789.6 1915.8l33.2 -5.6M709 1957.8l15.8 -30.1M944.3 1977l19.5 27M910.4 1998.4l19.2 28.2M929.6 1993.3l21.5 25.7M922.2 2007.4l18.2 28.4M922.4 2016.7l21 26.2M942.8 2021.5l15.9 29.3M873.7 2094.3l33.3 5.8" stroke="#ee7c51" stroke-width="2.2" fill="none"/>
<path d="M807.5 1885.2l22.5 6.8M834.6 1891.1l23.1 5M846.7 1878.3l7.3 23.2M847 1884.3l10.2 22M855.4 1887.7l7.6 22.8M945.5 1959.8l-22.2 -7.3M953.9 1963.6l-23.1 -5.1M936.2 1965.9l-22.4 -7.3M945.6 1967.6l-22.4 -6M972.8 1977.3l-22 -10M861.2 2204.1l21.5 10.4M878.6 2199.1l22 10.1M887.4 2198.8l19.2 14.8M905 2190l23.6 -4.2" stroke="#c5407e" stroke-width="2.2" fill="none"/>
<path d="M816.4 1885.2l25.5 3.4M827.3 1885.6l25.9 4.7M836.5 1885.2l26.4 3.7M861.3 2210.9l20.7 16.1M887.3 2205.1l22.9 12.2M841.3 2225.1l24.2 9.9M851 2222.1l24 11.8M870 2217.1l22.6 14.1M877.7 2223.6l22.9 12.6" stroke="#d14e72" stroke-width="2.2" fill="none"/>
<path d="M808.3 1892.5l24.7 3.5M816.4 1890.6l23.8 7.2M827.1 1891.4l24.4 5.9M861.9 1888.1l10.1 22.5M936.6 1956.6l-23.1 -8.7M963.3 1965.8l-23.1 -9.9M962.9 1973.9l-23.6 -9.7M884.4 2125.8l24.6 6.4M841.6 2208.5l19.8 14.3M851.8 2205.5l20.2 15M842.8 2215.8l21 13M852.4 2214l22.3 10.8M869.5 2209.5l22.1 10.8M879 2208.3l21.4 12.3M879.2 2215.9l21 14.5M886.4 2213.2l20.2 15.7M851.3 2228.9l20.8 14.5M861.1 2227.8l22.5 11.8" stroke="#cc4778" stroke-width="2.2" fill="none"/>
<path d="M832.6 1929.4l-13.5 46.8M859.2 1931.2l-12 46.6" stroke="#f3ee22" stroke-width="2.2" fill="none"/>
<path d="M841.1 1927.6l-7.2 47M849.3 1925.5l-7.4 46.6M841.1 1935.7l-15.7 44.9M832.7 1944.8l-10.8 46M841.3 1941.8l-11.8 46.3" stroke="#f6e323" stroke-width="2.2" fill="none"/>
<path d="M857.4 1924l-16.6 40.9M859.4 1937.8l-12.5 42M849.9 1947.5l-15.9 40.7M832.2 1959.4l-6.6 43.1M839.8 1957.6l-7.2 43.6" stroke="#fcc429" stroke-width="2.2" fill="none"/>
<path d="M832.3 1936.4l-7.4 41.4M850 1932.6l-10.4 40.6M850.7 1941.5l-10.8 40.8M857.4 1952l-6.1 42.3M831.9 1966.5l-8.2 41.5" stroke="#fcba2e" stroke-width="2.2" fill="none"/>
<path d="M832.3 1951.2l-10.5 45.2M857.4 1945.4l-8.8 45.2" stroke="#f9d924" stroke-width="2.2" fill="none"/>
<path d="M841 1950.7l-6.4 40.8M841 1963.1l-8.6 40.7" stroke="#fcb032" stroke-width="2.2" fill="none"/>
<path d="M850 1953.8l-11.4 38.9M850.3 1961.2l-13.3 37.8M858 1959l-7.4 39.5" stroke="#fca636" stroke-width="2.2" fill="none"/>
<path d="M854.6 1879l9.2 20.5M697 1941l17.2 -14.5M973.9 1969.3l-21.2 -6.3M954.9 1970.9l-21.9 -5M997.8 2073.8l15.7 -15.7M1025.4 2050.2l13.4 -18M994.7 2084.2l13.7 -17.1M1020.6 2059.6l12.7 -17.8M807.5 2227l-2.8 21.8M869.2 2202.3l20.8 9.4M895 2182l22.5 0" stroke="#be3884" stroke-width="2.2" fill="none"/>
<path d="M862.1 1882.2l7.5 19.4M991.6 1960.2l-19.1 -8.1M963 2107.7l12 -17.1M971.8 2099.7l11.7 -18M980.3 2090.5l14.8 -15.8M1016.9 2058.6l13 -16.2M985.3 2091.1l15.2 -15.3M1004 2076.4l11.9 -17.3M964.5 2116.6l12.3 -17.4M982.4 2099.8l15.1 -14.2M800.8 2202.7l-1.7 20.8M801 2209.5l-.2 21.5M807.3 2209.8l-2.5 21.2M832.1 2210.8l-2.1 21M824.1 2219l1.5 21.7M799.5 2226l-.3 21.6M816.3 2226.7l2.7 21.2M832.9 2225.1l1.4 20.9" stroke="#b8318a" stroke-width="2.2" fill="none"/>
<path d="M856.1 1894l6.3 27.1M869.2 2114.2l27.4 5M878.3 2115.8l27.6 5M866.8 2122.2l27.2 4.3M903.3 2129.9l27.4 5.9M859.4 2221l22.4 16.7M888.7 2222l26.1 10.5" stroke="#d6566d" stroke-width="2.2" fill="none"/>
<path d="M755.2 1937.6l6.6 -4.7M762 1936.8l6.8 -2.9M770.6 1937.6l5.5 -4.3M778 1936.9l6.2 -3.7M784.3 1937.7l6.5 -3M983.7 2044.2l-.7 -7.6M991.5 2043.5l.3 -7.3M998.4 2043.9l1 -7.4M982.9 2050l.4 -7M991.6 2051l-.3 -7.4M998.8 2051.1l-.2 -7.5M984.2 2057.9l.4 -7.4M990.5 2057.1l-.1 -7.1M997.3 2057.2l-.3 -8M984 2064.5l-.1 -7.4M989.9 2065.7l0 -8.1M998.3 2064.4l.9 -7M983.2 2071.1l-.7 -7M992 2071.1l-0 -7.1M997.5 2071l-.3 -7.2M826 1872l7 2.6M886 1922l0 7.5" stroke="#5602a2" stroke-width="2.2" fill="none"/>
<path d="M756.1 1946.2l5.8 -3.3M761.9 1945.9l5.7 -3.6M770.5 1944.4l5.3 -2.6M777.1 1945.6l4.7 -3.4M784.8 1944.3l5.6 -2.7" stroke="#4b03a0" stroke-width="2.2" fill="none"/>
<path d="M755.3 1952.9l4.1 -2.6M764 1953.2l4.5 -2.9M769.1 1952.7l4.2 -2.3M776.8 1951.6l4.4 -2.3M783.8 1952.4l3.9 -2.5M890 2175l5 0M897 2179l5 0M818 1870l5 0" stroke="#41049d" stroke-width="2.2" fill="none"/>
<path d="M865.3 1987.4l-1.4 9.4M877.7 1985.4l-1.6 9.3M865.5 1998.2l-1 9.8M871.1 1995.4l-2.8 9.2M878.7 1992.4l-.5 9.7M885.3 1992.5l-2 10.1M864.7 2007.5l-1.2 9.5M872.1 2004.9l-.9 9.9M878.4 2003.5l-2.3 10M885.7 2000.1l-1.4 9.8M865 2014.4l-1.9 10.2" stroke="#6a00a8" stroke-width="2.2" fill="none"/>
<path d="M871.3 1987.6l-1 9M886 1981.9l-2.3 8.1" stroke="#6001a5" stroke-width="2.2" fill="none"/>
<path d="M870.6 2014.1l-3 10.7M879.6 2012l-2.1 11.1M884.3 2008.5l-2.6 10.6M865.6 2023.9l-1.3 11.2M872.5 2022.6l-1.2 10.9M878.7 2019.3l-3 10.7" stroke="#7303a7" stroke-width="2.2" fill="none"/>
<path d="M886.1 2019.4l-1.4 11.9M870.9 2031.7l-.5 12.6M879.6 2029.2l-2.9 11.8M885.2 2027.2l-3.4 11.7" stroke="#7c06a6" stroke-width="2.2" fill="none"/>
<path d="M925.1 2026.3l17.6 33.2M952.8 2017.8l21.6 29.9" stroke="#f79540" stroke-width="2.2" fill="none"/>
<path d="M882 1913l4 0M890 1915l4 0" stroke="#340598" stroke-width="2.2" fill="none"/>
<path d="M680.7 1905.5h0M703.9 1896.4h0M992 1974h0M999.6 1973.5h0M989.2 2083.3h0M1006.7 2066.7h0M957.5 2115.7h0M1012.9 2068h0M955.5 2124.5h0M971.9 2107.6h0M1017.1 2068.6h0M950.8 2132.7h0M959.5 2124.6h0M968 2117.1h0M985.4 2102h0M981.9 2110.1h0M999.9 2095.3h0M808.2 2193.7h0M824.6 2201.6h0M832.6 2203.1h0M800 2217h0M807.8 2217.6h0M831.7 2217.9h0M840 2219h0M823.9 2225.6h0M839.1 2225.1h0" stroke="#b12a90" stroke-width="5.6" stroke-linecap="round" fill="none"/>
<path d="M689.2 1900.6h0M696.5 1898.6h0M690.6 1908.8h0M998 1961.4h0M991.1 1967.1h0M999.6 1967.5h0M966.4 2106.6h0M976.3 2099.8h0M990.8 2091.3h0M998.6 2084.1h0M1008.4 2077.5h0M978.3 2109.2h0M1005.6 2085.1h0M1012.6 2076.9h0M973.4 2117.7h0M991.8 2102.7h0M1009.3 2087h0M943.6 2150.7h0M951.7 2144.2h0M959.5 2134.9h0M970.1 2126.8h0M995.4 2104.6h0M993.3 2112.8h0M816.5 2195h0M824.2 2193.6h0M831.8 2194h0M840 2194.4h0M808 2202.8h0M816.6 2202h0M839.5 2202.1h0M815.9 2210.5h0M825 2210.9h0M838.9 2210.4h0M815.2 2217.4h0" stroke="#a82395" stroke-width="5.6" stroke-linecap="round" fill="none"/>
<path d="M682 1912.3h0M770.6 1877.6h0M778.8 1876.3h0M784.4 1877.6h0M995.1 2093.1h0M945.8 2143.7h0M954.9 2133.3h0M963.3 2126.8h0M1006 2095.1h0M938 2160.7h0M956.8 2145h0M974.7 2129.3h0M984 2121.2h0M1001.1 2104.9h0M953.1 2154.3h0M960.5 2144.9h0M971.6 2136.9h0M980.1 2128.9h0M799.5 2194.7h0" stroke="#a01b9a" stroke-width="5.6" stroke-linecap="round" fill="none"/>
<path d="M698.9 1905.5h0M708.1 1902.1h0M686.5 1919.5h0M763.7 1876.9h0M763.8 1883.6h0M772.6 1883.2h0M778.3 1883.8h0M785.7 1882.7h0M755.6 1969.6h0M756.5 1976.8h0M881 1916h0M889.7 1916.4h0M882 1926.2h0M895.6 1926.3h0M896.9 1933.7h0M979.4 2118.4h0M987.3 2110.3h0M947.5 2151.8h0M965.4 2136.3h0M943.1 2161.3h0M997.2 2114.2h0M933.9 2144.9h0" stroke="#98149f" stroke-width="5.6" stroke-linecap="round" fill="none"/>
<path d="M693.3 1916.4h0M864.9 2033.4h0M888.5 1925.4h0M889.4 1935h0M881.9 1942.4h0M896.6 1943.4h0M918.9 2145.6h0" stroke="#860aa5" stroke-width="5.6" stroke-linecap="round" fill="none"/>
<path d="M701 1912.3h0M710.5 1908.8h0M746 1966.9h0M754 1962.2h0M759.3 1960.5h0M747.4 1972.1h0M762.5 1967.4h0M751.1 1980.3h0M764.2 1974.7h0M757 2012h0M750 2020h0M896.7 1917.4h0M882.5 1933.8h0M888.2 1942.8h0M934.6 2170.5h0M989.4 2121.5h0M918.4 2139h0M925.3 2139.6h0M933.3 2138.5h0M926.5 2145.1h0" stroke="#8f0da4" stroke-width="5.6" stroke-linecap="round" fill="none"/>
<path d="M749.1 1895.7h0M756.3 1894.1h0M783.6 1892.8h0M757.8 1902.1h0M768 1902.9h0M786.1 1899.8h0M912.8 2010.1h0M940.7 2001.5h0M905 2022.9h0M951.4 2006.5h0M908.5 2032.1h0" stroke="#f48c46" stroke-width="5.6" stroke-linecap="round" fill="none"/>
<path d="M765.7 1893.5h0M749 1904h0M769.5 1909.1h0M779.8 1909.3h0M943 1968.6h0M917.2 1987.1h0M932.5 2014.5h0M909.1 2104h0" stroke="#f2844b" stroke-width="5.6" stroke-linecap="round" fill="none"/>
<path d="M774.4 1893.1h0M776 1901.9h0M752.5 1911.4h0M787 1906.9h0M755.2 1918.9h0M782.3 1925.7h0M703 1952.1h0M726.3 1975.3h0M725 1979.5h0M896.4 1982.6h0M907.5 1988.3h0M925.7 1984.6h0M936.5 1981.3h0M902.4 2002.1h0M919.7 1997.4h0M903.8 2011.7h0M930.3 2004.2h0M947.4 1998.2h0M913.4 2019.7h0M941.9 2011.1h0M915.4 2030.1h0M933.7 2023.2h0M881.7 2097.5h0M892 2098.5h0M900.5 2101.5h0M838 2070h0M845 2075h0" stroke="#ea7456" stroke-width="5.6" stroke-linecap="round" fill="none"/>
<path d="M760.6 1910.3h0M781.4 1915.8h0M755.8 1928h0M764.2 1928h0M773.8 1926.2h0M793.2 1924.7h0M716.4 1959.9h0M713.2 1965.9h0M729.9 1984.9h0M735.5 1989h0M906.4 1979h0M914.9 1975.7h0M924.9 1973.3h0M932.9 1970.9h0M898.7 1993.2h0M938 1989.9h0M946.6 1987.2h0M918.4 2106.3h0M879.9 2107.7h0M914.8 2123.8h0" stroke="#e56c5c" stroke-width="5.6" stroke-linecap="round" fill="none"/>
<path d="M762.4 1919.6h0M863.6 1895.4h0M847.5 1899.2h0M855.7 1901.5h0M861.8 1901.9h0M896 2119.6h0M877.5 2124.8h0M895.2 2128.9h0M913.3 2131.7h0M841.6 2231.2h0M869.9 2226.9h0" stroke="#dc5d68" stroke-width="5.6" stroke-linecap="round" fill="none"/>
<path d="M772.4 1917.9h0M846.9 1891h0M710 1954.1h0M720.3 1968.1h0M719 1971.5h0M731.9 1982.6h0M871.3 2104h0M889.7 2109.3h0M898.5 2111.2h0M906.5 2112.7h0M915.6 2114.1h0M886.4 2116.9h0M906 2122.1h0M846 2082h0" stroke="#e16462" stroke-width="5.6" stroke-linecap="round" fill="none"/>
<path d="M789.6 1915.8h0M709 1957.8h0M944.3 1977h0M910.4 1998.4h0M929.6 1993.3h0M922.2 2007.4h0M922.4 2016.7h0M942.8 2021.5h0M873.7 2094.3h0" stroke="#ee7c51" stroke-width="5.6" stroke-linecap="round" fill="none"/>
<path d="M807.5 1885.2h0M834.6 1891.1h0M846.7 1878.3h0M847 1884.3h0M855.4 1887.7h0M945.5 1959.8h0M953.9 1963.6h0M936.2 1965.9h0M945.6 1967.6h0M972.8 1977.3h0M861.2 2204.1h0M878.6 2199.1h0M887.4 2198.8h0M905 2190h0" stroke="#c5407e" stroke-width="5.6" stroke-linecap="round" fill="none"/>
<path d="M816.4 1885.2h0M827.3 1885.6h0M836.5 1885.2h0M861.3 2210.9h0M887.3 2205.1h0M841.3 2225.1h0M851 2222.1h0M870 2217.1h0M877.7 2223.6h0" stroke="#d14e72" stroke-width="5.6" stroke-linecap="round" fill="none"/>
<path d="M808.3 1892.5h0M816.4 1890.6h0M827.1 1891.4h0M861.9 1888.1h0M936.6 1956.6h0M963.3 1965.8h0M962.9 1973.9h0M884.4 2125.8h0M841.6 2208.5h0M851.8 2205.5h0M842.8 2215.8h0M852.4 2214h0M869.5 2209.5h0M879 2208.3h0M879.2 2215.9h0M886.4 2213.2h0M851.3 2228.9h0M861.1 2227.8h0" stroke="#cc4778" stroke-width="5.6" stroke-linecap="round" fill="none"/>
<path d="M832.6 1929.4h0M859.2 1931.2h0" stroke="#f3ee22" stroke-width="5.6" stroke-linecap="round" fill="none"/>
<path d="M841.1 1927.6h0M849.3 1925.5h0M841.1 1935.7h0M832.7 1944.8h0M841.3 1941.8h0" stroke="#f6e323" stroke-width="5.6" stroke-linecap="round" fill="none"/>
<path d="M857.4 1924h0M859.4 1937.8h0M849.9 1947.5h0M832.2 1959.4h0M839.8 1957.6h0" stroke="#fcc429" stroke-width="5.6" stroke-linecap="round" fill="none"/>
<path d="M832.3 1936.4h0M850 1932.6h0M850.7 1941.5h0M857.4 1952h0M831.9 1966.5h0" stroke="#fcba2e" stroke-width="5.6" stroke-linecap="round" fill="none"/>
<path d="M832.3 1951.2h0M857.4 1945.4h0" stroke="#f9d924" stroke-width="5.6" stroke-linecap="round" fill="none"/>
<path d="M841 1950.7h0M841 1963.1h0" stroke="#fcb032" stroke-width="5.6" stroke-linecap="round" fill="none"/>
<path d="M850 1953.8h0M850.3 1961.2h0M858 1959h0" stroke="#fca636" stroke-width="5.6" stroke-linecap="round" fill="none"/>
<path d="M854.6 1879h0M697 1941h0M973.9 1969.3h0M954.9 1970.9h0M997.8 2073.8h0M1025.4 2050.2h0M994.7 2084.2h0M1020.6 2059.6h0M807.5 2227h0M869.2 2202.3h0M895 2182h0" stroke="#be3884" stroke-width="5.6" stroke-linecap="round" fill="none"/>
<path d="M862.1 1882.2h0M991.6 1960.2h0M963 2107.7h0M971.8 2099.7h0M980.3 2090.5h0M1016.9 2058.6h0M985.3 2091.1h0M1004 2076.4h0M964.5 2116.6h0M982.4 2099.8h0M800.8 2202.7h0M801 2209.5h0M807.3 2209.8h0M832.1 2210.8h0M824.1 2219h0M799.5 2226h0M816.3 2226.7h0M832.9 2225.1h0" stroke="#b8318a" stroke-width="5.6" stroke-linecap="round" fill="none"/>
<path d="M856.1 1894h0M869.2 2114.2h0M878.3 2115.8h0M866.8 2122.2h0M903.3 2129.9h0M859.4 2221h0M888.7 2222h0" stroke="#d6566d" stroke-width="5.6" stroke-linecap="round" fill="none"/>
<path d="M755.2 1937.6h0M762 1936.8h0M770.6 1937.6h0M778 1936.9h0M784.3 1937.7h0M983.7 2044.2h0M991.5 2043.5h0M998.4 2043.9h0M982.9 2050h0M991.6 2051h0M998.8 2051.1h0M984.2 2057.9h0M990.5 2057.1h0M997.3 2057.2h0M984 2064.5h0M989.9 2065.7h0M998.3 2064.4h0M983.2 2071.1h0M992 2071.1h0M997.5 2071h0M826 1872h0M886 1922h0" stroke="#5602a2" stroke-width="5.6" stroke-linecap="round" fill="none"/>
<path d="M756.1 1946.2h0M761.9 1945.9h0M770.5 1944.4h0M777.1 1945.6h0M784.8 1944.3h0" stroke="#4b03a0" stroke-width="5.6" stroke-linecap="round" fill="none"/>
<path d="M755.3 1952.9h0M764 1953.2h0M769.1 1952.7h0M776.8 1951.6h0M783.8 1952.4h0M890 2175h0M897 2179h0M818 1870h0" stroke="#41049d" stroke-width="5.6" stroke-linecap="round" fill="none"/>
<path d="M865.3 1987.4h0M877.7 1985.4h0M865.5 1998.2h0M871.1 1995.4h0M878.7 1992.4h0M885.3 1992.5h0M864.7 2007.5h0M872.1 2004.9h0M878.4 2003.5h0M885.7 2000.1h0M865 2014.4h0" stroke="#6a00a8" stroke-width="5.6" stroke-linecap="round" fill="none"/>
<path d="M871.3 1987.6h0M886 1981.9h0" stroke="#6001a5" stroke-width="5.6" stroke-linecap="round" fill="none"/>
<path d="M870.6 2014.1h0M879.6 2012h0M884.3 2008.5h0M865.6 2023.9h0M872.5 2022.6h0M878.7 2019.3h0" stroke="#7303a7" stroke-width="5.6" stroke-linecap="round" fill="none"/>
<path d="M886.1 2019.4h0M870.9 2031.7h0M879.6 2029.2h0M885.2 2027.2h0" stroke="#7c06a6" stroke-width="5.6" stroke-linecap="round" fill="none"/>
<path d="M925.1 2026.3h0M952.8 2017.8h0" stroke="#f79540" stroke-width="5.6" stroke-linecap="round" fill="none"/>
<path d="M882 1913h0M890 1915h0" stroke="#340598" stroke-width="5.6" stroke-linecap="round" fill="none"/>
</g>
<circle cx="818.5" cy="2038.6" r="206.7" fill="none" stroke="#000" stroke-width="2.8"/>
<text x="830.0" y="1796.8" text-anchor="middle" font-size="29">2016-03-11 13:02 - 13:04</text>
<text x="819.9" y="1824.8" text-anchor="middle" font-size="29">12</text>
<text x="819.0" y="2271.3" text-anchor="middle" font-size="29">00</text>
<text x="609.2" y="2048.0" text-anchor="end" font-size="29">18</text>
<text x="1027.3" y="2048.0" font-size="29">06</text>
<text x="565.2" y="1825.0" font-size="29" letter-spacing="3">(j)</text>
<text x="842.7" y="2108.7" font-size="19">80</text>
<text x="871.7" y="2166.0" font-size="19">70</text>
<text x="919.3" y="2231.0" font-size="19">60</text>
<rect x="736.0" y="2002.3" width="12" height="5.6" fill="#000"/>
<path d="M927.8 1995.7h12M933.8 1989.7v12" stroke="#000" stroke-width="5"/>
<circle cx="1309.9" cy="2038.9" r="68.9" fill="none" stroke="#b0b0b0" stroke-width="3"/>
<circle cx="1309.9" cy="2038.9" r="137.8" fill="none" stroke="#b0b0b0" stroke-width="3"/>
<path d="M1103.2 2038.9L1516.6 2038.9M1163.7 1892.7L1456.1 2185.1M1309.9 1832.2L1309.9 2245.6M1456.1 1892.7L1163.7 2185.1" stroke="#b0b0b0" stroke-width="3"/>
<clipPath id="cpk"><circle cx="1309.9" cy="2038.9" r="205.7"/></clipPath><g clip-path="url(#cpk)">
<path d="M1229.6 2004.9 1234.0 2001.9 1236.4 1998.9 1238.4 1995.1 1240.6 1986.9 1240.7 1979.4 1238.6 1973.4 1235.4 1969.5 1230.9 1966.8 1224.9 1966.0 1221.9 1966.6 1218.9 1968.1 1216.2 1970.4 1214.4 1972.8 1212.7 1976.4 1212.0 1979.4 1212.1 1986.9 1214.6 1995.9 1216.1 1998.9 1218.9 2002.4 1223.4 2005.2 1226.4 2005.6 1229.6 2004.9ZM1233.7 2031.9 1239.3 2028.9 1244.4 2024.3 1248.9 2018.4 1252.9 2010.9 1255.5 2003.4 1257.5 1994.4 1258.5 1983.9 1258.1 1976.4 1256.6 1970.4 1254.1 1964.4 1249.9 1958.4 1245.3 1953.9 1239.9 1950.4 1233.9 1948.1 1227.9 1947.1 1221.9 1947.4 1215.9 1949.0 1209.9 1952.2 1204.6 1956.9 1200.2 1962.9 1197.4 1968.9 1195.6 1976.4 1195.2 1983.9 1196.1 1994.4 1198.0 2003.4 1201.1 2012.4 1205.2 2019.9 1209.9 2025.8 1215.9 2030.6 1221.9 2032.9 1227.9 2033.3 1233.7 2031.9ZM1232.9 2060.4 1241.4 2057.3 1250.4 2051.1 1257.9 2043.0 1264.8 2031.9 1269.9 2019.9 1273.6 2006.4 1275.7 1991.4 1275.9 1977.9 1274.2 1967.4 1271.0 1958.4 1265.8 1949.4 1259.4 1941.9 1251.9 1935.9 1242.9 1931.3 1233.9 1928.8 1223.4 1928.2 1212.9 1930.3 1203.9 1934.3 1195.9 1940.4 1188.9 1948.4 1183.3 1958.4 1179.9 1968.9 1178.6 1979.4 1178.8 1991.4 1180.8 2006.4 1184.8 2021.4 1190.4 2034.4 1197.6 2045.4 1205.4 2053.3 1209.9 2056.5 1214.4 2058.8 1218.9 2060.3 1223.4 2061.0 1227.9 2061.1 1232.9 2060.4ZM1227.9 2088.9 1235.4 2087.9 1241.4 2086.1 1247.4 2083.4 1253.4 2079.8 1259.4 2075.0 1264.9 2069.4 1269.9 2063.3 1274.9 2055.9 1279.0 2048.4 1283.0 2039.4 1288.8 2021.4 1292.4 2002.0 1293.6 1980.9 1293.1 1973.4 1291.9 1965.9 1287.9 1952.8 1281.4 1940.4 1272.9 1929.6 1262.4 1920.7 1256.4 1917.0 1250.4 1914.2 1238.4 1910.5 1232.4 1909.6 1224.9 1909.3 1217.4 1909.9 1211.4 1911.2 1205.4 1913.1 1199.4 1915.8 1188.9 1922.7 1184.1 1926.9 1178.7 1932.9 1170.9 1944.7 1165.8 1956.9 1162.7 1970.4 1161.9 1985.4 1163.5 2006.4 1167.5 2025.9 1173.9 2044.4 1178.0 2052.9 1182.4 2060.4 1187.4 2067.4 1191.9 2072.6 1197.9 2078.1 1203.9 2082.4 1209.9 2085.5 1215.9 2087.6 1221.9 2088.7 1227.9 2088.9ZM1235.4 2115.9 1244.4 2113.5 1251.9 2110.3 1259.4 2105.9 1266.9 2100.2 1273.9 2093.4 1280.4 2085.6 1286.4 2076.9 1292.4 2066.3 1297.9 2028.9 1302.5 1989.9 1304.1 1968.9 1304.3 1947.9 1303.8 1944.9 1300.4 1937.4 1292.4 1924.7 1283.4 1914.3 1272.9 1905.5 1260.9 1898.4 1248.9 1893.8 1235.4 1890.9 1221.9 1890.5 1212.9 1891.6 1205.4 1893.4 1197.9 1896.1 1190.1 1899.9 1182.9 1904.5 1175.6 1910.4 1169.4 1916.6 1163.5 1923.9 1158.6 1931.4 1154.4 1939.5 1151.0 1947.9 1148.3 1956.9 1146.4 1965.9 1145.4 1974.9 1145.6 1995.9 1146.9 2009.4 1149.0 2022.9 1151.7 2034.9 1155.2 2046.9 1159.0 2057.4 1163.7 2067.9 1169.4 2078.2 1175.4 2087.1 1181.9 2094.9 1188.9 2101.7 1196.4 2107.4 1203.9 2111.6 1211.4 2114.5 1218.9 2116.2 1226.4 2116.7 1235.4 2115.9ZM1139.3 1931.4 1135.7 1940.4 1132.4 1950.9 1130.2 1961.4 1128.9 1971.9 1128.5 1982.4 1128.9 1995.9 1129.9 2009.4 1131.6 2022.9 1137.0 2048.4 1140.6 2060.4 1145.0 2072.4 1150.3 2084.4 1155.9 2094.9 1161.9 2104.4 1167.9 2112.5 1173.9 2119.4 1181.3 2126.4 1187.4 2131.2 1194.9 2136.0 1202.4 2139.7 1209.9 2142.3 1217.4 2143.9 1224.9 2144.5 1233.9 2144.0 1241.4 2142.7 1250.4 2139.8 1257.9 2136.5 1265.4 2132.1 1272.9 2126.6 1279.8 2120.4 1286.4 2113.4 1292.8 2105.4 1295.7 2100.9 1305.0 2036.4 1310.7 1989.9 1312.9 1965.9 1313.4 1938.9 1312.8 1925.4 1311.9 1921.4 1306.5 1913.4 1300.5 1905.9 1293.9 1899.1 1286.1 1892.4 1278.9 1887.3 1269.9 1882.1 1260.9 1878.1 1251.9 1875.1 1242.9 1873.0 1232.4 1871.7 1223.4 1871.5 1214.4 1872.3 1205.4 1874.0 1196.4 1876.7 1187.7 1880.4 1179.9 1884.6M1112.3 1998.9 1114.7 2024.4 1119.0 2048.4 1125.5 2072.4 1133.4 2093.4 1143.1 2112.9 1154.9 2130.9 1161.0 2138.4 1167.9 2145.8 1174.6 2151.9 1181.4 2157.2 1188.9 2162.0 1196.4 2165.8 1203.9 2168.7 1211.4 2170.7 1218.9 2171.9 1226.4 2172.3 1233.9 2171.9 1241.4 2170.7 1248.9 2168.8 1256.4 2166.1 1263.9 2162.6 1271.9 2157.9 1278.9 2152.9 1286.4 2146.5 1299.7 2132.4 1301.3 2126.4 1321.3 1970.4 1322.6 1952.4 1323.1 1935.9 1322.8 1917.9 1321.9 1904.4 1314.9 1894.9 1305.5 1884.9 1294.8 1875.9 1283.4 1868.3 1271.4 1862.2 1259.4 1857.7 1245.9 1854.4 1232.4 1852.8M1137.9 2143.2 1146.9 2155.7 1155.9 2166.1 1166.1 2175.9 1175.9 2183.4 1187.4 2190.3 1197.9 2195.0 1208.4 2198.1 1220.4 2199.9 1232.4 2199.8 1244.4 2198.1 1256.4 2194.7 1266.9 2190.2 1278.8 2183.4 1289.4 2175.6 1300.5 2165.4 1307.4 2157.9 1308.3 2156.4 1309.8 2130.9 1313.1 2100.9 1331.8 1955.4 1333.7 1922.4 1333.1 1889.4 1328.9 1883.4 1320.9 1874.5 1313.4 1867.4 1305.5 1860.9 1296.9 1854.9 1287.9 1849.5 1278.9 1845.1 1269.8 1841.4M1238.4 2227.0 1248.9 2225.1 1259.4 2222.1 1269.9 2217.8 1280.4 2212.3 1290.9 2205.4 1299.9 2198.2 1309.4 2189.4 1319.0 2178.9 1318.0 2148.9 1319.3 2121.9 1323.4 2082.9 1328.2 2043.9 1340.1 1965.9 1343.0 1943.4 1345.7 1910.4 1346.3 1877.4 1346.1 1875.9 1341.3 1869.9 1328.4 1856.3 1316.4 1846.0 1303.1 1836.9" fill="none" stroke="#6e6e6e" stroke-width="3.2" stroke-dasharray="10.5 5"/>
<path d="M1419.9 2117.6 1416.9 2118.2 1413.9 2117.9 1409.5 2115.9 1405.4 2111.4 1403.5 2106.9 1402.4 2096.4 1403.4 2087.4 1406.4 2080.8 1407.9 2079.3 1410.9 2077.8 1412.4 2077.7 1415.4 2078.7 1419.9 2083.0 1423.3 2088.9 1426.3 2097.9 1427.3 2103.9 1426.5 2109.9 1424.1 2114.4 1419.9 2117.6ZM1421.4 2135.5 1416.9 2135.9 1410.9 2135.0 1404.9 2132.5 1400.4 2129.3 1395.9 2124.6 1392.3 2118.9 1389.8 2112.9 1388.4 2106.9 1387.2 2096.4 1387.0 2085.9 1387.9 2075.4 1389.9 2066.4 1392.9 2058.9 1397.1 2052.9 1401.9 2049.2 1406.4 2047.8 1410.9 2048.1 1416.9 2050.9 1421.4 2054.8 1426.9 2061.9 1431.2 2069.4 1435.1 2078.4 1438.4 2088.9 1440.7 2099.4 1441.2 2105.4 1440.8 2111.4 1439.5 2117.4 1437.0 2123.4 1433.9 2127.9 1430.4 2131.3 1425.9 2134.1 1421.4 2135.5ZM1421.4 2153.4 1412.4 2153.1 1404.9 2151.0 1397.4 2147.3 1389.9 2141.3 1383.9 2134.2 1379.3 2126.4 1375.7 2117.4 1373.5 2106.9 1371.8 2091.9 1371.6 2078.4 1374.9 2057.5 1379.4 2038.8 1382.5 2031.9 1388.4 2024.4 1394.4 2020.0 1400.4 2018.0 1403.4 2017.7 1407.9 2018.2 1412.4 2019.7 1416.9 2022.2 1424.4 2028.5 1432.0 2037.9 1439.4 2050.5 1445.6 2064.9 1450.8 2081.4 1454.3 2097.9 1455.1 2108.4 1454.3 2117.4 1452.1 2126.4 1448.0 2135.4 1442.4 2142.9 1436.4 2148.1 1428.9 2151.8 1421.4 2153.4ZM1428.9 2170.2 1418.4 2171.2 1412.4 2170.7 1406.4 2169.5 1395.9 2165.5 1386.4 2159.4 1376.9 2150.4 1369.4 2139.9 1363.7 2127.9 1360.1 2115.9 1361.1 2094.9 1363.7 2069.4 1367.4 2046.9 1371.9 2027.3 1377.4 2009.4 1383.9 1992.7 1388.4 1990.2 1394.4 1988.2 1398.9 1987.7 1404.9 1988.3 1409.4 1989.6 1415.4 1992.5 1421.4 1996.7 1425.9 2000.7 1431.3 2006.4 1436.4 2013.0 1446.2 2028.9 1454.4 2046.9 1461.6 2067.9 1467.0 2090.4 1468.8 2103.9 1468.6 2117.4 1466.0 2130.9 1461.9 2142.0 1455.9 2152.0 1448.4 2160.2 1439.4 2166.4 1434.9 2168.4 1428.9 2170.2ZM1430.4 2188.0 1418.4 2188.9 1406.4 2187.3 1394.4 2183.4 1383.9 2177.7 1373.4 2169.4 1364.4 2159.6 1356.3 2147.4 1350.7 2135.4 1350.7 2115.9 1353.3 2081.4 1356.9 2052.9 1361.9 2025.9 1365.9 2009.5 1370.4 1994.0 1382.4 1961.0 1383.9 1959.7 1389.9 1958.1 1395.9 1957.7 1403.4 1958.7 1409.4 1960.7 1416.9 1964.7 1424.4 1970.2 1430.4 1975.8 1437.5 1983.9 1443.9 1992.5 1449.9 2002.0 1455.9 2013.0 1461.3 2024.4 1466.4 2037.0 1474.9 2063.4 1481.2 2091.9 1482.8 2108.4 1481.9 2124.9 1478.4 2140.7 1472.5 2154.9 1464.7 2166.9 1459.2 2172.9 1454.4 2177.1 1448.4 2181.2 1442.4 2184.3 1436.4 2186.6 1430.4 2188.0ZM1422.9 2206.5 1410.9 2205.9 1398.9 2203.2 1386.9 2198.4 1376.4 2192.3 1365.9 2184.1 1356.9 2174.9 1348.6 2163.9 1341.7 2151.9 1340.9 2132.4 1341.5 2114.4 1344.8 2076.9 1349.3 2042.4 1353.6 2018.4 1358.4 1996.4 1376.4 1931.1 1377.9 1930.0 1383.9 1928.3 1388.4 1927.7 1394.4 1927.8 1403.4 1929.6 1413.9 1934.1 1424.4 1941.3 1433.4 1949.5 1442.4 1959.7 1451.4 1972.1 1460.4 1987.1 1468.6 2003.4 1476.1 2021.4 1482.5 2039.4 1488.9 2061.9 1493.8 2084.4 1496.1 2099.4 1496.7 2114.4M1398.2 2220.9 1388.4 2217.6 1377.9 2212.6 1368.9 2207.0 1359.9 2200.1 1351.7 2192.4 1343.8 2183.4 1335.9 2172.4 1332.9 2167.4 1332.4 2165.4 1331.1 2144.4 1331.4 2124.9 1334.2 2091.9 1338.1 2057.4 1345.2 2010.9 1358.9 1943.4 1365.9 1902.7 1374.9 1899.3 1385.4 1897.7 1395.9 1898.5 1406.4 1901.7 1416.9 1907.2 1427.4 1914.8 1437.9 1924.7 1446.9 1935.0 1457.3 1949.4 1466.4 1964.2 1475.1 1980.9 1483.1 1998.9 1490.5 2018.4 1497.2 2039.4 1502.8 2060.4 1507.3 2081.4M1375.0 2229.9 1364.7 2223.9 1355.4 2217.2 1345.8 2208.9 1337.3 2199.9 1329.9 2190.7 1323.0 2180.4 1321.7 2168.4 1321.0 2151.9 1321.2 2135.4 1324.4 2097.9 1332.4 2031.9 1343.4 1964.4 1346.6 1941.9 1349.8 1908.9 1350.9 1878.9 1351.7 1877.4 1362.9 1871.6 1373.4 1868.5 1383.9 1867.6 1394.4 1868.9 1404.9 1872.3 1416.9 1878.4 1428.9 1887.1 1439.4 1896.8 1449.9 1908.5 1460.4 1922.5 1470.9 1938.9 1480.0 1955.4 1488.9 1974.1 1497.2 1994.4 1504.7 2015.4 1511.4 2038.0" fill="none" stroke="#6e6e6e" stroke-width="2.8"/>
<ellipse cx="1368.0" cy="1905.0" rx="25.0" ry="55.0" transform="rotate(-15.0 1368.0 1905.0)" fill="none" stroke="#6e6e6e" stroke-width="2.9"/>
<path d="M1401 1854C1420 1880 1440 1910 1478 1918" fill="none" stroke="#6e6e6e" stroke-width="2.8"/>
<path d="M1174.2 1907.1l21.2 -5.6M1189.9 1900.5l22.4 -4.8M1242.5 1896.8l21.9 -4.2M1260.6 1893.5l21.9 -3.4M1350.8 1889.9l5.9 22.2M1451.3 1961.1l-21.1 -9M1461.6 1963l-21.7 -6.4M1478.3 1976.3l-20.1 -9.4M1484.5 2118l17.4 -15M1502.1 2109.4l19.3 -12.5M1455.1 2138.1l17.4 -13.4M1473.3 2130.7l15.1 -16.3M1490.9 2123.1l17.3 -13.9M1425.7 2159l16.3 -16M1443 2152.4l16 -15.9M1462 2142.6l18.3 -14.1M1423.1 2168.4l16.1 -16.6M1441.3 2160.3l18 -12.8M1459 2152.9l18 -12.7M1468.6 2147.9l17.9 -13.5M1421.6 2176.7l18.1 -13.4M1458 2162.4l18.9 -11.9M1466.7 2158.7l17.1 -13.8M1476.8 2152.3l18.7 -11.7M1369.1 2197.4l20 10.8M1396 2189l21.7 -5.8" stroke="#be3884" stroke-width="2.2" fill="none"/>
<path d="M1182.4 1905.4l22.1 -9.7M1199.1 1899.2l21.9 -9.4M1269.7 1893.6l23.5 -.6M1279.5 1893.4l24 -.8M1317.2 1886.3l21.3 10.3M1316.5 1892l22 9.9M1303.6 1899.4l20.8 11M1343.8 1896.9l9.6 21.4M1461.5 1970.8l-23.8 -5.2M1470.8 1974.9l-22.3 -8.8M1477.3 2113l20.4 -13.3M1496.1 2103.8l17.6 -15.9M1440.2 2137.2l19.6 -12.8M1446.9 2133.2l17.2 -16M1474 2120.9l16.6 -17.2M1445.1 2141.9l15.8 -17M1462.9 2134.4l17.2 -16M1499 2119.1l18.7 -15.6M1434.9 2155.6l18.1 -15.4M1471.9 2138.9l17.1 -16.2M1480.7 2136.3l20.2 -13.3M1487.8 2131.5l19.4 -14.8M1451 2155.8l16.9 -15.8M1487.9 2140.8l16.6 -16.5M1333.5 2204.3l21.5 11.1M1341 2203.4l19.4 13.3M1358.6 2199.5l21.7 9.1M1405 2200l22.6 -8.2" stroke="#c5407e" stroke-width="2.2" fill="none"/>
<path d="M1177.5 1915.4l28.7 -10.5M1412.8 1999.1l-13.9 27M1407.6 2032.3l-15.2 26.3M1489.4 2089.4l21.4 -20.3M1373.5 2104.5l-4 29.6M1398.9 2098.3l-5.5 29.4M1402 2107.7l.8 30.2M1386.3 2120.5l.5 29.7M1395.7 2118.1l-1.9 30.6M1338 2082l-24.6 17.2" stroke="#e16462" stroke-width="2.2" fill="none"/>
<path d="M1187.1 1912.2l25.7 -12.4M1195 1908.4l26 -11.9M1356.9 1914l11.2 26.1M1358.6 1920.4l7.8 27.1M1194 1960.8l7.7 -28.3M1397 2035.1l-16.6 24M1438.5 2023.8l-11.4 26.9M1435.2 2114.6l22.6 -18.2M1463.2 2102.3l21.9 -19.2M1509 2082.4l19.8 -21.5M1461.8 2112.6l23.5 -16.3M1506.4 2090.8l19.8 -20.3M1367.1 2122.7l-5.4 27.9M1370.2 2132.9l-.1 28.4M1406.6 2123.9l1.3 28.9M1331.6 2229.3l23.2 17.7M1340.6 2228.1l24.7 15.8" stroke="#dc5d68" stroke-width="2.2" fill="none"/>
<path d="M1201.1 1904.5l25.1 -8.4M1270 1900.5l25.6 -2.9M1302.7 1886.9l25.2 7.4M1310.5 1885.3l24.8 7.4M1309.5 1892.1l23.6 11M1309.6 1899.3l24.2 9.8M1352.9 1905.2l7.2 25.1M1346.9 1914.1l7.1 25.7M1207.5 1964.9l2.7 -26.4M1197.1 1967l2.2 -26M1487.8 1979.5l-24.6 -8.2M1445.2 2111.4l20.8 -15.4M1498.5 2087.3l20.2 -15.9M1434.3 2122.5l19.7 -17.4M1488.9 2098.5l19.7 -17.3M1431.4 2131.3l20.2 -15.9M1441.2 2129.6l18.8 -17.8M1460.1 2119.4l18.8 -18.8M1467 2116.9l19.4 -17.7M1429.5 2141.8l19 -18.4M1333.1 2213.4l22.9 12.6M1350 2207.8l23.7 11.2M1350.2 2226.2l21.8 14.8M1368 2221.2l21.2 15.6M1377.4 2218.5l21.4 15.1" stroke="#d14e72" stroke-width="2.2" fill="none"/>
<path d="M1180.8 1921.1l33 -9M1399.1 1981.7l-14.8 30.2M1417.5 1975.3l-12.9 30.7M1428.1 1972.3l-16.2 29M1400.5 1993.1l-20.4 27M1419.3 1987.4l-18.4 28.9M1422 1995.8l-16 30.2M1413.5 2010.5l-16.4 29.2M1444.6 2000l-16.2 29.4M1406.6 2021.6l-14.1 30.5M1415.9 2020.2l-13.1 30.9M1446.8 2011.4l-14.3 30.8M1364.7 2105.3l.4 33.9M1392 2108l-2.8 33.1" stroke="#ee7c51" stroke-width="2.2" fill="none"/>
<path d="M1188.9 1918.8l31.5 -14.9M1206.1 1913.2l30.7 -15.9M1224 1963l32.9 12M1439.1 1971.6l-18.4 30M1388.9 1995.6l-21 28.5M1409.2 1989.9l-15.5 31.9M1433.1 1992.4l-19.2 29.1" stroke="#f2844b" stroke-width="2.2" fill="none"/>
<path d="M1196.3 1915.3l36.2 -9.7M1275.7 1927.4l36.8 7.1M1236 1985l-3.3 37.4" stroke="#f79540" stroke-width="2.2" fill="none"/>
<path d="M1255.2 1876.7l15.4 -.2M1261.3 1877.2l15.5 -1.9M1277.5 1876.5l14.9 .5M1255.5 1882.8l14.5 -2M1269.8 1883.9l15.4 .6M1255 1888.3l14.7 -.3M1262 1890.2l14.7 -1.1M1270.3 1888.7l15 -1.9M1276.1 1889.7l14.6 -.7M1391.3 1929.2l6.9 -13M1382.9 1937.1l8.8 -12.4M1390.9 1940.5l7.4 -12.6M1383 1946.2l7.4 -12.6M1391.4 1949.6l6.1 -14M1383.2 1955.8l9 -12.2M1391.2 1959.7l5.6 -13.4M1398.5 1962.2l8.8 -11.4M1481.8 2032.5l-6.3 -13.3M1492.2 2034.2l-4.8 -14.1M1500.7 2032.5l-4.8 -13.7M1473.5 2041.8l-5 -14.3M1482.8 2041.8l-5.6 -13.6M1491.6 2040.9l-4.7 -14.6M1473.3 2052.1l-6.1 -13.8M1490.3 2051.6l-6.5 -13.6M1472.4 2059.4l-4.3 -14.9M1482.5 2058.9l-6.2 -13.2M1491.5 2060.5l-6.2 -14M1474.2 2068.4l-4.1 -14.3M1499.6 2067.8l-4.8 -14.2M1483.1 2078.8l-5.2 -13.5M1500 2079l-3.6 -14.6M1501.6 2086.4l-5.2 -14.6" stroke="#8f0da4" stroke-width="2.2" fill="none"/>
<path d="M1270.5 1877.4l16.1 1.2M1382.4 1926l6.3 -14.7M1398.1 1932.4l6.1 -14.8M1499.8 2043l-4.7 -15.1M1482.6 2050.5l-5.6 -15.1M1501 2051l-4 -15.2M1482.1 2069.8l-5.9 -14.5M1474 2077.7l-7.3 -14.1M1472.5 2087l-3.7 -15.4M1491.2 2087.2l-6.3 -14.3" stroke="#98149f" stroke-width="2.2" fill="none"/>
<path d="M1261.4 1883.9l13.9 1.1M1276.5 1882.7l14 -.6M1399.6 1942l7.4 -12.1M1398.8 1953.5l7.4 -11.7M1472.5 2033.6l-3.9 -13.4M1500.8 2059.7l-3.6 -13.9M1491.5 2068l-5.6 -13.2M1492.5 2077l-4.6 -13.3M1481.4 2086.4l-4.8 -13.1" stroke="#860aa5" stroke-width="2.2" fill="none"/>
<path d="M1252.1 1894.9l25.2 .9M1288.5 1891.5l24.9 -5.7M1241.5 1902.2l25.2 -3.1M1251.7 1901.6l25.5 1.3M1260.8 1900.3l25.1 -4.1M1277.5 1898l25 .9M1286.7 1897.1l24.2 -4M1302.2 1894.2l24.3 7.4M1316.1 1900.1l21.9 11.1M1352.1 1895.9l11.7 22.1M1347.1 1905.5l11.1 22M1199.3 1975.3l7.4 -24.4M1469.2 1966l-24.2 -8.3M1478.6 1969.2l-22.6 -10.8M1488.4 1972.9l-23.4 -9.6M1452.4 1967.3l-23.2 -9.2M1471.3 2098.2l18.8 -17M1451.3 2116.6l19.8 -15.5M1480.2 2104.7l19.8 -15.1M1496.2 2095.1l20.2 -14.9M1450.8 2123.8l19.5 -15.4M1484.9 2108l17.1 -18.4M1456.6 2128.8l18.8 -17.3M1465.3 2125.7l20.4 -14M1493.2 2114.6l18.8 -16.3M1427.8 2151.5l17.5 -18.4M1437.1 2146.4l21.4 -14M1480.9 2127.1l21 -13.6M1378.1 2131.1l-1.4 25.3M1351.3 2202.2l22.3 10.5M1378.2 2195.2l22.9 10.9M1340.6 2210.3l21 13.5M1358.4 2207.3l21.8 11.7M1368.2 2206.1l19.9 15.3M1340.9 2219.8l19.9 15M1350.9 2215.9l22.7 9.4" stroke="#cc4778" stroke-width="2.2" fill="none"/>
<path d="M1187.5 1927.2l43.7 -13M1257.5 1913.5l44.5 -7.6M1218.1 1928.8l44.6 -8.4M1260 1920.1l44.3 -8.7M1230.7 1935l43.7 -10.6M1272 1927.4l43.5 -11.6M1212.5 1947.4l42.7 -13.1M1325.2 1922.4l-8.1 44.3M1345.2 1925.4l-6.6 45.1M1349.2 1940.4l-15.5 42.2M1355.5 1963.5l-11.9 43.1M1240 1980l-3.9 44.8" stroke="#fcce25" stroke-width="2.2" fill="none"/>
<path d="M1196.6 1926l48.8 -9.7M1247.4 1914.2l51.6 -10.6M1229.8 1927l50 -11.6M1280.2 1916.6l49.7 -11.7M1316 1926l-10.4 49.9M1341.3 1915.7l-7.1 50.5M1327.6 1931.6l-8 50M1320.7 1942.6l-14.5 47.9M1337.1 1934.7l-14.2 48.3" stroke="#f0f921" stroke-width="2.2" fill="none"/>
<path d="M1207.2 1922.7l43.1 -18M1199.9 1940.4l43.8 -15.4M1221.8 1936.8l44.5 -11.7M1223.1 1945.2l45.2 -10.5M1242.9 1941.1l42.7 -17M1346.5 1933.3l-6.5 45.6M1339.1 1943.4l-15.4 43.5M1333.4 1954.1l-17.4 43.1M1340.6 1952.4l-16.2 43.1M1352.9 1956.3l-11.9 44.3" stroke="#f9d924" stroke-width="2.2" fill="none"/>
<path d="M1216.5 1919.8l45.4 -14.2M1275.9 1909.5l44.7 -17.5M1188 1936.2l45.3 -15.8M1209.9 1931.3l43.7 -18M1238.2 1925.5l47.2 -6.9M1190.2 1943.9l46.8 -6.8M1240.3 1932.7l44.4 -16.2M1251.1 1931.6l46.1 -10.4M1281.1 1925.7l45.4 -12.2M1192 1950.3l46.3 -11.7M1233.9 1943.3l46.5 -11.6M1274 1935.1l46.7 -7.8M1334.4 1919.7l-12.5 45.7M1318.5 1933.3l-14 45.9M1326.4 1964.5l-10.4 47M1335.2 1961.9l-11.3 46.2M1328.1 1972.6l-13.3 45.4M1248 1978l-8.2 46.8" stroke="#f6e323" stroke-width="2.2" fill="none"/>
<path d="M1226.8 1918.8l48.4 -9M1238 1917.2l46.3 -14.9M1267.1 1910.7l45.2 -16.5M1268.9 1919l45.7 -15.4M1260.3 1928.8l45.2 -17.7M1349.9 1949.3l-9.7 47.3" stroke="#f3ee22" stroke-width="2.2" fill="none"/>
<path d="M1197.8 1932.5l42.2 -12.4M1248.4 1923.7l42.5 -11.9M1210.3 1940l42.8 -5.6M1253.2 1940l40 -16.1M1335.8 1927.2l-14.7 41.3M1327.5 1938.3l-15.2 40.5M1322.6 1950.6l-8.3 42.7M1329.9 1947.5l-6.9 43.7M1342.3 1958.7l-13.8 41.6M1346.7 1966.9l-15.9 40.3" stroke="#fcc429" stroke-width="2.2" fill="none"/>
<path d="M1202.5 1949l40.2 -12.9M1263.6 1937.7l42.1 -9.1M1283.4 1933l41.3 -9.1M1268.6 1928.4l42 3.1M1323.7 1957.2l-10.1 41.8M1337.6 1969.5l-11.1 40.4" stroke="#fcba2e" stroke-width="2.2" fill="none"/>
<path d="M1261.6 1929l40.1 8.4M1260.4 1934.7l41.2 7.2M1268 1942.4l40.7 3.7" stroke="#fcb032" stroke-width="2.2" fill="none"/>
<path d="M1269.1 1935.6l38.6 4.8" stroke="#fa9e3b" stroke-width="2.2" fill="none"/>
<path d="M1274 1935.1l40 5.7M1260.8 1942.4l38.3 9.6M1274.1 1941.5l39.5 6.3M1232 1975l-3.5 39.8" stroke="#fca636" stroke-width="2.2" fill="none"/>
<path d="M1341.8 1888.5l5.4 20.3M1452.4 2146.3l14.4 -15.4M1497.9 2127l14.9 -15.9M1432.2 2164.8l15.5 -14.5M1495.6 2136.8l15.7 -13.4M1429.9 2172.8l16 -13.9M1448.2 2165.5l17.3 -13.4M1485.4 2150l15.7 -14.2M1493.7 2145l15.5 -13.7M1290.7 2219.1l-3.5 21.3M1314.2 2217.6l-.4 21.7M1313.8 2227.1l-2.2 20.7M1330.9 2226.9l0 21.6M1385 2195l20.9 -1.8" stroke="#b8318a" stroke-width="2.2" fill="none"/>
<path d="M1348.8 1920.6l13.5 29.1M1440.5 1981.1l-20.3 26.1M1442.8 1991.3l-18.5 27M1424.4 2006.1l-15.3 28.3M1434 2003.7l-13.7 28.8M1396.4 2025.7l-13 29.8M1449 2020.5l-15 28.6M1381.1 2102.6l-4.3 31.8M1375.8 2113.2l-3.1 32.7M1383.2 2109.8l-1.8 32.6M1330 2070l-26.6 18.6M1337 2075l-26.6 18.6" stroke="#ea7456" stroke-width="2.2" fill="none"/>
<path d="M1200.5 1962.5l4.3 -26.7M1202.3 1968.9l5.1 -27.6M1208.5 1973.1l3.3 -27.3M1204 1976l1.7 -26.9M1211.1 1979.6l7.6 -26.9M1454.6 2106.5l21.3 -17.3M1480 2094.4l23.5 -14.8M1442.3 2119.8l22.5 -15.4M1470.1 2106.4l22.8 -15.1M1504.5 2100.3l21.1 -17.5M1405 2115.9l-4.3 27.4M1387.6 2129.2l-1.5 27.5M1396.9 2125.4l-2.2 27.2M1378.2 2203l22.1 15.6M1332.1 2221.2l24.4 12.2M1359.5 2215.8l25.7 11.1M1368.4 2212.3l23.3 14.8M1377.4 2210.9l22.8 16.3M1359.6 2221.9l23.2 15.4" stroke="#d6566d" stroke-width="2.2" fill="none"/>
<path d="M1353.6 1985.4l-2.3 8.3M1360.2 1982.6l-3.2 8M1368.6 1981.1l-3.5 7.9" stroke="#6001a5" stroke-width="2.2" fill="none"/>
<path d="M1373.8 1979.4l-3.4 9.1M1352.7 1993.4l-2.4 10M1359.5 1993.6l-2.7 10M1367.1 1991.5l-3.1 9M1373.3 1988.3l-3.4 9.8M1353.5 2004.3l-3.5 10M1367.3 1998.7l-2.6 9.9M1375.6 1997.4l-2.8 10M1359.4 2010l-3.5 9.9" stroke="#6a00a8" stroke-width="2.2" fill="none"/>
<path d="M1360.8 2000.6l-3.9 10M1354.1 2013.3l-2.7 10.7M1366.6 2009.2l-3.1 11.1M1373.6 2005.7l-3 11.3M1352.5 2020.8l-4.3 10.9M1375.2 2014.9l-3.4 10.6M1374.7 2025.6l-3.3 11" stroke="#7303a7" stroke-width="2.2" fill="none"/>
<path d="M1361.4 2019l-2.7 11.9M1367.3 2017.6l-3.3 12.2M1354.6 2029.6l-3.8 11.3M1360.5 2028.8l-3.5 12.2M1367.9 2025.9l-5.7 10.9" stroke="#7c06a6" stroke-width="2.2" fill="none"/>
<path d="M1388 1984.9l-18.5 25.9M1407.5 1978.5l-18 26M1392.3 2005.6l-15.4 27.9M1401.6 2001.5l-19 25.1M1392.9 2014.8l-18 26M1403.9 2013l-14.8 27.2M1426.2 2015.8l-17.3 26.6M1435.4 2014.7l-11.8 28.4M1417.4 2029.4l-15.5 27.7M1427.1 2025.4l-17.9 26.1M1391.9 2098.5l-5.5 30.5M1366.4 2115.6l-6 30.6M1376.9 2121.5l1.4 31.4" stroke="#e56c5c" stroke-width="2.2" fill="none"/>
<path d="M1429.3 1983.4l-18.2 31.1" stroke="#f48c46" stroke-width="2.2" fill="none"/>
<path d="M1477.2 2144.1l16.7 -11.7M1439.8 2169.9l16.7 -10.5M1290.5 2201.8l-1.3 19.3M1307.1 2201.5l-.1 19.6M1289.4 2210.6l-.3 20.4M1299.2 2210.1l-1.3 20.4M1306.3 2208.9l-2 20.2M1314.6 2210.7l-.5 20.5M1329.3 2210.3l-3.5 19.8M1297.8 2217.5l-.8 19.7M1305.7 2217.9l.6 20.3M1290.2 2226.6l-3.5 19.4M1298.7 2226.2l-4.2 19M1306.6 2227.1l-3.5 19.8M1321.7 2226l.6 20.6" stroke="#b12a90" stroke-width="2.2" fill="none"/>
<path d="M1425 2093l-6 0M1432 2098l-6 0" stroke="#4b03a0" stroke-width="2.2" fill="none"/>
<path d="M1428 2106l-7.4 -1.3M1440 2103l-7 -2.6M1378 1918l6.5 -3.7M1383 1916l6.5 -3.7" stroke="#5602a2" stroke-width="2.2" fill="none"/>
<path d="M1290.5 2192.8l-0 18.4M1297.6 2193.5l-2.1 18.5M1306.4 2192.9l-1.1 18.8M1314.3 2194.2l-2.5 18M1328.8 2201.3l-2.6 18.2M1322.6 2209.7l-3.2 18.7M1322.7 2218.7l-2.7 18.6M1329.5 2218.5l-3.2 18.8" stroke="#a82395" stroke-width="2.2" fill="none"/>
<path d="M1320.9 2194.9l0 17.4M1329.4 2192.9l.1 17.4M1298.3 2202.4l-2 17.6M1313.9 2202.6l-1.5 17.5M1321.7 2201.6l-1.2 18.1" stroke="#a01b9a" stroke-width="2.2" fill="none"/>
<path d="M1383 2173l5 0M1390 2178l5 0" stroke="#41049d" stroke-width="2.2" fill="none"/>
<path d="M1174.2 1907.1h0M1189.9 1900.5h0M1242.5 1896.8h0M1260.6 1893.5h0M1350.8 1889.9h0M1451.3 1961.1h0M1461.6 1963h0M1478.3 1976.3h0M1484.5 2118h0M1502.1 2109.4h0M1455.1 2138.1h0M1473.3 2130.7h0M1490.9 2123.1h0M1425.7 2159h0M1443 2152.4h0M1462 2142.6h0M1423.1 2168.4h0M1441.3 2160.3h0M1459 2152.9h0M1468.6 2147.9h0M1421.6 2176.7h0M1458 2162.4h0M1466.7 2158.7h0M1476.8 2152.3h0M1369.1 2197.4h0M1396 2189h0" stroke="#be3884" stroke-width="5.6" stroke-linecap="round" fill="none"/>
<path d="M1182.4 1905.4h0M1199.1 1899.2h0M1269.7 1893.6h0M1279.5 1893.4h0M1317.2 1886.3h0M1316.5 1892h0M1303.6 1899.4h0M1343.8 1896.9h0M1461.5 1970.8h0M1470.8 1974.9h0M1477.3 2113h0M1496.1 2103.8h0M1440.2 2137.2h0M1446.9 2133.2h0M1474 2120.9h0M1445.1 2141.9h0M1462.9 2134.4h0M1499 2119.1h0M1434.9 2155.6h0M1471.9 2138.9h0M1480.7 2136.3h0M1487.8 2131.5h0M1451 2155.8h0M1487.9 2140.8h0M1333.5 2204.3h0M1341 2203.4h0M1358.6 2199.5h0M1405 2200h0" stroke="#c5407e" stroke-width="5.6" stroke-linecap="round" fill="none"/>
<path d="M1177.5 1915.4h0M1412.8 1999.1h0M1407.6 2032.3h0M1489.4 2089.4h0M1373.5 2104.5h0M1398.9 2098.3h0M1402 2107.7h0M1386.3 2120.5h0M1395.7 2118.1h0M1338 2082h0" stroke="#e16462" stroke-width="5.6" stroke-linecap="round" fill="none"/>
<path d="M1187.1 1912.2h0M1195 1908.4h0M1356.9 1914h0M1358.6 1920.4h0M1194 1960.8h0M1397 2035.1h0M1438.5 2023.8h0M1435.2 2114.6h0M1463.2 2102.3h0M1509 2082.4h0M1461.8 2112.6h0M1506.4 2090.8h0M1367.1 2122.7h0M1370.2 2132.9h0M1406.6 2123.9h0M1331.6 2229.3h0M1340.6 2228.1h0" stroke="#dc5d68" stroke-width="5.6" stroke-linecap="round" fill="none"/>
<path d="M1201.1 1904.5h0M1270 1900.5h0M1302.7 1886.9h0M1310.5 1885.3h0M1309.5 1892.1h0M1309.6 1899.3h0M1352.9 1905.2h0M1346.9 1914.1h0M1207.5 1964.9h0M1197.1 1967h0M1487.8 1979.5h0M1445.2 2111.4h0M1498.5 2087.3h0M1434.3 2122.5h0M1488.9 2098.5h0M1431.4 2131.3h0M1441.2 2129.6h0M1460.1 2119.4h0M1467 2116.9h0M1429.5 2141.8h0M1333.1 2213.4h0M1350 2207.8h0M1350.2 2226.2h0M1368 2221.2h0M1377.4 2218.5h0" stroke="#d14e72" stroke-width="5.6" stroke-linecap="round" fill="none"/>
<path d="M1180.8 1921.1h0M1399.1 1981.7h0M1417.5 1975.3h0M1428.1 1972.3h0M1400.5 1993.1h0M1419.3 1987.4h0M1422 1995.8h0M1413.5 2010.5h0M1444.6 2000h0M1406.6 2021.6h0M1415.9 2020.2h0M1446.8 2011.4h0M1364.7 2105.3h0M1392 2108h0" stroke="#ee7c51" stroke-width="5.6" stroke-linecap="round" fill="none"/>
<path d="M1188.9 1918.8h0M1206.1 1913.2h0M1224 1963h0M1439.1 1971.6h0M1388.9 1995.6h0M1409.2 1989.9h0M1433.1 1992.4h0" stroke="#f2844b" stroke-width="5.6" stroke-linecap="round" fill="none"/>
<path d="M1196.3 1915.3h0M1275.7 1927.4h0M1236 1985h0" stroke="#f79540" stroke-width="5.6" stroke-linecap="round" fill="none"/>
<path d="M1255.2 1876.7h0M1261.3 1877.2h0M1277.5 1876.5h0M1255.5 1882.8h0M1269.8 1883.9h0M1255 1888.3h0M1262 1890.2h0M1270.3 1888.7h0M1276.1 1889.7h0M1391.3 1929.2h0M1382.9 1937.1h0M1390.9 1940.5h0M1383 1946.2h0M1391.4 1949.6h0M1383.2 1955.8h0M1391.2 1959.7h0M1398.5 1962.2h0M1481.8 2032.5h0M1492.2 2034.2h0M1500.7 2032.5h0M1473.5 2041.8h0M1482.8 2041.8h0M1491.6 2040.9h0M1473.3 2052.1h0M1490.3 2051.6h0M1472.4 2059.4h0M1482.5 2058.9h0M1491.5 2060.5h0M1474.2 2068.4h0M1499.6 2067.8h0M1483.1 2078.8h0M1500 2079h0M1501.6 2086.4h0" stroke="#8f0da4" stroke-width="5.6" stroke-linecap="round" fill="none"/>
<path d="M1270.5 1877.4h0M1382.4 1926h0M1398.1 1932.4h0M1499.8 2043h0M1482.6 2050.5h0M1501 2051h0M1482.1 2069.8h0M1474 2077.7h0M1472.5 2087h0M1491.2 2087.2h0" stroke="#98149f" stroke-width="5.6" stroke-linecap="round" fill="none"/>
<path d="M1261.4 1883.9h0M1276.5 1882.7h0M1399.6 1942h0M1398.8 1953.5h0M1472.5 2033.6h0M1500.8 2059.7h0M1491.5 2068h0M1492.5 2077h0M1481.4 2086.4h0" stroke="#860aa5" stroke-width="5.6" stroke-linecap="round" fill="none"/>
<path d="M1252.1 1894.9h0M1288.5 1891.5h0M1241.5 1902.2h0M1251.7 1901.6h0M1260.8 1900.3h0M1277.5 1898h0M1286.7 1897.1h0M1302.2 1894.2h0M1316.1 1900.1h0M1352.1 1895.9h0M1347.1 1905.5h0M1199.3 1975.3h0M1469.2 1966h0M1478.6 1969.2h0M1488.4 1972.9h0M1452.4 1967.3h0M1471.3 2098.2h0M1451.3 2116.6h0M1480.2 2104.7h0M1496.2 2095.1h0M1450.8 2123.8h0M1484.9 2108h0M1456.6 2128.8h0M1465.3 2125.7h0M1493.2 2114.6h0M1427.8 2151.5h0M1437.1 2146.4h0M1480.9 2127.1h0M1378.1 2131.1h0M1351.3 2202.2h0M1378.2 2195.2h0M1340.6 2210.3h0M1358.4 2207.3h0M1368.2 2206.1h0M1340.9 2219.8h0M1350.9 2215.9h0" stroke="#cc4778" stroke-width="5.6" stroke-linecap="round" fill="none"/>
<path d="M1187.5 1927.2h0M1257.5 1913.5h0M1218.1 1928.8h0M1260 1920.1h0M1230.7 1935h0M1272 1927.4h0M1212.5 1947.4h0M1325.2 1922.4h0M1345.2 1925.4h0M1349.2 1940.4h0M1355.5 1963.5h0M1240 1980h0" stroke="#fcce25" stroke-width="5.6" stroke-linecap="round" fill="none"/>
<path d="M1196.6 1926h0M1247.4 1914.2h0M1229.8 1927h0M1280.2 1916.6h0M1316 1926h0M1341.3 1915.7h0M1327.6 1931.6h0M1320.7 1942.6h0M1337.1 1934.7h0" stroke="#f0f921" stroke-width="5.6" stroke-linecap="round" fill="none"/>
<path d="M1207.2 1922.7h0M1199.9 1940.4h0M1221.8 1936.8h0M1223.1 1945.2h0M1242.9 1941.1h0M1346.5 1933.3h0M1339.1 1943.4h0M1333.4 1954.1h0M1340.6 1952.4h0M1352.9 1956.3h0" stroke="#f9d924" stroke-width="5.6" stroke-linecap="round" fill="none"/>
<path d="M1216.5 1919.8h0M1275.9 1909.5h0M1188 1936.2h0M1209.9 1931.3h0M1238.2 1925.5h0M1190.2 1943.9h0M1240.3 1932.7h0M1251.1 1931.6h0M1281.1 1925.7h0M1192 1950.3h0M1233.9 1943.3h0M1274 1935.1h0M1334.4 1919.7h0M1318.5 1933.3h0M1326.4 1964.5h0M1335.2 1961.9h0M1328.1 1972.6h0M1248 1978h0" stroke="#f6e323" stroke-width="5.6" stroke-linecap="round" fill="none"/>
<path d="M1226.8 1918.8h0M1238 1917.2h0M1267.1 1910.7h0M1268.9 1919h0M1260.3 1928.8h0M1349.9 1949.3h0" stroke="#f3ee22" stroke-width="5.6" stroke-linecap="round" fill="none"/>
<path d="M1197.8 1932.5h0M1248.4 1923.7h0M1210.3 1940h0M1253.2 1940h0M1335.8 1927.2h0M1327.5 1938.3h0M1322.6 1950.6h0M1329.9 1947.5h0M1342.3 1958.7h0M1346.7 1966.9h0" stroke="#fcc429" stroke-width="5.6" stroke-linecap="round" fill="none"/>
<path d="M1202.5 1949h0M1263.6 1937.7h0M1283.4 1933h0M1268.6 1928.4h0M1323.7 1957.2h0M1337.6 1969.5h0" stroke="#fcba2e" stroke-width="5.6" stroke-linecap="round" fill="none"/>
<path d="M1261.6 1929h0M1260.4 1934.7h0M1268 1942.4h0" stroke="#fcb032" stroke-width="5.6" stroke-linecap="round" fill="none"/>
<path d="M1269.1 1935.6h0" stroke="#fa9e3b" stroke-width="5.6" stroke-linecap="round" fill="none"/>
<path d="M1274 1935.1h0M1260.8 1942.4h0M1274.1 1941.5h0M1232 1975h0" stroke="#fca636" stroke-width="5.6" stroke-linecap="round" fill="none"/>
<path d="M1341.8 1888.5h0M1452.4 2146.3h0M1497.9 2127h0M1432.2 2164.8h0M1495.6 2136.8h0M1429.9 2172.8h0M1448.2 2165.5h0M1485.4 2150h0M1493.7 2145h0M1290.7 2219.1h0M1314.2 2217.6h0M1313.8 2227.1h0M1330.9 2226.9h0M1385 2195h0" stroke="#b8318a" stroke-width="5.6" stroke-linecap="round" fill="none"/>
<path d="M1348.8 1920.6h0M1440.5 1981.1h0M1442.8 1991.3h0M1424.4 2006.1h0M1434 2003.7h0M1396.4 2025.7h0M1449 2020.5h0M1381.1 2102.6h0M1375.8 2113.2h0M1383.2 2109.8h0M1330 2070h0M1337 2075h0" stroke="#ea7456" stroke-width="5.6" stroke-linecap="round" fill="none"/>
<path d="M1200.5 1962.5h0M1202.3 1968.9h0M1208.5 1973.1h0M1204 1976h0M1211.1 1979.6h0M1454.6 2106.5h0M1480 2094.4h0M1442.3 2119.8h0M1470.1 2106.4h0M1504.5 2100.3h0M1405 2115.9h0M1387.6 2129.2h0M1396.9 2125.4h0M1378.2 2203h0M1332.1 2221.2h0M1359.5 2215.8h0M1368.4 2212.3h0M1377.4 2210.9h0M1359.6 2221.9h0" stroke="#d6566d" stroke-width="5.6" stroke-linecap="round" fill="none"/>
<path d="M1353.6 1985.4h0M1360.2 1982.6h0M1368.6 1981.1h0" stroke="#6001a5" stroke-width="5.6" stroke-linecap="round" fill="none"/>
<path d="M1373.8 1979.4h0M1352.7 1993.4h0M1359.5 1993.6h0M1367.1 1991.5h0M1373.3 1988.3h0M1353.5 2004.3h0M1367.3 1998.7h0M1375.6 1997.4h0M1359.4 2010h0" stroke="#6a00a8" stroke-width="5.6" stroke-linecap="round" fill="none"/>
<path d="M1360.8 2000.6h0M1354.1 2013.3h0M1366.6 2009.2h0M1373.6 2005.7h0M1352.5 2020.8h0M1375.2 2014.9h0M1374.7 2025.6h0" stroke="#7303a7" stroke-width="5.6" stroke-linecap="round" fill="none"/>
<path d="M1361.4 2019h0M1367.3 2017.6h0M1354.6 2029.6h0M1360.5 2028.8h0M1367.9 2025.9h0" stroke="#7c06a6" stroke-width="5.6" stroke-linecap="round" fill="none"/>
<path d="M1388 1984.9h0M1407.5 1978.5h0M1392.3 2005.6h0M1401.6 2001.5h0M1392.9 2014.8h0M1403.9 2013h0M1426.2 2015.8h0M1435.4 2014.7h0M1417.4 2029.4h0M1427.1 2025.4h0M1391.9 2098.5h0M1366.4 2115.6h0M1376.9 2121.5h0" stroke="#e56c5c" stroke-width="5.6" stroke-linecap="round" fill="none"/>
<path d="M1429.3 1983.4h0" stroke="#f48c46" stroke-width="5.6" stroke-linecap="round" fill="none"/>
<path d="M1477.2 2144.1h0M1439.8 2169.9h0M1290.5 2201.8h0M1307.1 2201.5h0M1289.4 2210.6h0M1299.2 2210.1h0M1306.3 2208.9h0M1314.6 2210.7h0M1329.3 2210.3h0M1297.8 2217.5h0M1305.7 2217.9h0M1290.2 2226.6h0M1298.7 2226.2h0M1306.6 2227.1h0M1321.7 2226h0" stroke="#b12a90" stroke-width="5.6" stroke-linecap="round" fill="none"/>
<path d="M1425 2093h0M1432 2098h0" stroke="#4b03a0" stroke-width="5.6" stroke-linecap="round" fill="none"/>
<path d="M1428 2106h0M1440 2103h0M1378 1918h0M1383 1916h0" stroke="#5602a2" stroke-width="5.6" stroke-linecap="round" fill="none"/>
<path d="M1290.5 2192.8h0M1297.6 2193.5h0M1306.4 2192.9h0M1314.3 2194.2h0M1328.8 2201.3h0M1322.6 2209.7h0M1322.7 2218.7h0M1329.5 2218.5h0" stroke="#a82395" stroke-width="5.6" stroke-linecap="round" fill="none"/>
<path d="M1320.9 2194.9h0M1329.4 2192.9h0M1298.3 2202.4h0M1313.9 2202.6h0M1321.7 2201.6h0" stroke="#a01b9a" stroke-width="5.6" stroke-linecap="round" fill="none"/>
<path d="M1383 2173h0M1390 2178h0" stroke="#41049d" stroke-width="5.6" stroke-linecap="round" fill="none"/>
</g>
<circle cx="1309.9" cy="2038.9" r="206.7" fill="none" stroke="#000" stroke-width="2.8"/>
<text x="1315.3" y="1796.8" text-anchor="middle" font-size="29">2016-03-11 13:04 - 13:06</text>
<text x="1306.2" y="1824.8" text-anchor="middle" font-size="29">12</text>
<text x="1305.3" y="2271.6" text-anchor="middle" font-size="29">00</text>
<text x="1100.8" y="2048.0" text-anchor="end" font-size="29">18</text>
<text x="1520.0" y="2048.0" font-size="29">06</text>
<text x="1085.2" y="1825.0" font-size="29" letter-spacing="3">(k)</text>
<text x="1328.3" y="2112.0" font-size="19">80</text>
<text x="1356.7" y="2169.3" font-size="19">70</text>
<text x="1405.0" y="2234.3" font-size="19">60</text>
<rect x="1216.0" y="1979.7" width="12" height="5.6" fill="#000"/>
<path d="M1409.5 2103.2h12M1415.5 2097.2v12" stroke="#000" stroke-width="5"/>
<defs><linearGradient id="plasma" x1="0" y1="1" x2="0" y2="0"><stop offset="0.000" stop-color="#0d0887"/><stop offset="0.111" stop-color="#46039f"/><stop offset="0.222" stop-color="#7201a8"/><stop offset="0.333" stop-color="#9c179e"/><stop offset="0.444" stop-color="#bd3786"/><stop offset="0.556" stop-color="#d8576b"/><stop offset="0.667" stop-color="#ed7953"/><stop offset="0.778" stop-color="#fb9f3a"/><stop offset="0.889" stop-color="#fdca26"/><stop offset="1.000" stop-color="#f0f921"/></linearGradient></defs>
<rect x="1579.8" y="1397.6" width="40.9" height="777.8" fill="url(#plasma)"/>
<path d="M1579.8 1397.6L1600.3 1358.1L1620.7 1397.6Z" fill="#f0f921"/>
<path d="M1579.8 1397.6L1600.3 1358.1L1620.7 1397.6V2175.4H1579.8Z" fill="none" stroke="#000" stroke-width="3" stroke-linejoin="miter"/>
<path d="M1620.7 2175.4h11M1620.7 1981.0h11M1620.7 1786.5h11M1620.7 1592.1h11M1620.7 1397.6h11" stroke="#000" stroke-width="3"/>
<text x="1647.5" y="2182.5" font-size="29">0</text>
<text x="1647.5" y="1989.2" font-size="29">250</text>
<text x="1647.5" y="1796.0" font-size="29">500</text>
<text x="1647.5" y="1602.8" font-size="29">750</text>
<text x="1647.5" y="1409.5" font-size="29">1000</text>
<text transform="translate(1736.6 1806) rotate(-90)" text-anchor="middle" font-size="29">Velocity m/s</text>
</svg></body></html>
